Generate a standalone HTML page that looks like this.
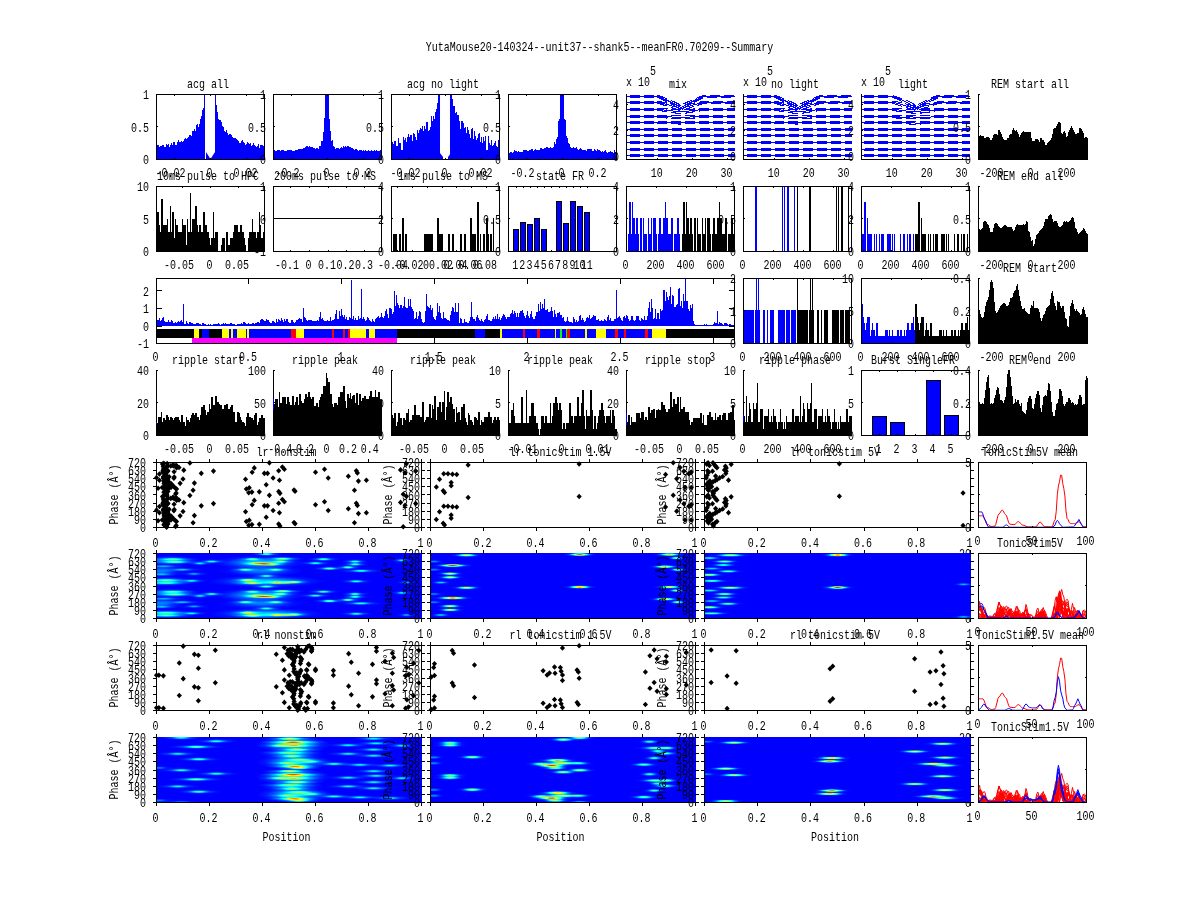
<!DOCTYPE html>
<html><head><meta charset="utf-8"><title>Summary</title>
<style>
html,body{margin:0;padding:0;background:#fff;}
body{width:1200px;height:900px;overflow:hidden;}
svg{display:block;will-change:transform;}
text{font-family:"Liberation Mono",monospace;font-size:10px;fill:#000;}
</style></head><body>
<svg width="1200" height="900" viewBox="0 0 1200 900">
<rect x="0" y="0" width="1200" height="900" fill="#fff"/>
<defs>
<radialGradient id="gb"><stop offset="0" stop-color="#fff" stop-opacity="1"/><stop offset=".25" stop-color="#fff" stop-opacity=".8"/>
<stop offset=".5" stop-color="#fff" stop-opacity=".4"/><stop offset=".75" stop-color="#fff" stop-opacity=".11"/><stop offset="1" stop-color="#fff" stop-opacity="0"/></radialGradient>
<filter id="jet" x="0" y="0" width="1" height="1" color-interpolation-filters="sRGB"><feComponentTransfer>
<feFuncR type="table" tableValues="0 0 0 .5 1 1 1 .5"/><feFuncG type="table" tableValues="0 .5 1 1 1 .5 0 0"/><feFuncB type="table" tableValues="1 1 1 .5 0 0 0 0"/>
</feComponentTransfer></filter>
</defs>
<clipPath id="c1"><rect x="156" y="553" width="266" height="66"/></clipPath>
<clipPath id="c2"><rect x="430" y="553" width="266" height="66"/></clipPath>
<clipPath id="c3"><rect x="704" y="553" width="267" height="66"/></clipPath>
<clipPath id="c4"><rect x="156" y="737" width="266" height="66"/></clipPath>
<clipPath id="c5"><rect x="430" y="737" width="266" height="66"/></clipPath>
<clipPath id="c6"><rect x="704" y="737" width="267" height="66"/></clipPath>
<clipPath id="lc5"><rect x="900" y="541" width="80" height="12"/><rect x="900" y="619" width="80" height="12"/><rect x="971" y="543" width="9" height="90"/></clipPath>
<clipPath id="lc7"><rect x="900" y="725" width="80" height="12"/><rect x="900" y="803" width="80" height="12"/><rect x="971" y="727" width="9" height="90"/></clipPath>
<text transform="translate(599.5 50.5) scale(1 1.2)" text-anchor="middle">YutaMouse20-140324--unit37--shank5--meanFR0.70209--Summary</text>
<path d="M156 159L156 147.94L157 147.94L157 145.1L158 145.1L158 145.31L159 145.31L159 147.17L160 147.17L160 146.12L161 146.12L161 146.17L162 146.17L162 145.24L163 145.24L163 144.56L164 144.56L164 147.14L165 147.14L165 147.24L166 147.24L166 143.86L167 143.86L167 145.27L168 145.27L168 143.74L169 143.74L169 146.59L170 146.59L170 144.57L171 144.57L171 143.19L172 143.19L172 144.95L173 144.95L173 141.71L174 141.71L174 141.57L175 141.57L175 144.9L176 144.9L176 144.59L177 144.59L177 142.03L178 142.03L178 139.91L179 139.91L179 141.91L180 141.91L180 142.18L181 142.18L181 140.8L182 140.8L182 142.06L183 142.06L183 140.65L184 140.65L184 139.08L185 139.08L185 138.18L186 138.18L186 138.75L187 138.75L187 138.06L188 138.06L188 137.37L189 137.37L189 135.37L190 135.37L190 135.35L191 135.35L191 135.82L192 135.82L192 130.56L193 130.56L193 130.95L194 130.95L194 129.31L195 129.31L195 130.61L196 130.61L196 124.66L197 124.66L197 123.9L198 123.9L198 126.68L199 126.68L199 123.56L200 123.56L200 118.85L201 118.85L201 116.02L202 116.02L202 110.42L203 110.42L203 108.25L204 108.25L204 94L205 94L205 159L206 159L206 159L207 159L207 159L208 159L208 159L209 159L209 159L210 159L210 159L211 159L211 159L212 159L212 159L213 159L213 159L214 159L214 159L215 159L215 94L216 94L216 105.1L217 105.1L217 112.32L218 112.32L218 118.78L219 118.78L219 119.72L220 119.72L220 120.13L221 120.13L221 122.29L222 122.29L222 125.99L223 125.99L223 126.98L224 126.98L224 131.46L225 131.46L225 131.51L226 131.51L226 129.66L227 129.66L227 132.79L228 132.79L228 135.03L229 135.03L229 134.04L230 134.04L230 134.16L231 134.16L231 135.14L232 135.14L232 137.37L233 137.37L233 137.78L234 137.78L234 138.12L235 138.12L235 137.51L236 137.51L236 139.29L237 139.29L237 140.42L238 140.42L238 140.5L239 140.5L239 143.01L240 143.01L240 143.38L241 143.38L241 140.93L242 140.93L242 140.14L243 140.14L243 142.18L244 142.18L244 143.37L245 143.37L245 144.62L246 144.62L246 143.54L247 143.54L247 141.85L248 141.85L248 142.99L249 142.99L249 144.19L250 144.19L250 143.12L251 143.12L251 145.88L252 145.88L252 144.95L253 144.95L253 143.39L254 143.39L254 145.06L255 145.06L255 145.7L256 145.7L256 146.6L257 146.6L257 145.65L258 145.65L258 144.19L259 144.19L259 148.02L260 148.02L260 145.12L261 145.12L261 145.09L262 145.09L262 144.95L263 144.95L263 145.61L264 145.61L264 159Z" fill="#0000ff" stroke="none" stroke-width="1" shape-rendering="crispEdges"/>
<path d="M206 152 L210.5 159 L206 159Z" fill="#0000ff" stroke="none" stroke-width="1"/>
<path d="M215 152 L210.5 159 L215 159Z" fill="#0000ff" stroke="none" stroke-width="1"/>
<rect x="156" y="94" width="1" height="66" fill="#000"/>
<rect x="156" y="159" width="109" height="1" fill="#000"/>
<rect x="156" y="94" width="109" height="1" fill="#000"/>
<rect x="264" y="94" width="1" height="66" fill="#000"/>
<rect x="174" y="158" width="1" height="2" fill="#000"/>
<rect x="174" y="94" width="1" height="2" fill="#000"/>
<rect x="210" y="158" width="1" height="2" fill="#000"/>
<rect x="210" y="94" width="1" height="2" fill="#000"/>
<rect x="246" y="158" width="1" height="2" fill="#000"/>
<rect x="246" y="94" width="1" height="2" fill="#000"/>
<rect x="156" y="94" width="2" height="1" fill="#000"/>
<rect x="263" y="94" width="2" height="1" fill="#000"/>
<rect x="156" y="126" width="2" height="1" fill="#000"/>
<rect x="263" y="126" width="2" height="1" fill="#000"/>
<rect x="156" y="159" width="2" height="1" fill="#000"/>
<rect x="263" y="159" width="2" height="1" fill="#000"/>
<text transform="translate(208 88) scale(1 1.2)" text-anchor="middle">acg all</text>
<text transform="translate(149 99) scale(1 1.2)" text-anchor="end">1</text>
<text transform="translate(149 131.5) scale(1 1.2)" text-anchor="end">0.5</text>
<text transform="translate(149 164) scale(1 1.2)" text-anchor="end">0</text>
<text transform="translate(170.5 177) scale(1 1.2)" text-anchor="middle">-0.02</text>
<text transform="translate(209.5 177) scale(1 1.2)" text-anchor="middle">0</text>
<text transform="translate(245.5 177) scale(1 1.2)" text-anchor="middle">0.02</text>
<path d="M273 159L273 149.96L274 149.96L274 149.96L275 149.96L275 151.34L276 151.34L276 151.28L277 151.28L277 150.1L278 150.1L278 150.24L279 150.24L279 150.33L280 150.33L280 150.88L281 150.88L281 150.4L282 150.4L282 150.39L283 150.39L283 150.41L284 150.41L284 151.05L285 151.05L285 150.61L286 150.61L286 150.65L287 150.65L287 150.11L288 150.11L288 149.66L289 149.66L289 149.71L290 149.71L290 150.31L291 150.31L291 150.43L292 150.43L292 150.66L293 150.66L293 150.96L294 150.96L294 150.89L295 150.89L295 150.09L296 150.09L296 150.17L297 150.17L297 149.86L298 149.86L298 148.8L299 148.8L299 149.05L300 149.05L300 148.62L301 148.62L301 148.7L302 148.7L302 148.59L303 148.59L303 147.7L304 147.7L304 147.61L305 147.61L305 146.74L306 146.74L306 145.79L307 145.79L307 146.24L308 146.24L308 147.08L309 147.08L309 146.16L310 146.16L310 146.57L311 146.57L311 146.99L312 146.99L312 147.04L313 147.04L313 147.57L314 147.57L314 147.8L315 147.8L315 148.68L316 148.68L316 147.85L317 147.85L317 147.96L318 147.96L318 149.23L319 149.23L319 146.25L320 146.25L320 146.31L321 146.31L321 140.86L322 140.86L322 140.75L323 140.75L323 131.72L324 131.72L324 118.04L325 118.04L325 94L326 94L326 94L327 94L327 94L328 94L328 94L329 94L329 118.7L330 118.7L330 131.18L331 131.18L331 141.03L332 141.03L332 140.2L333 140.2L333 146.03L334 146.03L334 146.71L335 146.71L335 148.6L336 148.6L336 148.02L337 148.02L337 148.25L338 148.25L338 148.47L339 148.47L339 148.68L340 148.68L340 148.26L341 148.26L341 147.37L342 147.37L342 147.87L343 147.87L343 146.4L344 146.4L344 147.13L345 147.13L345 145.95L346 145.95L346 146.81L347 146.81L347 145.86L348 145.86L348 146.43L349 146.43L349 147.04L350 147.04L350 147.4L351 147.4L351 147.61L352 147.61L352 148.15L353 148.15L353 149L354 149L354 149.55L355 149.55L355 149.4L356 149.4L356 149L357 149L357 149.69L358 149.69L358 150.7L359 150.7L359 149.65L360 149.65L360 149.89L361 149.89L361 149.66L362 149.66L362 150.83L363 150.83L363 150L364 150L364 151.1L365 151.1L365 150.2L366 150.2L366 150.81L367 150.81L367 150.91L368 150.91L368 149.91L369 149.91L369 151.13L370 151.13L370 150.5L371 150.5L371 150L372 150L372 150.97L373 150.97L373 151.03L374 151.03L374 150L375 150L375 150.73L376 150.73L376 150.29L377 150.29L377 151.37L378 151.37L378 150.86L379 150.86L379 151.17L380 151.17L380 150.4L381 150.4L381 159Z" fill="#0000ff" stroke="none" stroke-width="1" shape-rendering="crispEdges"/>
<rect x="273" y="94" width="1" height="66" fill="#000"/>
<rect x="273" y="159" width="109" height="1" fill="#000"/>
<rect x="273" y="94" width="109" height="1" fill="#000"/>
<rect x="381" y="94" width="1" height="66" fill="#000"/>
<rect x="291" y="158" width="1" height="2" fill="#000"/>
<rect x="291" y="94" width="1" height="2" fill="#000"/>
<rect x="327" y="158" width="1" height="2" fill="#000"/>
<rect x="327" y="94" width="1" height="2" fill="#000"/>
<rect x="363" y="158" width="1" height="2" fill="#000"/>
<rect x="363" y="94" width="1" height="2" fill="#000"/>
<rect x="273" y="94" width="2" height="1" fill="#000"/>
<rect x="380" y="94" width="2" height="1" fill="#000"/>
<rect x="273" y="126" width="2" height="1" fill="#000"/>
<rect x="380" y="126" width="2" height="1" fill="#000"/>
<rect x="273" y="159" width="2" height="1" fill="#000"/>
<rect x="380" y="159" width="2" height="1" fill="#000"/>
<text transform="translate(266 99) scale(1 1.2)" text-anchor="end">1</text>
<text transform="translate(266 131.5) scale(1 1.2)" text-anchor="end">0.5</text>
<text transform="translate(266 164) scale(1 1.2)" text-anchor="end">0</text>
<text transform="translate(287.5 177) scale(1 1.2)" text-anchor="middle">-0.2</text>
<text transform="translate(326.5 177) scale(1 1.2)" text-anchor="middle">0</text>
<text transform="translate(362.5 177) scale(1 1.2)" text-anchor="middle">0.2</text>
<path d="M391 159L391 145.53L392 145.53L392 142.49L393 142.49L393 143.88L394 143.88L394 141.45L395 141.45L395 140.99L396 140.99L396 146.04L397 146.04L397 146.3L398 146.3L398 138.14L399 138.14L399 143.42L400 143.42L400 143.38L401 143.38L401 149.9L402 149.9L402 149.9L403 149.9L403 136.5L404 136.5L404 139.73L405 139.73L405 137.74L406 137.74L406 142.33L407 142.33L407 137.01L408 137.01L408 134.19L409 134.19L409 137.35L410 137.35L410 134.63L411 134.63L411 134.9L412 134.9L412 140.94L413 140.94L413 133L414 133L414 134.31L415 134.31L415 136.99L416 136.99L416 139.51L417 139.51L417 129.6L418 129.6L418 133.47L419 133.47L419 130.05L420 130.05L420 127.54L421 127.54L421 128.79L422 128.79L422 125.62L423 125.62L423 131.23L424 131.23L424 125.54L425 125.54L425 129.15L426 129.15L426 122.14L427 122.14L427 121.9L428 121.9L428 131.04L429 131.04L429 129.56L430 129.56L430 127.35L431 127.35L431 115.67L432 115.67L432 121.32L433 121.32L433 116.44L434 116.44L434 118.63L435 118.63L435 111.9L436 111.9L436 109.09L437 109.09L437 103.13L438 103.13L438 94L439 94L439 94L440 94L440 159L441 159L441 159L442 159L442 159L443 159L443 159L444 159L444 159L445 159L445 159L446 159L446 159L447 159L447 159L448 159L448 159L449 159L449 159L450 159L450 94L451 94L451 94L452 94L452 98.77L453 98.77L453 105.7L454 105.7L454 105.52L455 105.52L455 112.82L456 112.82L456 112.01L457 112.01L457 115.34L458 115.34L458 115.31L459 115.31L459 121.2L460 121.2L460 129.2L461 129.2L461 121.1L462 121.1L462 120.8L463 120.8L463 122.53L464 122.53L464 127.6L465 127.6L465 126.61L466 126.61L466 133.46L467 133.46L467 126.69L468 126.69L468 130.45L469 130.45L469 134.47L470 134.47L470 137.61L471 137.61L471 129.12L472 129.12L472 128.2L473 128.2L473 138.87L474 138.87L474 131.48L475 131.48L475 136.29L476 136.29L476 139.58L477 139.58L477 138.48L478 138.48L478 133.87L479 133.87L479 133.24L480 133.24L480 142.34L481 142.34L481 136.81L482 136.81L482 143.06L483 143.06L483 136.55L484 136.55L484 140.85L485 140.85L485 135.68L486 135.68L486 149.9L487 149.9L487 149.9L488 149.9L488 135.61L489 135.61L489 142.65L490 142.65L490 145.18L491 145.18L491 140.42L492 140.42L492 146.12L493 146.12L493 144.79L494 144.79L494 143.04L495 143.04L495 141.39L496 141.39L496 145.87L497 145.87L497 147.13L498 147.13L498 139.73L499 139.73L499 159Z" fill="#0000ff" stroke="none" stroke-width="1" shape-rendering="crispEdges"/>
<path d="M440 153 L443 157 L443 159 L440 159Z" fill="#0000ff" stroke="none" stroke-width="1"/>
<path d="M451 153 L448 157 L448 159 L451 159Z" fill="#0000ff" stroke="none" stroke-width="1"/>
<rect x="391" y="94" width="1" height="66" fill="#000"/>
<rect x="391" y="159" width="109" height="1" fill="#000"/>
<rect x="391" y="94" width="109" height="1" fill="#000"/>
<rect x="499" y="94" width="1" height="66" fill="#000"/>
<rect x="409" y="158" width="1" height="2" fill="#000"/>
<rect x="409" y="94" width="1" height="2" fill="#000"/>
<rect x="445" y="158" width="1" height="2" fill="#000"/>
<rect x="445" y="94" width="1" height="2" fill="#000"/>
<rect x="481" y="158" width="1" height="2" fill="#000"/>
<rect x="481" y="94" width="1" height="2" fill="#000"/>
<rect x="391" y="94" width="2" height="1" fill="#000"/>
<rect x="498" y="94" width="2" height="1" fill="#000"/>
<rect x="391" y="126" width="2" height="1" fill="#000"/>
<rect x="498" y="126" width="2" height="1" fill="#000"/>
<rect x="391" y="159" width="2" height="1" fill="#000"/>
<rect x="498" y="159" width="2" height="1" fill="#000"/>
<text transform="translate(443 88) scale(1 1.2)" text-anchor="middle">acg no light</text>
<text transform="translate(384 99) scale(1 1.2)" text-anchor="end">1</text>
<text transform="translate(384 131.5) scale(1 1.2)" text-anchor="end">0.5</text>
<text transform="translate(384 164) scale(1 1.2)" text-anchor="end">0</text>
<text transform="translate(405.5 177) scale(1 1.2)" text-anchor="middle">-0.02</text>
<text transform="translate(444.5 177) scale(1 1.2)" text-anchor="middle">0</text>
<text transform="translate(480.5 177) scale(1 1.2)" text-anchor="middle">0.02</text>
<path d="M508 159L508 152.27L509 152.27L509 152.58L510 152.58L510 151.78L511 151.78L511 152.36L512 152.36L512 152.55L513 152.55L513 151.63L514 151.63L514 150.25L515 150.25L515 150.5L516 150.5L516 150.55L517 150.55L517 151.91L518 151.91L518 151.04L519 151.04L519 151.66L520 151.66L520 151.87L521 151.87L521 151.98L522 151.98L522 151.64L523 151.64L523 149.72L524 149.72L524 149.9L525 149.9L525 149.89L526 149.89L526 149.83L527 149.83L527 151.33L528 151.33L528 150.95L529 150.95L529 150.04L530 150.04L530 149.68L531 149.68L531 149.28L532 149.28L532 149.12L533 149.12L533 151.08L534 151.08L534 149.63L535 149.63L535 149.35L536 149.35L536 149.67L537 149.67L537 150.41L538 150.41L538 149.52L539 149.52L539 150.4L540 150.4L540 148.07L541 148.07L541 148.11L542 148.11L542 148.8L543 148.8L543 149.3L544 149.3L544 147.56L545 147.56L545 148.28L546 148.28L546 147.31L547 147.31L547 147.23L548 147.23L548 147.93L549 147.93L549 147.99L550 147.99L550 147.32L551 147.32L551 147.55L552 147.55L552 148.05L553 148.05L553 147.45L554 147.45L554 141.94L555 141.94L555 143.94L556 143.94L556 138.73L557 138.73L557 137.22L558 137.22L558 120.57L559 120.57L559 118.61L560 118.61L560 94L561 94L561 94L562 94L562 94L563 94L563 94L564 94L564 118.77L565 118.77L565 120.41L566 120.41L566 136.26L567 136.26L567 138.34L568 138.34L568 142.98L569 142.98L569 143.52L570 143.52L570 146.6L571 146.6L571 147.75L572 147.75L572 147.75L573 147.75L573 146.93L574 146.93L574 148.24L575 148.24L575 147.8L576 147.8L576 147.08L577 147.08L577 149.34L578 149.34L578 149.61L579 149.61L579 149.33L580 149.33L580 148.09L581 148.09L581 148.62L582 148.62L582 149.75L583 149.75L583 149.64L584 149.64L584 150.17L585 150.17L585 149.56L586 149.56L586 150.76L587 150.76L587 149.17L588 149.17L588 148.77L589 148.77L589 148.72L590 148.72L590 149.39L591 149.39L591 148.91L592 148.91L592 151.45L593 151.45L593 150.84L594 150.84L594 149.16L595 149.16L595 149.74L596 149.74L596 150.77L597 150.77L597 149.46L598 149.46L598 150.38L599 150.38L599 149.93L600 149.93L600 151.36L601 151.36L601 151.7L602 151.7L602 151.1L603 151.1L603 151.96L604 151.96L604 151.38L605 151.38L605 149.93L606 149.93L606 151.62L607 151.62L607 152.51L608 152.51L608 152.47L609 152.47L609 152.19L610 152.19L610 150.64L611 150.64L611 151.78L612 151.78L612 152.01L613 152.01L613 152.55L614 152.55L614 150.29L615 150.29L615 151.78L616 151.78L616 159Z" fill="#0000ff" stroke="none" stroke-width="1" shape-rendering="crispEdges"/>
<rect x="508" y="94" width="1" height="66" fill="#000"/>
<rect x="508" y="159" width="109" height="1" fill="#000"/>
<rect x="508" y="94" width="109" height="1" fill="#000"/>
<rect x="616" y="94" width="1" height="66" fill="#000"/>
<rect x="526" y="158" width="1" height="2" fill="#000"/>
<rect x="526" y="94" width="1" height="2" fill="#000"/>
<rect x="562" y="158" width="1" height="2" fill="#000"/>
<rect x="562" y="94" width="1" height="2" fill="#000"/>
<rect x="598" y="158" width="1" height="2" fill="#000"/>
<rect x="598" y="94" width="1" height="2" fill="#000"/>
<rect x="508" y="94" width="2" height="1" fill="#000"/>
<rect x="615" y="94" width="2" height="1" fill="#000"/>
<rect x="508" y="126" width="2" height="1" fill="#000"/>
<rect x="615" y="126" width="2" height="1" fill="#000"/>
<rect x="508" y="159" width="2" height="1" fill="#000"/>
<rect x="615" y="159" width="2" height="1" fill="#000"/>
<text transform="translate(501 99) scale(1 1.2)" text-anchor="end">1</text>
<text transform="translate(501 131.5) scale(1 1.2)" text-anchor="end">0.5</text>
<text transform="translate(501 164) scale(1 1.2)" text-anchor="end">0</text>
<text transform="translate(522.5 177) scale(1 1.2)" text-anchor="middle">-0.2</text>
<text transform="translate(561.5 177) scale(1 1.2)" text-anchor="middle">0</text>
<text transform="translate(597.5 177) scale(1 1.2)" text-anchor="middle">0.2</text>
<path d="M627 96.5 L629 96.5 L631 96.5 L633 96.5 L635 96.5 L637 96.5 L639 96.5 L641 96.5 L643 96.5 L645 96.5 L647 96.5 L649 96.5 L651 96.5 L653 96.5 L655 96.5 L657 96.5 L659 96.8 L661 97.56 L663 98.4 L665 99.3 L667 100.24 L669 101.21 L671 102.21 L673 103.23 L675 104.27 L677 105.33 L679 106.41 L681 107.5 L683 106.41 L685 105.33 L687 104.27 L689 103.23 L691 102.21 L693 101.21 L695 100.24 L697 99.3 L699 98.4 L701 97.56 L703 96.8 L705 96.5 L707 96.5 L709 96.5 L711 96.5 L713 96.5 L715 96.5 L717 96.5 L719 96.5 L721 96.5 L723 96.5 L725 96.5 L727 96.5 L729 96.5 L731 96.5 L733 96.5 L735 96.5" fill="none" stroke="#0000ff" stroke-width="1" shape-rendering="crispEdges"/>
<path d="M627 95.5 L629 95.5 L631 95.5 L633 95.5 L635 95.5 L637 95.5 L639 95.5 L641 95.5 L643 95.5 L645 95.5 L647 95.5 L649 95.5 L651 95.5 L653 95.5 L655 95.5 L657 95.5 L659 95.76 L661 96.42 L663 97.16 L665 97.94 L667 98.76 L669 99.61 L671 100.48 L673 101.37 L675 102.28 L677 103.21 L679 104.15 L681 105.1 L683 104.15 L685 103.21 L687 102.28 L689 101.37 L691 100.48 L693 99.61 L695 98.76 L697 97.94 L699 97.16 L701 96.42 L703 95.76 L705 95.5 L707 95.5 L709 95.5 L711 95.5 L713 95.5 L715 95.5 L717 95.5 L719 95.5 L721 95.5 L723 95.5 L725 95.5 L727 95.5 L729 95.5 L731 95.5 L733 95.5 L735 95.5" fill="none" stroke="#0000ff" stroke-width="1.15" shape-rendering="crispEdges" stroke-dasharray="10 4" stroke-dashoffset="11.5"/>
<path d="M627 97.5 L629 97.5 L631 97.5 L633 97.5 L635 97.5 L637 97.5 L639 97.5 L641 97.5 L643 97.5 L645 97.5 L647 97.5 L649 97.5 L651 97.5 L653 97.5 L655 97.5 L657 97.5 L659 97.84 L661 98.69 L663 99.64 L665 100.66 L667 101.72 L669 102.81 L671 103.93 L673 105.08 L675 106.26 L677 107.45 L679 108.67 L681 109.9 L683 108.67 L685 107.45 L687 106.26 L689 105.08 L691 103.93 L693 102.81 L695 101.72 L697 100.66 L699 99.64 L701 98.69 L703 97.84 L705 97.5 L707 97.5 L709 97.5 L711 97.5 L713 97.5 L715 97.5 L717 97.5 L719 97.5 L721 97.5 L723 97.5 L725 97.5 L727 97.5 L729 97.5 L731 97.5 L733 97.5 L735 97.5" fill="none" stroke="#0000ff" stroke-width="1.15" shape-rendering="crispEdges" stroke-dasharray="10 4" stroke-dashoffset="11.5"/>
<path d="M627 102.5 L629 102.5 L631 102.5 L633 102.5 L635 102.5 L637 102.5 L639 102.5 L641 102.5 L643 102.5 L645 102.5 L647 102.5 L649 102.5 L651 102.5 L653 102.5 L655 102.5 L657 102.5 L659 102.66 L661 103.08 L663 103.54 L665 104.03 L667 104.54 L669 105.07 L671 105.61 L673 106.17 L675 106.74 L677 107.32 L679 107.9 L681 108.5 L683 107.9 L685 107.32 L687 106.74 L689 106.17 L691 105.61 L693 105.07 L695 104.54 L697 104.03 L699 103.54 L701 103.08 L703 102.66 L705 102.5 L707 102.5 L709 102.5 L711 102.5 L713 102.5 L715 102.5 L717 102.5 L719 102.5 L721 102.5 L723 102.5 L725 102.5 L727 102.5 L729 102.5 L731 102.5 L733 102.5 L735 102.5" fill="none" stroke="#0000ff" stroke-width="1" shape-rendering="crispEdges"/>
<path d="M627 101.5 L629 101.5 L631 101.5 L633 101.5 L635 101.5 L637 101.5 L639 101.5 L641 101.5 L643 101.5 L645 101.5 L647 101.5 L649 101.5 L651 101.5 L653 101.5 L655 101.5 L657 101.5 L659 101.62 L661 101.93 L663 102.28 L665 102.65 L667 103.03 L669 103.43 L671 103.83 L673 104.25 L675 104.68 L677 105.11 L679 105.55 L681 106 L683 105.55 L685 105.11 L687 104.68 L689 104.25 L691 103.83 L693 103.43 L695 103.03 L697 102.65 L699 102.28 L701 101.93 L703 101.62 L705 101.5 L707 101.5 L709 101.5 L711 101.5 L713 101.5 L715 101.5 L717 101.5 L719 101.5 L721 101.5 L723 101.5 L725 101.5 L727 101.5 L729 101.5 L731 101.5 L733 101.5 L735 101.5" fill="none" stroke="#0000ff" stroke-width="1.15" shape-rendering="crispEdges" stroke-dasharray="10 4" stroke-dashoffset="11.5"/>
<path d="M627 103.5 L629 103.5 L631 103.5 L633 103.5 L635 103.5 L637 103.5 L639 103.5 L641 103.5 L643 103.5 L645 103.5 L647 103.5 L649 103.5 L651 103.5 L653 103.5 L655 103.5 L657 103.5 L659 103.7 L661 104.22 L663 104.8 L665 105.41 L667 106.05 L669 106.71 L671 107.39 L673 108.09 L675 108.8 L677 109.52 L679 110.26 L681 111 L683 110.26 L685 109.52 L687 108.8 L689 108.09 L691 107.39 L693 106.71 L695 106.05 L697 105.41 L699 104.8 L701 104.22 L703 103.7 L705 103.5 L707 103.5 L709 103.5 L711 103.5 L713 103.5 L715 103.5 L717 103.5 L719 103.5 L721 103.5 L723 103.5 L725 103.5 L727 103.5 L729 103.5 L731 103.5 L733 103.5 L735 103.5" fill="none" stroke="#0000ff" stroke-width="1.15" shape-rendering="crispEdges" stroke-dasharray="10 4" stroke-dashoffset="11.5"/>
<path d="M627 109.5 L629 109.5 L631 109.5 L633 109.5 L635 109.5 L637 109.5 L639 109.5 L641 109.5 L643 109.5 L645 109.5 L647 109.5 L649 109.5 L651 109.5 L653 109.5 L655 109.5 L657 109.5 L659 109.57 L661 109.73 L663 109.91 L665 110.11 L667 110.32 L669 110.53 L671 110.75 L673 110.97 L675 111.2 L677 111.43 L679 111.66 L681 111.9 L683 111.66 L685 111.43 L687 111.2 L689 110.97 L691 110.75 L693 110.53 L695 110.32 L697 110.11 L699 109.91 L701 109.73 L703 109.57 L705 109.5 L707 109.5 L709 109.5 L711 109.5 L713 109.5 L715 109.5 L717 109.5 L719 109.5 L721 109.5 L723 109.5 L725 109.5 L727 109.5 L729 109.5 L731 109.5 L733 109.5 L735 109.5" fill="none" stroke="#0000ff" stroke-width="1" shape-rendering="crispEdges"/>
<path d="M627 108.5 L629 108.5 L631 108.5 L633 108.5 L635 108.5 L637 108.5 L639 108.5 L641 108.5 L643 108.5 L645 108.5 L647 108.5 L649 108.5 L651 108.5 L653 108.5 L655 108.5 L657 108.5 L659 108.54 L661 108.63 L663 108.74 L665 108.86 L667 108.98 L669 109.1 L671 109.23 L673 109.36 L675 109.49 L677 109.62 L679 109.76 L681 109.9 L683 109.76 L685 109.62 L687 109.49 L689 109.36 L691 109.23 L693 109.1 L695 108.98 L697 108.86 L699 108.74 L701 108.63 L703 108.54 L705 108.5 L707 108.5 L709 108.5 L711 108.5 L713 108.5 L715 108.5 L717 108.5 L719 108.5 L721 108.5 L723 108.5 L725 108.5 L727 108.5 L729 108.5 L731 108.5 L733 108.5 L735 108.5" fill="none" stroke="#0000ff" stroke-width="1.15" shape-rendering="crispEdges" stroke-dasharray="10 4" stroke-dashoffset="11.5"/>
<path d="M627 110.5 L629 110.5 L631 110.5 L633 110.5 L635 110.5 L637 110.5 L639 110.5 L641 110.5 L643 110.5 L645 110.5 L647 110.5 L649 110.5 L651 110.5 L653 110.5 L655 110.5 L657 110.5 L659 110.59 L661 110.83 L663 111.09 L665 111.37 L667 111.66 L669 111.96 L671 112.26 L673 112.58 L675 112.9 L677 113.23 L679 113.56 L681 113.9 L683 113.56 L685 113.23 L687 112.9 L689 112.58 L691 112.26 L693 111.96 L695 111.66 L697 111.37 L699 111.09 L701 110.83 L703 110.59 L705 110.5 L707 110.5 L709 110.5 L711 110.5 L713 110.5 L715 110.5 L717 110.5 L719 110.5 L721 110.5 L723 110.5 L725 110.5 L727 110.5 L729 110.5 L731 110.5 L733 110.5 L735 110.5" fill="none" stroke="#0000ff" stroke-width="1.15" shape-rendering="crispEdges" stroke-dasharray="10 4" stroke-dashoffset="11.5"/>
<path d="M627 116.5 L629 116.5 L631 116.5 L633 116.5 L635 116.5 L637 116.5 L639 116.5 L641 116.5 L643 116.5 L645 116.5 L647 116.5 L649 116.5 L651 116.5 L653 116.5 L655 116.5 L657 116.5 L659 116.52 L661 116.59 L663 116.66 L665 116.73 L667 116.81 L669 116.89 L671 116.97 L673 117.05 L675 117.14 L677 117.22 L679 117.31 L681 117.4 L683 117.31 L685 117.22 L687 117.14 L689 117.05 L691 116.97 L693 116.89 L695 116.81 L697 116.73 L699 116.66 L701 116.59 L703 116.52 L705 116.5 L707 116.5 L709 116.5 L711 116.5 L713 116.5 L715 116.5 L717 116.5 L719 116.5 L721 116.5 L723 116.5 L725 116.5 L727 116.5 L729 116.5 L731 116.5 L733 116.5 L735 116.5" fill="none" stroke="#0000ff" stroke-width="1" shape-rendering="crispEdges"/>
<path d="M627 115.5 L629 115.5 L631 115.5 L633 115.5 L635 115.5 L637 115.5 L639 115.5 L641 115.5 L643 115.5 L645 115.5 L647 115.5 L649 115.5 L651 115.5 L653 115.5 L655 115.5 L657 115.5 L659 115.51 L661 115.54 L663 115.57 L665 115.6 L667 115.64 L669 115.67 L671 115.71 L673 115.74 L675 115.78 L677 115.82 L679 115.86 L681 115.9 L683 115.86 L685 115.82 L687 115.78 L689 115.74 L691 115.71 L693 115.67 L695 115.64 L697 115.6 L699 115.57 L701 115.54 L703 115.51 L705 115.5 L707 115.5 L709 115.5 L711 115.5 L713 115.5 L715 115.5 L717 115.5 L719 115.5 L721 115.5 L723 115.5 L725 115.5 L727 115.5 L729 115.5 L731 115.5 L733 115.5 L735 115.5" fill="none" stroke="#0000ff" stroke-width="1.15" shape-rendering="crispEdges" stroke-dasharray="10 4" stroke-dashoffset="11.5"/>
<path d="M627 117.5 L629 117.5 L631 117.5 L633 117.5 L635 117.5 L637 117.5 L639 117.5 L641 117.5 L643 117.5 L645 117.5 L647 117.5 L649 117.5 L651 117.5 L653 117.5 L655 117.5 L657 117.5 L659 117.54 L661 117.63 L663 117.74 L665 117.86 L667 117.98 L669 118.1 L671 118.23 L673 118.36 L675 118.49 L677 118.62 L679 118.76 L681 118.9 L683 118.76 L685 118.62 L687 118.49 L689 118.36 L691 118.23 L693 118.1 L695 117.98 L697 117.86 L699 117.74 L701 117.63 L703 117.54 L705 117.5 L707 117.5 L709 117.5 L711 117.5 L713 117.5 L715 117.5 L717 117.5 L719 117.5 L721 117.5 L723 117.5 L725 117.5 L727 117.5 L729 117.5 L731 117.5 L733 117.5 L735 117.5" fill="none" stroke="#0000ff" stroke-width="1.15" shape-rendering="crispEdges" stroke-dasharray="10 4" stroke-dashoffset="11.5"/>
<path d="M627 122.5 L629 122.5 L631 122.5 L633 122.5 L635 122.5 L637 122.5 L639 122.5 L641 122.5 L643 122.5 L645 122.5 L647 122.5 L649 122.5 L651 122.5 L653 122.5 L655 122.5 L657 122.5 L659 122.51 L661 122.53 L663 122.55 L665 122.58 L667 122.6 L669 122.63 L671 122.66 L673 122.68 L675 122.71 L677 122.74 L679 122.77 L681 122.8 L683 122.77 L685 122.74 L687 122.71 L689 122.68 L691 122.66 L693 122.63 L695 122.6 L697 122.58 L699 122.55 L701 122.53 L703 122.51 L705 122.5 L707 122.5 L709 122.5 L711 122.5 L713 122.5 L715 122.5 L717 122.5 L719 122.5 L721 122.5 L723 122.5 L725 122.5 L727 122.5 L729 122.5 L731 122.5 L733 122.5 L735 122.5" fill="none" stroke="#0000ff" stroke-width="1" shape-rendering="crispEdges"/>
<path d="M627 121.5 L629 121.5 L631 121.5 L633 121.5 L635 121.5 L637 121.5 L639 121.5 L641 121.5 L643 121.5 L645 121.5 L647 121.5 L649 121.5 L651 121.5 L653 121.5 L655 121.5 L657 121.5 L659 121.5 L661 121.51 L663 121.52 L665 121.53 L667 121.53 L669 121.54 L671 121.55 L673 121.56 L675 121.57 L677 121.58 L679 121.59 L681 121.6 L683 121.59 L685 121.58 L687 121.57 L689 121.56 L691 121.55 L693 121.54 L695 121.53 L697 121.53 L699 121.52 L701 121.51 L703 121.5 L705 121.5 L707 121.5 L709 121.5 L711 121.5 L713 121.5 L715 121.5 L717 121.5 L719 121.5 L721 121.5 L723 121.5 L725 121.5 L727 121.5 L729 121.5 L731 121.5 L733 121.5 L735 121.5" fill="none" stroke="#0000ff" stroke-width="1.15" shape-rendering="crispEdges" stroke-dasharray="10 4" stroke-dashoffset="11.5"/>
<path d="M627 123.5 L629 123.5 L631 123.5 L633 123.5 L635 123.5 L637 123.5 L639 123.5 L641 123.5 L643 123.5 L645 123.5 L647 123.5 L649 123.5 L651 123.5 L653 123.5 L655 123.5 L657 123.5 L659 123.51 L661 123.55 L663 123.59 L665 123.63 L667 123.67 L669 123.71 L671 123.76 L673 123.81 L675 123.85 L677 123.9 L679 123.95 L681 124 L683 123.95 L685 123.9 L687 123.85 L689 123.81 L691 123.76 L693 123.71 L695 123.67 L697 123.63 L699 123.59 L701 123.55 L703 123.51 L705 123.5 L707 123.5 L709 123.5 L711 123.5 L713 123.5 L715 123.5 L717 123.5 L719 123.5 L721 123.5 L723 123.5 L725 123.5 L727 123.5 L729 123.5 L731 123.5 L733 123.5 L735 123.5" fill="none" stroke="#0000ff" stroke-width="1.15" shape-rendering="crispEdges" stroke-dasharray="10 4" stroke-dashoffset="11.5"/>
<path d="M627 129.5 L629 129.5 L631 129.5 L633 129.5 L635 129.5 L637 129.5 L639 129.5 L641 129.5 L643 129.5 L645 129.5 L647 129.5 L649 129.5 L651 129.5 L653 129.5 L655 129.5 L657 129.5 L659 129.5 L661 129.5 L663 129.5 L665 129.5 L667 129.5 L669 129.5 L671 129.5 L673 129.5 L675 129.5 L677 129.5 L679 129.5 L681 129.5 L683 129.5 L685 129.5 L687 129.5 L689 129.5 L691 129.5 L693 129.5 L695 129.5 L697 129.5 L699 129.5 L701 129.5 L703 129.5 L705 129.5 L707 129.5 L709 129.5 L711 129.5 L713 129.5 L715 129.5 L717 129.5 L719 129.5 L721 129.5 L723 129.5 L725 129.5 L727 129.5 L729 129.5 L731 129.5 L733 129.5 L735 129.5" fill="none" stroke="#0000ff" stroke-width="1" shape-rendering="crispEdges"/>
<path d="M627 128.5 L629 128.5 L631 128.5 L633 128.5 L635 128.5 L637 128.5 L639 128.5 L641 128.5 L643 128.5 L645 128.5 L647 128.5 L649 128.5 L651 128.5 L653 128.5 L655 128.5 L657 128.5 L659 128.5 L661 128.5 L663 128.5 L665 128.5 L667 128.5 L669 128.5 L671 128.5 L673 128.5 L675 128.5 L677 128.5 L679 128.5 L681 128.5 L683 128.5 L685 128.5 L687 128.5 L689 128.5 L691 128.5 L693 128.5 L695 128.5 L697 128.5 L699 128.5 L701 128.5 L703 128.5 L705 128.5 L707 128.5 L709 128.5 L711 128.5 L713 128.5 L715 128.5 L717 128.5 L719 128.5 L721 128.5 L723 128.5 L725 128.5 L727 128.5 L729 128.5 L731 128.5 L733 128.5 L735 128.5" fill="none" stroke="#0000ff" stroke-width="1.15" shape-rendering="crispEdges" stroke-dasharray="10 4" stroke-dashoffset="11.5"/>
<path d="M627 130.5 L629 130.5 L631 130.5 L633 130.5 L635 130.5 L637 130.5 L639 130.5 L641 130.5 L643 130.5 L645 130.5 L647 130.5 L649 130.5 L651 130.5 L653 130.5 L655 130.5 L657 130.5 L659 130.5 L661 130.5 L663 130.5 L665 130.5 L667 130.5 L669 130.5 L671 130.5 L673 130.5 L675 130.5 L677 130.5 L679 130.5 L681 130.5 L683 130.5 L685 130.5 L687 130.5 L689 130.5 L691 130.5 L693 130.5 L695 130.5 L697 130.5 L699 130.5 L701 130.5 L703 130.5 L705 130.5 L707 130.5 L709 130.5 L711 130.5 L713 130.5 L715 130.5 L717 130.5 L719 130.5 L721 130.5 L723 130.5 L725 130.5 L727 130.5 L729 130.5 L731 130.5 L733 130.5 L735 130.5" fill="none" stroke="#0000ff" stroke-width="1.15" shape-rendering="crispEdges" stroke-dasharray="10 4" stroke-dashoffset="11.5"/>
<path d="M627 135.5 L629 135.5 L631 135.5 L633 135.5 L635 135.5 L637 135.5 L639 135.5 L641 135.5 L643 135.5 L645 135.5 L647 135.5 L649 135.5 L651 135.5 L653 135.5 L655 135.5 L657 135.5 L659 135.5 L661 135.5 L663 135.5 L665 135.5 L667 135.5 L669 135.5 L671 135.5 L673 135.5 L675 135.5 L677 135.5 L679 135.5 L681 135.5 L683 135.5 L685 135.5 L687 135.5 L689 135.5 L691 135.5 L693 135.5 L695 135.5 L697 135.5 L699 135.5 L701 135.5 L703 135.5 L705 135.5 L707 135.5 L709 135.5 L711 135.5 L713 135.5 L715 135.5 L717 135.5 L719 135.5 L721 135.5 L723 135.5 L725 135.5 L727 135.5 L729 135.5 L731 135.5 L733 135.5 L735 135.5" fill="none" stroke="#0000ff" stroke-width="1" shape-rendering="crispEdges"/>
<path d="M627 134.5 L629 134.5 L631 134.5 L633 134.5 L635 134.5 L637 134.5 L639 134.5 L641 134.5 L643 134.5 L645 134.5 L647 134.5 L649 134.5 L651 134.5 L653 134.5 L655 134.5 L657 134.5 L659 134.5 L661 134.5 L663 134.5 L665 134.5 L667 134.5 L669 134.5 L671 134.5 L673 134.5 L675 134.5 L677 134.5 L679 134.5 L681 134.5 L683 134.5 L685 134.5 L687 134.5 L689 134.5 L691 134.5 L693 134.5 L695 134.5 L697 134.5 L699 134.5 L701 134.5 L703 134.5 L705 134.5 L707 134.5 L709 134.5 L711 134.5 L713 134.5 L715 134.5 L717 134.5 L719 134.5 L721 134.5 L723 134.5 L725 134.5 L727 134.5 L729 134.5 L731 134.5 L733 134.5 L735 134.5" fill="none" stroke="#0000ff" stroke-width="1.15" shape-rendering="crispEdges" stroke-dasharray="10 4" stroke-dashoffset="11.5"/>
<path d="M627 136.5 L629 136.5 L631 136.5 L633 136.5 L635 136.5 L637 136.5 L639 136.5 L641 136.5 L643 136.5 L645 136.5 L647 136.5 L649 136.5 L651 136.5 L653 136.5 L655 136.5 L657 136.5 L659 136.5 L661 136.5 L663 136.5 L665 136.5 L667 136.5 L669 136.5 L671 136.5 L673 136.5 L675 136.5 L677 136.5 L679 136.5 L681 136.5 L683 136.5 L685 136.5 L687 136.5 L689 136.5 L691 136.5 L693 136.5 L695 136.5 L697 136.5 L699 136.5 L701 136.5 L703 136.5 L705 136.5 L707 136.5 L709 136.5 L711 136.5 L713 136.5 L715 136.5 L717 136.5 L719 136.5 L721 136.5 L723 136.5 L725 136.5 L727 136.5 L729 136.5 L731 136.5 L733 136.5 L735 136.5" fill="none" stroke="#0000ff" stroke-width="1.15" shape-rendering="crispEdges" stroke-dasharray="10 4" stroke-dashoffset="11.5"/>
<path d="M627 142.5 L629 142.5 L631 142.5 L633 142.5 L635 142.5 L637 142.5 L639 142.5 L641 142.5 L643 142.5 L645 142.5 L647 142.5 L649 142.5 L651 142.5 L653 142.5 L655 142.5 L657 142.5 L659 142.5 L661 142.5 L663 142.5 L665 142.5 L667 142.5 L669 142.5 L671 142.5 L673 142.5 L675 142.5 L677 142.5 L679 142.5 L681 142.5 L683 142.5 L685 142.5 L687 142.5 L689 142.5 L691 142.5 L693 142.5 L695 142.5 L697 142.5 L699 142.5 L701 142.5 L703 142.5 L705 142.5 L707 142.5 L709 142.5 L711 142.5 L713 142.5 L715 142.5 L717 142.5 L719 142.5 L721 142.5 L723 142.5 L725 142.5 L727 142.5 L729 142.5 L731 142.5 L733 142.5 L735 142.5" fill="none" stroke="#0000ff" stroke-width="1" shape-rendering="crispEdges"/>
<path d="M627 141.5 L629 141.5 L631 141.5 L633 141.5 L635 141.5 L637 141.5 L639 141.5 L641 141.5 L643 141.5 L645 141.5 L647 141.5 L649 141.5 L651 141.5 L653 141.5 L655 141.5 L657 141.5 L659 141.5 L661 141.5 L663 141.5 L665 141.5 L667 141.5 L669 141.5 L671 141.5 L673 141.5 L675 141.5 L677 141.5 L679 141.5 L681 141.5 L683 141.5 L685 141.5 L687 141.5 L689 141.5 L691 141.5 L693 141.5 L695 141.5 L697 141.5 L699 141.5 L701 141.5 L703 141.5 L705 141.5 L707 141.5 L709 141.5 L711 141.5 L713 141.5 L715 141.5 L717 141.5 L719 141.5 L721 141.5 L723 141.5 L725 141.5 L727 141.5 L729 141.5 L731 141.5 L733 141.5 L735 141.5" fill="none" stroke="#0000ff" stroke-width="1.15" shape-rendering="crispEdges" stroke-dasharray="10 4" stroke-dashoffset="11.5"/>
<path d="M627 143.5 L629 143.5 L631 143.5 L633 143.5 L635 143.5 L637 143.5 L639 143.5 L641 143.5 L643 143.5 L645 143.5 L647 143.5 L649 143.5 L651 143.5 L653 143.5 L655 143.5 L657 143.5 L659 143.5 L661 143.5 L663 143.5 L665 143.5 L667 143.5 L669 143.5 L671 143.5 L673 143.5 L675 143.5 L677 143.5 L679 143.5 L681 143.5 L683 143.5 L685 143.5 L687 143.5 L689 143.5 L691 143.5 L693 143.5 L695 143.5 L697 143.5 L699 143.5 L701 143.5 L703 143.5 L705 143.5 L707 143.5 L709 143.5 L711 143.5 L713 143.5 L715 143.5 L717 143.5 L719 143.5 L721 143.5 L723 143.5 L725 143.5 L727 143.5 L729 143.5 L731 143.5 L733 143.5 L735 143.5" fill="none" stroke="#0000ff" stroke-width="1.15" shape-rendering="crispEdges" stroke-dasharray="10 4" stroke-dashoffset="11.5"/>
<path d="M627 149.5 L629 149.5 L631 149.5 L633 149.5 L635 149.5 L637 149.5 L639 149.5 L641 149.5 L643 149.5 L645 149.5 L647 149.5 L649 149.5 L651 149.5 L653 149.5 L655 149.5 L657 149.5 L659 149.5 L661 149.5 L663 149.5 L665 149.5 L667 149.5 L669 149.5 L671 149.5 L673 149.5 L675 149.5 L677 149.5 L679 149.5 L681 149.5 L683 149.5 L685 149.5 L687 149.5 L689 149.5 L691 149.5 L693 149.5 L695 149.5 L697 149.5 L699 149.5 L701 149.5 L703 149.5 L705 149.5 L707 149.5 L709 149.5 L711 149.5 L713 149.5 L715 149.5 L717 149.5 L719 149.5 L721 149.5 L723 149.5 L725 149.5 L727 149.5 L729 149.5 L731 149.5 L733 149.5 L735 149.5" fill="none" stroke="#0000ff" stroke-width="1" shape-rendering="crispEdges"/>
<path d="M627 148.5 L629 148.5 L631 148.5 L633 148.5 L635 148.5 L637 148.5 L639 148.5 L641 148.5 L643 148.5 L645 148.5 L647 148.5 L649 148.5 L651 148.5 L653 148.5 L655 148.5 L657 148.5 L659 148.5 L661 148.5 L663 148.5 L665 148.5 L667 148.5 L669 148.5 L671 148.5 L673 148.5 L675 148.5 L677 148.5 L679 148.5 L681 148.5 L683 148.5 L685 148.5 L687 148.5 L689 148.5 L691 148.5 L693 148.5 L695 148.5 L697 148.5 L699 148.5 L701 148.5 L703 148.5 L705 148.5 L707 148.5 L709 148.5 L711 148.5 L713 148.5 L715 148.5 L717 148.5 L719 148.5 L721 148.5 L723 148.5 L725 148.5 L727 148.5 L729 148.5 L731 148.5 L733 148.5 L735 148.5" fill="none" stroke="#0000ff" stroke-width="1.15" shape-rendering="crispEdges" stroke-dasharray="10 4" stroke-dashoffset="11.5"/>
<path d="M627 150.5 L629 150.5 L631 150.5 L633 150.5 L635 150.5 L637 150.5 L639 150.5 L641 150.5 L643 150.5 L645 150.5 L647 150.5 L649 150.5 L651 150.5 L653 150.5 L655 150.5 L657 150.5 L659 150.5 L661 150.5 L663 150.5 L665 150.5 L667 150.5 L669 150.5 L671 150.5 L673 150.5 L675 150.5 L677 150.5 L679 150.5 L681 150.5 L683 150.5 L685 150.5 L687 150.5 L689 150.5 L691 150.5 L693 150.5 L695 150.5 L697 150.5 L699 150.5 L701 150.5 L703 150.5 L705 150.5 L707 150.5 L709 150.5 L711 150.5 L713 150.5 L715 150.5 L717 150.5 L719 150.5 L721 150.5 L723 150.5 L725 150.5 L727 150.5 L729 150.5 L731 150.5 L733 150.5 L735 150.5" fill="none" stroke="#0000ff" stroke-width="1.15" shape-rendering="crispEdges" stroke-dasharray="10 4" stroke-dashoffset="11.5"/>
<path d="M627 155.5 L629 155.5 L631 155.5 L633 155.5 L635 155.5 L637 155.5 L639 155.5 L641 155.5 L643 155.5 L645 155.5 L647 155.5 L649 155.5 L651 155.5 L653 155.5 L655 155.5 L657 155.5 L659 155.5 L661 155.5 L663 155.5 L665 155.5 L667 155.5 L669 155.5 L671 155.5 L673 155.5 L675 155.5 L677 155.5 L679 155.5 L681 155.5 L683 155.5 L685 155.5 L687 155.5 L689 155.5 L691 155.5 L693 155.5 L695 155.5 L697 155.5 L699 155.5 L701 155.5 L703 155.5 L705 155.5 L707 155.5 L709 155.5 L711 155.5 L713 155.5 L715 155.5 L717 155.5 L719 155.5 L721 155.5 L723 155.5 L725 155.5 L727 155.5 L729 155.5 L731 155.5 L733 155.5 L735 155.5" fill="none" stroke="#0000ff" stroke-width="1" shape-rendering="crispEdges"/>
<path d="M627 154.5 L629 154.5 L631 154.5 L633 154.5 L635 154.5 L637 154.5 L639 154.5 L641 154.5 L643 154.5 L645 154.5 L647 154.5 L649 154.5 L651 154.5 L653 154.5 L655 154.5 L657 154.5 L659 154.5 L661 154.5 L663 154.5 L665 154.5 L667 154.5 L669 154.5 L671 154.5 L673 154.5 L675 154.5 L677 154.5 L679 154.5 L681 154.5 L683 154.5 L685 154.5 L687 154.5 L689 154.5 L691 154.5 L693 154.5 L695 154.5 L697 154.5 L699 154.5 L701 154.5 L703 154.5 L705 154.5 L707 154.5 L709 154.5 L711 154.5 L713 154.5 L715 154.5 L717 154.5 L719 154.5 L721 154.5 L723 154.5 L725 154.5 L727 154.5 L729 154.5 L731 154.5 L733 154.5 L735 154.5" fill="none" stroke="#0000ff" stroke-width="1.15" shape-rendering="crispEdges" stroke-dasharray="10 4" stroke-dashoffset="11.5"/>
<path d="M627 156.5 L629 156.5 L631 156.5 L633 156.5 L635 156.5 L637 156.5 L639 156.5 L641 156.5 L643 156.5 L645 156.5 L647 156.5 L649 156.5 L651 156.5 L653 156.5 L655 156.5 L657 156.5 L659 156.5 L661 156.5 L663 156.5 L665 156.5 L667 156.5 L669 156.5 L671 156.5 L673 156.5 L675 156.5 L677 156.5 L679 156.5 L681 156.5 L683 156.5 L685 156.5 L687 156.5 L689 156.5 L691 156.5 L693 156.5 L695 156.5 L697 156.5 L699 156.5 L701 156.5 L703 156.5 L705 156.5 L707 156.5 L709 156.5 L711 156.5 L713 156.5 L715 156.5 L717 156.5 L719 156.5 L721 156.5 L723 156.5 L725 156.5 L727 156.5 L729 156.5 L731 156.5 L733 156.5 L735 156.5" fill="none" stroke="#0000ff" stroke-width="1.15" shape-rendering="crispEdges" stroke-dasharray="10 4" stroke-dashoffset="11.5"/>
<rect x="626" y="94" width="1" height="66" fill="#000"/>
<rect x="626" y="159" width="109" height="1" fill="#000"/>
<rect x="657" y="158" width="1" height="2" fill="#000"/>
<rect x="692" y="158" width="1" height="2" fill="#000"/>
<rect x="727" y="158" width="1" height="2" fill="#000"/>
<rect x="626" y="104" width="2" height="1" fill="#000"/>
<rect x="626" y="130" width="2" height="1" fill="#000"/>
<rect x="626" y="155" width="2" height="1" fill="#000"/>
<text transform="translate(656.85 177) scale(1 1.2)" text-anchor="middle">10</text>
<text transform="translate(691.69 177) scale(1 1.2)" text-anchor="middle">20</text>
<text transform="translate(726.53 177) scale(1 1.2)" text-anchor="middle">30</text>
<text transform="translate(619 109) scale(1 1.2)" text-anchor="end">4</text>
<text transform="translate(619 135) scale(1 1.2)" text-anchor="end">2</text>
<text transform="translate(619 160.5) scale(1 1.2)" text-anchor="end">0</text>
<text transform="translate(626 86) scale(1 1.2)" text-anchor="start">x 10</text>
<text transform="translate(653 75) scale(1 1.2)" text-anchor="middle">5</text>
<text transform="translate(678 88) scale(1 1.2)" text-anchor="middle">mix</text>
<path d="M744 96.5 L746 96.5 L748 96.5 L750 96.5 L752 96.5 L754 96.5 L756 96.5 L758 96.5 L760 96.5 L762 96.5 L764 96.5 L766 96.5 L768 96.5 L770 96.5 L772 96.5 L774 96.5 L776 96.8 L778 97.56 L780 98.4 L782 99.3 L784 100.24 L786 101.21 L788 102.21 L790 103.23 L792 104.27 L794 105.33 L796 106.41 L798 107.5 L800 106.41 L802 105.33 L804 104.27 L806 103.23 L808 102.21 L810 101.21 L812 100.24 L814 99.3 L816 98.4 L818 97.56 L820 96.8 L822 96.5 L824 96.5 L826 96.5 L828 96.5 L830 96.5 L832 96.5 L834 96.5 L836 96.5 L838 96.5 L840 96.5 L842 96.5 L844 96.5 L846 96.5 L848 96.5 L850 96.5 L852 96.5" fill="none" stroke="#0000ff" stroke-width="1" shape-rendering="crispEdges"/>
<path d="M744 95.5 L746 95.5 L748 95.5 L750 95.5 L752 95.5 L754 95.5 L756 95.5 L758 95.5 L760 95.5 L762 95.5 L764 95.5 L766 95.5 L768 95.5 L770 95.5 L772 95.5 L774 95.5 L776 95.76 L778 96.42 L780 97.16 L782 97.94 L784 98.76 L786 99.61 L788 100.48 L790 101.37 L792 102.28 L794 103.21 L796 104.15 L798 105.1 L800 104.15 L802 103.21 L804 102.28 L806 101.37 L808 100.48 L810 99.61 L812 98.76 L814 97.94 L816 97.16 L818 96.42 L820 95.76 L822 95.5 L824 95.5 L826 95.5 L828 95.5 L830 95.5 L832 95.5 L834 95.5 L836 95.5 L838 95.5 L840 95.5 L842 95.5 L844 95.5 L846 95.5 L848 95.5 L850 95.5 L852 95.5" fill="none" stroke="#0000ff" stroke-width="1.15" shape-rendering="crispEdges" stroke-dasharray="10 4" stroke-dashoffset="11.5"/>
<path d="M744 97.5 L746 97.5 L748 97.5 L750 97.5 L752 97.5 L754 97.5 L756 97.5 L758 97.5 L760 97.5 L762 97.5 L764 97.5 L766 97.5 L768 97.5 L770 97.5 L772 97.5 L774 97.5 L776 97.84 L778 98.69 L780 99.64 L782 100.66 L784 101.72 L786 102.81 L788 103.93 L790 105.08 L792 106.26 L794 107.45 L796 108.67 L798 109.9 L800 108.67 L802 107.45 L804 106.26 L806 105.08 L808 103.93 L810 102.81 L812 101.72 L814 100.66 L816 99.64 L818 98.69 L820 97.84 L822 97.5 L824 97.5 L826 97.5 L828 97.5 L830 97.5 L832 97.5 L834 97.5 L836 97.5 L838 97.5 L840 97.5 L842 97.5 L844 97.5 L846 97.5 L848 97.5 L850 97.5 L852 97.5" fill="none" stroke="#0000ff" stroke-width="1.15" shape-rendering="crispEdges" stroke-dasharray="10 4" stroke-dashoffset="11.5"/>
<path d="M744 102.5 L746 102.5 L748 102.5 L750 102.5 L752 102.5 L754 102.5 L756 102.5 L758 102.5 L760 102.5 L762 102.5 L764 102.5 L766 102.5 L768 102.5 L770 102.5 L772 102.5 L774 102.5 L776 102.66 L778 103.08 L780 103.54 L782 104.03 L784 104.54 L786 105.07 L788 105.61 L790 106.17 L792 106.74 L794 107.32 L796 107.9 L798 108.5 L800 107.9 L802 107.32 L804 106.74 L806 106.17 L808 105.61 L810 105.07 L812 104.54 L814 104.03 L816 103.54 L818 103.08 L820 102.66 L822 102.5 L824 102.5 L826 102.5 L828 102.5 L830 102.5 L832 102.5 L834 102.5 L836 102.5 L838 102.5 L840 102.5 L842 102.5 L844 102.5 L846 102.5 L848 102.5 L850 102.5 L852 102.5" fill="none" stroke="#0000ff" stroke-width="1" shape-rendering="crispEdges"/>
<path d="M744 101.5 L746 101.5 L748 101.5 L750 101.5 L752 101.5 L754 101.5 L756 101.5 L758 101.5 L760 101.5 L762 101.5 L764 101.5 L766 101.5 L768 101.5 L770 101.5 L772 101.5 L774 101.5 L776 101.62 L778 101.93 L780 102.28 L782 102.65 L784 103.03 L786 103.43 L788 103.83 L790 104.25 L792 104.68 L794 105.11 L796 105.55 L798 106 L800 105.55 L802 105.11 L804 104.68 L806 104.25 L808 103.83 L810 103.43 L812 103.03 L814 102.65 L816 102.28 L818 101.93 L820 101.62 L822 101.5 L824 101.5 L826 101.5 L828 101.5 L830 101.5 L832 101.5 L834 101.5 L836 101.5 L838 101.5 L840 101.5 L842 101.5 L844 101.5 L846 101.5 L848 101.5 L850 101.5 L852 101.5" fill="none" stroke="#0000ff" stroke-width="1.15" shape-rendering="crispEdges" stroke-dasharray="10 4" stroke-dashoffset="11.5"/>
<path d="M744 103.5 L746 103.5 L748 103.5 L750 103.5 L752 103.5 L754 103.5 L756 103.5 L758 103.5 L760 103.5 L762 103.5 L764 103.5 L766 103.5 L768 103.5 L770 103.5 L772 103.5 L774 103.5 L776 103.7 L778 104.22 L780 104.8 L782 105.41 L784 106.05 L786 106.71 L788 107.39 L790 108.09 L792 108.8 L794 109.52 L796 110.26 L798 111 L800 110.26 L802 109.52 L804 108.8 L806 108.09 L808 107.39 L810 106.71 L812 106.05 L814 105.41 L816 104.8 L818 104.22 L820 103.7 L822 103.5 L824 103.5 L826 103.5 L828 103.5 L830 103.5 L832 103.5 L834 103.5 L836 103.5 L838 103.5 L840 103.5 L842 103.5 L844 103.5 L846 103.5 L848 103.5 L850 103.5 L852 103.5" fill="none" stroke="#0000ff" stroke-width="1.15" shape-rendering="crispEdges" stroke-dasharray="10 4" stroke-dashoffset="11.5"/>
<path d="M744 109.5 L746 109.5 L748 109.5 L750 109.5 L752 109.5 L754 109.5 L756 109.5 L758 109.5 L760 109.5 L762 109.5 L764 109.5 L766 109.5 L768 109.5 L770 109.5 L772 109.5 L774 109.5 L776 109.57 L778 109.73 L780 109.91 L782 110.11 L784 110.32 L786 110.53 L788 110.75 L790 110.97 L792 111.2 L794 111.43 L796 111.66 L798 111.9 L800 111.66 L802 111.43 L804 111.2 L806 110.97 L808 110.75 L810 110.53 L812 110.32 L814 110.11 L816 109.91 L818 109.73 L820 109.57 L822 109.5 L824 109.5 L826 109.5 L828 109.5 L830 109.5 L832 109.5 L834 109.5 L836 109.5 L838 109.5 L840 109.5 L842 109.5 L844 109.5 L846 109.5 L848 109.5 L850 109.5 L852 109.5" fill="none" stroke="#0000ff" stroke-width="1" shape-rendering="crispEdges"/>
<path d="M744 108.5 L746 108.5 L748 108.5 L750 108.5 L752 108.5 L754 108.5 L756 108.5 L758 108.5 L760 108.5 L762 108.5 L764 108.5 L766 108.5 L768 108.5 L770 108.5 L772 108.5 L774 108.5 L776 108.54 L778 108.63 L780 108.74 L782 108.86 L784 108.98 L786 109.1 L788 109.23 L790 109.36 L792 109.49 L794 109.62 L796 109.76 L798 109.9 L800 109.76 L802 109.62 L804 109.49 L806 109.36 L808 109.23 L810 109.1 L812 108.98 L814 108.86 L816 108.74 L818 108.63 L820 108.54 L822 108.5 L824 108.5 L826 108.5 L828 108.5 L830 108.5 L832 108.5 L834 108.5 L836 108.5 L838 108.5 L840 108.5 L842 108.5 L844 108.5 L846 108.5 L848 108.5 L850 108.5 L852 108.5" fill="none" stroke="#0000ff" stroke-width="1.15" shape-rendering="crispEdges" stroke-dasharray="10 4" stroke-dashoffset="11.5"/>
<path d="M744 110.5 L746 110.5 L748 110.5 L750 110.5 L752 110.5 L754 110.5 L756 110.5 L758 110.5 L760 110.5 L762 110.5 L764 110.5 L766 110.5 L768 110.5 L770 110.5 L772 110.5 L774 110.5 L776 110.59 L778 110.83 L780 111.09 L782 111.37 L784 111.66 L786 111.96 L788 112.26 L790 112.58 L792 112.9 L794 113.23 L796 113.56 L798 113.9 L800 113.56 L802 113.23 L804 112.9 L806 112.58 L808 112.26 L810 111.96 L812 111.66 L814 111.37 L816 111.09 L818 110.83 L820 110.59 L822 110.5 L824 110.5 L826 110.5 L828 110.5 L830 110.5 L832 110.5 L834 110.5 L836 110.5 L838 110.5 L840 110.5 L842 110.5 L844 110.5 L846 110.5 L848 110.5 L850 110.5 L852 110.5" fill="none" stroke="#0000ff" stroke-width="1.15" shape-rendering="crispEdges" stroke-dasharray="10 4" stroke-dashoffset="11.5"/>
<path d="M744 116.5 L746 116.5 L748 116.5 L750 116.5 L752 116.5 L754 116.5 L756 116.5 L758 116.5 L760 116.5 L762 116.5 L764 116.5 L766 116.5 L768 116.5 L770 116.5 L772 116.5 L774 116.5 L776 116.52 L778 116.59 L780 116.66 L782 116.73 L784 116.81 L786 116.89 L788 116.97 L790 117.05 L792 117.14 L794 117.22 L796 117.31 L798 117.4 L800 117.31 L802 117.22 L804 117.14 L806 117.05 L808 116.97 L810 116.89 L812 116.81 L814 116.73 L816 116.66 L818 116.59 L820 116.52 L822 116.5 L824 116.5 L826 116.5 L828 116.5 L830 116.5 L832 116.5 L834 116.5 L836 116.5 L838 116.5 L840 116.5 L842 116.5 L844 116.5 L846 116.5 L848 116.5 L850 116.5 L852 116.5" fill="none" stroke="#0000ff" stroke-width="1" shape-rendering="crispEdges"/>
<path d="M744 115.5 L746 115.5 L748 115.5 L750 115.5 L752 115.5 L754 115.5 L756 115.5 L758 115.5 L760 115.5 L762 115.5 L764 115.5 L766 115.5 L768 115.5 L770 115.5 L772 115.5 L774 115.5 L776 115.51 L778 115.54 L780 115.57 L782 115.6 L784 115.64 L786 115.67 L788 115.71 L790 115.74 L792 115.78 L794 115.82 L796 115.86 L798 115.9 L800 115.86 L802 115.82 L804 115.78 L806 115.74 L808 115.71 L810 115.67 L812 115.64 L814 115.6 L816 115.57 L818 115.54 L820 115.51 L822 115.5 L824 115.5 L826 115.5 L828 115.5 L830 115.5 L832 115.5 L834 115.5 L836 115.5 L838 115.5 L840 115.5 L842 115.5 L844 115.5 L846 115.5 L848 115.5 L850 115.5 L852 115.5" fill="none" stroke="#0000ff" stroke-width="1.15" shape-rendering="crispEdges" stroke-dasharray="10 4" stroke-dashoffset="11.5"/>
<path d="M744 117.5 L746 117.5 L748 117.5 L750 117.5 L752 117.5 L754 117.5 L756 117.5 L758 117.5 L760 117.5 L762 117.5 L764 117.5 L766 117.5 L768 117.5 L770 117.5 L772 117.5 L774 117.5 L776 117.54 L778 117.63 L780 117.74 L782 117.86 L784 117.98 L786 118.1 L788 118.23 L790 118.36 L792 118.49 L794 118.62 L796 118.76 L798 118.9 L800 118.76 L802 118.62 L804 118.49 L806 118.36 L808 118.23 L810 118.1 L812 117.98 L814 117.86 L816 117.74 L818 117.63 L820 117.54 L822 117.5 L824 117.5 L826 117.5 L828 117.5 L830 117.5 L832 117.5 L834 117.5 L836 117.5 L838 117.5 L840 117.5 L842 117.5 L844 117.5 L846 117.5 L848 117.5 L850 117.5 L852 117.5" fill="none" stroke="#0000ff" stroke-width="1.15" shape-rendering="crispEdges" stroke-dasharray="10 4" stroke-dashoffset="11.5"/>
<path d="M744 122.5 L746 122.5 L748 122.5 L750 122.5 L752 122.5 L754 122.5 L756 122.5 L758 122.5 L760 122.5 L762 122.5 L764 122.5 L766 122.5 L768 122.5 L770 122.5 L772 122.5 L774 122.5 L776 122.51 L778 122.53 L780 122.55 L782 122.58 L784 122.6 L786 122.63 L788 122.66 L790 122.68 L792 122.71 L794 122.74 L796 122.77 L798 122.8 L800 122.77 L802 122.74 L804 122.71 L806 122.68 L808 122.66 L810 122.63 L812 122.6 L814 122.58 L816 122.55 L818 122.53 L820 122.51 L822 122.5 L824 122.5 L826 122.5 L828 122.5 L830 122.5 L832 122.5 L834 122.5 L836 122.5 L838 122.5 L840 122.5 L842 122.5 L844 122.5 L846 122.5 L848 122.5 L850 122.5 L852 122.5" fill="none" stroke="#0000ff" stroke-width="1" shape-rendering="crispEdges"/>
<path d="M744 121.5 L746 121.5 L748 121.5 L750 121.5 L752 121.5 L754 121.5 L756 121.5 L758 121.5 L760 121.5 L762 121.5 L764 121.5 L766 121.5 L768 121.5 L770 121.5 L772 121.5 L774 121.5 L776 121.5 L778 121.51 L780 121.52 L782 121.53 L784 121.53 L786 121.54 L788 121.55 L790 121.56 L792 121.57 L794 121.58 L796 121.59 L798 121.6 L800 121.59 L802 121.58 L804 121.57 L806 121.56 L808 121.55 L810 121.54 L812 121.53 L814 121.53 L816 121.52 L818 121.51 L820 121.5 L822 121.5 L824 121.5 L826 121.5 L828 121.5 L830 121.5 L832 121.5 L834 121.5 L836 121.5 L838 121.5 L840 121.5 L842 121.5 L844 121.5 L846 121.5 L848 121.5 L850 121.5 L852 121.5" fill="none" stroke="#0000ff" stroke-width="1.15" shape-rendering="crispEdges" stroke-dasharray="10 4" stroke-dashoffset="11.5"/>
<path d="M744 123.5 L746 123.5 L748 123.5 L750 123.5 L752 123.5 L754 123.5 L756 123.5 L758 123.5 L760 123.5 L762 123.5 L764 123.5 L766 123.5 L768 123.5 L770 123.5 L772 123.5 L774 123.5 L776 123.51 L778 123.55 L780 123.59 L782 123.63 L784 123.67 L786 123.71 L788 123.76 L790 123.81 L792 123.85 L794 123.9 L796 123.95 L798 124 L800 123.95 L802 123.9 L804 123.85 L806 123.81 L808 123.76 L810 123.71 L812 123.67 L814 123.63 L816 123.59 L818 123.55 L820 123.51 L822 123.5 L824 123.5 L826 123.5 L828 123.5 L830 123.5 L832 123.5 L834 123.5 L836 123.5 L838 123.5 L840 123.5 L842 123.5 L844 123.5 L846 123.5 L848 123.5 L850 123.5 L852 123.5" fill="none" stroke="#0000ff" stroke-width="1.15" shape-rendering="crispEdges" stroke-dasharray="10 4" stroke-dashoffset="11.5"/>
<path d="M744 129.5 L746 129.5 L748 129.5 L750 129.5 L752 129.5 L754 129.5 L756 129.5 L758 129.5 L760 129.5 L762 129.5 L764 129.5 L766 129.5 L768 129.5 L770 129.5 L772 129.5 L774 129.5 L776 129.5 L778 129.5 L780 129.5 L782 129.5 L784 129.5 L786 129.5 L788 129.5 L790 129.5 L792 129.5 L794 129.5 L796 129.5 L798 129.5 L800 129.5 L802 129.5 L804 129.5 L806 129.5 L808 129.5 L810 129.5 L812 129.5 L814 129.5 L816 129.5 L818 129.5 L820 129.5 L822 129.5 L824 129.5 L826 129.5 L828 129.5 L830 129.5 L832 129.5 L834 129.5 L836 129.5 L838 129.5 L840 129.5 L842 129.5 L844 129.5 L846 129.5 L848 129.5 L850 129.5 L852 129.5" fill="none" stroke="#0000ff" stroke-width="1" shape-rendering="crispEdges"/>
<path d="M744 128.5 L746 128.5 L748 128.5 L750 128.5 L752 128.5 L754 128.5 L756 128.5 L758 128.5 L760 128.5 L762 128.5 L764 128.5 L766 128.5 L768 128.5 L770 128.5 L772 128.5 L774 128.5 L776 128.5 L778 128.5 L780 128.5 L782 128.5 L784 128.5 L786 128.5 L788 128.5 L790 128.5 L792 128.5 L794 128.5 L796 128.5 L798 128.5 L800 128.5 L802 128.5 L804 128.5 L806 128.5 L808 128.5 L810 128.5 L812 128.5 L814 128.5 L816 128.5 L818 128.5 L820 128.5 L822 128.5 L824 128.5 L826 128.5 L828 128.5 L830 128.5 L832 128.5 L834 128.5 L836 128.5 L838 128.5 L840 128.5 L842 128.5 L844 128.5 L846 128.5 L848 128.5 L850 128.5 L852 128.5" fill="none" stroke="#0000ff" stroke-width="1.15" shape-rendering="crispEdges" stroke-dasharray="10 4" stroke-dashoffset="11.5"/>
<path d="M744 130.5 L746 130.5 L748 130.5 L750 130.5 L752 130.5 L754 130.5 L756 130.5 L758 130.5 L760 130.5 L762 130.5 L764 130.5 L766 130.5 L768 130.5 L770 130.5 L772 130.5 L774 130.5 L776 130.5 L778 130.5 L780 130.5 L782 130.5 L784 130.5 L786 130.5 L788 130.5 L790 130.5 L792 130.5 L794 130.5 L796 130.5 L798 130.5 L800 130.5 L802 130.5 L804 130.5 L806 130.5 L808 130.5 L810 130.5 L812 130.5 L814 130.5 L816 130.5 L818 130.5 L820 130.5 L822 130.5 L824 130.5 L826 130.5 L828 130.5 L830 130.5 L832 130.5 L834 130.5 L836 130.5 L838 130.5 L840 130.5 L842 130.5 L844 130.5 L846 130.5 L848 130.5 L850 130.5 L852 130.5" fill="none" stroke="#0000ff" stroke-width="1.15" shape-rendering="crispEdges" stroke-dasharray="10 4" stroke-dashoffset="11.5"/>
<path d="M744 135.5 L746 135.5 L748 135.5 L750 135.5 L752 135.5 L754 135.5 L756 135.5 L758 135.5 L760 135.5 L762 135.5 L764 135.5 L766 135.5 L768 135.5 L770 135.5 L772 135.5 L774 135.5 L776 135.5 L778 135.5 L780 135.5 L782 135.5 L784 135.5 L786 135.5 L788 135.5 L790 135.5 L792 135.5 L794 135.5 L796 135.5 L798 135.5 L800 135.5 L802 135.5 L804 135.5 L806 135.5 L808 135.5 L810 135.5 L812 135.5 L814 135.5 L816 135.5 L818 135.5 L820 135.5 L822 135.5 L824 135.5 L826 135.5 L828 135.5 L830 135.5 L832 135.5 L834 135.5 L836 135.5 L838 135.5 L840 135.5 L842 135.5 L844 135.5 L846 135.5 L848 135.5 L850 135.5 L852 135.5" fill="none" stroke="#0000ff" stroke-width="1" shape-rendering="crispEdges"/>
<path d="M744 134.5 L746 134.5 L748 134.5 L750 134.5 L752 134.5 L754 134.5 L756 134.5 L758 134.5 L760 134.5 L762 134.5 L764 134.5 L766 134.5 L768 134.5 L770 134.5 L772 134.5 L774 134.5 L776 134.5 L778 134.5 L780 134.5 L782 134.5 L784 134.5 L786 134.5 L788 134.5 L790 134.5 L792 134.5 L794 134.5 L796 134.5 L798 134.5 L800 134.5 L802 134.5 L804 134.5 L806 134.5 L808 134.5 L810 134.5 L812 134.5 L814 134.5 L816 134.5 L818 134.5 L820 134.5 L822 134.5 L824 134.5 L826 134.5 L828 134.5 L830 134.5 L832 134.5 L834 134.5 L836 134.5 L838 134.5 L840 134.5 L842 134.5 L844 134.5 L846 134.5 L848 134.5 L850 134.5 L852 134.5" fill="none" stroke="#0000ff" stroke-width="1.15" shape-rendering="crispEdges" stroke-dasharray="10 4" stroke-dashoffset="11.5"/>
<path d="M744 136.5 L746 136.5 L748 136.5 L750 136.5 L752 136.5 L754 136.5 L756 136.5 L758 136.5 L760 136.5 L762 136.5 L764 136.5 L766 136.5 L768 136.5 L770 136.5 L772 136.5 L774 136.5 L776 136.5 L778 136.5 L780 136.5 L782 136.5 L784 136.5 L786 136.5 L788 136.5 L790 136.5 L792 136.5 L794 136.5 L796 136.5 L798 136.5 L800 136.5 L802 136.5 L804 136.5 L806 136.5 L808 136.5 L810 136.5 L812 136.5 L814 136.5 L816 136.5 L818 136.5 L820 136.5 L822 136.5 L824 136.5 L826 136.5 L828 136.5 L830 136.5 L832 136.5 L834 136.5 L836 136.5 L838 136.5 L840 136.5 L842 136.5 L844 136.5 L846 136.5 L848 136.5 L850 136.5 L852 136.5" fill="none" stroke="#0000ff" stroke-width="1.15" shape-rendering="crispEdges" stroke-dasharray="10 4" stroke-dashoffset="11.5"/>
<path d="M744 142.5 L746 142.5 L748 142.5 L750 142.5 L752 142.5 L754 142.5 L756 142.5 L758 142.5 L760 142.5 L762 142.5 L764 142.5 L766 142.5 L768 142.5 L770 142.5 L772 142.5 L774 142.5 L776 142.5 L778 142.5 L780 142.5 L782 142.5 L784 142.5 L786 142.5 L788 142.5 L790 142.5 L792 142.5 L794 142.5 L796 142.5 L798 142.5 L800 142.5 L802 142.5 L804 142.5 L806 142.5 L808 142.5 L810 142.5 L812 142.5 L814 142.5 L816 142.5 L818 142.5 L820 142.5 L822 142.5 L824 142.5 L826 142.5 L828 142.5 L830 142.5 L832 142.5 L834 142.5 L836 142.5 L838 142.5 L840 142.5 L842 142.5 L844 142.5 L846 142.5 L848 142.5 L850 142.5 L852 142.5" fill="none" stroke="#0000ff" stroke-width="1" shape-rendering="crispEdges"/>
<path d="M744 141.5 L746 141.5 L748 141.5 L750 141.5 L752 141.5 L754 141.5 L756 141.5 L758 141.5 L760 141.5 L762 141.5 L764 141.5 L766 141.5 L768 141.5 L770 141.5 L772 141.5 L774 141.5 L776 141.5 L778 141.5 L780 141.5 L782 141.5 L784 141.5 L786 141.5 L788 141.5 L790 141.5 L792 141.5 L794 141.5 L796 141.5 L798 141.5 L800 141.5 L802 141.5 L804 141.5 L806 141.5 L808 141.5 L810 141.5 L812 141.5 L814 141.5 L816 141.5 L818 141.5 L820 141.5 L822 141.5 L824 141.5 L826 141.5 L828 141.5 L830 141.5 L832 141.5 L834 141.5 L836 141.5 L838 141.5 L840 141.5 L842 141.5 L844 141.5 L846 141.5 L848 141.5 L850 141.5 L852 141.5" fill="none" stroke="#0000ff" stroke-width="1.15" shape-rendering="crispEdges" stroke-dasharray="10 4" stroke-dashoffset="11.5"/>
<path d="M744 143.5 L746 143.5 L748 143.5 L750 143.5 L752 143.5 L754 143.5 L756 143.5 L758 143.5 L760 143.5 L762 143.5 L764 143.5 L766 143.5 L768 143.5 L770 143.5 L772 143.5 L774 143.5 L776 143.5 L778 143.5 L780 143.5 L782 143.5 L784 143.5 L786 143.5 L788 143.5 L790 143.5 L792 143.5 L794 143.5 L796 143.5 L798 143.5 L800 143.5 L802 143.5 L804 143.5 L806 143.5 L808 143.5 L810 143.5 L812 143.5 L814 143.5 L816 143.5 L818 143.5 L820 143.5 L822 143.5 L824 143.5 L826 143.5 L828 143.5 L830 143.5 L832 143.5 L834 143.5 L836 143.5 L838 143.5 L840 143.5 L842 143.5 L844 143.5 L846 143.5 L848 143.5 L850 143.5 L852 143.5" fill="none" stroke="#0000ff" stroke-width="1.15" shape-rendering="crispEdges" stroke-dasharray="10 4" stroke-dashoffset="11.5"/>
<path d="M744 149.5 L746 149.5 L748 149.5 L750 149.5 L752 149.5 L754 149.5 L756 149.5 L758 149.5 L760 149.5 L762 149.5 L764 149.5 L766 149.5 L768 149.5 L770 149.5 L772 149.5 L774 149.5 L776 149.5 L778 149.5 L780 149.5 L782 149.5 L784 149.5 L786 149.5 L788 149.5 L790 149.5 L792 149.5 L794 149.5 L796 149.5 L798 149.5 L800 149.5 L802 149.5 L804 149.5 L806 149.5 L808 149.5 L810 149.5 L812 149.5 L814 149.5 L816 149.5 L818 149.5 L820 149.5 L822 149.5 L824 149.5 L826 149.5 L828 149.5 L830 149.5 L832 149.5 L834 149.5 L836 149.5 L838 149.5 L840 149.5 L842 149.5 L844 149.5 L846 149.5 L848 149.5 L850 149.5 L852 149.5" fill="none" stroke="#0000ff" stroke-width="1" shape-rendering="crispEdges"/>
<path d="M744 148.5 L746 148.5 L748 148.5 L750 148.5 L752 148.5 L754 148.5 L756 148.5 L758 148.5 L760 148.5 L762 148.5 L764 148.5 L766 148.5 L768 148.5 L770 148.5 L772 148.5 L774 148.5 L776 148.5 L778 148.5 L780 148.5 L782 148.5 L784 148.5 L786 148.5 L788 148.5 L790 148.5 L792 148.5 L794 148.5 L796 148.5 L798 148.5 L800 148.5 L802 148.5 L804 148.5 L806 148.5 L808 148.5 L810 148.5 L812 148.5 L814 148.5 L816 148.5 L818 148.5 L820 148.5 L822 148.5 L824 148.5 L826 148.5 L828 148.5 L830 148.5 L832 148.5 L834 148.5 L836 148.5 L838 148.5 L840 148.5 L842 148.5 L844 148.5 L846 148.5 L848 148.5 L850 148.5 L852 148.5" fill="none" stroke="#0000ff" stroke-width="1.15" shape-rendering="crispEdges" stroke-dasharray="10 4" stroke-dashoffset="11.5"/>
<path d="M744 150.5 L746 150.5 L748 150.5 L750 150.5 L752 150.5 L754 150.5 L756 150.5 L758 150.5 L760 150.5 L762 150.5 L764 150.5 L766 150.5 L768 150.5 L770 150.5 L772 150.5 L774 150.5 L776 150.5 L778 150.5 L780 150.5 L782 150.5 L784 150.5 L786 150.5 L788 150.5 L790 150.5 L792 150.5 L794 150.5 L796 150.5 L798 150.5 L800 150.5 L802 150.5 L804 150.5 L806 150.5 L808 150.5 L810 150.5 L812 150.5 L814 150.5 L816 150.5 L818 150.5 L820 150.5 L822 150.5 L824 150.5 L826 150.5 L828 150.5 L830 150.5 L832 150.5 L834 150.5 L836 150.5 L838 150.5 L840 150.5 L842 150.5 L844 150.5 L846 150.5 L848 150.5 L850 150.5 L852 150.5" fill="none" stroke="#0000ff" stroke-width="1.15" shape-rendering="crispEdges" stroke-dasharray="10 4" stroke-dashoffset="11.5"/>
<path d="M744 155.5 L746 155.5 L748 155.5 L750 155.5 L752 155.5 L754 155.5 L756 155.5 L758 155.5 L760 155.5 L762 155.5 L764 155.5 L766 155.5 L768 155.5 L770 155.5 L772 155.5 L774 155.5 L776 155.5 L778 155.5 L780 155.5 L782 155.5 L784 155.5 L786 155.5 L788 155.5 L790 155.5 L792 155.5 L794 155.5 L796 155.5 L798 155.5 L800 155.5 L802 155.5 L804 155.5 L806 155.5 L808 155.5 L810 155.5 L812 155.5 L814 155.5 L816 155.5 L818 155.5 L820 155.5 L822 155.5 L824 155.5 L826 155.5 L828 155.5 L830 155.5 L832 155.5 L834 155.5 L836 155.5 L838 155.5 L840 155.5 L842 155.5 L844 155.5 L846 155.5 L848 155.5 L850 155.5 L852 155.5" fill="none" stroke="#0000ff" stroke-width="1" shape-rendering="crispEdges"/>
<path d="M744 154.5 L746 154.5 L748 154.5 L750 154.5 L752 154.5 L754 154.5 L756 154.5 L758 154.5 L760 154.5 L762 154.5 L764 154.5 L766 154.5 L768 154.5 L770 154.5 L772 154.5 L774 154.5 L776 154.5 L778 154.5 L780 154.5 L782 154.5 L784 154.5 L786 154.5 L788 154.5 L790 154.5 L792 154.5 L794 154.5 L796 154.5 L798 154.5 L800 154.5 L802 154.5 L804 154.5 L806 154.5 L808 154.5 L810 154.5 L812 154.5 L814 154.5 L816 154.5 L818 154.5 L820 154.5 L822 154.5 L824 154.5 L826 154.5 L828 154.5 L830 154.5 L832 154.5 L834 154.5 L836 154.5 L838 154.5 L840 154.5 L842 154.5 L844 154.5 L846 154.5 L848 154.5 L850 154.5 L852 154.5" fill="none" stroke="#0000ff" stroke-width="1.15" shape-rendering="crispEdges" stroke-dasharray="10 4" stroke-dashoffset="11.5"/>
<path d="M744 156.5 L746 156.5 L748 156.5 L750 156.5 L752 156.5 L754 156.5 L756 156.5 L758 156.5 L760 156.5 L762 156.5 L764 156.5 L766 156.5 L768 156.5 L770 156.5 L772 156.5 L774 156.5 L776 156.5 L778 156.5 L780 156.5 L782 156.5 L784 156.5 L786 156.5 L788 156.5 L790 156.5 L792 156.5 L794 156.5 L796 156.5 L798 156.5 L800 156.5 L802 156.5 L804 156.5 L806 156.5 L808 156.5 L810 156.5 L812 156.5 L814 156.5 L816 156.5 L818 156.5 L820 156.5 L822 156.5 L824 156.5 L826 156.5 L828 156.5 L830 156.5 L832 156.5 L834 156.5 L836 156.5 L838 156.5 L840 156.5 L842 156.5 L844 156.5 L846 156.5 L848 156.5 L850 156.5 L852 156.5" fill="none" stroke="#0000ff" stroke-width="1.15" shape-rendering="crispEdges" stroke-dasharray="10 4" stroke-dashoffset="11.5"/>
<rect x="743" y="94" width="1" height="66" fill="#000"/>
<rect x="743" y="159" width="109" height="1" fill="#000"/>
<rect x="774" y="158" width="1" height="2" fill="#000"/>
<rect x="809" y="158" width="1" height="2" fill="#000"/>
<rect x="844" y="158" width="1" height="2" fill="#000"/>
<rect x="743" y="104" width="2" height="1" fill="#000"/>
<rect x="743" y="130" width="2" height="1" fill="#000"/>
<rect x="743" y="155" width="2" height="1" fill="#000"/>
<text transform="translate(773.85 177) scale(1 1.2)" text-anchor="middle">10</text>
<text transform="translate(808.69 177) scale(1 1.2)" text-anchor="middle">20</text>
<text transform="translate(843.53 177) scale(1 1.2)" text-anchor="middle">30</text>
<text transform="translate(736 109) scale(1 1.2)" text-anchor="end">4</text>
<text transform="translate(736 135) scale(1 1.2)" text-anchor="end">2</text>
<text transform="translate(736 160.5) scale(1 1.2)" text-anchor="end">0</text>
<text transform="translate(743 86) scale(1 1.2)" text-anchor="start">x 10</text>
<text transform="translate(770 75) scale(1 1.2)" text-anchor="middle">5</text>
<text transform="translate(795 88) scale(1 1.2)" text-anchor="middle">no light</text>
<path d="M862 96.8 L864 96.77 L866 96.69 L868 96.56 L870 96.43 L872 96.3 L874 96.22 L876 96.2 L878 96.24 L880 96.33 L882 96.46 L884 96.6 L886 96.71 L888 96.78 L890 96.8 L892 96.75 L894 96.95 L896 97.57 L898 98.28 L900 99.07 L902 99.95 L904 100.92 L906 101.97 L908 103.1 L910 104.28 L912 105.47 L914 106.65 L916 107.8 L918 106.69 L920 105.55 L922 104.37 L924 103.2 L926 102.05 L928 100.95 L930 99.94 L932 99.02 L934 98.2 L936 97.48 L938 96.85 L940 96.68 L942 96.77 L944 96.8 L946 96.77 L948 96.68 L950 96.56 L952 96.42 L954 96.3 L956 96.22 L958 96.2 L960 96.24 L962 96.34 L964 96.46 L966 96.6 L968 96.72 L970 96.79" fill="none" stroke="#0000ff" stroke-width="1" shape-rendering="crispEdges"/>
<path d="M862 95.68 L864 95.77 L866 95.8 L868 95.77 L870 95.68 L872 95.56 L874 95.42 L876 95.3 L878 95.22 L880 95.2 L882 95.24 L884 95.34 L886 95.47 L888 95.6 L890 95.72 L892 95.79 L894 96.06 L896 96.67 L898 97.3 L900 97.95 L902 98.64 L904 99.38 L906 100.19 L908 101.08 L910 102.05 L912 103.09 L914 104.16 L916 105.25 L918 104.39 L920 103.5 L922 102.57 L924 101.59 L926 100.58 L928 99.57 L930 98.6 L932 97.68 L934 96.86 L936 96.15 L938 95.56 L940 95.42 L942 95.56 L944 95.68 L946 95.77 L948 95.8 L950 95.77 L952 95.68 L954 95.55 L956 95.42 L958 95.3 L960 95.22 L962 95.2 L964 95.24 L966 95.34 L968 95.47 L970 95.61" fill="none" stroke="#0000ff" stroke-width="1.15" shape-rendering="crispEdges" stroke-dasharray="10 4" stroke-dashoffset="11.5"/>
<path d="M862 97.69 L864 97.57 L866 97.43 L868 97.31 L870 97.23 L872 97.2 L874 97.24 L876 97.33 L878 97.46 L880 97.59 L882 97.71 L884 97.78 L886 97.8 L888 97.75 L890 97.65 L892 97.52 L894 97.72 L896 98.47 L898 99.35 L900 100.36 L902 101.48 L904 102.68 L906 103.94 L908 105.22 L910 106.5 L912 107.75 L914 108.96 L916 110.12 L918 108.78 L920 107.43 L922 106.1 L924 104.83 L926 103.64 L928 102.53 L930 101.51 L932 100.57 L934 99.69 L936 98.87 L938 98.1 L940 97.8 L942 97.77 L944 97.69 L946 97.56 L948 97.43 L950 97.31 L952 97.22 L954 97.2 L956 97.24 L958 97.33 L960 97.46 L962 97.59 L964 97.71 L966 97.78 L968 97.8 L970 97.75" fill="none" stroke="#0000ff" stroke-width="1.15" shape-rendering="crispEdges" stroke-dasharray="10 4" stroke-dashoffset="11.5"/>
<path d="M862 102.25 L864 102.2 L866 102.22 L868 102.29 L870 102.4 L872 102.54 L874 102.67 L876 102.76 L878 102.8 L880 102.78 L882 102.7 L884 102.58 L886 102.44 L888 102.31 L890 102.23 L892 102.2 L894 102.4 L896 102.9 L898 103.49 L900 104.11 L902 104.74 L904 105.35 L906 105.91 L908 106.43 L910 106.9 L912 107.35 L914 107.8 L916 108.28 L918 107.62 L920 107.02 L922 106.5 L924 106.03 L926 105.61 L928 105.2 L930 104.77 L932 104.32 L934 103.83 L936 103.3 L938 102.78 L940 102.48 L942 102.35 L944 102.25 L946 102.2 L948 102.22 L950 102.29 L952 102.41 L954 102.54 L956 102.67 L958 102.76 L960 102.8 L962 102.78 L964 102.69 L966 102.57 L968 102.44 L970 102.31" fill="none" stroke="#0000ff" stroke-width="1" shape-rendering="crispEdges"/>
<path d="M862 101.48 L864 101.35 L866 101.25 L868 101.2 L870 101.22 L872 101.29 L874 101.41 L876 101.54 L878 101.67 L880 101.76 L882 101.8 L884 101.77 L886 101.69 L888 101.57 L890 101.43 L892 101.31 L894 101.35 L896 101.63 L898 102.01 L900 102.47 L902 102.98 L904 103.52 L906 104.04 L908 104.53 L910 104.98 L912 105.36 L914 105.71 L916 106.02 L918 105.44 L920 104.89 L922 104.39 L924 103.96 L926 103.6 L928 103.29 L930 103.03 L932 102.78 L934 102.52 L936 102.23 L938 101.91 L940 101.72 L942 101.61 L944 101.48 L946 101.35 L948 101.25 L950 101.2 L952 101.22 L954 101.29 L956 101.41 L958 101.55 L960 101.67 L962 101.76 L964 101.8 L966 101.77 L968 101.69 L970 101.57" fill="none" stroke="#0000ff" stroke-width="1.15" shape-rendering="crispEdges" stroke-dasharray="10 4" stroke-dashoffset="11.5"/>
<path d="M862 103.21 L864 103.28 L866 103.4 L868 103.53 L870 103.66 L872 103.76 L874 103.8 L876 103.78 L878 103.7 L880 103.58 L882 103.44 L884 103.32 L886 103.23 L888 103.2 L890 103.23 L892 103.32 L894 103.65 L896 104.3 L898 105 L900 105.69 L902 106.35 L904 106.97 L906 107.55 L908 108.12 L910 108.7 L912 109.3 L914 109.97 L916 110.7 L918 110.01 L920 109.38 L922 108.79 L924 108.21 L926 107.62 L928 107 L930 106.34 L932 105.64 L934 104.92 L936 104.21 L938 103.56 L940 103.25 L942 103.2 L944 103.21 L946 103.28 L948 103.4 L950 103.54 L952 103.66 L954 103.76 L956 103.8 L958 103.78 L960 103.7 L962 103.58 L964 103.44 L966 103.32 L968 103.23 L970 103.2" fill="none" stroke="#0000ff" stroke-width="1.15" shape-rendering="crispEdges" stroke-dasharray="10 4" stroke-dashoffset="11.5"/>
<path d="M862 109.25 L864 109.2 L866 109.21 L868 109.29 L870 109.4 L872 109.54 L874 109.66 L876 109.76 L878 109.8 L880 109.78 L882 109.7 L884 109.58 L886 109.44 L888 109.32 L890 109.23 L892 109.2 L894 109.3 L896 109.55 L898 109.86 L900 110.19 L902 110.52 L904 110.81 L906 111.04 L908 111.22 L910 111.36 L912 111.46 L914 111.56 L916 111.68 L918 111.37 L920 111.13 L922 110.95 L924 110.83 L926 110.74 L928 110.65 L930 110.55 L932 110.4 L934 110.21 L936 109.96 L938 109.68 L940 109.48 L942 109.35 L944 109.25 L946 109.2 L948 109.22 L950 109.29 L952 109.4 L954 109.54 L956 109.67 L958 109.76 L960 109.8 L962 109.78 L964 109.7 L966 109.57 L968 109.44 L970 109.31" fill="none" stroke="#0000ff" stroke-width="1" shape-rendering="crispEdges"/>
<path d="M862 108.48 L864 108.35 L866 108.25 L868 108.2 L870 108.22 L872 108.29 L874 108.41 L876 108.54 L878 108.67 L880 108.76 L882 108.8 L884 108.78 L886 108.69 L888 108.57 L890 108.43 L892 108.31 L894 108.27 L896 108.33 L898 108.48 L900 108.68 L902 108.93 L904 109.19 L906 109.43 L908 109.64 L910 109.79 L912 109.88 L914 109.92 L916 109.93 L918 109.65 L920 109.4 L922 109.2 L924 109.06 L926 108.99 L928 108.96 L930 108.97 L932 108.99 L934 108.98 L936 108.93 L938 108.83 L940 108.72 L942 108.61 L944 108.48 L946 108.35 L948 108.25 L950 108.2 L952 108.22 L954 108.29 L956 108.41 L958 108.55 L960 108.67 L962 108.76 L964 108.8 L966 108.77 L968 108.69 L970 108.57" fill="none" stroke="#0000ff" stroke-width="1.15" shape-rendering="crispEdges" stroke-dasharray="10 4" stroke-dashoffset="11.5"/>
<path d="M862 110.21 L864 110.28 L866 110.39 L868 110.53 L870 110.66 L872 110.76 L874 110.8 L876 110.78 L878 110.7 L880 110.58 L882 110.45 L884 110.32 L886 110.23 L888 110.2 L890 110.23 L892 110.32 L894 110.53 L896 110.9 L898 111.29 L900 111.64 L902 111.96 L904 112.22 L906 112.43 L908 112.62 L910 112.8 L912 113.01 L914 113.28 L916 113.6 L918 113.32 L920 113.08 L922 112.89 L924 112.7 L926 112.49 L928 112.25 L930 111.95 L932 111.6 L934 111.21 L936 110.82 L938 110.45 L940 110.26 L942 110.2 L944 110.21 L946 110.28 L948 110.4 L950 110.53 L952 110.66 L954 110.76 L956 110.8 L958 110.78 L960 110.7 L962 110.58 L964 110.44 L966 110.32 L968 110.23 L970 110.2" fill="none" stroke="#0000ff" stroke-width="1.15" shape-rendering="crispEdges" stroke-dasharray="10 4" stroke-dashoffset="11.5"/>
<path d="M862 116.22 L864 116.3 L866 116.42 L868 116.56 L870 116.68 L872 116.77 L874 116.8 L876 116.77 L878 116.68 L880 116.56 L882 116.42 L884 116.3 L886 116.22 L888 116.2 L890 116.24 L892 116.34 L894 116.49 L896 116.69 L898 116.87 L900 117.02 L902 117.1 L904 117.13 L906 117.11 L908 117.06 L910 117.01 L912 116.99 L914 117.02 L916 117.11 L918 117.08 L920 117.1 L922 117.15 L924 117.2 L926 117.21 L928 117.18 L930 117.09 L932 116.94 L934 116.75 L936 116.55 L938 116.36 L940 116.24 L942 116.2 L944 116.22 L946 116.3 L948 116.42 L950 116.56 L952 116.68 L954 116.77 L956 116.8 L958 116.77 L960 116.68 L962 116.55 L964 116.42 L966 116.3 L968 116.22 L970 116.2" fill="none" stroke="#0000ff" stroke-width="1" shape-rendering="crispEdges"/>
<path d="M862 115.24 L864 115.2 L866 115.22 L868 115.31 L870 115.43 L872 115.56 L874 115.69 L876 115.77 L878 115.8 L880 115.77 L882 115.68 L884 115.55 L886 115.41 L888 115.3 L890 115.22 L892 115.2 L894 115.26 L896 115.38 L898 115.54 L900 115.71 L902 115.86 L904 115.96 L906 116 L908 115.99 L910 115.92 L912 115.82 L914 115.73 L916 115.66 L918 115.57 L920 115.53 L922 115.56 L924 115.63 L926 115.73 L928 115.82 L930 115.89 L932 115.9 L934 115.85 L936 115.75 L938 115.6 L940 115.46 L942 115.33 L944 115.24 L946 115.2 L948 115.23 L950 115.31 L952 115.43 L954 115.57 L956 115.69 L958 115.77 L960 115.8 L962 115.76 L964 115.67 L966 115.55 L968 115.41 L970 115.29" fill="none" stroke="#0000ff" stroke-width="1.15" shape-rendering="crispEdges" stroke-dasharray="10 4" stroke-dashoffset="11.5"/>
<path d="M862 117.42 L864 117.55 L866 117.68 L868 117.77 L870 117.8 L872 117.77 L874 117.69 L876 117.56 L878 117.43 L880 117.3 L882 117.22 L884 117.2 L886 117.24 L888 117.33 L890 117.46 L892 117.6 L894 117.75 L896 117.92 L898 118.04 L900 118.1 L902 118.12 L904 118.12 L906 118.11 L908 118.13 L910 118.2 L912 118.33 L914 118.53 L916 118.77 L918 118.77 L920 118.76 L922 118.73 L924 118.65 L926 118.51 L928 118.32 L930 118.08 L932 117.83 L934 117.58 L936 117.38 L938 117.24 L940 117.22 L942 117.3 L944 117.42 L946 117.55 L948 117.68 L950 117.77 L952 117.8 L954 117.77 L956 117.68 L958 117.56 L960 117.42 L962 117.3 L964 117.22 L966 117.2 L968 117.24 L970 117.34" fill="none" stroke="#0000ff" stroke-width="1.15" shape-rendering="crispEdges" stroke-dasharray="10 4" stroke-dashoffset="11.5"/>
<path d="M862 122.77 L864 122.8 L866 122.77 L868 122.68 L870 122.56 L872 122.42 L874 122.3 L876 122.22 L878 122.2 L880 122.24 L882 122.34 L884 122.47 L886 122.6 L888 122.72 L890 122.79 L892 122.8 L894 122.75 L896 122.67 L898 122.56 L900 122.45 L902 122.37 L904 122.34 L906 122.36 L908 122.45 L910 122.59 L912 122.76 L914 122.92 L916 123.05 L918 123.07 L920 123.03 L922 122.93 L924 122.78 L926 122.62 L928 122.46 L930 122.34 L932 122.28 L934 122.28 L936 122.33 L938 122.43 L940 122.56 L942 122.69 L944 122.77 L946 122.8 L948 122.77 L950 122.68 L952 122.55 L954 122.42 L956 122.3 L958 122.22 L960 122.2 L962 122.24 L964 122.34 L966 122.47 L968 122.61 L970 122.72" fill="none" stroke="#0000ff" stroke-width="1" shape-rendering="crispEdges"/>
<path d="M862 121.56 L864 121.69 L866 121.77 L868 121.8 L870 121.77 L872 121.68 L874 121.55 L876 121.41 L878 121.29 L880 121.22 L882 121.2 L884 121.25 L886 121.34 L888 121.47 L890 121.61 L892 121.72 L894 121.79 L896 121.8 L898 121.76 L900 121.66 L902 121.54 L904 121.41 L906 121.32 L908 121.27 L910 121.28 L912 121.35 L914 121.48 L916 121.62 L918 121.74 L920 121.83 L922 121.87 L924 121.84 L926 121.76 L928 121.64 L930 121.49 L932 121.35 L934 121.25 L936 121.21 L938 121.23 L940 121.31 L942 121.43 L944 121.57 L946 121.69 L948 121.77 L950 121.8 L952 121.76 L954 121.67 L956 121.55 L958 121.41 L960 121.29 L962 121.22 L964 121.2 L966 121.25 L968 121.35 L970 121.48" fill="none" stroke="#0000ff" stroke-width="1.15" shape-rendering="crispEdges" stroke-dasharray="10 4" stroke-dashoffset="11.5"/>
<path d="M862 123.77 L864 123.69 L866 123.56 L868 123.42 L870 123.3 L872 123.22 L874 123.2 L876 123.24 L878 123.33 L880 123.46 L882 123.6 L884 123.71 L886 123.78 L888 123.8 L890 123.75 L892 123.65 L894 123.53 L896 123.43 L898 123.36 L900 123.34 L902 123.38 L904 123.48 L906 123.63 L908 123.81 L910 123.99 L912 124.15 L914 124.25 L916 124.29 L918 124.17 L920 124.01 L922 123.82 L924 123.64 L926 123.5 L928 123.42 L930 123.39 L932 123.43 L934 123.5 L936 123.6 L938 123.69 L940 123.77 L942 123.8 L944 123.77 L946 123.68 L948 123.56 L950 123.42 L952 123.3 L954 123.22 L956 123.2 L958 123.24 L960 123.34 L962 123.46 L964 123.6 L966 123.72 L968 123.79 L970 123.8" fill="none" stroke="#0000ff" stroke-width="1.15" shape-rendering="crispEdges" stroke-dasharray="10 4" stroke-dashoffset="11.5"/>
<path d="M862 129.79 L864 129.79 L866 129.72 L868 129.61 L870 129.48 L872 129.35 L874 129.25 L876 129.2 L878 129.22 L880 129.29 L882 129.41 L884 129.55 L886 129.67 L888 129.76 L890 129.8 L892 129.77 L894 129.69 L896 129.57 L898 129.43 L900 129.31 L902 129.23 L904 129.2 L906 129.24 L908 129.33 L910 129.46 L912 129.59 L914 129.71 L916 129.78 L918 129.8 L920 129.75 L922 129.65 L924 129.52 L926 129.38 L928 129.27 L930 129.21 L932 129.21 L934 129.26 L936 129.37 L938 129.5 L940 129.64 L942 129.74 L944 129.8 L946 129.79 L948 129.72 L950 129.61 L952 129.47 L954 129.34 L956 129.25 L958 129.2 L960 129.22 L962 129.3 L964 129.41 L966 129.55 L968 129.68 L970 129.77" fill="none" stroke="#0000ff" stroke-width="1" shape-rendering="crispEdges"/>
<path d="M862 128.64 L864 128.74 L866 128.8 L868 128.79 L870 128.72 L872 128.61 L874 128.47 L876 128.34 L878 128.24 L880 128.2 L882 128.22 L884 128.3 L886 128.42 L888 128.55 L890 128.68 L892 128.77 L894 128.8 L896 128.77 L898 128.68 L900 128.56 L902 128.42 L904 128.3 L906 128.22 L908 128.2 L910 128.24 L912 128.33 L914 128.46 L916 128.6 L918 128.71 L920 128.79 L922 128.8 L924 128.75 L926 128.65 L928 128.51 L930 128.38 L932 128.27 L934 128.21 L936 128.21 L938 128.27 L940 128.38 L942 128.51 L944 128.64 L946 128.74 L948 128.8 L950 128.79 L952 128.72 L954 128.6 L956 128.47 L958 128.34 L960 128.24 L962 128.2 L964 128.22 L966 128.3 L968 128.42 L970 128.56" fill="none" stroke="#0000ff" stroke-width="1.15" shape-rendering="crispEdges" stroke-dasharray="10 4" stroke-dashoffset="11.5"/>
<path d="M862 130.73 L864 130.62 L866 130.48 L868 130.35 L870 130.25 L872 130.2 L874 130.22 L876 130.29 L878 130.41 L880 130.54 L882 130.67 L884 130.76 L886 130.8 L888 130.78 L890 130.69 L892 130.57 L894 130.43 L896 130.31 L898 130.23 L900 130.2 L902 130.23 L904 130.32 L906 130.45 L908 130.59 L910 130.71 L912 130.78 L914 130.8 L916 130.75 L918 130.66 L920 130.53 L922 130.39 L924 130.28 L926 130.21 L928 130.21 L930 130.26 L932 130.37 L934 130.5 L936 130.63 L938 130.74 L940 130.79 L942 130.79 L944 130.72 L946 130.61 L948 130.48 L950 130.35 L952 130.25 L954 130.2 L956 130.22 L958 130.29 L960 130.41 L962 130.55 L964 130.67 L966 130.76 L968 130.8 L970 130.77" fill="none" stroke="#0000ff" stroke-width="1.15" shape-rendering="crispEdges" stroke-dasharray="10 4" stroke-dashoffset="11.5"/>
<path d="M862 135.73 L864 135.79 L866 135.79 L868 135.73 L870 135.62 L872 135.49 L874 135.36 L876 135.25 L878 135.2 L880 135.21 L882 135.28 L884 135.4 L886 135.54 L888 135.66 L890 135.76 L892 135.8 L894 135.78 L896 135.7 L898 135.58 L900 135.44 L902 135.32 L904 135.23 L906 135.2 L908 135.23 L910 135.32 L912 135.45 L914 135.58 L916 135.7 L918 135.78 L920 135.8 L922 135.76 L924 135.66 L926 135.53 L928 135.4 L930 135.28 L932 135.21 L934 135.2 L936 135.26 L938 135.36 L940 135.49 L942 135.63 L944 135.73 L946 135.79 L948 135.79 L950 135.73 L952 135.62 L954 135.48 L956 135.35 L958 135.25 L960 135.2 L962 135.22 L964 135.29 L966 135.4 L968 135.54 L970 135.67" fill="none" stroke="#0000ff" stroke-width="1" shape-rendering="crispEdges"/>
<path d="M862 134.49 L864 134.63 L866 134.74 L868 134.79 L870 134.79 L872 134.73 L874 134.62 L876 134.48 L878 134.35 L880 134.25 L882 134.2 L884 134.22 L886 134.29 L888 134.41 L890 134.54 L892 134.67 L894 134.76 L896 134.8 L898 134.78 L900 134.69 L902 134.57 L904 134.44 L906 134.31 L908 134.23 L910 134.2 L912 134.23 L914 134.32 L916 134.45 L918 134.59 L920 134.71 L922 134.78 L924 134.8 L926 134.75 L928 134.66 L930 134.53 L932 134.39 L934 134.28 L936 134.21 L938 134.21 L940 134.26 L942 134.37 L944 134.5 L946 134.63 L948 134.74 L950 134.79 L952 134.79 L954 134.73 L956 134.61 L958 134.48 L960 134.35 L962 134.25 L964 134.2 L966 134.22 L968 134.29 L970 134.41" fill="none" stroke="#0000ff" stroke-width="1.15" shape-rendering="crispEdges" stroke-dasharray="10 4" stroke-dashoffset="11.5"/>
<path d="M862 136.79 L864 136.73 L866 136.63 L868 136.49 L870 136.36 L872 136.26 L874 136.2 L876 136.21 L878 136.28 L880 136.39 L882 136.53 L884 136.66 L886 136.76 L888 136.8 L890 136.78 L892 136.7 L894 136.58 L896 136.45 L898 136.32 L900 136.23 L902 136.2 L904 136.23 L906 136.32 L908 136.44 L910 136.58 L912 136.7 L914 136.78 L916 136.8 L918 136.76 L920 136.67 L922 136.54 L924 136.4 L926 136.29 L928 136.21 L930 136.2 L932 136.25 L934 136.35 L936 136.49 L938 136.62 L940 136.73 L942 136.79 L944 136.79 L946 136.73 L948 136.62 L950 136.49 L952 136.36 L954 136.26 L956 136.2 L958 136.21 L960 136.28 L962 136.4 L964 136.53 L966 136.66 L968 136.76 L970 136.8" fill="none" stroke="#0000ff" stroke-width="1.15" shape-rendering="crispEdges" stroke-dasharray="10 4" stroke-dashoffset="11.5"/>
<path d="M862 142.79 L864 142.79 L866 142.73 L868 142.62 L870 142.49 L872 142.35 L874 142.25 L876 142.2 L878 142.22 L880 142.29 L882 142.4 L884 142.54 L886 142.67 L888 142.76 L890 142.8 L892 142.78 L894 142.7 L896 142.58 L898 142.44 L900 142.31 L902 142.23 L904 142.2 L906 142.23 L908 142.32 L910 142.45 L912 142.58 L914 142.7 L916 142.78 L918 142.8 L920 142.76 L922 142.66 L924 142.53 L926 142.39 L928 142.28 L930 142.21 L932 142.2 L934 142.26 L936 142.36 L938 142.49 L940 142.63 L942 142.74 L944 142.79 L946 142.79 L948 142.73 L950 142.62 L952 142.48 L954 142.35 L956 142.25 L958 142.2 L960 142.22 L962 142.29 L964 142.41 L966 142.54 L968 142.67 L970 142.76" fill="none" stroke="#0000ff" stroke-width="1" shape-rendering="crispEdges"/>
<path d="M862 141.63 L864 141.74 L866 141.79 L868 141.79 L870 141.73 L872 141.61 L874 141.48 L876 141.35 L878 141.25 L880 141.2 L882 141.22 L884 141.29 L886 141.41 L888 141.54 L890 141.67 L892 141.76 L894 141.8 L896 141.77 L898 141.69 L900 141.57 L902 141.43 L904 141.31 L906 141.23 L908 141.2 L910 141.24 L912 141.33 L914 141.45 L916 141.59 L918 141.71 L920 141.78 L922 141.8 L924 141.75 L926 141.65 L928 141.52 L930 141.39 L932 141.28 L934 141.21 L936 141.21 L938 141.26 L940 141.37 L942 141.5 L944 141.63 L946 141.74 L948 141.79 L950 141.79 L952 141.72 L954 141.61 L956 141.48 L958 141.35 L960 141.25 L962 141.2 L964 141.22 L966 141.29 L968 141.41 L970 141.55" fill="none" stroke="#0000ff" stroke-width="1.15" shape-rendering="crispEdges" stroke-dasharray="10 4" stroke-dashoffset="11.5"/>
<path d="M862 143.73 L864 143.63 L866 143.49 L868 143.36 L870 143.26 L872 143.2 L874 143.21 L876 143.28 L878 143.4 L880 143.53 L882 143.66 L884 143.76 L886 143.8 L888 143.78 L890 143.7 L892 143.58 L894 143.44 L896 143.32 L898 143.23 L900 143.2 L902 143.23 L904 143.32 L906 143.44 L908 143.58 L910 143.7 L912 143.78 L914 143.8 L916 143.76 L918 143.66 L920 143.54 L922 143.4 L924 143.28 L926 143.21 L928 143.2 L930 143.25 L932 143.36 L934 143.49 L936 143.62 L938 143.73 L940 143.79 L942 143.79 L944 143.73 L946 143.62 L948 143.49 L950 143.36 L952 143.25 L954 143.2 L956 143.21 L958 143.28 L960 143.4 L962 143.54 L964 143.66 L966 143.76 L968 143.8 L970 143.78" fill="none" stroke="#0000ff" stroke-width="1.15" shape-rendering="crispEdges" stroke-dasharray="10 4" stroke-dashoffset="11.5"/>
<path d="M862 149.21 L864 149.2 L866 149.25 L868 149.36 L870 149.49 L872 149.62 L874 149.73 L876 149.79 L878 149.79 L880 149.73 L882 149.62 L884 149.49 L886 149.36 L888 149.25 L890 149.2 L892 149.21 L894 149.28 L896 149.4 L898 149.54 L900 149.66 L902 149.76 L904 149.8 L906 149.78 L908 149.7 L910 149.58 L912 149.44 L914 149.32 L916 149.23 L918 149.2 L920 149.23 L922 149.32 L924 149.44 L926 149.58 L928 149.7 L930 149.78 L932 149.8 L934 149.76 L936 149.66 L938 149.53 L940 149.4 L942 149.28 L944 149.21 L946 149.2 L948 149.26 L950 149.36 L952 149.49 L954 149.63 L956 149.73 L958 149.79 L960 149.79 L962 149.73 L964 149.62 L966 149.49 L968 149.35 L970 149.25" fill="none" stroke="#0000ff" stroke-width="1" shape-rendering="crispEdges"/>
<path d="M862 148.39 L864 148.28 L866 148.21 L868 148.2 L870 148.26 L872 148.36 L874 148.49 L876 148.63 L878 148.74 L880 148.79 L882 148.79 L884 148.73 L886 148.62 L888 148.48 L890 148.35 L892 148.25 L894 148.2 L896 148.22 L898 148.29 L900 148.4 L902 148.54 L904 148.67 L906 148.76 L908 148.8 L910 148.78 L912 148.69 L914 148.57 L916 148.44 L918 148.31 L920 148.23 L922 148.2 L924 148.23 L926 148.32 L928 148.45 L930 148.59 L932 148.71 L934 148.78 L936 148.8 L938 148.75 L940 148.66 L942 148.53 L944 148.39 L946 148.28 L948 148.21 L950 148.2 L952 148.26 L954 148.36 L956 148.5 L958 148.63 L960 148.74 L962 148.79 L964 148.79 L966 148.73 L968 148.61 L970 148.48" fill="none" stroke="#0000ff" stroke-width="1.15" shape-rendering="crispEdges" stroke-dasharray="10 4" stroke-dashoffset="11.5"/>
<path d="M862 150.25 L864 150.35 L866 150.48 L868 150.62 L870 150.73 L872 150.79 L874 150.79 L876 150.74 L878 150.63 L880 150.49 L882 150.36 L884 150.26 L886 150.2 L888 150.21 L890 150.28 L892 150.39 L894 150.53 L896 150.66 L898 150.76 L900 150.8 L902 150.78 L904 150.7 L906 150.58 L908 150.45 L910 150.32 L912 150.23 L914 150.2 L916 150.23 L918 150.31 L920 150.44 L922 150.58 L924 150.7 L926 150.78 L928 150.8 L930 150.76 L932 150.67 L934 150.54 L936 150.4 L938 150.29 L940 150.22 L942 150.2 L944 150.25 L946 150.35 L948 150.49 L950 150.62 L952 150.73 L954 150.79 L956 150.79 L958 150.73 L960 150.63 L962 150.49 L964 150.36 L966 150.26 L968 150.2 L970 150.21" fill="none" stroke="#0000ff" stroke-width="1.15" shape-rendering="crispEdges" stroke-dasharray="10 4" stroke-dashoffset="11.5"/>
<path d="M862 155.71 L864 155.78 L866 155.8 L868 155.75 L870 155.65 L872 155.52 L874 155.38 L876 155.27 L878 155.21 L880 155.21 L882 155.26 L884 155.37 L886 155.51 L888 155.64 L890 155.74 L892 155.8 L894 155.79 L896 155.72 L898 155.61 L900 155.47 L902 155.34 L904 155.24 L906 155.2 L908 155.22 L910 155.3 L912 155.42 L914 155.55 L916 155.68 L918 155.77 L920 155.8 L922 155.77 L924 155.69 L926 155.56 L928 155.42 L930 155.3 L932 155.22 L934 155.2 L936 155.24 L938 155.33 L940 155.46 L942 155.6 L944 155.71 L946 155.78 L948 155.8 L950 155.75 L952 155.65 L954 155.51 L956 155.38 L958 155.27 L960 155.21 L962 155.21 L964 155.27 L966 155.37 L968 155.51 L970 155.64" fill="none" stroke="#0000ff" stroke-width="1" shape-rendering="crispEdges"/>
<path d="M862 154.46 L864 154.6 L866 154.72 L868 154.79 L870 154.8 L872 154.75 L874 154.64 L876 154.51 L878 154.38 L880 154.27 L882 154.21 L884 154.21 L886 154.27 L888 154.38 L890 154.51 L892 154.64 L894 154.75 L896 154.8 L898 154.79 L900 154.72 L902 154.6 L904 154.47 L906 154.34 L908 154.24 L910 154.2 L912 154.22 L914 154.3 L916 154.42 L918 154.56 L920 154.68 L922 154.77 L924 154.8 L926 154.77 L928 154.68 L930 154.56 L932 154.42 L934 154.3 L936 154.22 L938 154.2 L940 154.24 L942 154.34 L944 154.47 L946 154.6 L948 154.72 L950 154.79 L952 154.8 L954 154.74 L956 154.64 L958 154.51 L960 154.37 L962 154.27 L964 154.21 L966 154.21 L968 154.27 L970 154.38" fill="none" stroke="#0000ff" stroke-width="1.15" shape-rendering="crispEdges" stroke-dasharray="10 4" stroke-dashoffset="11.5"/>
<path d="M862 156.8 L864 156.75 L866 156.65 L868 156.52 L870 156.39 L872 156.28 L874 156.21 L876 156.21 L878 156.26 L880 156.37 L882 156.5 L884 156.63 L886 156.74 L888 156.79 L890 156.79 L892 156.72 L894 156.61 L896 156.48 L898 156.35 L900 156.25 L902 156.2 L904 156.22 L906 156.29 L908 156.41 L910 156.55 L912 156.67 L914 156.76 L916 156.8 L918 156.77 L920 156.69 L922 156.57 L924 156.43 L926 156.31 L928 156.23 L930 156.2 L932 156.24 L934 156.33 L936 156.46 L938 156.59 L940 156.71 L942 156.78 L944 156.8 L946 156.75 L948 156.65 L950 156.52 L952 156.39 L954 156.27 L956 156.21 L958 156.21 L960 156.26 L962 156.37 L964 156.5 L966 156.64 L968 156.74 L970 156.8" fill="none" stroke="#0000ff" stroke-width="1.15" shape-rendering="crispEdges" stroke-dasharray="10 4" stroke-dashoffset="11.5"/>
<rect x="861" y="94" width="1" height="66" fill="#000"/>
<rect x="861" y="159" width="109" height="1" fill="#000"/>
<rect x="892" y="158" width="1" height="2" fill="#000"/>
<rect x="927" y="158" width="1" height="2" fill="#000"/>
<rect x="962" y="158" width="1" height="2" fill="#000"/>
<rect x="861" y="104" width="2" height="1" fill="#000"/>
<rect x="861" y="130" width="2" height="1" fill="#000"/>
<rect x="861" y="155" width="2" height="1" fill="#000"/>
<text transform="translate(891.85 177) scale(1 1.2)" text-anchor="middle">10</text>
<text transform="translate(926.69 177) scale(1 1.2)" text-anchor="middle">20</text>
<text transform="translate(961.53 177) scale(1 1.2)" text-anchor="middle">30</text>
<text transform="translate(854 109) scale(1 1.2)" text-anchor="end">4</text>
<text transform="translate(854 135) scale(1 1.2)" text-anchor="end">2</text>
<text transform="translate(854 160.5) scale(1 1.2)" text-anchor="end">0</text>
<text transform="translate(861 86) scale(1 1.2)" text-anchor="start">x 10</text>
<text transform="translate(888 75) scale(1 1.2)" text-anchor="middle">5</text>
<text transform="translate(913 88) scale(1 1.2)" text-anchor="middle">light</text>
<path d="M978.5 160L978.5 136 L979.5 136L979.5 135 L980.5 135L980.5 136 L981.5 136L981.5 136 L982.5 136L982.5 136 L983.5 136L983.5 138 L984.5 138L984.5 138 L985.5 138L985.5 137 L986.5 137L986.5 137 L987.5 137L987.5 137 L988.5 137L988.5 138 L989.5 138L989.5 140 L990.5 140L990.5 140 L991.5 140L991.5 138 L992.5 138L992.5 135 L993.5 135L993.5 134 L994.5 134L994.5 134 L995.5 134L995.5 134 L996.5 134L996.5 135 L997.5 135L997.5 130 L998.5 130L998.5 130 L999.5 130L999.5 132 L1000.5 132L1000.5 134 L1001.5 134L1001.5 137 L1002.5 137L1002.5 139 L1003.5 139L1003.5 140 L1004.5 140L1004.5 140 L1005.5 140L1005.5 140 L1006.5 140L1006.5 138 L1007.5 138L1007.5 138 L1008.5 138L1008.5 135 L1009.5 135L1009.5 134 L1010.5 134L1010.5 134 L1011.5 134L1011.5 130 L1012.5 130L1012.5 128 L1013.5 128L1013.5 130 L1014.5 130L1014.5 131 L1015.5 131L1015.5 130 L1016.5 130L1016.5 132 L1017.5 132L1017.5 134 L1018.5 134L1018.5 137 L1019.5 137L1019.5 135 L1020.5 135L1020.5 133 L1021.5 133L1021.5 132 L1022.5 132L1022.5 131 L1023.5 131L1023.5 132 L1024.5 132L1024.5 132 L1025.5 132L1025.5 132 L1026.5 132L1026.5 132 L1027.5 132L1027.5 132 L1028.5 132L1028.5 132 L1029.5 132L1029.5 132 L1030.5 132L1030.5 138 L1031.5 138L1031.5 141 L1032.5 141L1032.5 141 L1033.5 141L1033.5 141 L1034.5 141L1034.5 139 L1035.5 139L1035.5 139 L1036.5 139L1036.5 139 L1037.5 139L1037.5 140 L1038.5 140L1038.5 142 L1039.5 142L1039.5 138 L1040.5 138L1040.5 138 L1041.5 138L1041.5 140 L1042.5 140L1042.5 140 L1043.5 140L1043.5 142 L1044.5 142L1044.5 145 L1045.5 145L1045.5 145 L1046.5 145L1046.5 143 L1047.5 143L1047.5 142 L1048.5 142L1048.5 141 L1049.5 141L1049.5 140 L1050.5 140L1050.5 138 L1051.5 138L1051.5 134 L1052.5 134L1052.5 129 L1053.5 129L1053.5 128 L1054.5 128L1054.5 128 L1055.5 128L1055.5 126 L1056.5 126L1056.5 124 L1057.5 124L1057.5 122 L1058.5 122L1058.5 122 L1059.5 122L1059.5 123 L1060.5 123L1060.5 133 L1061.5 133L1061.5 134 L1062.5 134L1062.5 132 L1063.5 132L1063.5 131 L1064.5 131L1064.5 133 L1065.5 133L1065.5 137 L1066.5 137L1066.5 136 L1067.5 136L1067.5 132 L1068.5 132L1068.5 130 L1069.5 130L1069.5 128 L1070.5 128L1070.5 126 L1071.5 126L1071.5 128 L1072.5 128L1072.5 130 L1073.5 130L1073.5 132 L1074.5 132L1074.5 134 L1075.5 134L1075.5 134 L1076.5 134L1076.5 133 L1077.5 133L1077.5 133 L1078.5 133L1078.5 128 L1079.5 128L1079.5 128 L1080.5 128L1080.5 129 L1081.5 129L1081.5 131 L1082.5 131L1082.5 133 L1083.5 133L1083.5 138 L1084.5 138L1084.5 137 L1085.5 137L1085.5 137 L1086.5 137L1086.5 138 L1087.5 138L1087.5 160Z" fill="#000" stroke="none" stroke-width="1" shape-rendering="crispEdges"/>
<rect x="978" y="94" width="1" height="66" fill="#000"/>
<rect x="978" y="159" width="109" height="1" fill="#000"/>
<rect x="978" y="94" width="2" height="1" fill="#000"/>
<rect x="978" y="126" width="2" height="1" fill="#000"/>
<text transform="translate(1030 88) scale(1 1.2)" text-anchor="middle">REM start all</text>
<text transform="translate(971 99) scale(1 1.2)" text-anchor="end">1</text>
<text transform="translate(971 131.5) scale(1 1.2)" text-anchor="end">0.5</text>
<text transform="translate(971 164) scale(1 1.2)" text-anchor="end">0</text>
<text transform="translate(991.5 177) scale(1 1.2)" text-anchor="middle">-200</text>
<text transform="translate(1030.5 177) scale(1 1.2)" text-anchor="middle">0</text>
<text transform="translate(1066.5 177) scale(1 1.2)" text-anchor="middle">200</text>
<path d="M156 251L156 212L157.35 212L157.35 212L158.7 212L158.7 225L160.05 225L160.05 231.5L161.4 231.5L161.4 199L162.75 199L162.75 225L164.1 225L164.1 225L165.45 225L165.45 225L166.8 225L166.8 218.5L168.15 218.5L168.15 231.5L169.5 231.5L169.5 205.5L170.85 205.5L170.85 231.5L172.2 231.5L172.2 212L173.55 212L173.55 238L174.9 238L174.9 218.5L176.25 218.5L176.25 225L177.6 225L177.6 231.5L178.95 231.5L178.95 231.5L180.3 231.5L180.3 231.5L181.65 231.5L181.65 218.5L183 218.5L183 225L184.35 225L184.35 225L185.7 225L185.7 244.5L187.05 244.5L187.05 218.5L188.4 218.5L188.4 231.5L189.75 231.5L189.75 192.5L191.1 192.5L191.1 231.5L192.45 231.5L192.45 218.5L193.8 218.5L193.8 218.5L195.15 218.5L195.15 205.5L196.5 205.5L196.5 225L197.85 225L197.85 231.5L199.2 231.5L199.2 225L200.55 225L200.55 231.5L201.9 231.5L201.9 231.5L203.25 231.5L203.25 212L204.6 212L204.6 225L205.95 225L205.95 225L207.3 225L207.3 231.5L208.65 231.5L208.65 238L210 238L210 244.5L211.35 244.5L211.35 238L212.7 238L212.7 212L214.05 212L214.05 238L215.4 238L215.4 231.5L216.75 231.5L216.75 231.5L218.1 231.5L218.1 251L219.45 251L219.45 251L220.8 251L220.8 244.5L222.15 244.5L222.15 238L223.5 238L223.5 238L224.85 238L224.85 251L226.2 251L226.2 231.5L227.55 231.5L227.55 244.5L228.9 244.5L228.9 244.5L230.25 244.5L230.25 238L231.6 238L231.6 238L232.95 238L232.95 231.5L234.3 231.5L234.3 225L235.65 225L235.65 225L237 225L237 225L238.35 225L238.35 231.5L239.7 231.5L239.7 225L241.05 225L241.05 225L242.4 225L242.4 231.5L243.75 231.5L243.75 238L245.1 238L245.1 244.5L246.45 244.5L246.45 251L247.8 251L247.8 238L249.15 238L249.15 231.5L250.5 231.5L250.5 231.5L251.85 231.5L251.85 218.5L253.2 218.5L253.2 231.5L254.55 231.5L254.55 231.5L255.9 231.5L255.9 238L257.25 238L257.25 231.5L258.6 231.5L258.6 212L259.95 212L259.95 225L261.3 225L261.3 238L262.65 238L262.65 231.5L264 231.5L264 251Z" fill="#000" stroke="none" stroke-width="1" shape-rendering="crispEdges"/>
<rect x="156" y="186" width="1" height="66" fill="#000"/>
<rect x="156" y="251" width="109" height="1" fill="#000"/>
<rect x="156" y="186" width="109" height="1" fill="#000"/>
<rect x="264" y="186" width="1" height="66" fill="#000"/>
<rect x="182" y="250" width="1" height="2" fill="#000"/>
<rect x="182" y="186" width="1" height="2" fill="#000"/>
<rect x="210" y="250" width="1" height="2" fill="#000"/>
<rect x="210" y="186" width="1" height="2" fill="#000"/>
<rect x="238" y="250" width="1" height="2" fill="#000"/>
<rect x="238" y="186" width="1" height="2" fill="#000"/>
<rect x="156" y="186" width="2" height="1" fill="#000"/>
<rect x="263" y="186" width="2" height="1" fill="#000"/>
<rect x="156" y="218" width="2" height="1" fill="#000"/>
<rect x="263" y="218" width="2" height="1" fill="#000"/>
<rect x="156" y="251" width="2" height="1" fill="#000"/>
<rect x="263" y="251" width="2" height="1" fill="#000"/>
<text transform="translate(208 180) scale(1 1.2)" text-anchor="middle">10ms pulse to HPC</text>
<text transform="translate(149 191) scale(1 1.2)" text-anchor="end">10</text>
<text transform="translate(149 223.5) scale(1 1.2)" text-anchor="end">5</text>
<text transform="translate(149 256) scale(1 1.2)" text-anchor="end">0</text>
<text transform="translate(179 269) scale(1 1.2)" text-anchor="middle">-0.05</text>
<text transform="translate(209.5 269) scale(1 1.2)" text-anchor="middle">0</text>
<text transform="translate(237 269) scale(1 1.2)" text-anchor="middle">0.05</text>
<rect x="273" y="218" width="109" height="1" fill="#000"/>
<rect x="273" y="186" width="1" height="66" fill="#000"/>
<rect x="273" y="251" width="109" height="1" fill="#000"/>
<rect x="273" y="186" width="109" height="1" fill="#000"/>
<rect x="381" y="186" width="1" height="66" fill="#000"/>
<rect x="290" y="250" width="1" height="2" fill="#000"/>
<rect x="290" y="186" width="1" height="2" fill="#000"/>
<rect x="309" y="250" width="1" height="2" fill="#000"/>
<rect x="309" y="186" width="1" height="2" fill="#000"/>
<rect x="328" y="250" width="1" height="2" fill="#000"/>
<rect x="328" y="186" width="1" height="2" fill="#000"/>
<rect x="346" y="250" width="1" height="2" fill="#000"/>
<rect x="346" y="186" width="1" height="2" fill="#000"/>
<rect x="364" y="250" width="1" height="2" fill="#000"/>
<rect x="364" y="186" width="1" height="2" fill="#000"/>
<rect x="273" y="186" width="2" height="1" fill="#000"/>
<rect x="380" y="186" width="2" height="1" fill="#000"/>
<rect x="273" y="218" width="2" height="1" fill="#000"/>
<rect x="380" y="218" width="2" height="1" fill="#000"/>
<rect x="273" y="251" width="2" height="1" fill="#000"/>
<rect x="380" y="251" width="2" height="1" fill="#000"/>
<text transform="translate(325 180) scale(1 1.2)" text-anchor="middle">200ms pulse to MS</text>
<text transform="translate(266 191) scale(1 1.2)" text-anchor="end">1</text>
<text transform="translate(266 223.5) scale(1 1.2)" text-anchor="end">0</text>
<text transform="translate(266 256) scale(1 1.2)" text-anchor="end">-1</text>
<text transform="translate(286.9 269) scale(1 1.2)" text-anchor="middle">-0.1</text>
<text transform="translate(308.5 269) scale(1 1.2)" text-anchor="middle">0</text>
<text transform="translate(327.1 269) scale(1 1.2)" text-anchor="middle">0.1</text>
<text transform="translate(345.5 269) scale(1 1.2)" text-anchor="middle">0.2</text>
<text transform="translate(363.9 269) scale(1 1.2)" text-anchor="middle">0.3</text>
<rect x="393" y="234" width="4" height="17" fill="#000"/>
<rect x="399" y="234" width="2" height="17" fill="#000"/>
<rect x="402" y="218" width="2" height="33" fill="#000"/>
<rect x="405" y="234" width="2" height="17" fill="#000"/>
<rect x="424" y="234" width="9" height="17" fill="#000"/>
<rect x="437" y="218" width="2" height="33" fill="#000"/>
<rect x="439" y="234" width="4" height="17" fill="#000"/>
<rect x="448" y="234" width="2" height="17" fill="#000"/>
<rect x="452" y="234" width="2" height="17" fill="#000"/>
<rect x="460" y="234" width="2" height="17" fill="#000"/>
<rect x="464" y="234" width="2" height="17" fill="#000"/>
<rect x="470" y="218" width="2" height="33" fill="#000"/>
<rect x="472" y="234" width="4" height="17" fill="#000"/>
<rect x="477" y="202" width="2" height="49" fill="#000"/>
<rect x="480" y="234" width="1" height="17" fill="#000"/>
<rect x="483" y="234" width="2" height="17" fill="#000"/>
<rect x="486" y="218" width="2" height="33" fill="#000"/>
<rect x="488" y="234" width="1" height="17" fill="#000"/>
<rect x="490" y="234" width="2" height="17" fill="#000"/>
<rect x="493" y="218" width="1" height="33" fill="#000"/>
<rect x="391" y="186" width="1" height="66" fill="#000"/>
<rect x="391" y="251" width="109" height="1" fill="#000"/>
<rect x="391" y="186" width="109" height="1" fill="#000"/>
<rect x="499" y="186" width="1" height="66" fill="#000"/>
<rect x="397" y="250" width="1" height="2" fill="#000"/>
<rect x="397" y="186" width="1" height="2" fill="#000"/>
<rect x="412" y="250" width="1" height="2" fill="#000"/>
<rect x="412" y="186" width="1" height="2" fill="#000"/>
<rect x="427" y="250" width="1" height="2" fill="#000"/>
<rect x="427" y="186" width="1" height="2" fill="#000"/>
<rect x="442" y="250" width="1" height="2" fill="#000"/>
<rect x="442" y="186" width="1" height="2" fill="#000"/>
<rect x="456" y="250" width="1" height="2" fill="#000"/>
<rect x="456" y="186" width="1" height="2" fill="#000"/>
<rect x="471" y="250" width="1" height="2" fill="#000"/>
<rect x="471" y="186" width="1" height="2" fill="#000"/>
<rect x="486" y="250" width="1" height="2" fill="#000"/>
<rect x="486" y="186" width="1" height="2" fill="#000"/>
<rect x="391" y="186" width="2" height="1" fill="#000"/>
<rect x="498" y="186" width="2" height="1" fill="#000"/>
<rect x="391" y="218" width="2" height="1" fill="#000"/>
<rect x="498" y="218" width="2" height="1" fill="#000"/>
<rect x="391" y="251" width="2" height="1" fill="#000"/>
<rect x="498" y="251" width="2" height="1" fill="#000"/>
<text transform="translate(443 180) scale(1 1.2)" text-anchor="middle">1ms pulse to MS</text>
<text transform="translate(384 191) scale(1 1.2)" text-anchor="end">4</text>
<text transform="translate(384 223.5) scale(1 1.2)" text-anchor="end">2</text>
<text transform="translate(384 256) scale(1 1.2)" text-anchor="end">0</text>
<text transform="translate(393.1 269) scale(1 1.2)" text-anchor="middle">-0.04</text>
<text transform="translate(408.5 269) scale(1 1.2)" text-anchor="middle">-0.02</text>
<text transform="translate(426.1 269) scale(1 1.2)" text-anchor="middle">0</text>
<text transform="translate(441.1 269) scale(1 1.2)" text-anchor="middle">0.02</text>
<text transform="translate(455.5 269) scale(1 1.2)" text-anchor="middle">0.04</text>
<text transform="translate(470.5 269) scale(1 1.2)" text-anchor="middle">0.06</text>
<text transform="translate(485.1 269) scale(1 1.2)" text-anchor="middle">0.08</text>
<rect x="513" y="229" width="6" height="22" fill="#000"/>
<rect x="514" y="230" width="4" height="21" fill="#0000ff"/>
<rect x="520" y="222" width="6" height="29" fill="#000"/>
<rect x="521" y="223" width="4" height="28" fill="#0000ff"/>
<rect x="527" y="224" width="6" height="27" fill="#000"/>
<rect x="528" y="225" width="4" height="26" fill="#0000ff"/>
<rect x="534" y="218" width="6" height="33" fill="#000"/>
<rect x="535" y="219" width="4" height="32" fill="#0000ff"/>
<rect x="541" y="229" width="6" height="22" fill="#000"/>
<rect x="542" y="230" width="4" height="21" fill="#0000ff"/>
<rect x="556" y="201" width="6" height="50" fill="#000"/>
<rect x="557" y="202" width="4" height="49" fill="#0000ff"/>
<rect x="563" y="223" width="6" height="28" fill="#000"/>
<rect x="564" y="224" width="4" height="27" fill="#0000ff"/>
<rect x="570" y="201" width="6" height="50" fill="#000"/>
<rect x="571" y="202" width="4" height="49" fill="#0000ff"/>
<rect x="577" y="206" width="6" height="45" fill="#000"/>
<rect x="578" y="207" width="4" height="44" fill="#0000ff"/>
<rect x="584" y="212" width="6" height="39" fill="#000"/>
<rect x="585" y="213" width="4" height="38" fill="#0000ff"/>
<rect x="508" y="186" width="1" height="66" fill="#000"/>
<rect x="508" y="251" width="109" height="1" fill="#000"/>
<rect x="508" y="186" width="109" height="1" fill="#000"/>
<rect x="616" y="186" width="1" height="66" fill="#000"/>
<rect x="516" y="250" width="1" height="2" fill="#000"/>
<rect x="516" y="186" width="1" height="2" fill="#000"/>
<rect x="523" y="250" width="1" height="2" fill="#000"/>
<rect x="523" y="186" width="1" height="2" fill="#000"/>
<rect x="530" y="250" width="1" height="2" fill="#000"/>
<rect x="530" y="186" width="1" height="2" fill="#000"/>
<rect x="537" y="250" width="1" height="2" fill="#000"/>
<rect x="537" y="186" width="1" height="2" fill="#000"/>
<rect x="544" y="250" width="1" height="2" fill="#000"/>
<rect x="544" y="186" width="1" height="2" fill="#000"/>
<rect x="551" y="250" width="1" height="2" fill="#000"/>
<rect x="551" y="186" width="1" height="2" fill="#000"/>
<rect x="559" y="250" width="1" height="2" fill="#000"/>
<rect x="559" y="186" width="1" height="2" fill="#000"/>
<rect x="566" y="250" width="1" height="2" fill="#000"/>
<rect x="566" y="186" width="1" height="2" fill="#000"/>
<rect x="573" y="250" width="1" height="2" fill="#000"/>
<rect x="573" y="186" width="1" height="2" fill="#000"/>
<rect x="580" y="250" width="1" height="2" fill="#000"/>
<rect x="580" y="186" width="1" height="2" fill="#000"/>
<rect x="587" y="250" width="1" height="2" fill="#000"/>
<rect x="587" y="186" width="1" height="2" fill="#000"/>
<rect x="508" y="186" width="2" height="1" fill="#000"/>
<rect x="615" y="186" width="2" height="1" fill="#000"/>
<rect x="508" y="218" width="2" height="1" fill="#000"/>
<rect x="615" y="218" width="2" height="1" fill="#000"/>
<rect x="508" y="251" width="2" height="1" fill="#000"/>
<rect x="615" y="251" width="2" height="1" fill="#000"/>
<text transform="translate(560 180) scale(1 1.2)" text-anchor="middle">state FR</text>
<text transform="translate(501 191) scale(1 1.2)" text-anchor="end">1</text>
<text transform="translate(501 223.5) scale(1 1.2)" text-anchor="end">0.5</text>
<text transform="translate(501 256) scale(1 1.2)" text-anchor="end">0</text>
<text transform="translate(515.16 269) scale(1 1.2)" text-anchor="middle">1</text>
<text transform="translate(522.32 269) scale(1 1.2)" text-anchor="middle">2</text>
<text transform="translate(529.48 269) scale(1 1.2)" text-anchor="middle">3</text>
<text transform="translate(536.64 269) scale(1 1.2)" text-anchor="middle">4</text>
<text transform="translate(543.8 269) scale(1 1.2)" text-anchor="middle">5</text>
<text transform="translate(550.96 269) scale(1 1.2)" text-anchor="middle">6</text>
<text transform="translate(558.12 269) scale(1 1.2)" text-anchor="middle">7</text>
<text transform="translate(565.28 269) scale(1 1.2)" text-anchor="middle">8</text>
<text transform="translate(572.44 269) scale(1 1.2)" text-anchor="middle">9</text>
<text transform="translate(579.6 269) scale(1 1.2)" text-anchor="middle">10</text>
<text transform="translate(586.76 269) scale(1 1.2)" text-anchor="middle">11</text>
<rect x="628" y="234" width="1" height="17" fill="#0000ff"/>
<rect x="682" y="234" width="1" height="17" fill="#000"/>
<rect x="629" y="202" width="2" height="49" fill="#0000ff"/>
<rect x="683" y="202" width="2" height="49" fill="#000"/>
<rect x="631" y="234" width="1" height="17" fill="#0000ff"/>
<rect x="685" y="234" width="1" height="17" fill="#000"/>
<rect x="632" y="202" width="1" height="49" fill="#0000ff"/>
<rect x="686" y="202" width="1" height="49" fill="#000"/>
<rect x="633" y="218" width="2" height="33" fill="#0000ff"/>
<rect x="687" y="218" width="2" height="33" fill="#000"/>
<rect x="635" y="234" width="1" height="17" fill="#0000ff"/>
<rect x="689" y="234" width="1" height="17" fill="#000"/>
<rect x="636" y="218" width="2" height="33" fill="#0000ff"/>
<rect x="690" y="218" width="2" height="33" fill="#000"/>
<rect x="638" y="234" width="1" height="17" fill="#0000ff"/>
<rect x="692" y="234" width="1" height="17" fill="#000"/>
<rect x="640" y="218" width="2" height="33" fill="#0000ff"/>
<rect x="694" y="218" width="2" height="33" fill="#000"/>
<rect x="643" y="218" width="1" height="33" fill="#0000ff"/>
<rect x="697" y="218" width="1" height="33" fill="#000"/>
<rect x="644" y="234" width="3" height="17" fill="#0000ff"/>
<rect x="698" y="234" width="3" height="17" fill="#000"/>
<rect x="648" y="218" width="1" height="33" fill="#0000ff"/>
<rect x="702" y="218" width="1" height="33" fill="#000"/>
<rect x="649" y="234" width="2" height="17" fill="#0000ff"/>
<rect x="703" y="234" width="2" height="17" fill="#000"/>
<rect x="651" y="218" width="1" height="33" fill="#0000ff"/>
<rect x="705" y="218" width="1" height="33" fill="#000"/>
<rect x="653" y="218" width="3" height="33" fill="#0000ff"/>
<rect x="707" y="218" width="3" height="33" fill="#000"/>
<rect x="656" y="234" width="1" height="17" fill="#0000ff"/>
<rect x="710" y="234" width="1" height="17" fill="#000"/>
<rect x="658" y="234" width="1" height="17" fill="#0000ff"/>
<rect x="712" y="234" width="1" height="17" fill="#000"/>
<rect x="659" y="218" width="2" height="33" fill="#0000ff"/>
<rect x="713" y="218" width="2" height="33" fill="#000"/>
<rect x="661" y="234" width="2" height="17" fill="#0000ff"/>
<rect x="715" y="234" width="2" height="17" fill="#000"/>
<rect x="663" y="218" width="2" height="33" fill="#0000ff"/>
<rect x="717" y="218" width="2" height="33" fill="#000"/>
<rect x="665" y="202" width="1" height="49" fill="#0000ff"/>
<rect x="719" y="202" width="1" height="49" fill="#000"/>
<rect x="666" y="218" width="2" height="33" fill="#0000ff"/>
<rect x="720" y="218" width="2" height="33" fill="#000"/>
<rect x="668" y="234" width="3" height="17" fill="#0000ff"/>
<rect x="722" y="234" width="3" height="17" fill="#000"/>
<rect x="671" y="218" width="2" height="33" fill="#0000ff"/>
<rect x="725" y="218" width="2" height="33" fill="#000"/>
<rect x="674" y="234" width="3" height="17" fill="#0000ff"/>
<rect x="728" y="234" width="3" height="17" fill="#000"/>
<rect x="677" y="218" width="2" height="33" fill="#0000ff"/>
<rect x="731" y="218" width="2" height="33" fill="#000"/>
<rect x="679" y="234" width="1" height="17" fill="#0000ff"/>
<rect x="733" y="234" width="1" height="17" fill="#000"/>
<rect x="626" y="186" width="1" height="66" fill="#000"/>
<rect x="626" y="251" width="109" height="1" fill="#000"/>
<rect x="626" y="186" width="109" height="1" fill="#000"/>
<rect x="734" y="186" width="1" height="66" fill="#000"/>
<rect x="626" y="250" width="1" height="2" fill="#000"/>
<rect x="626" y="186" width="1" height="2" fill="#000"/>
<rect x="656" y="250" width="1" height="2" fill="#000"/>
<rect x="656" y="186" width="1" height="2" fill="#000"/>
<rect x="686" y="250" width="1" height="2" fill="#000"/>
<rect x="686" y="186" width="1" height="2" fill="#000"/>
<rect x="716" y="250" width="1" height="2" fill="#000"/>
<rect x="716" y="186" width="1" height="2" fill="#000"/>
<rect x="626" y="186" width="2" height="1" fill="#000"/>
<rect x="733" y="186" width="2" height="1" fill="#000"/>
<rect x="626" y="218" width="2" height="1" fill="#000"/>
<rect x="733" y="218" width="2" height="1" fill="#000"/>
<rect x="626" y="251" width="2" height="1" fill="#000"/>
<rect x="733" y="251" width="2" height="1" fill="#000"/>
<text transform="translate(619 191) scale(1 1.2)" text-anchor="end">4</text>
<text transform="translate(619 223.5) scale(1 1.2)" text-anchor="end">2</text>
<text transform="translate(619 256) scale(1 1.2)" text-anchor="end">0</text>
<text transform="translate(625.5 269) scale(1 1.2)" text-anchor="middle">0</text>
<text transform="translate(655.5 269) scale(1 1.2)" text-anchor="middle">200</text>
<text transform="translate(685.5 269) scale(1 1.2)" text-anchor="middle">400</text>
<text transform="translate(715.5 269) scale(1 1.2)" text-anchor="middle">600</text>
<rect x="755" y="186" width="2" height="65" fill="#0000ff"/>
<rect x="809" y="186" width="2" height="65" fill="#000"/>
<rect x="782" y="186" width="1" height="65" fill="#0000ff"/>
<rect x="836" y="186" width="1" height="65" fill="#000"/>
<rect x="784" y="186" width="1" height="65" fill="#0000ff"/>
<rect x="838" y="186" width="1" height="65" fill="#000"/>
<rect x="787" y="186" width="2" height="65" fill="#0000ff"/>
<rect x="841" y="186" width="2" height="65" fill="#000"/>
<rect x="794" y="186" width="1" height="65" fill="#0000ff"/>
<rect x="848" y="186" width="1" height="65" fill="#000"/>
<rect x="797" y="186" width="1" height="65" fill="#000"/>
<rect x="743" y="186" width="1" height="66" fill="#000"/>
<rect x="743" y="251" width="109" height="1" fill="#000"/>
<rect x="743" y="186" width="109" height="1" fill="#000"/>
<rect x="851" y="186" width="1" height="66" fill="#000"/>
<rect x="743" y="250" width="1" height="2" fill="#000"/>
<rect x="743" y="186" width="1" height="2" fill="#000"/>
<rect x="773" y="250" width="1" height="2" fill="#000"/>
<rect x="773" y="186" width="1" height="2" fill="#000"/>
<rect x="803" y="250" width="1" height="2" fill="#000"/>
<rect x="803" y="186" width="1" height="2" fill="#000"/>
<rect x="833" y="250" width="1" height="2" fill="#000"/>
<rect x="833" y="186" width="1" height="2" fill="#000"/>
<rect x="743" y="186" width="2" height="1" fill="#000"/>
<rect x="850" y="186" width="2" height="1" fill="#000"/>
<rect x="743" y="218" width="2" height="1" fill="#000"/>
<rect x="850" y="218" width="2" height="1" fill="#000"/>
<rect x="743" y="251" width="2" height="1" fill="#000"/>
<rect x="850" y="251" width="2" height="1" fill="#000"/>
<text transform="translate(736 191) scale(1 1.2)" text-anchor="end">1</text>
<text transform="translate(736 223.5) scale(1 1.2)" text-anchor="end">0.5</text>
<text transform="translate(736 256) scale(1 1.2)" text-anchor="end">0</text>
<text transform="translate(742.5 269) scale(1 1.2)" text-anchor="middle">0</text>
<text transform="translate(772.5 269) scale(1 1.2)" text-anchor="middle">200</text>
<text transform="translate(802.5 269) scale(1 1.2)" text-anchor="middle">400</text>
<text transform="translate(832.5 269) scale(1 1.2)" text-anchor="middle">600</text>
<rect x="861" y="234" width="3" height="17" fill="#0000ff"/>
<rect x="915" y="234" width="3" height="17" fill="#000"/>
<rect x="864" y="202" width="2" height="49" fill="#0000ff"/>
<rect x="918" y="202" width="2" height="49" fill="#000"/>
<rect x="867" y="218" width="1" height="33" fill="#0000ff"/>
<rect x="921" y="218" width="1" height="33" fill="#000"/>
<rect x="868" y="234" width="4" height="17" fill="#0000ff"/>
<rect x="922" y="234" width="4" height="17" fill="#000"/>
<rect x="874" y="234" width="1" height="17" fill="#0000ff"/>
<rect x="928" y="234" width="1" height="17" fill="#000"/>
<rect x="876" y="234" width="1" height="17" fill="#0000ff"/>
<rect x="930" y="234" width="1" height="17" fill="#000"/>
<rect x="879" y="234" width="1" height="17" fill="#0000ff"/>
<rect x="933" y="234" width="1" height="17" fill="#000"/>
<rect x="881" y="234" width="3" height="17" fill="#0000ff"/>
<rect x="935" y="234" width="3" height="17" fill="#000"/>
<rect x="887" y="234" width="4" height="17" fill="#0000ff"/>
<rect x="941" y="234" width="4" height="17" fill="#000"/>
<rect x="892" y="234" width="1" height="17" fill="#0000ff"/>
<rect x="946" y="234" width="1" height="17" fill="#000"/>
<rect x="894" y="234" width="1" height="17" fill="#0000ff"/>
<rect x="948" y="234" width="1" height="17" fill="#000"/>
<rect x="900" y="234" width="1" height="17" fill="#0000ff"/>
<rect x="954" y="234" width="1" height="17" fill="#000"/>
<rect x="903" y="234" width="2" height="17" fill="#0000ff"/>
<rect x="957" y="234" width="2" height="17" fill="#000"/>
<rect x="907" y="234" width="1" height="17" fill="#0000ff"/>
<rect x="961" y="234" width="1" height="17" fill="#000"/>
<rect x="909" y="234" width="2" height="17" fill="#0000ff"/>
<rect x="963" y="234" width="2" height="17" fill="#000"/>
<rect x="913" y="234" width="1" height="17" fill="#0000ff"/>
<rect x="967" y="234" width="1" height="17" fill="#000"/>
<rect x="861" y="186" width="1" height="66" fill="#000"/>
<rect x="861" y="251" width="109" height="1" fill="#000"/>
<rect x="861" y="186" width="109" height="1" fill="#000"/>
<rect x="969" y="186" width="1" height="66" fill="#000"/>
<rect x="861" y="250" width="1" height="2" fill="#000"/>
<rect x="861" y="186" width="1" height="2" fill="#000"/>
<rect x="891" y="250" width="1" height="2" fill="#000"/>
<rect x="891" y="186" width="1" height="2" fill="#000"/>
<rect x="921" y="250" width="1" height="2" fill="#000"/>
<rect x="921" y="186" width="1" height="2" fill="#000"/>
<rect x="951" y="250" width="1" height="2" fill="#000"/>
<rect x="951" y="186" width="1" height="2" fill="#000"/>
<rect x="861" y="186" width="2" height="1" fill="#000"/>
<rect x="968" y="186" width="2" height="1" fill="#000"/>
<rect x="861" y="218" width="2" height="1" fill="#000"/>
<rect x="968" y="218" width="2" height="1" fill="#000"/>
<rect x="861" y="251" width="2" height="1" fill="#000"/>
<rect x="968" y="251" width="2" height="1" fill="#000"/>
<text transform="translate(854 191) scale(1 1.2)" text-anchor="end">4</text>
<text transform="translate(854 223.5) scale(1 1.2)" text-anchor="end">2</text>
<text transform="translate(854 256) scale(1 1.2)" text-anchor="end">0</text>
<text transform="translate(860.5 269) scale(1 1.2)" text-anchor="middle">0</text>
<text transform="translate(890.5 269) scale(1 1.2)" text-anchor="middle">200</text>
<text transform="translate(920.5 269) scale(1 1.2)" text-anchor="middle">400</text>
<text transform="translate(950.5 269) scale(1 1.2)" text-anchor="middle">600</text>
<path d="M978.5 252L978.5 229 L979.5 229L979.5 230 L980.5 230L980.5 229 L981.5 229L981.5 228 L982.5 228L982.5 222 L983.5 222L983.5 221 L984.5 221L984.5 221 L985.5 221L985.5 222 L986.5 222L986.5 224 L987.5 224L987.5 225 L988.5 225L988.5 228 L989.5 228L989.5 232 L990.5 232L990.5 232 L991.5 232L991.5 232 L992.5 232L992.5 228 L993.5 228L993.5 224 L994.5 224L994.5 223 L995.5 223L995.5 223 L996.5 223L996.5 224 L997.5 224L997.5 226 L998.5 226L998.5 227 L999.5 227L999.5 228 L1000.5 228L1000.5 228 L1001.5 228L1001.5 227 L1002.5 227L1002.5 226 L1003.5 226L1003.5 225 L1004.5 225L1004.5 225 L1005.5 225L1005.5 226 L1006.5 226L1006.5 227 L1007.5 227L1007.5 227 L1008.5 227L1008.5 227 L1009.5 227L1009.5 227 L1010.5 227L1010.5 227 L1011.5 227L1011.5 229 L1012.5 229L1012.5 231 L1013.5 231L1013.5 230 L1014.5 230L1014.5 227 L1015.5 227L1015.5 225 L1016.5 225L1016.5 224 L1017.5 224L1017.5 225 L1018.5 225L1018.5 225 L1019.5 225L1019.5 225 L1020.5 225L1020.5 225 L1021.5 225L1021.5 225 L1022.5 225L1022.5 224 L1023.5 224L1023.5 225 L1024.5 225L1024.5 224 L1025.5 224L1025.5 221 L1026.5 221L1026.5 222 L1027.5 222L1027.5 231 L1028.5 231L1028.5 232 L1029.5 232L1029.5 237 L1030.5 237L1030.5 241 L1031.5 241L1031.5 240 L1032.5 240L1032.5 246 L1033.5 246L1033.5 244 L1034.5 244L1034.5 239 L1035.5 239L1035.5 235 L1036.5 235L1036.5 234 L1037.5 234L1037.5 233 L1038.5 233L1038.5 231 L1039.5 231L1039.5 230 L1040.5 230L1040.5 229 L1041.5 229L1041.5 228 L1042.5 228L1042.5 226 L1043.5 226L1043.5 222 L1044.5 222L1044.5 219 L1045.5 219L1045.5 219 L1046.5 219L1046.5 219 L1047.5 219L1047.5 216 L1048.5 216L1048.5 215 L1049.5 215L1049.5 214 L1050.5 214L1050.5 215 L1051.5 215L1051.5 219 L1052.5 219L1052.5 222 L1053.5 222L1053.5 221 L1054.5 221L1054.5 221 L1055.5 221L1055.5 221 L1056.5 221L1056.5 223 L1057.5 223L1057.5 226 L1058.5 226L1058.5 227 L1059.5 227L1059.5 227 L1060.5 227L1060.5 226 L1061.5 226L1061.5 225 L1062.5 225L1062.5 222 L1063.5 222L1063.5 221 L1064.5 221L1064.5 222 L1065.5 222L1065.5 221 L1066.5 221L1066.5 222 L1067.5 222L1067.5 222 L1068.5 222L1068.5 221 L1069.5 221L1069.5 220 L1070.5 220L1070.5 218 L1071.5 218L1071.5 217 L1072.5 217L1072.5 218 L1073.5 218L1073.5 222 L1074.5 222L1074.5 228 L1075.5 228L1075.5 229 L1076.5 229L1076.5 232 L1077.5 232L1077.5 234 L1078.5 234L1078.5 233 L1079.5 233L1079.5 232 L1080.5 232L1080.5 231 L1081.5 231L1081.5 230 L1082.5 230L1082.5 228 L1083.5 228L1083.5 229 L1084.5 229L1084.5 231 L1085.5 231L1085.5 233 L1086.5 233L1086.5 234 L1087.5 234L1087.5 252Z" fill="#000" stroke="none" stroke-width="1" shape-rendering="crispEdges"/>
<rect x="978" y="186" width="1" height="66" fill="#000"/>
<rect x="978" y="251" width="109" height="1" fill="#000"/>
<rect x="978" y="186" width="2" height="1" fill="#000"/>
<rect x="978" y="218" width="2" height="1" fill="#000"/>
<text transform="translate(1030 180) scale(1 1.2)" text-anchor="middle">REM end all</text>
<text transform="translate(971 191) scale(1 1.2)" text-anchor="end">1</text>
<text transform="translate(971 223.5) scale(1 1.2)" text-anchor="end">0.5</text>
<text transform="translate(971 256) scale(1 1.2)" text-anchor="end">0</text>
<text transform="translate(991.5 269) scale(1 1.2)" text-anchor="middle">-200</text>
<text transform="translate(1030.5 269) scale(1 1.2)" text-anchor="middle">0</text>
<text transform="translate(1066.5 269) scale(1 1.2)" text-anchor="middle">200</text>
<path d="M157 325.5L157 319.97 L158 319.97L158 319.57 L159 319.57L159 318.2 L160 318.2L160 320.87 L161 320.87L161 319.6 L162 319.6L162 317.61 L163 317.61L163 317.1 L164 317.1L164 320.9 L165 320.9L165 321.5 L166 321.5L166 321.75 L167 321.75L167 322.21 L168 322.21L168 320.13 L169 320.13L169 321.83 L170 321.83L170 322.41 L171 322.41L171 320.3 L172 320.3L172 321.46 L173 321.46L173 322.71 L174 322.71L174 322.92 L175 322.92L175 322.44 L176 322.44L176 323.21 L177 323.21L177 322.09 L178 322.09L178 321.34 L179 321.34L179 322.37 L180 322.37L180 320.83 L181 320.83L181 320.1 L182 320.1L182 322.32 L183 322.32L183 303.5 L184 303.5L184 323.5 L185 323.5L185 323.74 L186 323.74L186 321.38 L187 321.38L187 323.14 L188 323.14L188 323.56 L189 323.56L189 321.72 L190 321.72L190 321.98 L191 321.98L191 323.43 L192 323.43L192 323.45 L193 323.45L193 323.58 L194 323.58L194 323.56 L195 323.56L195 323.76 L196 323.76L196 323.06 L197 323.06L197 323.41 L198 323.41L198 323.31 L199 323.31L199 323.62 L200 323.62L200 324.44 L201 324.44L201 324.61 L202 324.61L202 323.26 L203 323.26L203 323.37 L204 323.37L204 323.83 L205 323.83L205 324.47 L206 324.47L206 324.57 L207 324.57L207 324.61 L208 324.61L208 324.44 L209 324.44L209 324.61 L210 324.61L210 324.49 L211 324.49L211 324.54 L212 324.54L212 324.56 L213 324.56L213 323.83 L214 323.83L214 324.1 L215 324.1L215 324.12 L216 324.12L216 324.3 L217 324.3L217 324.04 L218 324.04L218 323.41 L219 323.41L219 324.24 L220 324.24L220 324.57 L221 324.57L221 324.19 L222 324.19L222 324.29 L223 324.29L223 323.46 L224 323.46L224 324.41 L225 324.41L225 323.22 L226 323.22L226 324.4 L227 324.4L227 324.05 L228 324.05L228 324.16 L229 324.16L229 324.37 L230 324.37L230 323.16 L231 323.16L231 323.47 L232 323.47L232 324.38 L233 324.38L233 324.13 L234 324.13L234 323.85 L235 323.85L235 324.51 L236 324.51L236 324.61 L237 324.61L237 323.96 L238 323.96L238 323.54 L239 323.54L239 324.04 L240 324.04L240 323.64 L241 323.64L241 323.39 L242 323.39L242 323.79 L243 323.79L243 322.27 L244 322.27L244 321.65 L245 321.65L245 323.08 L246 323.08L246 323.91 L247 323.91L247 323.67 L248 323.67L248 322.52 L249 322.52L249 323.54 L250 323.54L250 323.96 L251 323.96L251 323.98 L252 323.98L252 322.88 L253 322.88L253 322.95 L254 322.95L254 323.68 L255 323.68L255 323.09 L256 323.09L256 322.56 L257 322.56L257 321.69 L258 321.69L258 322.06 L259 322.06L259 323.26 L260 323.26L260 320.03 L261 320.03L261 318.58 L262 318.58L262 318.75 L263 318.75L263 319.62 L264 319.62L264 320.74 L265 320.74L265 321.32 L266 321.32L266 319.39 L267 319.39L267 320.49 L268 320.49L268 320.12 L269 320.12L269 322.18 L270 322.18L270 322.78 L271 322.78L271 322.56 L272 322.56L272 321.29 L273 321.29L273 321.11 L274 321.11L274 322.42 L275 322.42L275 322.68 L276 322.68L276 318.86 L277 318.86L277 322.2 L278 322.2L278 318.96 L279 318.96L279 319.51 L280 319.51L280 320.79 L281 320.79L281 318.14 L282 318.14L282 319.95 L283 319.95L283 322.42 L284 322.42L284 318.9 L285 318.9L285 321.4 L286 321.4L286 318.9 L287 318.9L287 319.21 L288 319.21L288 322.19 L289 322.19L289 322.82 L290 322.82L290 322.94 L291 322.94L291 320.17 L292 320.17L292 319.6 L293 319.6L293 322.09 L294 322.09L294 322.74 L295 322.74L295 322.26 L296 322.26L296 319.92 L297 319.92L297 319.89 L298 319.89L298 319 L299 319L299 318.05 L300 318.05L300 319.46 L301 319.46L301 319.16 L302 319.16L302 322.28 L303 322.28L303 307.9 L304 307.9L304 316.86 L305 316.86L305 318.12 L306 318.12L306 320 L307 320L307 320.93 L308 320.93L308 320.49 L309 320.49L309 320.38 L310 320.38L310 319.56 L311 319.56L311 319.68 L312 319.68L312 320.71 L313 320.71L313 321.12 L314 321.12L314 320.96 L315 320.96L315 321.1 L316 321.1L316 321.17 L317 321.17L317 320.15 L318 320.15L318 320.95 L319 320.95L319 317.36 L320 317.36L320 312.3 L321 312.3L321 319.47 L322 319.47L322 318.43 L323 318.43L323 320.39 L324 320.39L324 321.11 L325 321.11L325 321.2 L326 321.2L326 320.52 L327 320.52L327 320.29 L328 320.29L328 320.67 L329 320.67L329 320.54 L330 320.54L330 316.98 L331 316.98L331 320.5 L332 320.5L332 319.85 L333 319.85L333 320.07 L334 320.07L334 318.53 L335 318.53L335 314.26 L336 314.26L336 309.66 L337 309.66L337 318.89 L338 318.89L338 318.84 L339 318.84L339 310.63 L340 310.63L340 316.45 L341 316.45L341 309.31 L342 309.31L342 315.18 L343 315.18L343 317.29 L344 317.29L344 315.1 L345 315.1L345 318.94 L346 318.94L346 316.72 L347 316.72L347 319.87 L348 319.87L348 320.1 L349 320.1L349 317.06 L350 317.06L350 318.43 L351 318.43L351 279.74 L352 279.74L352 319.02 L353 319.02L353 316.16 L354 316.16L354 319.74 L355 319.74L355 318.26 L356 318.26L356 319.93 L357 319.93L357 320.21 L358 320.21L358 316.31 L359 316.31L359 318.74 L360 318.74L360 318.09 L361 318.09L361 288.54 L362 288.54L362 319.07 L363 319.07L363 317.38 L364 317.38L364 319.13 L365 319.13L365 321.16 L366 321.16L366 319.55 L367 319.55L367 317.08 L368 317.08L368 317.88 L369 317.88L369 320.19 L370 320.19L370 320.8 L371 320.8L371 321.71 L372 321.71L372 318.96 L373 318.96L373 321.29 L374 321.29L374 321.58 L375 321.58L375 319.01 L376 319.01L376 318.27 L377 318.27L377 316.96 L378 316.96L378 315.98 L379 315.98L379 317.68 L380 317.68L380 316.55 L381 316.55L381 312.78 L382 312.78L382 317.33 L383 317.33L383 318.05 L384 318.05L384 315.76 L385 315.76L385 310.52 L386 310.52L386 309.36 L387 309.36L387 313.73 L388 313.73L388 317.51 L389 317.51L389 307.9 L390 307.9L390 308.26 L391 308.26L391 309.24 L392 309.24L392 314.09 L393 314.09L393 312.43 L394 312.43L394 291.18 L395 291.18L395 306.4 L396 306.4L396 294.94 L397 294.94L397 303.49 L398 303.49L398 304.83 L399 304.83L399 307.5 L400 307.5L400 305.04 L401 305.04L401 304.54 L402 304.54L402 307.7 L403 307.7L403 306.29 L404 306.29L404 297.02 L405 297.02L405 306.74 L406 306.74L406 308.34 L407 308.34L407 308.19 L408 308.19L408 298.78 L409 298.78L409 306.48 L410 306.48L410 299.22 L411 299.22L411 306.77 L412 306.77L412 309.24 L413 309.24L413 311.09 L414 311.09L414 318.9 L415 318.9L415 318.19 L416 318.19L416 312.34 L417 312.34L417 318.83 L418 318.83L418 316.22 L419 316.22L419 311.04 L420 311.04L420 311.67 L421 311.67L421 319.31 L422 319.31L422 321.9 L423 321.9L423 322.53 L424 322.53L424 321.51 L425 321.51L425 311.25 L426 311.25L426 293.82 L427 293.82L427 305.79 L428 305.79L428 307.21 L429 307.21L429 307.82 L430 307.82L430 305.05 L431 305.05L431 310.24 L432 310.24L432 308.01 L433 308.01L433 316.87 L434 316.87L434 318.73 L435 318.73L435 319.56 L436 319.56L436 315.81 L437 315.81L437 302.93 L438 302.93L438 312.18 L439 312.18L439 306.36 L440 306.36L440 312.75 L441 312.75L441 317.73 L442 317.73L442 319.45 L443 319.45L443 312.25 L444 312.25L444 317.5 L445 317.5L445 317.65 L446 317.65L446 319.14 L447 319.14L447 320.11 L448 320.11L448 320.35 L449 320.35L449 321.05 L450 321.05L450 315.46 L451 315.46L451 310.91 L452 310.91L452 307.44 L453 307.44L453 307.85 L454 307.85L454 312.24 L455 312.24L455 303.09 L456 303.09L456 312.14 L457 312.14L457 311.62 L458 311.62L458 302.62 L459 302.62L459 322.64 L460 322.64L460 317.63 L461 317.63L461 319.15 L462 319.15L462 322.5 L463 322.5L463 323 L464 323L464 319.26 L465 319.26L465 321.72 L466 321.72L466 322.47 L467 322.47L467 322.62 L468 322.62L468 322.53 L469 322.53L469 321.02 L470 321.02L470 317.25 L471 317.25L471 301.74 L472 301.74L472 317.33 L473 317.33L473 319.17 L474 319.17L474 319.15 L475 319.15L475 320.73 L476 320.73L476 316.82 L477 316.82L477 315.44 L478 315.44L478 317.89 L479 317.89L479 320.05 L480 320.05L480 321.42 L481 321.42L481 319.23 L482 319.23L482 320.87 L483 320.87L483 321.57 L484 321.57L484 319.95 L485 319.95L485 319.44 L486 319.44L486 315.77 L487 315.77L487 313.55 L488 313.55L488 320.46 L489 320.46L489 319.65 L490 319.65L490 321.35 L491 321.35L491 321.25 L492 321.25L492 319.2 L493 319.2L493 316.89 L494 316.89L494 319.15 L495 319.15L495 316.29 L496 316.29L496 318.88 L497 318.88L497 314.15 L498 314.15L498 319.17 L499 319.17L499 317.16 L500 317.16L500 319.9 L501 319.9L501 318.17 L502 318.17L502 316.23 L503 316.23L503 314.01 L504 314.01L504 315.26 L505 315.26L505 317.41 L506 317.41L506 318.8 L507 318.8L507 317.4 L508 317.4L508 316.98 L509 316.98L509 317.23 L510 317.23L510 314.16 L511 314.16L511 313.21 L512 313.21L512 310.29 L513 310.29L513 314 L514 314L514 311.36 L515 311.36L515 312.77 L516 312.77L516 316.61 L517 316.61L517 312.89 L518 312.89L518 316.73 L519 316.73L519 312.55 L520 312.55L520 311.06 L521 311.06L521 310.52 L522 310.52L522 310.22 L523 310.22L523 313.16 L524 313.16L524 315.73 L525 315.73L525 317.71 L526 317.71L526 315.13 L527 315.13L527 311.32 L528 311.32L528 316.49 L529 316.49L529 318.23 L530 318.23L530 313.79 L531 313.79L531 310.82 L532 310.82L532 317.22 L533 317.22L533 318.61 L534 318.61L534 318.93 L535 318.93L535 316.27 L536 316.27L536 312.41 L537 312.41L537 311.84 L538 311.84L538 304.33 L539 304.33L539 311.26 L540 311.26L540 301.74 L541 301.74L541 308.53 L542 308.53L542 304.38 L543 304.38L543 307.91 L544 307.91L544 299.1 L545 299.1L545 309.66 L546 309.66L546 310.22 L547 310.22L547 308.6 L548 308.6L548 312.07 L549 312.07L549 312.08 L550 312.08L550 310.92 L551 310.92L551 306.65 L552 306.65L552 311.12 L553 311.12L553 317.11 L554 317.11L554 310.12 L555 310.12L555 313.63 L556 313.63L556 316.54 L557 316.54L557 313.14 L558 313.14L558 313.41 L559 313.41L559 312.11 L560 312.11L560 314.97 L561 314.97L561 314.91 L562 314.91L562 318.29 L563 318.29L563 317.24 L564 317.24L564 320.51 L565 320.51L565 321.76 L566 321.76L566 321.48 L567 321.48L567 316.87 L568 316.87L568 321.23 L569 321.23L569 322.31 L570 322.31L570 321.74 L571 321.74L571 322.27 L572 322.27L572 322.6 L573 322.6L573 316.75 L574 316.75L574 319.37 L575 319.37L575 322.08 L576 322.08L576 320.46 L577 320.46L577 322.03 L578 322.03L578 320.8 L579 320.8L579 316.02 L580 316.02L580 314.73 L581 314.73L581 320.03 L582 320.03L582 317.79 L583 317.79L583 319.97 L584 319.97L584 322.14 L585 322.14L585 321.35 L586 321.35L586 317.72 L587 317.72L587 317.42 L588 317.42L588 317.93 L589 317.93L589 314.95 L590 314.95L590 319.2 L591 319.2L591 317.89 L592 317.89L592 316.64 L593 316.64L593 315.37 L594 315.37L594 315.69 L595 315.69L595 315.72 L596 315.72L596 319.52 L597 319.52L597 320.03 L598 320.03L598 318.69 L599 318.69L599 320.71 L600 320.71L600 320.54 L601 320.54L601 320.25 L602 320.25L602 320.8 L603 320.8L603 320.95 L604 320.95L604 318.6 L605 318.6L605 320.16 L606 320.16L606 321.05 L607 321.05L607 317.4 L608 317.4L608 315.28 L609 315.28L609 319.85 L610 319.85L610 318.15 L611 318.15L611 320.66 L612 320.66L612 320.83 L613 320.83L613 321.01 L614 321.01L614 318.69 L615 318.69L615 318.86 L616 318.86L616 290.3 L617 290.3L617 317.8 L618 317.8L618 317.19 L619 317.19L619 315.98 L620 315.98L620 318.21 L621 318.21L621 320.38 L622 320.38L622 320.93 L623 320.93L623 316.83 L624 316.83L624 316.43 L625 316.43L625 317.84 L626 317.84L626 315.3 L627 315.3L627 316.26 L628 316.26L628 319.33 L629 319.33L629 320.68 L630 320.68L630 320 L631 320L631 316.05 L632 316.05L632 315.63 L633 315.63L633 320.26 L634 320.26L634 321.09 L635 321.09L635 319.97 L636 319.97L636 316.12 L637 316.12L637 315.74 L638 315.74L638 316.09 L639 316.09L639 320.31 L640 320.31L640 320.81 L641 320.81L641 317.57 L642 317.57L642 319.37 L643 319.37L643 320.26 L644 320.26L644 315.64 L645 315.64L645 320.26 L646 320.26L646 319.6 L647 319.6L647 316.33 L648 316.33L648 307.98 L649 307.98L649 302.05 L650 302.05L650 311.91 L651 311.91L651 299.1 L652 299.1L652 307.58 L653 307.58L653 318.55 L654 318.55L654 318.35 L655 318.35L655 308.82 L656 308.82L656 318.66 L657 318.66L657 313.36 L658 313.36L658 312.85 L659 312.85L659 318.84 L660 318.84L660 308.95 L661 308.95L661 311.48 L662 311.48L662 309.83 L663 309.83L663 289.56 L664 289.56L664 289.91 L665 289.91L665 301.25 L666 301.25L666 292.06 L667 292.06L667 296.61 L668 296.61L668 300.09 L669 300.09L669 296.35 L670 296.35L670 286.78 L671 286.78L671 304.39 L672 304.39L672 295.12 L673 295.12L673 295.93 L674 295.93L674 306.73 L675 306.73L675 306.9 L676 306.9L676 304.8 L677 304.8L677 304.33 L678 304.33L678 288.59 L679 288.59L679 287.9 L680 287.9L680 306.03 L681 306.03L681 300.95 L682 300.95L682 307.9 L683 307.9L683 293.85 L684 293.85L684 300.92 L685 300.92L685 278.86 L686 278.86L686 301 L687 301L687 300.51 L688 300.51L688 309.11 L689 309.11L689 310.95 L690 310.95L690 305.03 L691 305.03L691 307.87 L692 307.87L692 304.41 L693 304.41L693 321.2 L694 321.2L694 324.24 L695 324.24L695 324.51 L696 324.51L696 324.86 L697 324.86L697 324.84 L698 324.84L698 324.91 L699 324.91L699 324.69 L700 324.69L700 325 L701 325L701 324.89 L702 324.89L702 324.78 L703 324.78L703 324.66 L704 324.66L704 324.39 L705 324.39L705 324.84 L706 324.84L706 324.34 L707 324.34L707 324.56 L708 324.56L708 324.86 L709 324.86L709 324.79 L710 324.79L710 324.92 L711 324.92L711 324.72 L712 324.72L712 325.01 L713 325.01L713 324.46 L714 324.46L714 322.33 L715 322.33L715 322.62 L716 322.62L716 322.63 L717 322.63L717 310.54 L718 310.54L718 323.68 L719 323.68L719 321.5 L720 321.5L720 323.08 L721 323.08L721 323.13 L722 323.13L722 324.35 L723 324.35L723 324.5 L724 324.5L724 323.28 L725 323.28L725 323.32 L726 323.32L726 323.11 L727 323.11L727 324.47 L728 324.47L728 324.73 L729 324.73L729 323.98 L730 323.98L730 324.45 L731 324.45L731 324.71 L732 324.71L732 324.76 L733 324.76L733 324.6 L734 324.6L734 325.5Z" fill="#0000ff" stroke="none" stroke-width="1" shape-rendering="crispEdges"/>
<rect x="156" y="325" width="579" height="1" fill="#0000ff"/>
<rect x="248" y="338" width="1" height="6" fill="#000"/>
<rect x="341" y="338" width="1" height="6" fill="#000"/>
<rect x="434" y="338" width="1" height="6" fill="#000"/>
<rect x="527" y="338" width="1" height="6" fill="#000"/>
<rect x="620" y="338" width="1" height="6" fill="#000"/>
<rect x="713" y="338" width="1" height="6" fill="#000"/>
<rect x="156" y="329" width="578" height="9" fill="#000"/>
<rect x="194" y="329" width="5" height="9" fill="#ffff00"/>
<rect x="202" y="329" width="7" height="9" fill="#0000ff"/>
<rect x="222" y="329" width="7" height="9" fill="#ffff00"/>
<rect x="229" y="329" width="2" height="9" fill="#0000ff"/>
<rect x="231" y="329" width="2" height="9" fill="#ffff00"/>
<rect x="233" y="329" width="4" height="9" fill="#0000ff"/>
<rect x="237" y="329" width="9" height="9" fill="#ffff00"/>
<rect x="246" y="329" width="1" height="9" fill="#0000ff"/>
<rect x="247" y="329" width="2" height="9" fill="#ffff00"/>
<rect x="249" y="329" width="42" height="9" fill="#0000ff"/>
<rect x="291" y="329" width="5" height="9" fill="#ff0000"/>
<rect x="296" y="329" width="8" height="9" fill="#ffff00"/>
<rect x="304" y="329" width="28" height="9" fill="#0000ff"/>
<rect x="332" y="329" width="2" height="9" fill="#ff0000"/>
<rect x="334" y="329" width="9" height="9" fill="#0000ff"/>
<rect x="343" y="329" width="2" height="9" fill="#ff0000"/>
<rect x="345" y="329" width="3" height="9" fill="#0000ff"/>
<rect x="348" y="329" width="2" height="9" fill="#ff0000"/>
<rect x="350" y="329" width="16" height="9" fill="#ffff00"/>
<rect x="366" y="329" width="3" height="9" fill="#0000ff"/>
<rect x="369" y="329" width="6" height="9" fill="#ffff00"/>
<rect x="375" y="329" width="22" height="9" fill="#0000ff"/>
<rect x="475" y="329" width="10" height="9" fill="#0000ff"/>
<rect x="500" y="329" width="2" height="9" fill="#ffff00"/>
<rect x="502" y="329" width="21" height="9" fill="#0000ff"/>
<rect x="523" y="329" width="2" height="9" fill="#ff0000"/>
<rect x="525" y="329" width="12" height="9" fill="#0000ff"/>
<rect x="537" y="329" width="3" height="9" fill="#ff0000"/>
<rect x="540" y="329" width="15" height="9" fill="#0000ff"/>
<rect x="555" y="329" width="1" height="9" fill="#ffff00"/>
<rect x="556" y="329" width="4" height="9" fill="#0000ff"/>
<rect x="560" y="329" width="2" height="9" fill="#00ff00"/>
<rect x="562" y="329" width="4" height="9" fill="#0000ff"/>
<rect x="566" y="329" width="1" height="9" fill="#00ff00"/>
<rect x="567" y="329" width="3" height="9" fill="#ff0000"/>
<rect x="570" y="329" width="15" height="9" fill="#0000ff"/>
<rect x="585" y="329" width="2" height="9" fill="#ffff00"/>
<rect x="587" y="329" width="9" height="9" fill="#0000ff"/>
<rect x="596" y="329" width="10" height="9" fill="#ffff00"/>
<rect x="606" y="329" width="9" height="9" fill="#0000ff"/>
<rect x="615" y="329" width="3" height="9" fill="#ff0000"/>
<rect x="618" y="329" width="6" height="9" fill="#0000ff"/>
<rect x="624" y="329" width="2" height="9" fill="#ff0000"/>
<rect x="626" y="329" width="19" height="9" fill="#0000ff"/>
<rect x="645" y="329" width="3" height="9" fill="#ff0000"/>
<rect x="648" y="329" width="4" height="9" fill="#0000ff"/>
<rect x="652" y="329" width="14" height="9" fill="#ffff00"/>
<rect x="192" y="338" width="205" height="6" fill="#ff00ff"/>
<rect x="156" y="278" width="1" height="66" fill="#000"/>
<rect x="156" y="343" width="579" height="1" fill="#000"/>
<rect x="156" y="278" width="579" height="1" fill="#000"/>
<rect x="734" y="278" width="1" height="66" fill="#000"/>
<rect x="248" y="278" width="1" height="6" fill="#000"/>
<rect x="341" y="278" width="1" height="6" fill="#000"/>
<rect x="434" y="278" width="1" height="6" fill="#000"/>
<rect x="527" y="278" width="1" height="6" fill="#000"/>
<rect x="620" y="278" width="1" height="6" fill="#000"/>
<rect x="713" y="278" width="1" height="6" fill="#000"/>
<rect x="156" y="290" width="6" height="1" fill="#000"/>
<rect x="729" y="290" width="6" height="1" fill="#000"/>
<rect x="156" y="308" width="6" height="1" fill="#000"/>
<rect x="729" y="308" width="6" height="1" fill="#000"/>
<rect x="156" y="326" width="6" height="1" fill="#000"/>
<rect x="729" y="326" width="6" height="1" fill="#000"/>
<text transform="translate(149 295.5) scale(1 1.2)" text-anchor="end">2</text>
<text transform="translate(149 313) scale(1 1.2)" text-anchor="end">1</text>
<text transform="translate(149 330.5) scale(1 1.2)" text-anchor="end">0</text>
<text transform="translate(149 348) scale(1 1.2)" text-anchor="end">-1</text>
<text transform="translate(155.5 361) scale(1 1.2)" text-anchor="middle">0</text>
<text transform="translate(247.97 361) scale(1 1.2)" text-anchor="middle">0.5</text>
<text transform="translate(340.85 361) scale(1 1.2)" text-anchor="middle">1</text>
<text transform="translate(433.73 361) scale(1 1.2)" text-anchor="middle">1.5</text>
<text transform="translate(526.6 361) scale(1 1.2)" text-anchor="middle">2</text>
<text transform="translate(619.48 361) scale(1 1.2)" text-anchor="middle">2.5</text>
<text transform="translate(712.35 361) scale(1 1.2)" text-anchor="middle">3</text>
<rect x="743" y="278" width="1" height="65" fill="#0000ff"/>
<rect x="797" y="278" width="1" height="65" fill="#000"/>
<rect x="744" y="310" width="10" height="33" fill="#0000ff"/>
<rect x="798" y="310" width="10" height="33" fill="#000"/>
<rect x="755" y="310" width="1" height="33" fill="#0000ff"/>
<rect x="809" y="310" width="1" height="33" fill="#000"/>
<rect x="756" y="278" width="1" height="65" fill="#0000ff"/>
<rect x="810" y="278" width="1" height="65" fill="#000"/>
<rect x="757" y="310" width="1" height="33" fill="#0000ff"/>
<rect x="811" y="310" width="1" height="33" fill="#000"/>
<rect x="758" y="278" width="1" height="65" fill="#0000ff"/>
<rect x="812" y="278" width="1" height="65" fill="#000"/>
<rect x="759" y="310" width="1" height="33" fill="#0000ff"/>
<rect x="813" y="310" width="1" height="33" fill="#000"/>
<rect x="763" y="310" width="2" height="33" fill="#0000ff"/>
<rect x="817" y="310" width="2" height="33" fill="#000"/>
<rect x="767" y="310" width="1" height="33" fill="#0000ff"/>
<rect x="821" y="310" width="1" height="33" fill="#000"/>
<rect x="770" y="310" width="4" height="33" fill="#0000ff"/>
<rect x="824" y="310" width="4" height="33" fill="#000"/>
<rect x="778" y="310" width="7" height="33" fill="#0000ff"/>
<rect x="832" y="310" width="7" height="33" fill="#000"/>
<rect x="786" y="310" width="4" height="33" fill="#0000ff"/>
<rect x="840" y="310" width="4" height="33" fill="#000"/>
<rect x="791" y="310" width="5" height="33" fill="#0000ff"/>
<rect x="845" y="310" width="5" height="33" fill="#000"/>
<rect x="743" y="278" width="1" height="66" fill="#000"/>
<rect x="743" y="343" width="109" height="1" fill="#000"/>
<rect x="743" y="278" width="109" height="1" fill="#000"/>
<rect x="851" y="278" width="1" height="66" fill="#000"/>
<rect x="743" y="342" width="1" height="2" fill="#000"/>
<rect x="743" y="278" width="1" height="2" fill="#000"/>
<rect x="773" y="342" width="1" height="2" fill="#000"/>
<rect x="773" y="278" width="1" height="2" fill="#000"/>
<rect x="803" y="342" width="1" height="2" fill="#000"/>
<rect x="803" y="278" width="1" height="2" fill="#000"/>
<rect x="833" y="342" width="1" height="2" fill="#000"/>
<rect x="833" y="278" width="1" height="2" fill="#000"/>
<rect x="743" y="278" width="2" height="1" fill="#000"/>
<rect x="850" y="278" width="2" height="1" fill="#000"/>
<rect x="743" y="310" width="2" height="1" fill="#000"/>
<rect x="850" y="310" width="2" height="1" fill="#000"/>
<rect x="743" y="343" width="2" height="1" fill="#000"/>
<rect x="850" y="343" width="2" height="1" fill="#000"/>
<text transform="translate(736 283) scale(1 1.2)" text-anchor="end">2</text>
<text transform="translate(736 315.5) scale(1 1.2)" text-anchor="end">1</text>
<text transform="translate(736 348) scale(1 1.2)" text-anchor="end">0</text>
<text transform="translate(742.5 361) scale(1 1.2)" text-anchor="middle">0</text>
<text transform="translate(772.5 361) scale(1 1.2)" text-anchor="middle">200</text>
<text transform="translate(802.5 361) scale(1 1.2)" text-anchor="middle">400</text>
<text transform="translate(832.5 361) scale(1 1.2)" text-anchor="middle">600</text>
<rect x="861" y="304" width="2" height="39" fill="#0000ff"/>
<rect x="915" y="304" width="2" height="39" fill="#000"/>
<rect x="863" y="317" width="1" height="26" fill="#0000ff"/>
<rect x="917" y="317" width="1" height="26" fill="#000"/>
<rect x="864" y="323" width="1" height="20" fill="#0000ff"/>
<rect x="918" y="323" width="1" height="20" fill="#000"/>
<rect x="865" y="330" width="1" height="13" fill="#0000ff"/>
<rect x="919" y="330" width="1" height="13" fill="#000"/>
<rect x="866" y="323" width="1" height="20" fill="#0000ff"/>
<rect x="920" y="323" width="1" height="20" fill="#000"/>
<rect x="867" y="317" width="3" height="26" fill="#0000ff"/>
<rect x="921" y="317" width="3" height="26" fill="#000"/>
<rect x="870" y="336" width="1" height="7" fill="#0000ff"/>
<rect x="924" y="336" width="1" height="7" fill="#000"/>
<rect x="871" y="330" width="1" height="13" fill="#0000ff"/>
<rect x="925" y="330" width="1" height="13" fill="#000"/>
<rect x="872" y="323" width="1" height="20" fill="#0000ff"/>
<rect x="926" y="323" width="1" height="20" fill="#000"/>
<rect x="873" y="330" width="2" height="13" fill="#0000ff"/>
<rect x="927" y="330" width="2" height="13" fill="#000"/>
<rect x="875" y="336" width="1" height="7" fill="#0000ff"/>
<rect x="929" y="336" width="1" height="7" fill="#000"/>
<rect x="876" y="323" width="2" height="20" fill="#0000ff"/>
<rect x="930" y="323" width="2" height="20" fill="#000"/>
<rect x="878" y="336" width="7" height="7" fill="#0000ff"/>
<rect x="932" y="336" width="7" height="7" fill="#000"/>
<rect x="885" y="330" width="3" height="13" fill="#0000ff"/>
<rect x="939" y="330" width="3" height="13" fill="#000"/>
<rect x="888" y="336" width="1" height="7" fill="#0000ff"/>
<rect x="942" y="336" width="1" height="7" fill="#000"/>
<rect x="889" y="330" width="1" height="13" fill="#0000ff"/>
<rect x="943" y="330" width="1" height="13" fill="#000"/>
<rect x="890" y="336" width="2" height="7" fill="#0000ff"/>
<rect x="944" y="336" width="2" height="7" fill="#000"/>
<rect x="892" y="330" width="1" height="13" fill="#0000ff"/>
<rect x="946" y="330" width="1" height="13" fill="#000"/>
<rect x="893" y="336" width="4" height="7" fill="#0000ff"/>
<rect x="947" y="336" width="4" height="7" fill="#000"/>
<rect x="897" y="330" width="2" height="13" fill="#0000ff"/>
<rect x="951" y="330" width="2" height="13" fill="#000"/>
<rect x="899" y="336" width="1" height="7" fill="#0000ff"/>
<rect x="953" y="336" width="1" height="7" fill="#000"/>
<rect x="900" y="330" width="2" height="13" fill="#0000ff"/>
<rect x="954" y="330" width="2" height="13" fill="#000"/>
<rect x="902" y="336" width="2" height="7" fill="#0000ff"/>
<rect x="956" y="336" width="2" height="7" fill="#000"/>
<rect x="904" y="330" width="1" height="13" fill="#0000ff"/>
<rect x="958" y="330" width="1" height="13" fill="#000"/>
<rect x="905" y="336" width="1" height="7" fill="#0000ff"/>
<rect x="959" y="336" width="1" height="7" fill="#000"/>
<rect x="906" y="330" width="1" height="13" fill="#0000ff"/>
<rect x="960" y="330" width="1" height="13" fill="#000"/>
<rect x="907" y="323" width="2" height="20" fill="#0000ff"/>
<rect x="961" y="323" width="2" height="20" fill="#000"/>
<rect x="909" y="330" width="2" height="13" fill="#0000ff"/>
<rect x="963" y="330" width="2" height="13" fill="#000"/>
<rect x="911" y="323" width="2" height="20" fill="#0000ff"/>
<rect x="965" y="323" width="2" height="20" fill="#000"/>
<rect x="913" y="317" width="1" height="26" fill="#0000ff"/>
<rect x="967" y="317" width="1" height="26" fill="#000"/>
<rect x="914" y="330" width="1" height="13" fill="#0000ff"/>
<rect x="968" y="330" width="1" height="13" fill="#000"/>
<rect x="861" y="278" width="1" height="66" fill="#000"/>
<rect x="861" y="343" width="109" height="1" fill="#000"/>
<rect x="861" y="278" width="109" height="1" fill="#000"/>
<rect x="969" y="278" width="1" height="66" fill="#000"/>
<rect x="861" y="342" width="1" height="2" fill="#000"/>
<rect x="861" y="278" width="1" height="2" fill="#000"/>
<rect x="891" y="342" width="1" height="2" fill="#000"/>
<rect x="891" y="278" width="1" height="2" fill="#000"/>
<rect x="921" y="342" width="1" height="2" fill="#000"/>
<rect x="921" y="278" width="1" height="2" fill="#000"/>
<rect x="951" y="342" width="1" height="2" fill="#000"/>
<rect x="951" y="278" width="1" height="2" fill="#000"/>
<rect x="861" y="278" width="2" height="1" fill="#000"/>
<rect x="968" y="278" width="2" height="1" fill="#000"/>
<rect x="861" y="310" width="2" height="1" fill="#000"/>
<rect x="968" y="310" width="2" height="1" fill="#000"/>
<rect x="861" y="343" width="2" height="1" fill="#000"/>
<rect x="968" y="343" width="2" height="1" fill="#000"/>
<text transform="translate(854 283) scale(1 1.2)" text-anchor="end">10</text>
<text transform="translate(854 315.5) scale(1 1.2)" text-anchor="end">5</text>
<text transform="translate(854 348) scale(1 1.2)" text-anchor="end">0</text>
<text transform="translate(860.5 361) scale(1 1.2)" text-anchor="middle">0</text>
<text transform="translate(890.5 361) scale(1 1.2)" text-anchor="middle">200</text>
<text transform="translate(920.5 361) scale(1 1.2)" text-anchor="middle">400</text>
<text transform="translate(950.5 361) scale(1 1.2)" text-anchor="middle">600</text>
<path d="M978.5 344L978.5 311 L979.5 311L979.5 314 L980.5 314L980.5 317 L981.5 317L981.5 318 L982.5 318L982.5 317 L983.5 317L983.5 312 L984.5 312L984.5 306 L985.5 306L985.5 302 L986.5 302L986.5 300 L987.5 300L987.5 297 L988.5 297L988.5 290 L989.5 290L989.5 282 L990.5 282L990.5 280 L991.5 280L991.5 282 L992.5 282L992.5 288 L993.5 288L993.5 302 L994.5 302L994.5 311 L995.5 311L995.5 313 L996.5 313L996.5 312 L997.5 312L997.5 310 L998.5 310L998.5 308 L999.5 308L999.5 306 L1000.5 306L1000.5 305 L1001.5 305L1001.5 304 L1002.5 304L1002.5 303 L1003.5 303L1003.5 303 L1004.5 303L1004.5 304 L1005.5 304L1005.5 306 L1006.5 306L1006.5 306 L1007.5 306L1007.5 305 L1008.5 305L1008.5 302 L1009.5 302L1009.5 298 L1010.5 298L1010.5 298 L1011.5 298L1011.5 297 L1012.5 297L1012.5 293 L1013.5 293L1013.5 291 L1014.5 291L1014.5 290 L1015.5 290L1015.5 286 L1016.5 286L1016.5 284 L1017.5 284L1017.5 290 L1018.5 290L1018.5 296 L1019.5 296L1019.5 301 L1020.5 301L1020.5 306 L1021.5 306L1021.5 309 L1022.5 309L1022.5 309 L1023.5 309L1023.5 308 L1024.5 308L1024.5 311 L1025.5 311L1025.5 312 L1026.5 312L1026.5 313 L1027.5 313L1027.5 314 L1028.5 314L1028.5 314 L1029.5 314L1029.5 308 L1030.5 308L1030.5 305 L1031.5 305L1031.5 306 L1032.5 306L1032.5 301 L1033.5 301L1033.5 308 L1034.5 308L1034.5 308 L1035.5 308L1035.5 308 L1036.5 308L1036.5 308 L1037.5 308L1037.5 309 L1038.5 309L1038.5 312 L1039.5 312L1039.5 318 L1040.5 318L1040.5 321 L1041.5 321L1041.5 318 L1042.5 318L1042.5 315 L1043.5 315L1043.5 314 L1044.5 314L1044.5 311 L1045.5 311L1045.5 308 L1046.5 308L1046.5 307 L1047.5 307L1047.5 306 L1048.5 306L1048.5 305 L1049.5 305L1049.5 299 L1050.5 299L1050.5 293 L1051.5 293L1051.5 291 L1052.5 291L1052.5 296 L1053.5 296L1053.5 303 L1054.5 303L1054.5 306 L1055.5 306L1055.5 310 L1056.5 310L1056.5 301 L1057.5 301L1057.5 302 L1058.5 302L1058.5 302 L1059.5 302L1059.5 306 L1060.5 306L1060.5 308 L1061.5 308L1061.5 306 L1062.5 306L1062.5 306 L1063.5 306L1063.5 312 L1064.5 312L1064.5 318 L1065.5 318L1065.5 319 L1066.5 319L1066.5 326 L1067.5 326L1067.5 327 L1068.5 327L1068.5 316 L1069.5 316L1069.5 306 L1070.5 306L1070.5 303 L1071.5 303L1071.5 300 L1072.5 300L1072.5 304 L1073.5 304L1073.5 309 L1074.5 309L1074.5 311 L1075.5 311L1075.5 309 L1076.5 309L1076.5 311 L1077.5 311L1077.5 312 L1078.5 312L1078.5 313 L1079.5 313L1079.5 315 L1080.5 315L1080.5 314 L1081.5 314L1081.5 309 L1082.5 309L1082.5 307 L1083.5 307L1083.5 310 L1084.5 310L1084.5 314 L1085.5 314L1085.5 317 L1086.5 317L1086.5 317 L1087.5 317L1087.5 344Z" fill="#000" stroke="none" stroke-width="1" shape-rendering="crispEdges"/>
<rect x="978" y="278" width="1" height="66" fill="#000"/>
<rect x="978" y="343" width="109" height="1" fill="#000"/>
<rect x="978" y="278" width="2" height="1" fill="#000"/>
<rect x="978" y="310" width="2" height="1" fill="#000"/>
<text transform="translate(1030 272) scale(1 1.2)" text-anchor="middle">REM start</text>
<text transform="translate(971 283) scale(1 1.2)" text-anchor="end">0.4</text>
<text transform="translate(971 315.5) scale(1 1.2)" text-anchor="end">0.2</text>
<text transform="translate(971 348) scale(1 1.2)" text-anchor="end">0</text>
<text transform="translate(991.5 361) scale(1 1.2)" text-anchor="middle">-200</text>
<text transform="translate(1030.5 361) scale(1 1.2)" text-anchor="middle">0</text>
<text transform="translate(1066.5 361) scale(1 1.2)" text-anchor="middle">200</text>
<path d="M156.5 436L156.5 423 L158 423L158 417 L161 417L161 412 L162 412L162 422 L163 422L163 418 L165 418L165 420 L166 420L166 415 L168 415L168 417 L169 417L169 420 L170 420L170 417 L172 417L172 418 L173 418L173 420 L174 420L174 418 L175 418L175 417 L179 417L179 420 L180 420L180 422 L181 422L181 415 L183 415L183 422 L185 422L185 426 L186 426L186 417 L187 417L187 420 L189 420L189 422 L190 422L190 418 L191 418L191 415 L192 415L192 413 L194 413L194 415 L195 415L195 413 L197 413L197 417 L199 417L199 420 L200 420L200 415 L201 415L201 407 L203 407L203 405 L205 405L205 410 L206 410L206 415 L207 415L207 412 L209 412L209 404 L210 404L210 409 L211 409L211 397 L213 397L213 405 L215 405L215 396 L217 396L217 402 L219 402L219 404 L220 404L220 405 L222 405L222 409 L224 409L224 405 L226 405L226 404 L228 404L228 409 L230 409L230 407 L231 407L231 405 L233 405L233 412 L235 412L235 422 L237 422L237 412 L239 412L239 413 L240 413L240 417 L241 417L241 420 L242 420L242 422 L244 422L244 423 L245 423L245 426 L246 426L246 417 L247 417L247 413 L249 413L249 417 L251 417L251 418 L253 418L253 420 L254 420L254 415 L255 415L255 413 L257 413L257 425 L258 425L258 422 L259 422L259 418 L261 418L261 415 L263 415L263 418 L265 418L265 436Z" fill="#000" stroke="none" stroke-width="1" shape-rendering="crispEdges"/>
<rect x="156" y="370" width="1" height="66" fill="#000"/>
<rect x="156" y="435" width="109" height="1" fill="#000"/>
<rect x="182" y="434" width="1" height="2" fill="#000"/>
<rect x="210" y="434" width="1" height="2" fill="#000"/>
<rect x="238" y="434" width="1" height="2" fill="#000"/>
<rect x="156" y="370" width="2" height="1" fill="#000"/>
<rect x="156" y="402" width="2" height="1" fill="#000"/>
<text transform="translate(208 364) scale(1 1.2)" text-anchor="middle">ripple start</text>
<text transform="translate(149 375) scale(1 1.2)" text-anchor="end">40</text>
<text transform="translate(149 407.5) scale(1 1.2)" text-anchor="end">20</text>
<text transform="translate(149 440) scale(1 1.2)" text-anchor="end">0</text>
<text transform="translate(179 453) scale(1 1.2)" text-anchor="middle">-0.05</text>
<text transform="translate(209.5 453) scale(1 1.2)" text-anchor="middle">0</text>
<text transform="translate(237 453) scale(1 1.2)" text-anchor="middle">0.05</text>
<rect x="156" y="422" width="1" height="2" fill="#0000ff"/>
<path d="M273.5 436L273.5 404 L275 404L275 399 L278 399L278 407 L279 407L279 392 L280 392L280 403 L282 403L282 397 L286 397L286 404 L287 404L287 397 L289 397L289 402 L290 402L290 405 L292 405L292 396 L294 396L294 405 L295 405L295 402 L296 402L296 397 L298 397L298 405 L299 405L299 394 L301 394L301 401 L302 401L302 403 L304 403L304 399 L305 399L305 394 L307 394L307 397 L308 397L308 392 L310 392L310 397 L311 397L311 399 L312 399L312 397 L314 397L314 406 L316 406L316 403 L318 403L318 407 L319 407L319 400 L320 400L320 397 L321 397L321 394 L323 394L323 386 L326 386L326 373 L327 373L327 378 L328 378L328 382 L330 382L330 394 L332 394L332 404 L333 404L333 407 L334 407L334 403 L337 403L337 405 L338 405L338 397 L340 397L340 392 L343 392L343 386 L345 386L345 401 L346 401L346 408 L347 408L347 394 L349 394L349 398 L350 398L350 393 L351 393L351 399 L352 399L352 396 L353 396L353 395 L355 395L355 403 L356 403L356 393 L358 393L358 405 L359 405L359 394 L361 394L361 401 L362 401L362 398 L364 398L364 396 L366 396L366 399 L369 399L369 396 L370 396L370 391 L372 391L372 397 L375 397L375 390 L376 390L376 397 L378 397L378 392 L380 392L380 400 L382 400L382 436Z" fill="#000" stroke="none" stroke-width="1" shape-rendering="crispEdges"/>
<rect x="273" y="370" width="1" height="66" fill="#000"/>
<rect x="273" y="435" width="109" height="1" fill="#000"/>
<rect x="284" y="434" width="1" height="2" fill="#000"/>
<rect x="305" y="434" width="1" height="2" fill="#000"/>
<rect x="327" y="434" width="1" height="2" fill="#000"/>
<rect x="349" y="434" width="1" height="2" fill="#000"/>
<rect x="370" y="434" width="1" height="2" fill="#000"/>
<rect x="273" y="370" width="2" height="1" fill="#000"/>
<rect x="273" y="402" width="2" height="1" fill="#000"/>
<text transform="translate(325 364) scale(1 1.2)" text-anchor="middle">ripple peak</text>
<text transform="translate(266 375) scale(1 1.2)" text-anchor="end">100</text>
<text transform="translate(266 407.5) scale(1 1.2)" text-anchor="end">50</text>
<text transform="translate(266 440) scale(1 1.2)" text-anchor="end">0</text>
<text transform="translate(280.3 453) scale(1 1.2)" text-anchor="middle">-0.4</text>
<text transform="translate(301.9 453) scale(1 1.2)" text-anchor="middle">-0.2</text>
<text transform="translate(326.5 453) scale(1 1.2)" text-anchor="middle">0</text>
<text transform="translate(348.1 453) scale(1 1.2)" text-anchor="middle">0.2</text>
<text transform="translate(369.7 453) scale(1 1.2)" text-anchor="middle">0.4</text>
<rect x="273" y="399" width="1" height="11" fill="#0000ff"/>
<path d="M391.5 436L391.5 415 L393 415L393 418 L394 418L394 413 L395.5 413L395.5 426 L396.5 426L396.5 422 L398 422L398 413 L400 413L400 418 L402 418L402 425 L403 425L403 418 L404.5 418L404.5 420 L406 420L406 413 L408 413L408 409 L409 409L409 422 L410 422L410 420 L412 420L412 415 L414 415L414 405 L416 405L416 415 L420 415L420 417 L422 417L422 402 L424 402L424 422 L425 422L425 420 L426 420L426 417 L429 417L429 404 L431 404L431 418 L432 418L432 405 L433 405L433 409 L434 409L434 396 L436 396L436 420 L437 420L437 407 L439 407L439 402 L441 402L441 412 L442 412L442 402 L444 402L444 391 L445 391L445 420 L446 420L446 407 L447 407L447 392 L449 392L449 402 L450 402L450 397 L452 397L452 404 L453 404L453 409 L455 409L455 422 L456 422L456 407 L457 407L457 413 L458 413L458 412 L460 412L460 420 L461 420L461 407 L463 407L463 404 L465 404L465 418 L466 418L466 422 L467 422L467 425 L468 425L468 413 L469 413L469 415 L470 415L470 420 L472 420L472 422 L473 422L473 425 L474 425L474 417 L476 417L476 418 L477 418L477 420 L478 420L478 412 L480 412L480 425 L481 425L481 420 L482 420L482 422 L484 422L484 417 L488 417L488 412 L490 412L490 417 L492 417L492 423 L493 423L493 420 L494 420L494 417 L496 417L496 420 L497 420L497 417 L499 417L499 420 L500 420L500 436Z" fill="#000" stroke="none" stroke-width="1" shape-rendering="crispEdges"/>
<rect x="391" y="370" width="1" height="66" fill="#000"/>
<rect x="391" y="435" width="109" height="1" fill="#000"/>
<rect x="418" y="434" width="1" height="2" fill="#000"/>
<rect x="445" y="434" width="1" height="2" fill="#000"/>
<rect x="472" y="434" width="1" height="2" fill="#000"/>
<rect x="391" y="370" width="2" height="1" fill="#000"/>
<rect x="391" y="402" width="2" height="1" fill="#000"/>
<text transform="translate(443 364) scale(1 1.2)" text-anchor="middle">ripple peak</text>
<text transform="translate(384 375) scale(1 1.2)" text-anchor="end">40</text>
<text transform="translate(384 407.5) scale(1 1.2)" text-anchor="end">20</text>
<text transform="translate(384 440) scale(1 1.2)" text-anchor="end">0</text>
<text transform="translate(414 453) scale(1 1.2)" text-anchor="middle">-0.05</text>
<text transform="translate(444.5 453) scale(1 1.2)" text-anchor="middle">0</text>
<text transform="translate(472 453) scale(1 1.2)" text-anchor="middle">0.05</text>
<path d="M508.5 436L508.5 422.5 L511 422.5L511 409.5 L513 409.5L513 403 L514 403L514 416 L515 416L515 422.5 L521 422.5L521 396.5 L523 396.5L523 422.5 L526 422.5L526 390 L527 390L527 422.5 L529 422.5L529 416 L531 416L531 403 L534 403L534 416 L536 416L536 422.5 L538 422.5L538 429 L539 429L539 435.5 L540 435.5L540 429 L541 429L541 416 L544 416L544 422.5 L545 422.5L545 416 L547 416L547 422.5 L550 422.5L550 403 L551 403L551 422.5 L552 422.5L552 416 L553 416L553 403 L555 403L555 396.5 L557 396.5L557 403 L558 403L558 409.5 L559 409.5L559 403 L561 403L561 409.5 L562 409.5L562 429 L563 429L563 422.5 L565 422.5L565 429 L566 429L566 422.5 L569 422.5L569 403 L571 403L571 416 L573 416L573 422.5 L574 422.5L574 416 L577 416L577 396.5 L579 396.5L579 416 L581 416L581 403 L582 403L582 390 L584 390L584 416 L585 416L585 429 L586 429L586 409.5 L587 409.5L587 416 L590 416L590 390 L592 390L592 409.5 L593 409.5L593 429 L594 429L594 416 L596 416L596 429 L597 429L597 422.5 L598 422.5L598 416 L599 416L599 409.5 L601 409.5L601 403 L603 403L603 409.5 L604 409.5L604 416 L605 416L605 422.5 L606 422.5L606 416 L610 416L610 409.5 L611 409.5L611 422.5 L612 422.5L612 409.5 L614 409.5L614 416 L615 416L615 429 L617 429L617 436Z" fill="#000" stroke="none" stroke-width="1" shape-rendering="crispEdges"/>
<rect x="508" y="370" width="1" height="66" fill="#000"/>
<rect x="508" y="435" width="109" height="1" fill="#000"/>
<rect x="526" y="434" width="1" height="2" fill="#000"/>
<rect x="562" y="434" width="1" height="2" fill="#000"/>
<rect x="598" y="434" width="1" height="2" fill="#000"/>
<rect x="508" y="370" width="2" height="1" fill="#000"/>
<rect x="508" y="402" width="2" height="1" fill="#000"/>
<text transform="translate(560 364) scale(1 1.2)" text-anchor="middle">ripple peak</text>
<text transform="translate(501 375) scale(1 1.2)" text-anchor="end">10</text>
<text transform="translate(501 407.5) scale(1 1.2)" text-anchor="end">5</text>
<text transform="translate(501 440) scale(1 1.2)" text-anchor="end">0</text>
<text transform="translate(522.5 453) scale(1 1.2)" text-anchor="middle">-0.01</text>
<text transform="translate(561.5 453) scale(1 1.2)" text-anchor="middle">0</text>
<text transform="translate(597.5 453) scale(1 1.2)" text-anchor="middle">0.01</text>
<path d="M626.5 436L626.5 422 L628 422L628 415 L630 415L630 425 L631 425L631 417 L632 417L632 422 L636 422L636 413 L640 413L640 418 L641 418L641 412 L644 412L644 420 L645 420L645 417 L647 417L647 420 L648 420L648 407 L650 407L650 413 L651 413L651 410 L653 410L653 409 L655 409L655 418 L656 418L656 410 L658 410L658 409 L659 409L659 410 L661 410L661 402 L663 402L663 405 L665 405L665 409 L666 409L666 412 L668 412L668 409 L670 409L670 392 L672 392L672 407 L673 407L673 399 L675 399L675 404 L677 404L677 397 L679 397L679 412 L680 412L680 397 L681 397L681 409 L683 409L683 407 L685 407L685 412 L689 412L689 420 L690 420L690 425 L691 425L691 422 L693 422L693 418 L700 418L700 413 L702 413L702 423 L703 423L703 415 L704 415L704 425 L707 425L707 415 L709 415L709 412 L711 412L711 417 L713 417L713 420 L715 420L715 413 L716 413L716 420 L717 420L717 417 L719 417L719 415 L721 415L721 420 L722 420L722 415 L723 415L723 413 L726 413L726 420 L728 420L728 413 L730 413L730 412 L732 412L732 405 L734 405L734 420 L735 420L735 436Z" fill="#000" stroke="none" stroke-width="1" shape-rendering="crispEdges"/>
<rect x="626" y="370" width="1" height="66" fill="#000"/>
<rect x="626" y="435" width="109" height="1" fill="#000"/>
<rect x="652" y="434" width="1" height="2" fill="#000"/>
<rect x="680" y="434" width="1" height="2" fill="#000"/>
<rect x="708" y="434" width="1" height="2" fill="#000"/>
<rect x="626" y="370" width="2" height="1" fill="#000"/>
<rect x="626" y="402" width="2" height="1" fill="#000"/>
<text transform="translate(678 364) scale(1 1.2)" text-anchor="middle">ripple stop</text>
<text transform="translate(619 375) scale(1 1.2)" text-anchor="end">40</text>
<text transform="translate(619 407.5) scale(1 1.2)" text-anchor="end">20</text>
<text transform="translate(619 440) scale(1 1.2)" text-anchor="end">0</text>
<text transform="translate(649 453) scale(1 1.2)" text-anchor="middle">-0.05</text>
<text transform="translate(679.5 453) scale(1 1.2)" text-anchor="middle">0</text>
<text transform="translate(707 453) scale(1 1.2)" text-anchor="middle">0.05</text>
<rect x="626" y="413" width="1" height="12" fill="#0000ff"/>
<path d="M743.5 435L743.5 415.5L744.5 415.5L744.5 422L745.5 422L745.5 396L746.5 396L746.5 422L747.5 422L747.5 415.5L748.5 415.5L748.5 402.5L749.5 402.5L749.5 409L750.5 409L750.5 422L751.5 422L751.5 422L752.5 422L752.5 402.5L753.5 402.5L753.5 409L754.5 409L754.5 409L755.5 409L755.5 402.5L756.5 402.5L756.5 383L757.5 383L757.5 422L758.5 422L758.5 422L759.5 422L759.5 409L760.5 409L760.5 409L761.5 409L761.5 409L762.5 409L762.5 428.5L763.5 428.5L763.5 415.5L764.5 415.5L764.5 415.5L765.5 415.5L765.5 415.5L766.5 415.5L766.5 415.5L767.5 415.5L767.5 409L768.5 409L768.5 422L769.5 422L769.5 422L770.5 422L770.5 415.5L771.5 415.5L771.5 422L772.5 422L772.5 409L773.5 409L773.5 415.5L774.5 415.5L774.5 415.5L775.5 415.5L775.5 422L776.5 422L776.5 428.5L777.5 428.5L777.5 422L778.5 422L778.5 422L779.5 422L779.5 409L780.5 409L780.5 422L781.5 422L781.5 422L782.5 422L782.5 428.5L783.5 428.5L783.5 422L784.5 422L784.5 428.5L785.5 428.5L785.5 415.5L786.5 415.5L786.5 422L787.5 422L787.5 422L788.5 422L788.5 422L789.5 422L789.5 422L790.5 422L790.5 422L791.5 422L791.5 409L792.5 409L792.5 409L793.5 409L793.5 422L794.5 422L794.5 415.5L795.5 415.5L795.5 415.5L796.5 415.5L796.5 415.5L797.5 415.5L797.5 415.5L798.5 415.5L798.5 422L799.5 422L799.5 396L800.5 396L800.5 422L801.5 422L801.5 415.5L802.5 415.5L802.5 402.5L803.5 402.5L803.5 409L804.5 409L804.5 422L805.5 422L805.5 422L806.5 422L806.5 402.5L807.5 402.5L807.5 409L808.5 409L808.5 409L809.5 409L809.5 402.5L810.5 402.5L810.5 383L811.5 383L811.5 422L812.5 422L812.5 422L813.5 422L813.5 409L814.5 409L814.5 409L815.5 409L815.5 409L816.5 409L816.5 428.5L817.5 428.5L817.5 415.5L818.5 415.5L818.5 415.5L819.5 415.5L819.5 415.5L820.5 415.5L820.5 415.5L821.5 415.5L821.5 409L822.5 409L822.5 422L823.5 422L823.5 422L824.5 422L824.5 415.5L825.5 415.5L825.5 422L826.5 422L826.5 409L827.5 409L827.5 415.5L828.5 415.5L828.5 415.5L829.5 415.5L829.5 422L830.5 422L830.5 428.5L831.5 428.5L831.5 422L832.5 422L832.5 422L833.5 422L833.5 409L834.5 409L834.5 422L835.5 422L835.5 422L836.5 422L836.5 428.5L837.5 428.5L837.5 422L838.5 422L838.5 428.5L839.5 428.5L839.5 415.5L840.5 415.5L840.5 422L841.5 422L841.5 422L842.5 422L842.5 422L843.5 422L843.5 422L844.5 422L844.5 422L845.5 422L845.5 409L846.5 409L846.5 409L847.5 409L847.5 422L848.5 422L848.5 415.5L849.5 415.5L849.5 415.5L850.5 415.5L850.5 415.5L851.5 415.5L851.5 435Z" fill="#000" stroke="none" stroke-width="1" shape-rendering="crispEdges"/>
<rect x="743" y="370" width="1" height="66" fill="#000"/>
<rect x="743" y="435" width="109" height="1" fill="#000"/>
<rect x="743" y="434" width="1" height="2" fill="#000"/>
<rect x="773" y="434" width="1" height="2" fill="#000"/>
<rect x="803" y="434" width="1" height="2" fill="#000"/>
<rect x="833" y="434" width="1" height="2" fill="#000"/>
<rect x="743" y="370" width="2" height="1" fill="#000"/>
<rect x="743" y="402" width="2" height="1" fill="#000"/>
<text transform="translate(795 364) scale(1 1.2)" text-anchor="middle">ripple phase</text>
<text transform="translate(736 375) scale(1 1.2)" text-anchor="end">10</text>
<text transform="translate(736 407.5) scale(1 1.2)" text-anchor="end">5</text>
<text transform="translate(736 440) scale(1 1.2)" text-anchor="end">0</text>
<text transform="translate(742.5 453) scale(1 1.2)" text-anchor="middle">0</text>
<text transform="translate(772.5 453) scale(1 1.2)" text-anchor="middle">200</text>
<text transform="translate(802.5 453) scale(1 1.2)" text-anchor="middle">400</text>
<text transform="translate(832.5 453) scale(1 1.2)" text-anchor="middle">600</text>
<rect x="743" y="415" width="1" height="7" fill="#0000ff"/>
<rect x="872" y="416" width="15" height="19" fill="#000"/>
<rect x="873" y="417" width="13" height="18" fill="#0000ff"/>
<rect x="890" y="422" width="15" height="13" fill="#000"/>
<rect x="891" y="423" width="13" height="12" fill="#0000ff"/>
<rect x="926" y="380" width="15" height="55" fill="#000"/>
<rect x="927" y="381" width="13" height="54" fill="#0000ff"/>
<rect x="944" y="415" width="15" height="20" fill="#000"/>
<rect x="945" y="416" width="13" height="19" fill="#0000ff"/>
<rect x="861" y="370" width="1" height="66" fill="#000"/>
<rect x="861" y="435" width="109" height="1" fill="#000"/>
<rect x="861" y="370" width="109" height="1" fill="#000"/>
<rect x="969" y="370" width="1" height="66" fill="#000"/>
<rect x="879" y="434" width="1" height="2" fill="#000"/>
<rect x="879" y="370" width="1" height="2" fill="#000"/>
<rect x="897" y="434" width="1" height="2" fill="#000"/>
<rect x="897" y="370" width="1" height="2" fill="#000"/>
<rect x="915" y="434" width="1" height="2" fill="#000"/>
<rect x="915" y="370" width="1" height="2" fill="#000"/>
<rect x="933" y="434" width="1" height="2" fill="#000"/>
<rect x="933" y="370" width="1" height="2" fill="#000"/>
<rect x="951" y="434" width="1" height="2" fill="#000"/>
<rect x="951" y="370" width="1" height="2" fill="#000"/>
<rect x="861" y="370" width="2" height="1" fill="#000"/>
<rect x="968" y="370" width="2" height="1" fill="#000"/>
<rect x="861" y="402" width="2" height="1" fill="#000"/>
<rect x="968" y="402" width="2" height="1" fill="#000"/>
<rect x="861" y="435" width="2" height="1" fill="#000"/>
<rect x="968" y="435" width="2" height="1" fill="#000"/>
<text transform="translate(913 364) scale(1 1.2)" text-anchor="middle">Burst SingleFR</text>
<text transform="translate(854 375) scale(1 1.2)" text-anchor="end">1</text>
<text transform="translate(854 407.5) scale(1 1.2)" text-anchor="end">5</text>
<text transform="translate(854 440) scale(1 1.2)" text-anchor="end">0</text>
<text transform="translate(878.5 453) scale(1 1.2)" text-anchor="middle">1</text>
<text transform="translate(896.5 453) scale(1 1.2)" text-anchor="middle">2</text>
<text transform="translate(914.5 453) scale(1 1.2)" text-anchor="middle">3</text>
<text transform="translate(932.5 453) scale(1 1.2)" text-anchor="middle">4</text>
<text transform="translate(950.5 453) scale(1 1.2)" text-anchor="middle">5</text>
<path d="M978.5 436L978.5 403 L979.5 403L979.5 404 L980.5 404L980.5 404 L981.5 404L981.5 403 L982.5 403L982.5 404 L983.5 404L983.5 398 L984.5 398L984.5 390 L985.5 390L985.5 382 L986.5 382L986.5 377 L987.5 377L987.5 375 L988.5 375L988.5 388 L989.5 388L989.5 404 L990.5 404L990.5 403 L991.5 403L991.5 404 L992.5 404L992.5 403 L993.5 403L993.5 398 L994.5 398L994.5 395 L995.5 395L995.5 390 L996.5 390L996.5 387 L997.5 387L997.5 388 L998.5 388L998.5 394 L999.5 394L999.5 400 L1000.5 400L1000.5 400 L1001.5 400L1001.5 401 L1002.5 401L1002.5 403 L1003.5 403L1003.5 400 L1004.5 400L1004.5 397 L1005.5 397L1005.5 387 L1006.5 387L1006.5 374 L1007.5 374L1007.5 370 L1008.5 370L1008.5 370 L1009.5 370L1009.5 377 L1010.5 377L1010.5 386 L1011.5 386L1011.5 396 L1012.5 396L1012.5 404 L1013.5 404L1013.5 403 L1014.5 403L1014.5 399 L1015.5 399L1015.5 402 L1016.5 402L1016.5 400 L1017.5 400L1017.5 400 L1018.5 400L1018.5 404 L1019.5 404L1019.5 406 L1020.5 406L1020.5 403 L1021.5 403L1021.5 411 L1022.5 411L1022.5 412 L1023.5 412L1023.5 413 L1024.5 413L1024.5 414 L1025.5 414L1025.5 410 L1026.5 410L1026.5 402 L1027.5 402L1027.5 398 L1028.5 398L1028.5 396 L1029.5 396L1029.5 396 L1030.5 396L1030.5 399 L1031.5 399L1031.5 408 L1032.5 408L1032.5 409 L1033.5 409L1033.5 404 L1034.5 404L1034.5 398 L1035.5 398L1035.5 394 L1036.5 394L1036.5 391 L1037.5 391L1037.5 391 L1038.5 391L1038.5 395 L1039.5 395L1039.5 408 L1040.5 408L1040.5 412 L1041.5 412L1041.5 405 L1042.5 405L1042.5 397 L1043.5 397L1043.5 396 L1044.5 396L1044.5 395 L1045.5 395L1045.5 396 L1046.5 396L1046.5 390 L1047.5 390L1047.5 383 L1048.5 383L1048.5 384 L1049.5 384L1049.5 391 L1050.5 391L1050.5 402 L1051.5 402L1051.5 412 L1052.5 412L1052.5 416 L1053.5 416L1053.5 416 L1054.5 416L1054.5 410 L1055.5 410L1055.5 404 L1056.5 404L1056.5 403 L1057.5 403L1057.5 399 L1058.5 399L1058.5 389 L1059.5 389L1059.5 389 L1060.5 389L1060.5 391 L1061.5 391L1061.5 396 L1062.5 396L1062.5 404 L1063.5 404L1063.5 406 L1064.5 406L1064.5 404 L1065.5 404L1065.5 402 L1066.5 402L1066.5 402 L1067.5 402L1067.5 398 L1068.5 398L1068.5 398 L1069.5 398L1069.5 400 L1070.5 400L1070.5 403 L1071.5 403L1071.5 402 L1072.5 402L1072.5 403 L1073.5 403L1073.5 405 L1074.5 405L1074.5 404 L1075.5 404L1075.5 405 L1076.5 405L1076.5 404 L1077.5 404L1077.5 399 L1078.5 399L1078.5 395 L1079.5 395L1079.5 395 L1080.5 395L1080.5 397 L1081.5 397L1081.5 405 L1082.5 405L1082.5 404 L1083.5 404L1083.5 404 L1084.5 404L1084.5 380 L1085.5 380L1085.5 376 L1086.5 376L1086.5 378 L1087.5 378L1087.5 436Z" fill="#000" stroke="none" stroke-width="1" shape-rendering="crispEdges"/>
<rect x="978" y="370" width="1" height="66" fill="#000"/>
<rect x="978" y="435" width="109" height="1" fill="#000"/>
<rect x="978" y="370" width="2" height="1" fill="#000"/>
<rect x="978" y="402" width="2" height="1" fill="#000"/>
<text transform="translate(1030 364) scale(1 1.2)" text-anchor="middle">REM end</text>
<text transform="translate(971 375) scale(1 1.2)" text-anchor="end">0.4</text>
<text transform="translate(971 407.5) scale(1 1.2)" text-anchor="end">0.2</text>
<text transform="translate(971 440) scale(1 1.2)" text-anchor="end">0</text>
<text transform="translate(991.5 453) scale(1 1.2)" text-anchor="middle">-200</text>
<text transform="translate(1030.5 453) scale(1 1.2)" text-anchor="middle">0</text>
<text transform="translate(1066.5 453) scale(1 1.2)" text-anchor="middle">200</text>
<g fill="#000"><path d="M159.41 503.67l2.6 2.8l-2.6 2.8l-2.6-2.8z"/><path d="M159.41 471.17l2.6 2.8l-2.6 2.8l-2.6-2.8z"/><path d="M156.5 507.37l2.6 2.8l-2.6 2.8l-2.6-2.8z"/><path d="M156.5 474.87l2.6 2.8l-2.6 2.8l-2.6-2.8z"/><path d="M159.41 509.89l2.6 2.8l-2.6 2.8l-2.6-2.8z"/><path d="M159.41 477.39l2.6 2.8l-2.6 2.8l-2.6-2.8z"/><path d="M158.09 518.02l2.6 2.8l-2.6 2.8l-2.6-2.8z"/><path d="M158.09 485.52l2.6 2.8l-2.6 2.8l-2.6-2.8z"/><path d="M183.79 499.87l2.6 2.8l-2.6 2.8l-2.6-2.8z"/><path d="M183.79 467.37l2.6 2.8l-2.6 2.8l-2.6-2.8z"/><path d="M183 508.63l2.6 2.8l-2.6 2.8l-2.6-2.8z"/><path d="M183 476.13l2.6 2.8l-2.6 2.8l-2.6-2.8z"/><path d="M180.09 513.05l2.6 2.8l-2.6 2.8l-2.6-2.8z"/><path d="M180.09 480.55l2.6 2.8l-2.6 2.8l-2.6-2.8z"/><path d="M174.25 506.73l2.6 2.8l-2.6 2.8l-2.6-2.8z"/><path d="M174.25 474.23l2.6 2.8l-2.6 2.8l-2.6-2.8z"/><path d="M173.72 516.12l2.6 2.8l-2.6 2.8l-2.6-2.8z"/><path d="M173.72 483.62l2.6 2.8l-2.6 2.8l-2.6-2.8z"/><path d="M175.58 523.71l2.6 2.8l-2.6 2.8l-2.6-2.8z"/><path d="M175.58 491.21l2.6 2.8l-2.6 2.8l-2.6-2.8z"/><path d="M194.39 512.78l2.6 2.8l-2.6 2.8l-2.6-2.8z"/><path d="M194.39 480.28l2.6 2.8l-2.6 2.8l-2.6-2.8z"/><path d="M193.07 519.92l2.6 2.8l-2.6 2.8l-2.6-2.8z"/><path d="M193.07 487.42l2.6 2.8l-2.6 2.8l-2.6-2.8z"/><path d="M189.89 492.74l2.6 2.8l-2.6 2.8l-2.6-2.8z"/><path d="M189.89 460.24l2.6 2.8l-2.6 2.8l-2.6-2.8z"/><path d="M201.28 503.03l2.6 2.8l-2.6 2.8l-2.6-2.8z"/><path d="M201.28 470.53l2.6 2.8l-2.6 2.8l-2.6-2.8z"/><path d="M213.47 500.78l2.6 2.8l-2.6 2.8l-2.6-2.8z"/><path d="M213.47 468.28l2.6 2.8l-2.6 2.8l-2.6-2.8z"/><path d="M245.54 508.9l2.6 2.8l-2.6 2.8l-2.6-2.8z"/><path d="M245.54 476.4l2.6 2.8l-2.6 2.8l-2.6-2.8z"/><path d="M246.34 518.65l2.6 2.8l-2.6 2.8l-2.6-2.8z"/><path d="M246.34 486.15l2.6 2.8l-2.6 2.8l-2.6-2.8z"/><path d="M249.25 517.39l2.6 2.8l-2.6 2.8l-2.6-2.8z"/><path d="M249.25 484.89l2.6 2.8l-2.6 2.8l-2.6-2.8z"/><path d="M248.72 522.44l2.6 2.8l-2.6 2.8l-2.6-2.8z"/><path d="M248.72 489.94l2.6 2.8l-2.6 2.8l-2.6-2.8z"/><path d="M251.9 521.81l2.6 2.8l-2.6 2.8l-2.6-2.8z"/><path d="M251.9 489.31l2.6 2.8l-2.6 2.8l-2.6-2.8z"/><path d="M259.32 521.54l2.6 2.8l-2.6 2.8l-2.6-2.8z"/><path d="M259.32 489.04l2.6 2.8l-2.6 2.8l-2.6-2.8z"/><path d="M254.28 497.62l2.6 2.8l-2.6 2.8l-2.6-2.8z"/><path d="M254.28 465.12l2.6 2.8l-2.6 2.8l-2.6-2.8z"/><path d="M252.16 501.95l2.6 2.8l-2.6 2.8l-2.6-2.8z"/><path d="M252.16 469.45l2.6 2.8l-2.6 2.8l-2.6-2.8z"/><path d="M264.36 503.03l2.6 2.8l-2.6 2.8l-2.6-2.8z"/><path d="M264.36 470.53l2.6 2.8l-2.6 2.8l-2.6-2.8z"/><path d="M267.53 503.03l2.6 2.8l-2.6 2.8l-2.6-2.8z"/><path d="M267.53 470.53l2.6 2.8l-2.6 2.8l-2.6-2.8z"/><path d="M266.21 514.5l2.6 2.8l-2.6 2.8l-2.6-2.8z"/><path d="M266.21 482l2.6 2.8l-2.6 2.8l-2.6-2.8z"/><path d="M269.39 492.56l2.6 2.8l-2.6 2.8l-2.6-2.8z"/><path d="M269.39 460.06l2.6 2.8l-2.6 2.8l-2.6-2.8z"/><path d="M273.1 507.73l2.6 2.8l-2.6 2.8l-2.6-2.8z"/><path d="M273.1 475.23l2.6 2.8l-2.6 2.8l-2.6-2.8z"/><path d="M279.46 509.89l2.6 2.8l-2.6 2.8l-2.6-2.8z"/><path d="M279.46 477.39l2.6 2.8l-2.6 2.8l-2.6-2.8z"/><path d="M278.67 500.51l2.6 2.8l-2.6 2.8l-2.6-2.8z"/><path d="M278.67 468.01l2.6 2.8l-2.6 2.8l-2.6-2.8z"/><path d="M282.38 496.71l2.6 2.8l-2.6 2.8l-2.6-2.8z"/><path d="M282.38 464.21l2.6 2.8l-2.6 2.8l-2.6-2.8z"/><path d="M284.36 498.88l2.6 2.8l-2.6 2.8l-2.6-2.8z"/><path d="M284.36 466.38l2.6 2.8l-2.6 2.8l-2.6-2.8z"/><path d="M278.67 521.18l2.6 2.8l-2.6 2.8l-2.6-2.8z"/><path d="M278.67 488.68l2.6 2.8l-2.6 2.8l-2.6-2.8z"/><path d="M279.99 523.08l2.6 2.8l-2.6 2.8l-2.6-2.8z"/><path d="M279.99 490.57l2.6 2.8l-2.6 2.8l-2.6-2.8z"/><path d="M295.1 520.91l2.6 2.8l-2.6 2.8l-2.6-2.8z"/><path d="M295.1 488.41l2.6 2.8l-2.6 2.8l-2.6-2.8z"/><path d="M294.03 519.73l2.6 2.8l-2.6 2.8l-2.6-2.8z"/><path d="M294.03 487.23l2.6 2.8l-2.6 2.8l-2.6-2.8z"/><path d="M315.5 501.95l2.6 2.8l-2.6 2.8l-2.6-2.8z"/><path d="M315.5 469.45l2.6 2.8l-2.6 2.8l-2.6-2.8z"/><path d="M324.51 498.88l2.6 2.8l-2.6 2.8l-2.6-2.8z"/><path d="M324.51 466.38l2.6 2.8l-2.6 2.8l-2.6-2.8z"/><path d="M328.22 507.64l2.6 2.8l-2.6 2.8l-2.6-2.8z"/><path d="M328.22 475.14l2.6 2.8l-2.6 2.8l-2.6-2.8z"/><path d="M348.36 505.92l2.6 2.8l-2.6 2.8l-2.6-2.8z"/><path d="M348.36 473.42l2.6 2.8l-2.6 2.8l-2.6-2.8z"/><path d="M356.31 500.51l2.6 2.8l-2.6 2.8l-2.6-2.8z"/><path d="M356.31 468.01l2.6 2.8l-2.6 2.8l-2.6-2.8z"/><path d="M357.37 502.58l2.6 2.8l-2.6 2.8l-2.6-2.8z"/><path d="M357.37 470.08l2.6 2.8l-2.6 2.8l-2.6-2.8z"/><path d="M358.43 510.8l2.6 2.8l-2.6 2.8l-2.6-2.8z"/><path d="M358.43 478.3l2.6 2.8l-2.6 2.8l-2.6-2.8z"/><path d="M366.38 509.89l2.6 2.8l-2.6 2.8l-2.6-2.8z"/><path d="M366.38 477.39l2.6 2.8l-2.6 2.8l-2.6-2.8z"/><path d="M354.46 519.92l2.6 2.8l-2.6 2.8l-2.6-2.8z"/><path d="M354.46 487.42l2.6 2.8l-2.6 2.8l-2.6-2.8z"/><path d="M400.56 499.6l2.6 2.8l-2.6 2.8l-2.6-2.8z"/><path d="M400.56 467.1l2.6 2.8l-2.6 2.8l-2.6-2.8z"/><path d="M405.07 502.4l2.6 2.8l-2.6 2.8l-2.6-2.8z"/><path d="M405.07 469.9l2.6 2.8l-2.6 2.8l-2.6-2.8z"/><path d="M415.67 500.78l2.6 2.8l-2.6 2.8l-2.6-2.8z"/><path d="M415.67 468.28l2.6 2.8l-2.6 2.8l-2.6-2.8z"/><path d="M403.22 523.98l2.6 2.8l-2.6 2.8l-2.6-2.8z"/><path d="M403.22 491.48l2.6 2.8l-2.6 2.8l-2.6-2.8z"/><path d="M406.39 493.55l2.6 2.8l-2.6 2.8l-2.6-2.8z"/><path d="M406.39 461.05l2.6 2.8l-2.6 2.8l-2.6-2.8z"/><path d="M162.47 493.8l2.6 2.8l-2.6 2.8l-2.6-2.8z"/><path d="M162.47 461.3l2.6 2.8l-2.6 2.8l-2.6-2.8z"/><path d="M162.91 500.67l2.6 2.8l-2.6 2.8l-2.6-2.8z"/><path d="M162.91 468.17l2.6 2.8l-2.6 2.8l-2.6-2.8z"/><path d="M168.04 500.42l2.6 2.8l-2.6 2.8l-2.6-2.8z"/><path d="M168.04 467.92l2.6 2.8l-2.6 2.8l-2.6-2.8z"/><path d="M164.04 513.27l2.6 2.8l-2.6 2.8l-2.6-2.8z"/><path d="M164.04 480.77l2.6 2.8l-2.6 2.8l-2.6-2.8z"/><path d="M167.16 493.32l2.6 2.8l-2.6 2.8l-2.6-2.8z"/><path d="M167.16 460.82l2.6 2.8l-2.6 2.8l-2.6-2.8z"/><path d="M166.72 507.13l2.6 2.8l-2.6 2.8l-2.6-2.8z"/><path d="M166.72 474.63l2.6 2.8l-2.6 2.8l-2.6-2.8z"/><path d="M164.68 511.51l2.6 2.8l-2.6 2.8l-2.6-2.8z"/><path d="M164.68 479.01l2.6 2.8l-2.6 2.8l-2.6-2.8z"/><path d="M167.14 510.76l2.6 2.8l-2.6 2.8l-2.6-2.8z"/><path d="M167.14 478.26l2.6 2.8l-2.6 2.8l-2.6-2.8z"/><path d="M165.76 504.19l2.6 2.8l-2.6 2.8l-2.6-2.8z"/><path d="M165.76 471.69l2.6 2.8l-2.6 2.8l-2.6-2.8z"/><path d="M166.49 523.37l2.6 2.8l-2.6 2.8l-2.6-2.8z"/><path d="M166.49 490.87l2.6 2.8l-2.6 2.8l-2.6-2.8z"/><path d="M163.51 501.76l2.6 2.8l-2.6 2.8l-2.6-2.8z"/><path d="M163.51 469.26l2.6 2.8l-2.6 2.8l-2.6-2.8z"/><path d="M166.03 497.47l2.6 2.8l-2.6 2.8l-2.6-2.8z"/><path d="M166.03 464.97l2.6 2.8l-2.6 2.8l-2.6-2.8z"/><path d="M162.19 517.17l2.6 2.8l-2.6 2.8l-2.6-2.8z"/><path d="M162.19 484.67l2.6 2.8l-2.6 2.8l-2.6-2.8z"/><path d="M165.52 500.42l2.6 2.8l-2.6 2.8l-2.6-2.8z"/><path d="M165.52 467.92l2.6 2.8l-2.6 2.8l-2.6-2.8z"/><path d="M163.25 499.85l2.6 2.8l-2.6 2.8l-2.6-2.8z"/><path d="M163.25 467.35l2.6 2.8l-2.6 2.8l-2.6-2.8z"/><path d="M164.85 514.77l2.6 2.8l-2.6 2.8l-2.6-2.8z"/><path d="M164.85 482.27l2.6 2.8l-2.6 2.8l-2.6-2.8z"/><path d="M167.95 521.22l2.6 2.8l-2.6 2.8l-2.6-2.8z"/><path d="M167.95 488.72l2.6 2.8l-2.6 2.8l-2.6-2.8z"/><path d="M168.73 514.61l2.6 2.8l-2.6 2.8l-2.6-2.8z"/><path d="M168.73 482.11l2.6 2.8l-2.6 2.8l-2.6-2.8z"/><path d="M164.49 518.1l2.6 2.8l-2.6 2.8l-2.6-2.8z"/><path d="M164.49 485.6l2.6 2.8l-2.6 2.8l-2.6-2.8z"/><path d="M165.27 497.33l2.6 2.8l-2.6 2.8l-2.6-2.8z"/><path d="M165.27 464.83l2.6 2.8l-2.6 2.8l-2.6-2.8z"/><path d="M163.44 506.69l2.6 2.8l-2.6 2.8l-2.6-2.8z"/><path d="M163.44 474.19l2.6 2.8l-2.6 2.8l-2.6-2.8z"/><path d="M165.07 514.89l2.6 2.8l-2.6 2.8l-2.6-2.8z"/><path d="M165.07 482.39l2.6 2.8l-2.6 2.8l-2.6-2.8z"/><path d="M162.77 502.02l2.6 2.8l-2.6 2.8l-2.6-2.8z"/><path d="M162.77 469.52l2.6 2.8l-2.6 2.8l-2.6-2.8z"/><path d="M164.88 509.44l2.6 2.8l-2.6 2.8l-2.6-2.8z"/><path d="M164.88 476.94l2.6 2.8l-2.6 2.8l-2.6-2.8z"/><path d="M166.27 521.22l2.6 2.8l-2.6 2.8l-2.6-2.8z"/><path d="M166.27 488.72l2.6 2.8l-2.6 2.8l-2.6-2.8z"/><path d="M167.87 495.75l2.6 2.8l-2.6 2.8l-2.6-2.8z"/><path d="M167.87 463.25l2.6 2.8l-2.6 2.8l-2.6-2.8z"/><path d="M163.69 498.18l2.6 2.8l-2.6 2.8l-2.6-2.8z"/><path d="M163.69 465.68l2.6 2.8l-2.6 2.8l-2.6-2.8z"/><path d="M166.99 515.01l2.6 2.8l-2.6 2.8l-2.6-2.8z"/><path d="M166.99 482.51l2.6 2.8l-2.6 2.8l-2.6-2.8z"/><path d="M163.8 521.97l2.6 2.8l-2.6 2.8l-2.6-2.8z"/><path d="M163.8 489.47l2.6 2.8l-2.6 2.8l-2.6-2.8z"/><path d="M164.87 510.04l2.6 2.8l-2.6 2.8l-2.6-2.8z"/><path d="M164.87 477.54l2.6 2.8l-2.6 2.8l-2.6-2.8z"/><path d="M165.41 509.05l2.6 2.8l-2.6 2.8l-2.6-2.8z"/><path d="M165.41 476.55l2.6 2.8l-2.6 2.8l-2.6-2.8z"/><path d="M165.87 520.64l2.6 2.8l-2.6 2.8l-2.6-2.8z"/><path d="M165.87 488.14l2.6 2.8l-2.6 2.8l-2.6-2.8z"/><path d="M163.47 506.53l2.6 2.8l-2.6 2.8l-2.6-2.8z"/><path d="M163.47 474.03l2.6 2.8l-2.6 2.8l-2.6-2.8z"/><path d="M165.31 519.03l2.6 2.8l-2.6 2.8l-2.6-2.8z"/><path d="M165.31 486.53l2.6 2.8l-2.6 2.8l-2.6-2.8z"/><path d="M163.85 492.88l2.6 2.8l-2.6 2.8l-2.6-2.8z"/><path d="M163.85 460.38l2.6 2.8l-2.6 2.8l-2.6-2.8z"/><path d="M167.73 501.07l2.6 2.8l-2.6 2.8l-2.6-2.8z"/><path d="M167.73 468.57l2.6 2.8l-2.6 2.8l-2.6-2.8z"/><path d="M164.44 511.1l2.6 2.8l-2.6 2.8l-2.6-2.8z"/><path d="M164.44 478.6l2.6 2.8l-2.6 2.8l-2.6-2.8z"/><path d="M167.03 506.44l2.6 2.8l-2.6 2.8l-2.6-2.8z"/><path d="M167.03 473.94l2.6 2.8l-2.6 2.8l-2.6-2.8z"/><path d="M166.55 523.54l2.6 2.8l-2.6 2.8l-2.6-2.8z"/><path d="M166.55 491.04l2.6 2.8l-2.6 2.8l-2.6-2.8z"/><path d="M167.09 518.2l2.6 2.8l-2.6 2.8l-2.6-2.8z"/><path d="M167.09 485.7l2.6 2.8l-2.6 2.8l-2.6-2.8z"/><path d="M164.23 507.45l2.6 2.8l-2.6 2.8l-2.6-2.8z"/><path d="M164.23 474.95l2.6 2.8l-2.6 2.8l-2.6-2.8z"/><path d="M168.84 511.52l2.6 2.8l-2.6 2.8l-2.6-2.8z"/><path d="M168.84 479.02l2.6 2.8l-2.6 2.8l-2.6-2.8z"/><path d="M166.59 517.92l2.6 2.8l-2.6 2.8l-2.6-2.8z"/><path d="M166.59 485.42l2.6 2.8l-2.6 2.8l-2.6-2.8z"/><path d="M168.77 516.65l2.6 2.8l-2.6 2.8l-2.6-2.8z"/><path d="M168.77 484.15l2.6 2.8l-2.6 2.8l-2.6-2.8z"/><path d="M165.81 502.58l2.6 2.8l-2.6 2.8l-2.6-2.8z"/><path d="M165.81 470.08l2.6 2.8l-2.6 2.8l-2.6-2.8z"/><path d="M166.99 510.22l2.6 2.8l-2.6 2.8l-2.6-2.8z"/><path d="M166.99 477.72l2.6 2.8l-2.6 2.8l-2.6-2.8z"/><path d="M166.6 524.37l2.6 2.8l-2.6 2.8l-2.6-2.8z"/><path d="M166.6 491.87l2.6 2.8l-2.6 2.8l-2.6-2.8z"/><path d="M169.11 506.55l2.6 2.8l-2.6 2.8l-2.6-2.8z"/><path d="M169.11 474.05l2.6 2.8l-2.6 2.8l-2.6-2.8z"/><path d="M166.22 516.43l2.6 2.8l-2.6 2.8l-2.6-2.8z"/><path d="M166.22 483.93l2.6 2.8l-2.6 2.8l-2.6-2.8z"/><path d="M165.36 503.82l2.6 2.8l-2.6 2.8l-2.6-2.8z"/><path d="M165.36 471.32l2.6 2.8l-2.6 2.8l-2.6-2.8z"/><path d="M164.86 520.75l2.6 2.8l-2.6 2.8l-2.6-2.8z"/><path d="M164.86 488.25l2.6 2.8l-2.6 2.8l-2.6-2.8z"/><path d="M163.26 496.3l2.6 2.8l-2.6 2.8l-2.6-2.8z"/><path d="M163.26 463.8l2.6 2.8l-2.6 2.8l-2.6-2.8z"/><path d="M163.33 507.99l2.6 2.8l-2.6 2.8l-2.6-2.8z"/><path d="M163.33 475.49l2.6 2.8l-2.6 2.8l-2.6-2.8z"/><path d="M167.08 517.51l2.6 2.8l-2.6 2.8l-2.6-2.8z"/><path d="M167.08 485.01l2.6 2.8l-2.6 2.8l-2.6-2.8z"/><path d="M167.79 509.23l2.6 2.8l-2.6 2.8l-2.6-2.8z"/><path d="M167.79 476.73l2.6 2.8l-2.6 2.8l-2.6-2.8z"/><path d="M168.83 518.04l2.6 2.8l-2.6 2.8l-2.6-2.8z"/><path d="M168.83 485.54l2.6 2.8l-2.6 2.8l-2.6-2.8z"/><path d="M164.96 512.92l2.6 2.8l-2.6 2.8l-2.6-2.8z"/><path d="M164.96 480.42l2.6 2.8l-2.6 2.8l-2.6-2.8z"/><path d="M163.83 510.85l2.6 2.8l-2.6 2.8l-2.6-2.8z"/><path d="M163.83 478.35l2.6 2.8l-2.6 2.8l-2.6-2.8z"/><path d="M164.97 511.88l2.6 2.8l-2.6 2.8l-2.6-2.8z"/><path d="M164.97 479.38l2.6 2.8l-2.6 2.8l-2.6-2.8z"/><path d="M168.24 514.12l2.6 2.8l-2.6 2.8l-2.6-2.8z"/><path d="M168.24 481.62l2.6 2.8l-2.6 2.8l-2.6-2.8z"/><path d="M170.77 495.58l2.6 2.8l-2.6 2.8l-2.6-2.8z"/><path d="M170.77 463.08l2.6 2.8l-2.6 2.8l-2.6-2.8z"/><path d="M174.08 501.48l2.6 2.8l-2.6 2.8l-2.6-2.8z"/><path d="M174.08 468.98l2.6 2.8l-2.6 2.8l-2.6-2.8z"/><path d="M176.88 495.78l2.6 2.8l-2.6 2.8l-2.6-2.8z"/><path d="M176.88 463.28l2.6 2.8l-2.6 2.8l-2.6-2.8z"/><path d="M176.01 495.02l2.6 2.8l-2.6 2.8l-2.6-2.8z"/><path d="M176.01 462.52l2.6 2.8l-2.6 2.8l-2.6-2.8z"/><path d="M172.64 494.85l2.6 2.8l-2.6 2.8l-2.6-2.8z"/><path d="M172.64 462.35l2.6 2.8l-2.6 2.8l-2.6-2.8z"/><path d="M173.46 494.7l2.6 2.8l-2.6 2.8l-2.6-2.8z"/><path d="M173.46 462.2l2.6 2.8l-2.6 2.8l-2.6-2.8z"/><path d="M179.01 497.18l2.6 2.8l-2.6 2.8l-2.6-2.8z"/><path d="M179.01 464.68l2.6 2.8l-2.6 2.8l-2.6-2.8z"/><path d="M173.97 495.71l2.6 2.8l-2.6 2.8l-2.6-2.8z"/><path d="M173.97 463.21l2.6 2.8l-2.6 2.8l-2.6-2.8z"/><path d="M176.57 497.57l2.6 2.8l-2.6 2.8l-2.6-2.8z"/><path d="M176.57 465.07l2.6 2.8l-2.6 2.8l-2.6-2.8z"/><path d="M170.99 517.11l2.6 2.8l-2.6 2.8l-2.6-2.8z"/><path d="M170.99 484.61l2.6 2.8l-2.6 2.8l-2.6-2.8z"/><path d="M176.23 522.67l2.6 2.8l-2.6 2.8l-2.6-2.8z"/><path d="M176.23 490.17l2.6 2.8l-2.6 2.8l-2.6-2.8z"/><path d="M173.86 508l2.6 2.8l-2.6 2.8l-2.6-2.8z"/><path d="M173.86 475.5l2.6 2.8l-2.6 2.8l-2.6-2.8z"/><path d="M176.53 518.66l2.6 2.8l-2.6 2.8l-2.6-2.8z"/><path d="M176.53 486.16l2.6 2.8l-2.6 2.8l-2.6-2.8z"/><path d="M171.47 513.61l2.6 2.8l-2.6 2.8l-2.6-2.8z"/><path d="M171.47 481.11l2.6 2.8l-2.6 2.8l-2.6-2.8z"/><path d="M175.66 518.24l2.6 2.8l-2.6 2.8l-2.6-2.8z"/><path d="M175.66 485.74l2.6 2.8l-2.6 2.8l-2.6-2.8z"/></g>
<rect x="156" y="462" width="1" height="66" fill="#000"/>
<rect x="156" y="527" width="266" height="1" fill="#000"/>
<rect x="156" y="462" width="266" height="1" fill="#000"/>
<rect x="421" y="462" width="1" height="66" fill="#000"/>
<rect x="156" y="527" width="1" height="4" fill="#000"/>
<rect x="156" y="459" width="1" height="4" fill="#000"/>
<rect x="209" y="527" width="1" height="4" fill="#000"/>
<rect x="209" y="459" width="1" height="4" fill="#000"/>
<rect x="262" y="527" width="1" height="4" fill="#000"/>
<rect x="262" y="459" width="1" height="4" fill="#000"/>
<rect x="315" y="527" width="1" height="4" fill="#000"/>
<rect x="315" y="459" width="1" height="4" fill="#000"/>
<rect x="368" y="527" width="1" height="4" fill="#000"/>
<rect x="368" y="459" width="1" height="4" fill="#000"/>
<rect x="421" y="527" width="1" height="4" fill="#000"/>
<rect x="421" y="459" width="1" height="4" fill="#000"/>
<rect x="153" y="527" width="4" height="1" fill="#000"/>
<rect x="421" y="527" width="4" height="1" fill="#000"/>
<rect x="153" y="519" width="4" height="1" fill="#000"/>
<rect x="421" y="519" width="4" height="1" fill="#000"/>
<rect x="153" y="511" width="4" height="1" fill="#000"/>
<rect x="421" y="511" width="4" height="1" fill="#000"/>
<rect x="153" y="503" width="4" height="1" fill="#000"/>
<rect x="421" y="503" width="4" height="1" fill="#000"/>
<rect x="153" y="494" width="4" height="1" fill="#000"/>
<rect x="421" y="494" width="4" height="1" fill="#000"/>
<rect x="153" y="486" width="4" height="1" fill="#000"/>
<rect x="421" y="486" width="4" height="1" fill="#000"/>
<rect x="153" y="478" width="4" height="1" fill="#000"/>
<rect x="421" y="478" width="4" height="1" fill="#000"/>
<rect x="153" y="470" width="4" height="1" fill="#000"/>
<rect x="421" y="470" width="4" height="1" fill="#000"/>
<rect x="153" y="462" width="4" height="1" fill="#000"/>
<rect x="421" y="462" width="4" height="1" fill="#000"/>
<text transform="translate(146 532) scale(1 1.2)" text-anchor="end">0</text>
<text transform="translate(146 523.88) scale(1 1.2)" text-anchor="end">90</text>
<text transform="translate(146 515.75) scale(1 1.2)" text-anchor="end">180</text>
<text transform="translate(146 507.62) scale(1 1.2)" text-anchor="end">270</text>
<text transform="translate(146 499.5) scale(1 1.2)" text-anchor="end">360</text>
<text transform="translate(146 491.38) scale(1 1.2)" text-anchor="end">450</text>
<text transform="translate(146 483.25) scale(1 1.2)" text-anchor="end">540</text>
<text transform="translate(146 475.12) scale(1 1.2)" text-anchor="end">630</text>
<text transform="translate(146 467) scale(1 1.2)" text-anchor="end">720</text>
<text transform="translate(155.5 546.5) scale(1 1.2)" text-anchor="middle">0</text>
<text transform="translate(208.5 546.5) scale(1 1.2)" text-anchor="middle">0.2</text>
<text transform="translate(261.5 546.5) scale(1 1.2)" text-anchor="middle">0.4</text>
<text transform="translate(314.5 546.5) scale(1 1.2)" text-anchor="middle">0.6</text>
<text transform="translate(367.5 546.5) scale(1 1.2)" text-anchor="middle">0.8</text>
<text transform="translate(420.5 546.5) scale(1 1.2)" text-anchor="middle">1</text>
<text transform="translate(117.5 494.5) rotate(-90) scale(1 1.2)" text-anchor="middle">Phase (Â°)</text>
<text transform="translate(286.5 455.5) scale(1 1.2)" text-anchor="middle">lr nonstim</text>
<g fill="#000"><path d="M436.33 516.67l2.6 2.8l-2.6 2.8l-2.6-2.8z"/><path d="M436.33 484.17l2.6 2.8l-2.6 2.8l-2.6-2.8z"/><path d="M439.51 508.99l2.6 2.8l-2.6 2.8l-2.6-2.8z"/><path d="M439.51 476.49l2.6 2.8l-2.6 2.8l-2.6-2.8z"/><path d="M443.75 503.48l2.6 2.8l-2.6 2.8l-2.6-2.8z"/><path d="M443.75 470.98l2.6 2.8l-2.6 2.8l-2.6-2.8z"/><path d="M447.99 503.48l2.6 2.8l-2.6 2.8l-2.6-2.8z"/><path d="M447.99 470.98l2.6 2.8l-2.6 2.8l-2.6-2.8z"/><path d="M452.5 503.94l2.6 2.8l-2.6 2.8l-2.6-2.8z"/><path d="M452.5 471.44l2.6 2.8l-2.6 2.8l-2.6-2.8z"/><path d="M456.74 504.21l2.6 2.8l-2.6 2.8l-2.6-2.8z"/><path d="M456.74 471.71l2.6 2.8l-2.6 2.8l-2.6-2.8z"/><path d="M451.17 512.24l2.6 2.8l-2.6 2.8l-2.6-2.8z"/><path d="M451.17 479.74l2.6 2.8l-2.6 2.8l-2.6-2.8z"/><path d="M451.17 515.49l2.6 2.8l-2.6 2.8l-2.6-2.8z"/><path d="M451.17 482.99l2.6 2.8l-2.6 2.8l-2.6-2.8z"/><path d="M443.22 520.46l2.6 2.8l-2.6 2.8l-2.6-2.8z"/><path d="M443.22 487.96l2.6 2.8l-2.6 2.8l-2.6-2.8z"/><path d="M444.55 522.17l2.6 2.8l-2.6 2.8l-2.6-2.8z"/><path d="M444.55 489.67l2.6 2.8l-2.6 2.8l-2.6-2.8z"/><path d="M468.13 494.73l2.6 2.8l-2.6 2.8l-2.6-2.8z"/><path d="M468.13 462.23l2.6 2.8l-2.6 2.8l-2.6-2.8z"/><path d="M579.16 493.73l2.6 2.8l-2.6 2.8l-2.6-2.8z"/><path d="M579.16 461.23l2.6 2.8l-2.6 2.8l-2.6-2.8z"/><path d="M665.56 504.21l2.6 2.8l-2.6 2.8l-2.6-2.8z"/><path d="M665.56 471.71l2.6 2.8l-2.6 2.8l-2.6-2.8z"/><path d="M673.24 492.38l2.6 2.8l-2.6 2.8l-2.6-2.8z"/><path d="M673.24 459.88l2.6 2.8l-2.6 2.8l-2.6-2.8z"/><path d="M676.68 508.45l2.6 2.8l-2.6 2.8l-2.6-2.8z"/><path d="M676.68 475.95l2.6 2.8l-2.6 2.8l-2.6-2.8z"/><path d="M680 497.17l2.6 2.8l-2.6 2.8l-2.6-2.8z"/><path d="M680 464.67l2.6 2.8l-2.6 2.8l-2.6-2.8z"/><path d="M683.84 500.96l2.6 2.8l-2.6 2.8l-2.6-2.8z"/><path d="M683.84 468.46l2.6 2.8l-2.6 2.8l-2.6-2.8z"/><path d="M688.74 503.48l2.6 2.8l-2.6 2.8l-2.6-2.8z"/><path d="M688.74 470.98l2.6 2.8l-2.6 2.8l-2.6-2.8z"/><path d="M691.26 501.68l2.6 2.8l-2.6 2.8l-2.6-2.8z"/><path d="M691.26 469.18l2.6 2.8l-2.6 2.8l-2.6-2.8z"/><path d="M684.9 517.21l2.6 2.8l-2.6 2.8l-2.6-2.8z"/><path d="M684.9 484.71l2.6 2.8l-2.6 2.8l-2.6-2.8z"/><path d="M691.26 517.21l2.6 2.8l-2.6 2.8l-2.6-2.8z"/><path d="M691.26 484.71l2.6 2.8l-2.6 2.8l-2.6-2.8z"/></g>
<rect x="430" y="462" width="1" height="66" fill="#000"/>
<rect x="430" y="527" width="266" height="1" fill="#000"/>
<rect x="430" y="462" width="266" height="1" fill="#000"/>
<rect x="695" y="462" width="1" height="66" fill="#000"/>
<rect x="430" y="527" width="1" height="4" fill="#000"/>
<rect x="430" y="459" width="1" height="4" fill="#000"/>
<rect x="483" y="527" width="1" height="4" fill="#000"/>
<rect x="483" y="459" width="1" height="4" fill="#000"/>
<rect x="536" y="527" width="1" height="4" fill="#000"/>
<rect x="536" y="459" width="1" height="4" fill="#000"/>
<rect x="589" y="527" width="1" height="4" fill="#000"/>
<rect x="589" y="459" width="1" height="4" fill="#000"/>
<rect x="642" y="527" width="1" height="4" fill="#000"/>
<rect x="642" y="459" width="1" height="4" fill="#000"/>
<rect x="695" y="527" width="1" height="4" fill="#000"/>
<rect x="695" y="459" width="1" height="4" fill="#000"/>
<rect x="427" y="527" width="4" height="1" fill="#000"/>
<rect x="695" y="527" width="4" height="1" fill="#000"/>
<rect x="427" y="519" width="4" height="1" fill="#000"/>
<rect x="695" y="519" width="4" height="1" fill="#000"/>
<rect x="427" y="511" width="4" height="1" fill="#000"/>
<rect x="695" y="511" width="4" height="1" fill="#000"/>
<rect x="427" y="503" width="4" height="1" fill="#000"/>
<rect x="695" y="503" width="4" height="1" fill="#000"/>
<rect x="427" y="494" width="4" height="1" fill="#000"/>
<rect x="695" y="494" width="4" height="1" fill="#000"/>
<rect x="427" y="486" width="4" height="1" fill="#000"/>
<rect x="695" y="486" width="4" height="1" fill="#000"/>
<rect x="427" y="478" width="4" height="1" fill="#000"/>
<rect x="695" y="478" width="4" height="1" fill="#000"/>
<rect x="427" y="470" width="4" height="1" fill="#000"/>
<rect x="695" y="470" width="4" height="1" fill="#000"/>
<rect x="427" y="462" width="4" height="1" fill="#000"/>
<rect x="695" y="462" width="4" height="1" fill="#000"/>
<text transform="translate(420 532) scale(1 1.2)" text-anchor="end">0</text>
<text transform="translate(420 523.88) scale(1 1.2)" text-anchor="end">90</text>
<text transform="translate(420 515.75) scale(1 1.2)" text-anchor="end">180</text>
<text transform="translate(420 507.62) scale(1 1.2)" text-anchor="end">270</text>
<text transform="translate(420 499.5) scale(1 1.2)" text-anchor="end">360</text>
<text transform="translate(420 491.38) scale(1 1.2)" text-anchor="end">450</text>
<text transform="translate(420 483.25) scale(1 1.2)" text-anchor="end">540</text>
<text transform="translate(420 475.12) scale(1 1.2)" text-anchor="end">630</text>
<text transform="translate(420 467) scale(1 1.2)" text-anchor="end">720</text>
<text transform="translate(429.5 546.5) scale(1 1.2)" text-anchor="middle">0</text>
<text transform="translate(482.5 546.5) scale(1 1.2)" text-anchor="middle">0.2</text>
<text transform="translate(535.5 546.5) scale(1 1.2)" text-anchor="middle">0.4</text>
<text transform="translate(588.5 546.5) scale(1 1.2)" text-anchor="middle">0.6</text>
<text transform="translate(641.5 546.5) scale(1 1.2)" text-anchor="middle">0.8</text>
<text transform="translate(694.5 546.5) scale(1 1.2)" text-anchor="middle">1</text>
<text transform="translate(391.5 494.5) rotate(-90) scale(1 1.2)" text-anchor="middle">Phase (Â°)</text>
<text transform="translate(560.5 455.5) scale(1 1.2)" text-anchor="middle">lr tonicstim 1.5V</text>
<g fill="#000"><path d="M839.36 493.46l2.6 2.8l-2.6 2.8l-2.6-2.8z"/><path d="M839.36 460.96l2.6 2.8l-2.6 2.8l-2.6-2.8z"/><path d="M963.05 522.71l2.6 2.8l-2.6 2.8l-2.6-2.8z"/><path d="M963.05 490.21l2.6 2.8l-2.6 2.8l-2.6-2.8z"/><path d="M706.72 493.8l2.6 2.8l-2.6 2.8l-2.6-2.8z"/><path d="M706.72 461.3l2.6 2.8l-2.6 2.8l-2.6-2.8z"/><path d="M708.06 492.47l2.6 2.8l-2.6 2.8l-2.6-2.8z"/><path d="M708.06 459.97l2.6 2.8l-2.6 2.8l-2.6-2.8z"/><path d="M709.39 495.14l2.6 2.8l-2.6 2.8l-2.6-2.8z"/><path d="M709.39 462.64l2.6 2.8l-2.6 2.8l-2.6-2.8z"/><path d="M712.95 492.47l2.6 2.8l-2.6 2.8l-2.6-2.8z"/><path d="M712.95 459.97l2.6 2.8l-2.6 2.8l-2.6-2.8z"/><path d="M714.28 494.25l2.6 2.8l-2.6 2.8l-2.6-2.8z"/><path d="M714.28 461.75l2.6 2.8l-2.6 2.8l-2.6-2.8z"/><path d="M715.61 496.03l2.6 2.8l-2.6 2.8l-2.6-2.8z"/><path d="M715.61 463.53l2.6 2.8l-2.6 2.8l-2.6-2.8z"/><path d="M716.95 497.36l2.6 2.8l-2.6 2.8l-2.6-2.8z"/><path d="M716.95 464.86l2.6 2.8l-2.6 2.8l-2.6-2.8z"/><path d="M731.17 494.07l2.6 2.8l-2.6 2.8l-2.6-2.8z"/><path d="M731.17 461.57l2.6 2.8l-2.6 2.8l-2.6-2.8z"/><path d="M725.39 496.03l2.6 2.8l-2.6 2.8l-2.6-2.8z"/><path d="M725.39 463.53l2.6 2.8l-2.6 2.8l-2.6-2.8z"/><path d="M726.28 497.81l2.6 2.8l-2.6 2.8l-2.6-2.8z"/><path d="M726.28 465.31l2.6 2.8l-2.6 2.8l-2.6-2.8z"/><path d="M724.5 499.59l2.6 2.8l-2.6 2.8l-2.6-2.8z"/><path d="M724.5 467.09l2.6 2.8l-2.6 2.8l-2.6-2.8z"/><path d="M726.28 500.93l2.6 2.8l-2.6 2.8l-2.6-2.8z"/><path d="M726.28 468.43l2.6 2.8l-2.6 2.8l-2.6-2.8z"/><path d="M725.84 503.15l2.6 2.8l-2.6 2.8l-2.6-2.8z"/><path d="M725.84 470.65l2.6 2.8l-2.6 2.8l-2.6-2.8z"/><path d="M707.61 500.48l2.6 2.8l-2.6 2.8l-2.6-2.8z"/><path d="M707.61 467.98l2.6 2.8l-2.6 2.8l-2.6-2.8z"/><path d="M708.5 502.26l2.6 2.8l-2.6 2.8l-2.6-2.8z"/><path d="M708.5 469.76l2.6 2.8l-2.6 2.8l-2.6-2.8z"/><path d="M707.17 504.93l2.6 2.8l-2.6 2.8l-2.6-2.8z"/><path d="M707.17 472.43l2.6 2.8l-2.6 2.8l-2.6-2.8z"/><path d="M712.5 500.93l2.6 2.8l-2.6 2.8l-2.6-2.8z"/><path d="M712.5 468.43l2.6 2.8l-2.6 2.8l-2.6-2.8z"/><path d="M715.61 505.82l2.6 2.8l-2.6 2.8l-2.6-2.8z"/><path d="M715.61 473.32l2.6 2.8l-2.6 2.8l-2.6-2.8z"/><path d="M719.61 507.6l2.6 2.8l-2.6 2.8l-2.6-2.8z"/><path d="M719.61 475.1l2.6 2.8l-2.6 2.8l-2.6-2.8z"/><path d="M722.73 506.27l2.6 2.8l-2.6 2.8l-2.6-2.8z"/><path d="M722.73 473.77l2.6 2.8l-2.6 2.8l-2.6-2.8z"/><path d="M728.5 509.83l2.6 2.8l-2.6 2.8l-2.6-2.8z"/><path d="M728.5 477.33l2.6 2.8l-2.6 2.8l-2.6-2.8z"/><path d="M708.5 512.06l2.6 2.8l-2.6 2.8l-2.6-2.8z"/><path d="M708.5 479.56l2.6 2.8l-2.6 2.8l-2.6-2.8z"/><path d="M710.28 513.84l2.6 2.8l-2.6 2.8l-2.6-2.8z"/><path d="M710.28 481.34l2.6 2.8l-2.6 2.8l-2.6-2.8z"/><path d="M712.95 511.61l2.6 2.8l-2.6 2.8l-2.6-2.8z"/><path d="M712.95 479.11l2.6 2.8l-2.6 2.8l-2.6-2.8z"/><path d="M715.17 510.28l2.6 2.8l-2.6 2.8l-2.6-2.8z"/><path d="M715.17 477.78l2.6 2.8l-2.6 2.8l-2.6-2.8z"/><path d="M716.95 509.38l2.6 2.8l-2.6 2.8l-2.6-2.8z"/><path d="M716.95 476.88l2.6 2.8l-2.6 2.8l-2.6-2.8z"/><path d="M707.61 515.62l2.6 2.8l-2.6 2.8l-2.6-2.8z"/><path d="M707.61 483.12l2.6 2.8l-2.6 2.8l-2.6-2.8z"/><path d="M709.39 517.84l2.6 2.8l-2.6 2.8l-2.6-2.8z"/><path d="M709.39 485.34l2.6 2.8l-2.6 2.8l-2.6-2.8z"/><path d="M711.61 516.51l2.6 2.8l-2.6 2.8l-2.6-2.8z"/><path d="M711.61 484.01l2.6 2.8l-2.6 2.8l-2.6-2.8z"/><path d="M716.95 518.73l2.6 2.8l-2.6 2.8l-2.6-2.8z"/><path d="M716.95 486.23l2.6 2.8l-2.6 2.8l-2.6-2.8z"/><path d="M715.17 520.07l2.6 2.8l-2.6 2.8l-2.6-2.8z"/><path d="M715.17 487.57l2.6 2.8l-2.6 2.8l-2.6-2.8z"/><path d="M708.5 520.07l2.6 2.8l-2.6 2.8l-2.6-2.8z"/><path d="M708.5 487.57l2.6 2.8l-2.6 2.8l-2.6-2.8z"/><path d="M713.39 523.19l2.6 2.8l-2.6 2.8l-2.6-2.8z"/><path d="M713.39 490.69l2.6 2.8l-2.6 2.8l-2.6-2.8z"/><path d="M712.5 521.41l2.6 2.8l-2.6 2.8l-2.6-2.8z"/><path d="M712.5 488.91l2.6 2.8l-2.6 2.8l-2.6-2.8z"/><path d="M706.28 507.6l2.6 2.8l-2.6 2.8l-2.6-2.8z"/><path d="M706.28 475.1l2.6 2.8l-2.6 2.8l-2.6-2.8z"/><path d="M706.72 513.84l2.6 2.8l-2.6 2.8l-2.6-2.8z"/><path d="M706.72 481.34l2.6 2.8l-2.6 2.8l-2.6-2.8z"/><path d="M709.83 510.72l2.6 2.8l-2.6 2.8l-2.6-2.8z"/><path d="M709.83 478.22l2.6 2.8l-2.6 2.8l-2.6-2.8z"/><path d="M710.72 515.17l2.6 2.8l-2.6 2.8l-2.6-2.8z"/><path d="M710.72 482.67l2.6 2.8l-2.6 2.8l-2.6-2.8z"/><path d="M707.17 518.29l2.6 2.8l-2.6 2.8l-2.6-2.8z"/><path d="M707.17 485.79l2.6 2.8l-2.6 2.8l-2.6-2.8z"/></g>
<rect x="704" y="462" width="1" height="66" fill="#000"/>
<rect x="704" y="527" width="267" height="1" fill="#000"/>
<rect x="704" y="462" width="267" height="1" fill="#000"/>
<rect x="970" y="462" width="1" height="66" fill="#000"/>
<rect x="704" y="527" width="1" height="4" fill="#000"/>
<rect x="704" y="459" width="1" height="4" fill="#000"/>
<rect x="757" y="527" width="1" height="4" fill="#000"/>
<rect x="757" y="459" width="1" height="4" fill="#000"/>
<rect x="810" y="527" width="1" height="4" fill="#000"/>
<rect x="810" y="459" width="1" height="4" fill="#000"/>
<rect x="864" y="527" width="1" height="4" fill="#000"/>
<rect x="864" y="459" width="1" height="4" fill="#000"/>
<rect x="917" y="527" width="1" height="4" fill="#000"/>
<rect x="917" y="459" width="1" height="4" fill="#000"/>
<rect x="970" y="527" width="1" height="4" fill="#000"/>
<rect x="970" y="459" width="1" height="4" fill="#000"/>
<rect x="701" y="527" width="4" height="1" fill="#000"/>
<rect x="970" y="527" width="4" height="1" fill="#000"/>
<rect x="701" y="519" width="4" height="1" fill="#000"/>
<rect x="970" y="519" width="4" height="1" fill="#000"/>
<rect x="701" y="511" width="4" height="1" fill="#000"/>
<rect x="970" y="511" width="4" height="1" fill="#000"/>
<rect x="701" y="503" width="4" height="1" fill="#000"/>
<rect x="970" y="503" width="4" height="1" fill="#000"/>
<rect x="701" y="494" width="4" height="1" fill="#000"/>
<rect x="970" y="494" width="4" height="1" fill="#000"/>
<rect x="701" y="486" width="4" height="1" fill="#000"/>
<rect x="970" y="486" width="4" height="1" fill="#000"/>
<rect x="701" y="478" width="4" height="1" fill="#000"/>
<rect x="970" y="478" width="4" height="1" fill="#000"/>
<rect x="701" y="470" width="4" height="1" fill="#000"/>
<rect x="970" y="470" width="4" height="1" fill="#000"/>
<rect x="701" y="462" width="4" height="1" fill="#000"/>
<rect x="970" y="462" width="4" height="1" fill="#000"/>
<text transform="translate(694 532) scale(1 1.2)" text-anchor="end">0</text>
<text transform="translate(694 523.88) scale(1 1.2)" text-anchor="end">90</text>
<text transform="translate(694 515.75) scale(1 1.2)" text-anchor="end">180</text>
<text transform="translate(694 507.62) scale(1 1.2)" text-anchor="end">270</text>
<text transform="translate(694 499.5) scale(1 1.2)" text-anchor="end">360</text>
<text transform="translate(694 491.38) scale(1 1.2)" text-anchor="end">450</text>
<text transform="translate(694 483.25) scale(1 1.2)" text-anchor="end">540</text>
<text transform="translate(694 475.12) scale(1 1.2)" text-anchor="end">630</text>
<text transform="translate(694 467) scale(1 1.2)" text-anchor="end">720</text>
<text transform="translate(703.5 546.5) scale(1 1.2)" text-anchor="middle">0</text>
<text transform="translate(756.7 546.5) scale(1 1.2)" text-anchor="middle">0.2</text>
<text transform="translate(809.9 546.5) scale(1 1.2)" text-anchor="middle">0.4</text>
<text transform="translate(863.1 546.5) scale(1 1.2)" text-anchor="middle">0.6</text>
<text transform="translate(916.3 546.5) scale(1 1.2)" text-anchor="middle">0.8</text>
<text transform="translate(969.5 546.5) scale(1 1.2)" text-anchor="middle">1</text>
<text transform="translate(665.5 494.5) rotate(-90) scale(1 1.2)" text-anchor="middle">Phase (Â°)</text>
<text transform="translate(835 455.5) scale(1 1.2)" text-anchor="middle">lr tonicstim 5V</text>
<g clip-path="url(#c1)"><g filter="url(#jet)"><rect x="136" y="543" width="305" height="85" fill="#000"/><ellipse cx="259.36" cy="595.2" rx="46.66" ry="7" fill="url(#gb)" opacity="0.25"/><ellipse cx="259.36" cy="562.7" rx="46.66" ry="7" fill="url(#gb)" opacity="0.25"/><ellipse cx="266.36" cy="613.84" rx="58.33" ry="6" fill="url(#gb)" opacity="0.25"/><ellipse cx="266.36" cy="581.34" rx="58.33" ry="6" fill="url(#gb)" opacity="0.25"/><ellipse cx="261.69" cy="603.36" rx="43.75" ry="6" fill="url(#gb)" opacity="0.15"/><ellipse cx="261.69" cy="570.86" rx="43.75" ry="6" fill="url(#gb)" opacity="0.15"/><ellipse cx="166.03" cy="614.07" rx="29.16" ry="5" fill="url(#gb)" opacity="0.2"/><ellipse cx="166.03" cy="581.57" rx="29.16" ry="5" fill="url(#gb)" opacity="0.2"/><ellipse cx="170.7" cy="593.11" rx="29.16" ry="5" fill="url(#gb)" opacity="0.2"/><ellipse cx="170.7" cy="560.61" rx="29.16" ry="5" fill="url(#gb)" opacity="0.2"/><ellipse cx="161.37" cy="603.36" rx="23.33" ry="6" fill="url(#gb)" opacity="0.15"/><ellipse cx="161.37" cy="570.86" rx="23.33" ry="6" fill="url(#gb)" opacity="0.15"/><ellipse cx="166.03" cy="612.68" rx="35" ry="2.25" fill="url(#gb)" opacity="0.13"/><ellipse cx="166.03" cy="612.68" rx="17.5" ry="1.8" fill="url(#gb)" opacity="0.2"/><ellipse cx="166.03" cy="580.18" rx="35" ry="2.25" fill="url(#gb)" opacity="0.13"/><ellipse cx="166.03" cy="580.18" rx="17.5" ry="1.8" fill="url(#gb)" opacity="0.2"/><ellipse cx="166.03" cy="615.47" rx="35" ry="2.25" fill="url(#gb)" opacity="0.12"/><ellipse cx="166.03" cy="615.47" rx="17.5" ry="1.8" fill="url(#gb)" opacity="0.19"/><ellipse cx="166.03" cy="582.97" rx="35" ry="2.25" fill="url(#gb)" opacity="0.12"/><ellipse cx="166.03" cy="582.97" rx="17.5" ry="1.8" fill="url(#gb)" opacity="0.19"/><ellipse cx="173.03" cy="591.71" rx="29.16" ry="2.25" fill="url(#gb)" opacity="0.13"/><ellipse cx="173.03" cy="591.71" rx="14.58" ry="1.8" fill="url(#gb)" opacity="0.2"/><ellipse cx="173.03" cy="559.21" rx="29.16" ry="2.25" fill="url(#gb)" opacity="0.13"/><ellipse cx="173.03" cy="559.21" rx="14.58" ry="1.8" fill="url(#gb)" opacity="0.2"/><ellipse cx="175.37" cy="594.5" rx="29.16" ry="2.25" fill="url(#gb)" opacity="0.15"/><ellipse cx="175.37" cy="594.5" rx="14.58" ry="1.8" fill="url(#gb)" opacity="0.24"/><ellipse cx="175.37" cy="562" rx="29.16" ry="2.25" fill="url(#gb)" opacity="0.15"/><ellipse cx="175.37" cy="562" rx="14.58" ry="1.8" fill="url(#gb)" opacity="0.24"/><ellipse cx="191.7" cy="613.37" rx="17.5" ry="2.25" fill="url(#gb)" opacity="0.13"/><ellipse cx="191.7" cy="613.37" rx="8.75" ry="1.8" fill="url(#gb)" opacity="0.2"/><ellipse cx="191.7" cy="580.87" rx="17.5" ry="2.25" fill="url(#gb)" opacity="0.13"/><ellipse cx="191.7" cy="580.87" rx="8.75" ry="1.8" fill="url(#gb)" opacity="0.2"/><ellipse cx="199.86" cy="595.9" rx="14.58" ry="2.25" fill="url(#gb)" opacity="0.13"/><ellipse cx="199.86" cy="595.9" rx="7.29" ry="1.8" fill="url(#gb)" opacity="0.2"/><ellipse cx="199.86" cy="563.4" rx="14.58" ry="2.25" fill="url(#gb)" opacity="0.13"/><ellipse cx="199.86" cy="563.4" rx="7.29" ry="1.8" fill="url(#gb)" opacity="0.2"/><ellipse cx="211.53" cy="594.04" rx="17.5" ry="2.25" fill="url(#gb)" opacity="0.15"/><ellipse cx="211.53" cy="594.04" rx="8.75" ry="1.8" fill="url(#gb)" opacity="0.24"/><ellipse cx="211.53" cy="561.54" rx="17.5" ry="2.25" fill="url(#gb)" opacity="0.15"/><ellipse cx="211.53" cy="561.54" rx="8.75" ry="1.8" fill="url(#gb)" opacity="0.24"/><ellipse cx="182.36" cy="602.19" rx="23.33" ry="2.25" fill="url(#gb)" opacity="0.1"/><ellipse cx="182.36" cy="602.19" rx="11.67" ry="1.8" fill="url(#gb)" opacity="0.17"/><ellipse cx="182.36" cy="569.69" rx="23.33" ry="2.25" fill="url(#gb)" opacity="0.1"/><ellipse cx="182.36" cy="569.69" rx="11.67" ry="1.8" fill="url(#gb)" opacity="0.17"/><ellipse cx="194.03" cy="606.39" rx="17.5" ry="2.25" fill="url(#gb)" opacity="0.08"/><ellipse cx="194.03" cy="606.39" rx="8.75" ry="1.8" fill="url(#gb)" opacity="0.14"/><ellipse cx="194.03" cy="573.89" rx="17.5" ry="2.25" fill="url(#gb)" opacity="0.08"/><ellipse cx="194.03" cy="573.89" rx="8.75" ry="1.8" fill="url(#gb)" opacity="0.14"/><ellipse cx="163.7" cy="598.7" rx="29.16" ry="2.25" fill="url(#gb)" opacity="0.08"/><ellipse cx="163.7" cy="598.7" rx="14.58" ry="1.8" fill="url(#gb)" opacity="0.14"/><ellipse cx="163.7" cy="566.2" rx="29.16" ry="2.25" fill="url(#gb)" opacity="0.08"/><ellipse cx="163.7" cy="566.2" rx="14.58" ry="1.8" fill="url(#gb)" opacity="0.14"/><ellipse cx="161.37" cy="606.85" rx="23.33" ry="2.25" fill="url(#gb)" opacity="0.08"/><ellipse cx="161.37" cy="606.85" rx="11.67" ry="1.8" fill="url(#gb)" opacity="0.14"/><ellipse cx="161.37" cy="574.35" rx="23.33" ry="2.25" fill="url(#gb)" opacity="0.08"/><ellipse cx="161.37" cy="574.35" rx="11.67" ry="1.8" fill="url(#gb)" opacity="0.14"/><ellipse cx="245.36" cy="602.19" rx="17.5" ry="2.25" fill="url(#gb)" opacity="0.17"/><ellipse cx="245.36" cy="602.19" rx="8.75" ry="1.8" fill="url(#gb)" opacity="0.27"/><ellipse cx="245.36" cy="569.69" rx="17.5" ry="2.25" fill="url(#gb)" opacity="0.17"/><ellipse cx="245.36" cy="569.69" rx="8.75" ry="1.8" fill="url(#gb)" opacity="0.27"/><ellipse cx="247.69" cy="612.68" rx="17.5" ry="2.25" fill="url(#gb)" opacity="0.26"/><ellipse cx="247.69" cy="612.68" rx="8.75" ry="1.8" fill="url(#gb)" opacity="0.42"/><ellipse cx="247.69" cy="580.18" rx="17.5" ry="2.25" fill="url(#gb)" opacity="0.26"/><ellipse cx="247.69" cy="580.18" rx="8.75" ry="1.8" fill="url(#gb)" opacity="0.42"/><ellipse cx="252.36" cy="615.47" rx="23.33" ry="2.25" fill="url(#gb)" opacity="0.23"/><ellipse cx="252.36" cy="615.47" rx="11.67" ry="1.8" fill="url(#gb)" opacity="0.37"/><ellipse cx="252.36" cy="582.97" rx="23.33" ry="2.25" fill="url(#gb)" opacity="0.23"/><ellipse cx="252.36" cy="582.97" rx="11.67" ry="1.8" fill="url(#gb)" opacity="0.37"/><ellipse cx="252.36" cy="591.71" rx="17.5" ry="2.25" fill="url(#gb)" opacity="0.17"/><ellipse cx="252.36" cy="591.71" rx="8.75" ry="1.8" fill="url(#gb)" opacity="0.27"/><ellipse cx="252.36" cy="559.21" rx="17.5" ry="2.25" fill="url(#gb)" opacity="0.17"/><ellipse cx="252.36" cy="559.21" rx="8.75" ry="1.8" fill="url(#gb)" opacity="0.27"/><ellipse cx="264.03" cy="596.37" rx="23.33" ry="2.25" fill="url(#gb)" opacity="0.38"/><ellipse cx="264.03" cy="596.37" rx="11.67" ry="1.8" fill="url(#gb)" opacity="0.61"/><ellipse cx="264.03" cy="563.87" rx="23.33" ry="2.25" fill="url(#gb)" opacity="0.38"/><ellipse cx="264.03" cy="563.87" rx="11.67" ry="1.8" fill="url(#gb)" opacity="0.61"/><ellipse cx="255.86" cy="595.9" rx="17.5" ry="2.25" fill="url(#gb)" opacity="0.18"/><ellipse cx="255.86" cy="595.9" rx="8.75" ry="1.8" fill="url(#gb)" opacity="0.29"/><ellipse cx="255.86" cy="563.4" rx="17.5" ry="2.25" fill="url(#gb)" opacity="0.18"/><ellipse cx="255.86" cy="563.4" rx="8.75" ry="1.8" fill="url(#gb)" opacity="0.29"/><ellipse cx="272.19" cy="596.83" rx="14.58" ry="2.25" fill="url(#gb)" opacity="0.18"/><ellipse cx="272.19" cy="596.83" rx="7.29" ry="1.8" fill="url(#gb)" opacity="0.29"/><ellipse cx="272.19" cy="564.33" rx="14.58" ry="2.25" fill="url(#gb)" opacity="0.18"/><ellipse cx="272.19" cy="564.33" rx="7.29" ry="1.8" fill="url(#gb)" opacity="0.29"/><ellipse cx="266.36" cy="608.48" rx="17.5" ry="2.25" fill="url(#gb)" opacity="0.15"/><ellipse cx="266.36" cy="608.48" rx="8.75" ry="1.8" fill="url(#gb)" opacity="0.24"/><ellipse cx="266.36" cy="575.98" rx="17.5" ry="2.25" fill="url(#gb)" opacity="0.15"/><ellipse cx="266.36" cy="575.98" rx="8.75" ry="1.8" fill="url(#gb)" opacity="0.24"/><ellipse cx="276.86" cy="615.01" rx="17.5" ry="2.25" fill="url(#gb)" opacity="0.24"/><ellipse cx="276.86" cy="615.01" rx="8.75" ry="1.8" fill="url(#gb)" opacity="0.39"/><ellipse cx="276.86" cy="582.51" rx="17.5" ry="2.25" fill="url(#gb)" opacity="0.24"/><ellipse cx="276.86" cy="582.51" rx="8.75" ry="1.8" fill="url(#gb)" opacity="0.39"/><ellipse cx="294.36" cy="614.54" rx="17.5" ry="2.25" fill="url(#gb)" opacity="0.2"/><ellipse cx="294.36" cy="614.54" rx="8.75" ry="1.8" fill="url(#gb)" opacity="0.33"/><ellipse cx="294.36" cy="582.04" rx="17.5" ry="2.25" fill="url(#gb)" opacity="0.2"/><ellipse cx="294.36" cy="582.04" rx="8.75" ry="1.8" fill="url(#gb)" opacity="0.33"/><ellipse cx="286.19" cy="615.01" rx="17.5" ry="2.25" fill="url(#gb)" opacity="0.13"/><ellipse cx="286.19" cy="615.01" rx="8.75" ry="1.8" fill="url(#gb)" opacity="0.2"/><ellipse cx="286.19" cy="582.51" rx="17.5" ry="2.25" fill="url(#gb)" opacity="0.13"/><ellipse cx="286.19" cy="582.51" rx="8.75" ry="1.8" fill="url(#gb)" opacity="0.2"/><ellipse cx="275.69" cy="602.19" rx="17.5" ry="2.25" fill="url(#gb)" opacity="0.17"/><ellipse cx="275.69" cy="602.19" rx="8.75" ry="1.8" fill="url(#gb)" opacity="0.27"/><ellipse cx="275.69" cy="569.69" rx="17.5" ry="2.25" fill="url(#gb)" opacity="0.17"/><ellipse cx="275.69" cy="569.69" rx="8.75" ry="1.8" fill="url(#gb)" opacity="0.27"/><ellipse cx="282.69" cy="591.24" rx="23.33" ry="2.25" fill="url(#gb)" opacity="0.21"/><ellipse cx="282.69" cy="591.24" rx="11.67" ry="1.8" fill="url(#gb)" opacity="0.34"/><ellipse cx="282.69" cy="558.74" rx="23.33" ry="2.25" fill="url(#gb)" opacity="0.21"/><ellipse cx="282.69" cy="558.74" rx="11.67" ry="1.8" fill="url(#gb)" opacity="0.34"/><ellipse cx="280.36" cy="594.04" rx="17.5" ry="2.25" fill="url(#gb)" opacity="0.19"/><ellipse cx="280.36" cy="594.04" rx="8.75" ry="1.8" fill="url(#gb)" opacity="0.31"/><ellipse cx="280.36" cy="561.54" rx="17.5" ry="2.25" fill="url(#gb)" opacity="0.19"/><ellipse cx="280.36" cy="561.54" rx="8.75" ry="1.8" fill="url(#gb)" opacity="0.31"/><ellipse cx="266.36" cy="619.08" rx="17.5" ry="2.25" fill="url(#gb)" opacity="0.17"/><ellipse cx="266.36" cy="619.08" rx="8.75" ry="1.8" fill="url(#gb)" opacity="0.27"/><ellipse cx="266.36" cy="586.58" rx="17.5" ry="2.25" fill="url(#gb)" opacity="0.17"/><ellipse cx="266.36" cy="586.58" rx="8.75" ry="1.8" fill="url(#gb)" opacity="0.27"/><ellipse cx="266.36" cy="554.08" rx="17.5" ry="2.25" fill="url(#gb)" opacity="0.17"/><ellipse cx="266.36" cy="554.08" rx="8.75" ry="1.8" fill="url(#gb)" opacity="0.27"/><ellipse cx="315.36" cy="595.67" rx="17.5" ry="2.25" fill="url(#gb)" opacity="0.15"/><ellipse cx="315.36" cy="595.67" rx="8.75" ry="1.8" fill="url(#gb)" opacity="0.24"/><ellipse cx="315.36" cy="563.17" rx="17.5" ry="2.25" fill="url(#gb)" opacity="0.15"/><ellipse cx="315.36" cy="563.17" rx="8.75" ry="1.8" fill="url(#gb)" opacity="0.24"/><ellipse cx="323.52" cy="591.71" rx="17.5" ry="2.25" fill="url(#gb)" opacity="0.17"/><ellipse cx="323.52" cy="591.71" rx="8.75" ry="1.8" fill="url(#gb)" opacity="0.27"/><ellipse cx="323.52" cy="559.21" rx="17.5" ry="2.25" fill="url(#gb)" opacity="0.17"/><ellipse cx="323.52" cy="559.21" rx="8.75" ry="1.8" fill="url(#gb)" opacity="0.27"/><ellipse cx="329.36" cy="601.03" rx="17.5" ry="2.25" fill="url(#gb)" opacity="0.19"/><ellipse cx="329.36" cy="601.03" rx="8.75" ry="1.8" fill="url(#gb)" opacity="0.31"/><ellipse cx="329.36" cy="568.53" rx="17.5" ry="2.25" fill="url(#gb)" opacity="0.19"/><ellipse cx="329.36" cy="568.53" rx="8.75" ry="1.8" fill="url(#gb)" opacity="0.31"/><ellipse cx="348.02" cy="599.86" rx="14.58" ry="2.25" fill="url(#gb)" opacity="0.19"/><ellipse cx="348.02" cy="599.86" rx="7.29" ry="1.8" fill="url(#gb)" opacity="0.31"/><ellipse cx="348.02" cy="567.36" rx="14.58" ry="2.25" fill="url(#gb)" opacity="0.19"/><ellipse cx="348.02" cy="567.36" rx="7.29" ry="1.8" fill="url(#gb)" opacity="0.31"/><ellipse cx="355.02" cy="594.04" rx="14.58" ry="2.25" fill="url(#gb)" opacity="0.17"/><ellipse cx="355.02" cy="594.04" rx="7.29" ry="1.8" fill="url(#gb)" opacity="0.27"/><ellipse cx="355.02" cy="561.54" rx="14.58" ry="2.25" fill="url(#gb)" opacity="0.17"/><ellipse cx="355.02" cy="561.54" rx="7.29" ry="1.8" fill="url(#gb)" opacity="0.27"/><ellipse cx="355.02" cy="596.83" rx="14.58" ry="2.25" fill="url(#gb)" opacity="0.17"/><ellipse cx="355.02" cy="596.83" rx="7.29" ry="1.8" fill="url(#gb)" opacity="0.27"/><ellipse cx="355.02" cy="564.33" rx="14.58" ry="2.25" fill="url(#gb)" opacity="0.17"/><ellipse cx="355.02" cy="564.33" rx="7.29" ry="1.8" fill="url(#gb)" opacity="0.27"/><ellipse cx="360.85" cy="603.36" rx="23.33" ry="2.25" fill="url(#gb)" opacity="0.15"/><ellipse cx="360.85" cy="603.36" rx="11.67" ry="1.8" fill="url(#gb)" opacity="0.24"/><ellipse cx="360.85" cy="570.86" rx="23.33" ry="2.25" fill="url(#gb)" opacity="0.15"/><ellipse cx="360.85" cy="570.86" rx="11.67" ry="1.8" fill="url(#gb)" opacity="0.24"/><ellipse cx="356.19" cy="613.84" rx="17.5" ry="2.25" fill="url(#gb)" opacity="0.15"/><ellipse cx="356.19" cy="613.84" rx="8.75" ry="1.8" fill="url(#gb)" opacity="0.24"/><ellipse cx="356.19" cy="581.34" rx="17.5" ry="2.25" fill="url(#gb)" opacity="0.15"/><ellipse cx="356.19" cy="581.34" rx="8.75" ry="1.8" fill="url(#gb)" opacity="0.24"/><ellipse cx="401.68" cy="592.87" rx="11.67" ry="2.25" fill="url(#gb)" opacity="0.13"/><ellipse cx="401.68" cy="592.87" rx="5.83" ry="1.8" fill="url(#gb)" opacity="0.2"/><ellipse cx="401.68" cy="560.37" rx="11.67" ry="2.25" fill="url(#gb)" opacity="0.13"/><ellipse cx="401.68" cy="560.37" rx="5.83" ry="1.8" fill="url(#gb)" opacity="0.2"/><ellipse cx="406.35" cy="615.01" rx="11.67" ry="2.25" fill="url(#gb)" opacity="0.08"/><ellipse cx="406.35" cy="615.01" rx="5.83" ry="1.8" fill="url(#gb)" opacity="0.14"/><ellipse cx="406.35" cy="582.51" rx="11.67" ry="2.25" fill="url(#gb)" opacity="0.08"/><ellipse cx="406.35" cy="582.51" rx="5.83" ry="1.8" fill="url(#gb)" opacity="0.14"/></g></g>
<rect x="156" y="553" width="1" height="66" fill="#000"/>
<rect x="156" y="618" width="266" height="1" fill="#000"/>
<rect x="156" y="618" width="1" height="4" fill="#000"/>
<rect x="156" y="550" width="1" height="4" fill="#000"/>
<rect x="209" y="618" width="1" height="4" fill="#000"/>
<rect x="209" y="550" width="1" height="4" fill="#000"/>
<rect x="262" y="618" width="1" height="4" fill="#000"/>
<rect x="262" y="550" width="1" height="4" fill="#000"/>
<rect x="315" y="618" width="1" height="4" fill="#000"/>
<rect x="315" y="550" width="1" height="4" fill="#000"/>
<rect x="368" y="618" width="1" height="4" fill="#000"/>
<rect x="368" y="550" width="1" height="4" fill="#000"/>
<rect x="421" y="618" width="1" height="4" fill="#000"/>
<rect x="421" y="550" width="1" height="4" fill="#000"/>
<rect x="153" y="618" width="4" height="1" fill="#000"/>
<rect x="421" y="618" width="4" height="1" fill="#000"/>
<rect x="153" y="610" width="4" height="1" fill="#000"/>
<rect x="421" y="610" width="4" height="1" fill="#000"/>
<rect x="153" y="602" width="4" height="1" fill="#000"/>
<rect x="421" y="602" width="4" height="1" fill="#000"/>
<rect x="153" y="594" width="4" height="1" fill="#000"/>
<rect x="421" y="594" width="4" height="1" fill="#000"/>
<rect x="153" y="586" width="4" height="1" fill="#000"/>
<rect x="421" y="586" width="4" height="1" fill="#000"/>
<rect x="153" y="577" width="4" height="1" fill="#000"/>
<rect x="421" y="577" width="4" height="1" fill="#000"/>
<rect x="153" y="569" width="4" height="1" fill="#000"/>
<rect x="421" y="569" width="4" height="1" fill="#000"/>
<rect x="153" y="561" width="4" height="1" fill="#000"/>
<rect x="421" y="561" width="4" height="1" fill="#000"/>
<rect x="153" y="553" width="4" height="1" fill="#000"/>
<rect x="421" y="553" width="4" height="1" fill="#000"/>
<text transform="translate(146 623) scale(1 1.2)" text-anchor="end">0</text>
<text transform="translate(146 614.88) scale(1 1.2)" text-anchor="end">90</text>
<text transform="translate(146 606.75) scale(1 1.2)" text-anchor="end">180</text>
<text transform="translate(146 598.62) scale(1 1.2)" text-anchor="end">270</text>
<text transform="translate(146 590.5) scale(1 1.2)" text-anchor="end">360</text>
<text transform="translate(146 582.38) scale(1 1.2)" text-anchor="end">450</text>
<text transform="translate(146 574.25) scale(1 1.2)" text-anchor="end">540</text>
<text transform="translate(146 566.12) scale(1 1.2)" text-anchor="end">630</text>
<text transform="translate(146 558) scale(1 1.2)" text-anchor="end">720</text>
<text transform="translate(155.5 637.5) scale(1 1.2)" text-anchor="middle">0</text>
<text transform="translate(208.5 637.5) scale(1 1.2)" text-anchor="middle">0.2</text>
<text transform="translate(261.5 637.5) scale(1 1.2)" text-anchor="middle">0.4</text>
<text transform="translate(314.5 637.5) scale(1 1.2)" text-anchor="middle">0.6</text>
<text transform="translate(367.5 637.5) scale(1 1.2)" text-anchor="middle">0.8</text>
<text transform="translate(420.5 637.5) scale(1 1.2)" text-anchor="middle">1</text>
<text transform="translate(117.5 585.5) rotate(-90) scale(1 1.2)" text-anchor="middle">Phase (Â°)</text>
<g clip-path="url(#c2)"><g filter="url(#jet)"><rect x="410" y="543" width="305" height="85" fill="#000"/><ellipse cx="452.49" cy="598" rx="21.87" ry="2.12" fill="url(#gb)" opacity="0.27"/><ellipse cx="452.49" cy="598" rx="14.58" ry="1.7" fill="url(#gb)" opacity="0.77"/><ellipse cx="452.49" cy="565.5" rx="21.87" ry="2.12" fill="url(#gb)" opacity="0.27"/><ellipse cx="452.49" cy="565.5" rx="14.58" ry="1.7" fill="url(#gb)" opacity="0.77"/><ellipse cx="450.16" cy="606.15" rx="15.31" ry="2.12" fill="url(#gb)" opacity="0.18"/><ellipse cx="450.16" cy="606.15" rx="10.21" ry="1.7" fill="url(#gb)" opacity="0.51"/><ellipse cx="450.16" cy="573.65" rx="15.31" ry="2.12" fill="url(#gb)" opacity="0.18"/><ellipse cx="450.16" cy="573.65" rx="10.21" ry="1.7" fill="url(#gb)" opacity="0.51"/><ellipse cx="450.16" cy="609.88" rx="15.31" ry="2.12" fill="url(#gb)" opacity="0.18"/><ellipse cx="450.16" cy="609.88" rx="10.21" ry="1.7" fill="url(#gb)" opacity="0.51"/><ellipse cx="450.16" cy="577.38" rx="15.31" ry="2.12" fill="url(#gb)" opacity="0.18"/><ellipse cx="450.16" cy="577.38" rx="10.21" ry="1.7" fill="url(#gb)" opacity="0.51"/><ellipse cx="440.83" cy="615.01" rx="13.12" ry="2.12" fill="url(#gb)" opacity="0.07"/><ellipse cx="440.83" cy="615.01" rx="8.75" ry="1.7" fill="url(#gb)" opacity="0.21"/><ellipse cx="440.83" cy="582.51" rx="13.12" ry="2.12" fill="url(#gb)" opacity="0.07"/><ellipse cx="440.83" cy="582.51" rx="8.75" ry="1.7" fill="url(#gb)" opacity="0.21"/><ellipse cx="466.49" cy="620.25" rx="17.5" ry="2.12" fill="url(#gb)" opacity="0.18"/><ellipse cx="466.49" cy="620.25" rx="11.67" ry="1.7" fill="url(#gb)" opacity="0.51"/><ellipse cx="466.49" cy="587.75" rx="17.5" ry="2.12" fill="url(#gb)" opacity="0.18"/><ellipse cx="466.49" cy="587.75" rx="11.67" ry="1.7" fill="url(#gb)" opacity="0.51"/><ellipse cx="466.49" cy="555.25" rx="17.5" ry="2.12" fill="url(#gb)" opacity="0.18"/><ellipse cx="466.49" cy="555.25" rx="11.67" ry="1.7" fill="url(#gb)" opacity="0.51"/><ellipse cx="579.65" cy="619.55" rx="17.5" ry="2.12" fill="url(#gb)" opacity="0.26"/><ellipse cx="579.65" cy="619.55" rx="11.67" ry="1.7" fill="url(#gb)" opacity="0.72"/><ellipse cx="579.65" cy="587.05" rx="17.5" ry="2.12" fill="url(#gb)" opacity="0.26"/><ellipse cx="579.65" cy="587.05" rx="11.67" ry="1.7" fill="url(#gb)" opacity="0.72"/><ellipse cx="579.65" cy="554.55" rx="17.5" ry="2.12" fill="url(#gb)" opacity="0.26"/><ellipse cx="579.65" cy="554.55" rx="11.67" ry="1.7" fill="url(#gb)" opacity="0.72"/><ellipse cx="669.48" cy="619.55" rx="17.5" ry="2.12" fill="url(#gb)" opacity="0.2"/><ellipse cx="669.48" cy="619.55" rx="11.67" ry="1.7" fill="url(#gb)" opacity="0.55"/><ellipse cx="669.48" cy="587.05" rx="17.5" ry="2.12" fill="url(#gb)" opacity="0.2"/><ellipse cx="669.48" cy="587.05" rx="11.67" ry="1.7" fill="url(#gb)" opacity="0.55"/><ellipse cx="669.48" cy="554.55" rx="17.5" ry="2.12" fill="url(#gb)" opacity="0.2"/><ellipse cx="669.48" cy="554.55" rx="11.67" ry="1.7" fill="url(#gb)" opacity="0.55"/><ellipse cx="676.48" cy="590.54" rx="10.94" ry="2.12" fill="url(#gb)" opacity="0.15"/><ellipse cx="676.48" cy="590.54" rx="7.29" ry="1.7" fill="url(#gb)" opacity="0.42"/><ellipse cx="676.48" cy="558.04" rx="10.94" ry="2.12" fill="url(#gb)" opacity="0.15"/><ellipse cx="676.48" cy="558.04" rx="7.29" ry="1.7" fill="url(#gb)" opacity="0.42"/><ellipse cx="664.81" cy="599.16" rx="17.5" ry="2.12" fill="url(#gb)" opacity="0.21"/><ellipse cx="664.81" cy="599.16" rx="11.67" ry="1.7" fill="url(#gb)" opacity="0.59"/><ellipse cx="664.81" cy="566.66" rx="17.5" ry="2.12" fill="url(#gb)" opacity="0.21"/><ellipse cx="664.81" cy="566.66" rx="11.67" ry="1.7" fill="url(#gb)" opacity="0.59"/><ellipse cx="677.64" cy="602.19" rx="10.94" ry="2.12" fill="url(#gb)" opacity="0.15"/><ellipse cx="677.64" cy="602.19" rx="7.29" ry="1.7" fill="url(#gb)" opacity="0.42"/><ellipse cx="677.64" cy="569.69" rx="10.94" ry="2.12" fill="url(#gb)" opacity="0.15"/><ellipse cx="677.64" cy="569.69" rx="7.29" ry="1.7" fill="url(#gb)" opacity="0.42"/><ellipse cx="433.83" cy="602.19" rx="13.12" ry="2.12" fill="url(#gb)" opacity="0.04"/><ellipse cx="433.83" cy="602.19" rx="8.75" ry="1.7" fill="url(#gb)" opacity="0.13"/><ellipse cx="433.83" cy="569.69" rx="13.12" ry="2.12" fill="url(#gb)" opacity="0.04"/><ellipse cx="433.83" cy="569.69" rx="8.75" ry="1.7" fill="url(#gb)" opacity="0.13"/><ellipse cx="433.83" cy="594.04" rx="13.12" ry="2.12" fill="url(#gb)" opacity="0.04"/><ellipse cx="433.83" cy="594.04" rx="8.75" ry="1.7" fill="url(#gb)" opacity="0.13"/><ellipse cx="433.83" cy="561.54" rx="13.12" ry="2.12" fill="url(#gb)" opacity="0.04"/><ellipse cx="433.83" cy="561.54" rx="8.75" ry="1.7" fill="url(#gb)" opacity="0.13"/></g></g>
<rect x="430" y="553" width="1" height="66" fill="#000"/>
<rect x="430" y="618" width="266" height="1" fill="#000"/>
<rect x="430" y="618" width="1" height="4" fill="#000"/>
<rect x="430" y="550" width="1" height="4" fill="#000"/>
<rect x="483" y="618" width="1" height="4" fill="#000"/>
<rect x="483" y="550" width="1" height="4" fill="#000"/>
<rect x="536" y="618" width="1" height="4" fill="#000"/>
<rect x="536" y="550" width="1" height="4" fill="#000"/>
<rect x="589" y="618" width="1" height="4" fill="#000"/>
<rect x="589" y="550" width="1" height="4" fill="#000"/>
<rect x="642" y="618" width="1" height="4" fill="#000"/>
<rect x="642" y="550" width="1" height="4" fill="#000"/>
<rect x="695" y="618" width="1" height="4" fill="#000"/>
<rect x="695" y="550" width="1" height="4" fill="#000"/>
<rect x="427" y="618" width="4" height="1" fill="#000"/>
<rect x="695" y="618" width="4" height="1" fill="#000"/>
<rect x="427" y="610" width="4" height="1" fill="#000"/>
<rect x="695" y="610" width="4" height="1" fill="#000"/>
<rect x="427" y="602" width="4" height="1" fill="#000"/>
<rect x="695" y="602" width="4" height="1" fill="#000"/>
<rect x="427" y="594" width="4" height="1" fill="#000"/>
<rect x="695" y="594" width="4" height="1" fill="#000"/>
<rect x="427" y="586" width="4" height="1" fill="#000"/>
<rect x="695" y="586" width="4" height="1" fill="#000"/>
<rect x="427" y="577" width="4" height="1" fill="#000"/>
<rect x="695" y="577" width="4" height="1" fill="#000"/>
<rect x="427" y="569" width="4" height="1" fill="#000"/>
<rect x="695" y="569" width="4" height="1" fill="#000"/>
<rect x="427" y="561" width="4" height="1" fill="#000"/>
<rect x="695" y="561" width="4" height="1" fill="#000"/>
<rect x="427" y="553" width="4" height="1" fill="#000"/>
<rect x="695" y="553" width="4" height="1" fill="#000"/>
<text transform="translate(420 623) scale(1 1.2)" text-anchor="end">0</text>
<text transform="translate(420 614.88) scale(1 1.2)" text-anchor="end">90</text>
<text transform="translate(420 606.75) scale(1 1.2)" text-anchor="end">180</text>
<text transform="translate(420 598.62) scale(1 1.2)" text-anchor="end">270</text>
<text transform="translate(420 590.5) scale(1 1.2)" text-anchor="end">360</text>
<text transform="translate(420 582.38) scale(1 1.2)" text-anchor="end">450</text>
<text transform="translate(420 574.25) scale(1 1.2)" text-anchor="end">540</text>
<text transform="translate(420 566.12) scale(1 1.2)" text-anchor="end">630</text>
<text transform="translate(420 558) scale(1 1.2)" text-anchor="end">720</text>
<text transform="translate(429.5 637.5) scale(1 1.2)" text-anchor="middle">0</text>
<text transform="translate(482.5 637.5) scale(1 1.2)" text-anchor="middle">0.2</text>
<text transform="translate(535.5 637.5) scale(1 1.2)" text-anchor="middle">0.4</text>
<text transform="translate(588.5 637.5) scale(1 1.2)" text-anchor="middle">0.6</text>
<text transform="translate(641.5 637.5) scale(1 1.2)" text-anchor="middle">0.8</text>
<text transform="translate(694.5 637.5) scale(1 1.2)" text-anchor="middle">1</text>
<text transform="translate(391.5 585.5) rotate(-90) scale(1 1.2)" text-anchor="middle">Phase (Â°)</text>
<g clip-path="url(#c3)"><g filter="url(#jet)"><rect x="684" y="543" width="306" height="85" fill="#000"/><ellipse cx="730.36" cy="620.25" rx="21.87" ry="2.12" fill="url(#gb)" opacity="0.17"/><ellipse cx="730.36" cy="620.25" rx="14.58" ry="1.7" fill="url(#gb)" opacity="0.47"/><ellipse cx="730.36" cy="587.75" rx="21.87" ry="2.12" fill="url(#gb)" opacity="0.17"/><ellipse cx="730.36" cy="587.75" rx="14.58" ry="1.7" fill="url(#gb)" opacity="0.47"/><ellipse cx="730.36" cy="555.25" rx="21.87" ry="2.12" fill="url(#gb)" opacity="0.17"/><ellipse cx="730.36" cy="555.25" rx="14.58" ry="1.7" fill="url(#gb)" opacity="0.47"/><ellipse cx="724.53" cy="594.04" rx="17.5" ry="2.12" fill="url(#gb)" opacity="0.14"/><ellipse cx="724.53" cy="594.04" rx="11.67" ry="1.7" fill="url(#gb)" opacity="0.38"/><ellipse cx="724.53" cy="561.54" rx="17.5" ry="2.12" fill="url(#gb)" opacity="0.14"/><ellipse cx="724.53" cy="561.54" rx="11.67" ry="1.7" fill="url(#gb)" opacity="0.38"/><ellipse cx="723.37" cy="597.53" rx="17.5" ry="2.12" fill="url(#gb)" opacity="0.1"/><ellipse cx="723.37" cy="597.53" rx="11.67" ry="1.7" fill="url(#gb)" opacity="0.3"/><ellipse cx="723.37" cy="565.03" rx="17.5" ry="2.12" fill="url(#gb)" opacity="0.1"/><ellipse cx="723.37" cy="565.03" rx="11.67" ry="1.7" fill="url(#gb)" opacity="0.3"/><ellipse cx="728.03" cy="603.82" rx="17.5" ry="2.12" fill="url(#gb)" opacity="0.12"/><ellipse cx="728.03" cy="603.82" rx="11.67" ry="1.7" fill="url(#gb)" opacity="0.34"/><ellipse cx="728.03" cy="571.32" rx="17.5" ry="2.12" fill="url(#gb)" opacity="0.12"/><ellipse cx="728.03" cy="571.32" rx="11.67" ry="1.7" fill="url(#gb)" opacity="0.34"/><ellipse cx="709.37" cy="607.32" rx="17.5" ry="2.12" fill="url(#gb)" opacity="0.17"/><ellipse cx="709.37" cy="607.32" rx="11.67" ry="1.7" fill="url(#gb)" opacity="0.47"/><ellipse cx="709.37" cy="574.82" rx="17.5" ry="2.12" fill="url(#gb)" opacity="0.17"/><ellipse cx="709.37" cy="574.82" rx="11.67" ry="1.7" fill="url(#gb)" opacity="0.47"/><ellipse cx="711.7" cy="613.37" rx="21.87" ry="2.12" fill="url(#gb)" opacity="0.12"/><ellipse cx="711.7" cy="613.37" rx="14.58" ry="1.7" fill="url(#gb)" opacity="0.34"/><ellipse cx="711.7" cy="580.87" rx="21.87" ry="2.12" fill="url(#gb)" opacity="0.12"/><ellipse cx="711.7" cy="580.87" rx="14.58" ry="1.7" fill="url(#gb)" opacity="0.34"/><ellipse cx="709.37" cy="590.54" rx="17.5" ry="2.12" fill="url(#gb)" opacity="0.09"/><ellipse cx="709.37" cy="590.54" rx="11.67" ry="1.7" fill="url(#gb)" opacity="0.26"/><ellipse cx="709.37" cy="558.04" rx="17.5" ry="2.12" fill="url(#gb)" opacity="0.09"/><ellipse cx="709.37" cy="558.04" rx="11.67" ry="1.7" fill="url(#gb)" opacity="0.26"/><ellipse cx="711.7" cy="601.03" rx="17.5" ry="2.12" fill="url(#gb)" opacity="0.07"/><ellipse cx="711.7" cy="601.03" rx="11.67" ry="1.7" fill="url(#gb)" opacity="0.21"/><ellipse cx="711.7" cy="568.53" rx="17.5" ry="2.12" fill="url(#gb)" opacity="0.07"/><ellipse cx="711.7" cy="568.53" rx="11.67" ry="1.7" fill="url(#gb)" opacity="0.21"/><ellipse cx="837.69" cy="620.01" rx="17.5" ry="2.12" fill="url(#gb)" opacity="0.27"/><ellipse cx="837.69" cy="620.01" rx="11.67" ry="1.7" fill="url(#gb)" opacity="0.77"/><ellipse cx="837.69" cy="587.51" rx="17.5" ry="2.12" fill="url(#gb)" opacity="0.27"/><ellipse cx="837.69" cy="587.51" rx="11.67" ry="1.7" fill="url(#gb)" opacity="0.77"/><ellipse cx="837.69" cy="555.01" rx="17.5" ry="2.12" fill="url(#gb)" opacity="0.27"/><ellipse cx="837.69" cy="555.01" rx="11.67" ry="1.7" fill="url(#gb)" opacity="0.77"/><ellipse cx="963.68" cy="616.87" rx="13.12" ry="2.12" fill="url(#gb)" opacity="0.06"/><ellipse cx="963.68" cy="616.87" rx="8.75" ry="1.7" fill="url(#gb)" opacity="0.17"/><ellipse cx="963.68" cy="584.37" rx="13.12" ry="2.12" fill="url(#gb)" opacity="0.06"/><ellipse cx="963.68" cy="584.37" rx="8.75" ry="1.7" fill="url(#gb)" opacity="0.17"/></g></g>
<rect x="704" y="553" width="1" height="66" fill="#000"/>
<rect x="704" y="618" width="267" height="1" fill="#000"/>
<rect x="704" y="618" width="1" height="4" fill="#000"/>
<rect x="704" y="550" width="1" height="4" fill="#000"/>
<rect x="757" y="618" width="1" height="4" fill="#000"/>
<rect x="757" y="550" width="1" height="4" fill="#000"/>
<rect x="810" y="618" width="1" height="4" fill="#000"/>
<rect x="810" y="550" width="1" height="4" fill="#000"/>
<rect x="864" y="618" width="1" height="4" fill="#000"/>
<rect x="864" y="550" width="1" height="4" fill="#000"/>
<rect x="917" y="618" width="1" height="4" fill="#000"/>
<rect x="917" y="550" width="1" height="4" fill="#000"/>
<rect x="970" y="618" width="1" height="4" fill="#000"/>
<rect x="970" y="550" width="1" height="4" fill="#000"/>
<rect x="701" y="618" width="4" height="1" fill="#000"/>
<rect x="970" y="618" width="4" height="1" fill="#000"/>
<rect x="701" y="610" width="4" height="1" fill="#000"/>
<rect x="970" y="610" width="4" height="1" fill="#000"/>
<rect x="701" y="602" width="4" height="1" fill="#000"/>
<rect x="970" y="602" width="4" height="1" fill="#000"/>
<rect x="701" y="594" width="4" height="1" fill="#000"/>
<rect x="970" y="594" width="4" height="1" fill="#000"/>
<rect x="701" y="586" width="4" height="1" fill="#000"/>
<rect x="970" y="586" width="4" height="1" fill="#000"/>
<rect x="701" y="577" width="4" height="1" fill="#000"/>
<rect x="970" y="577" width="4" height="1" fill="#000"/>
<rect x="701" y="569" width="4" height="1" fill="#000"/>
<rect x="970" y="569" width="4" height="1" fill="#000"/>
<rect x="701" y="561" width="4" height="1" fill="#000"/>
<rect x="970" y="561" width="4" height="1" fill="#000"/>
<rect x="701" y="553" width="4" height="1" fill="#000"/>
<rect x="970" y="553" width="4" height="1" fill="#000"/>
<text transform="translate(694 623) scale(1 1.2)" text-anchor="end">0</text>
<text transform="translate(694 614.88) scale(1 1.2)" text-anchor="end">90</text>
<text transform="translate(694 606.75) scale(1 1.2)" text-anchor="end">180</text>
<text transform="translate(694 598.62) scale(1 1.2)" text-anchor="end">270</text>
<text transform="translate(694 590.5) scale(1 1.2)" text-anchor="end">360</text>
<text transform="translate(694 582.38) scale(1 1.2)" text-anchor="end">450</text>
<text transform="translate(694 574.25) scale(1 1.2)" text-anchor="end">540</text>
<text transform="translate(694 566.12) scale(1 1.2)" text-anchor="end">630</text>
<text transform="translate(694 558) scale(1 1.2)" text-anchor="end">720</text>
<text transform="translate(703.5 637.5) scale(1 1.2)" text-anchor="middle">0</text>
<text transform="translate(756.7 637.5) scale(1 1.2)" text-anchor="middle">0.2</text>
<text transform="translate(809.9 637.5) scale(1 1.2)" text-anchor="middle">0.4</text>
<text transform="translate(863.1 637.5) scale(1 1.2)" text-anchor="middle">0.6</text>
<text transform="translate(916.3 637.5) scale(1 1.2)" text-anchor="middle">0.8</text>
<text transform="translate(969.5 637.5) scale(1 1.2)" text-anchor="middle">1</text>
<text transform="translate(665.5 585.5) rotate(-90) scale(1 1.2)" text-anchor="middle">Phase (Â°)</text>
<g fill="#000"><path d="M156.5 704.99l2.6 2.8l-2.6 2.8l-2.6-2.8z"/><path d="M156.5 672.49l2.6 2.8l-2.6 2.8l-2.6-2.8z"/><path d="M158.88 704.99l2.6 2.8l-2.6 2.8l-2.6-2.8z"/><path d="M158.88 672.49l2.6 2.8l-2.6 2.8l-2.6-2.8z"/><path d="M163.39 705.53l2.6 2.8l-2.6 2.8l-2.6-2.8z"/><path d="M163.39 673.03l2.6 2.8l-2.6 2.8l-2.6-2.8z"/><path d="M179.29 692.71l2.6 2.8l-2.6 2.8l-2.6-2.8z"/><path d="M179.29 660.21l2.6 2.8l-2.6 2.8l-2.6-2.8z"/><path d="M183.26 675.83l2.6 2.8l-2.6 2.8l-2.6-2.8z"/><path d="M183.26 643.33l2.6 2.8l-2.6 2.8l-2.6-2.8z"/><path d="M194.39 684.05l2.6 2.8l-2.6 2.8l-2.6-2.8z"/><path d="M194.39 651.55l2.6 2.8l-2.6 2.8l-2.6-2.8z"/><path d="M198.37 684.95l2.6 2.8l-2.6 2.8l-2.6-2.8z"/><path d="M198.37 652.45l2.6 2.8l-2.6 2.8l-2.6-2.8z"/><path d="M198.37 697.95l2.6 2.8l-2.6 2.8l-2.6-2.8z"/><path d="M198.37 665.45l2.6 2.8l-2.6 2.8l-2.6-2.8z"/><path d="M215.33 679.98l2.6 2.8l-2.6 2.8l-2.6-2.8z"/><path d="M215.33 647.48l2.6 2.8l-2.6 2.8l-2.6-2.8z"/><path d="M276.28 683.96l2.6 2.8l-2.6 2.8l-2.6-2.8z"/><path d="M276.28 651.46l2.6 2.8l-2.6 2.8l-2.6-2.8z"/><path d="M282.38 689.92l2.6 2.8l-2.6 2.8l-2.6-2.8z"/><path d="M282.38 657.42l2.6 2.8l-2.6 2.8l-2.6-2.8z"/><path d="M284.36 699.58l2.6 2.8l-2.6 2.8l-2.6-2.8z"/><path d="M284.36 667.08l2.6 2.8l-2.6 2.8l-2.6-2.8z"/><path d="M284.36 677.19l2.6 2.8l-2.6 2.8l-2.6-2.8z"/><path d="M284.36 644.69l2.6 2.8l-2.6 2.8l-2.6-2.8z"/><path d="M289.26 704.99l2.6 2.8l-2.6 2.8l-2.6-2.8z"/><path d="M289.26 672.49l2.6 2.8l-2.6 2.8l-2.6-2.8z"/><path d="M308.88 694.34l2.6 2.8l-2.6 2.8l-2.6-2.8z"/><path d="M308.88 661.84l2.6 2.8l-2.6 2.8l-2.6-2.8z"/><path d="M306.89 700.03l2.6 2.8l-2.6 2.8l-2.6-2.8z"/><path d="M306.89 667.53l2.6 2.8l-2.6 2.8l-2.6-2.8z"/><path d="M315.5 698.85l2.6 2.8l-2.6 2.8l-2.6-2.8z"/><path d="M315.5 666.35l2.6 2.8l-2.6 2.8l-2.6-2.8z"/><path d="M315.5 700.12l2.6 2.8l-2.6 2.8l-2.6-2.8z"/><path d="M315.5 667.62l2.6 2.8l-2.6 2.8l-2.6-2.8z"/><path d="M311.52 677.55l2.6 2.8l-2.6 2.8l-2.6-2.8z"/><path d="M311.52 645.05l2.6 2.8l-2.6 2.8l-2.6-2.8z"/><path d="M311.52 680.89l2.6 2.8l-2.6 2.8l-2.6-2.8z"/><path d="M311.52 648.39l2.6 2.8l-2.6 2.8l-2.6-2.8z"/><path d="M333.39 700.3l2.6 2.8l-2.6 2.8l-2.6-2.8z"/><path d="M333.39 667.8l2.6 2.8l-2.6 2.8l-2.6-2.8z"/><path d="M333.39 704.99l2.6 2.8l-2.6 2.8l-2.6-2.8z"/><path d="M333.39 672.49l2.6 2.8l-2.6 2.8l-2.6-2.8z"/><path d="M348.62 683.33l2.6 2.8l-2.6 2.8l-2.6-2.8z"/><path d="M348.62 650.83l2.6 2.8l-2.6 2.8l-2.6-2.8z"/><path d="M351.27 691.99l2.6 2.8l-2.6 2.8l-2.6-2.8z"/><path d="M351.27 659.49l2.6 2.8l-2.6 2.8l-2.6-2.8z"/><path d="M358.56 703.01l2.6 2.8l-2.6 2.8l-2.6-2.8z"/><path d="M358.56 670.51l2.6 2.8l-2.6 2.8l-2.6-2.8z"/><path d="M372.48 694.07l2.6 2.8l-2.6 2.8l-2.6-2.8z"/><path d="M372.48 661.57l2.6 2.8l-2.6 2.8l-2.6-2.8z"/><path d="M376.45 677.19l2.6 2.8l-2.6 2.8l-2.6-2.8z"/><path d="M376.45 644.69l2.6 2.8l-2.6 2.8l-2.6-2.8z"/><path d="M376.45 680.89l2.6 2.8l-2.6 2.8l-2.6-2.8z"/><path d="M376.45 648.39l2.6 2.8l-2.6 2.8l-2.6-2.8z"/><path d="M393.68 687.21l2.6 2.8l-2.6 2.8l-2.6-2.8z"/><path d="M393.68 654.71l2.6 2.8l-2.6 2.8l-2.6-2.8z"/><path d="M392.35 703.01l2.6 2.8l-2.6 2.8l-2.6-2.8z"/><path d="M392.35 670.51l2.6 2.8l-2.6 2.8l-2.6-2.8z"/><path d="M385.06 691l2.6 2.8l-2.6 2.8l-2.6-2.8z"/><path d="M385.06 658.5l2.6 2.8l-2.6 2.8l-2.6-2.8z"/><path d="M392.35 682.87l2.6 2.8l-2.6 2.8l-2.6-2.8z"/><path d="M392.35 650.37l2.6 2.8l-2.6 2.8l-2.6-2.8z"/><path d="M406.92 696.96l2.6 2.8l-2.6 2.8l-2.6-2.8z"/><path d="M406.92 664.46l2.6 2.8l-2.6 2.8l-2.6-2.8z"/><path d="M405.6 705.44l2.6 2.8l-2.6 2.8l-2.6-2.8z"/><path d="M405.6 672.94l2.6 2.8l-2.6 2.8l-2.6-2.8z"/><path d="M408.25 704.36l2.6 2.8l-2.6 2.8l-2.6-2.8z"/><path d="M408.25 671.86l2.6 2.8l-2.6 2.8l-2.6-2.8z"/><path d="M413.55 692.98l2.6 2.8l-2.6 2.8l-2.6-2.8z"/><path d="M413.55 660.48l2.6 2.8l-2.6 2.8l-2.6-2.8z"/><path d="M418.85 680.26l2.6 2.8l-2.6 2.8l-2.6-2.8z"/><path d="M418.85 647.76l2.6 2.8l-2.6 2.8l-2.6-2.8z"/><path d="M287.94 679.92l2.6 2.8l-2.6 2.8l-2.6-2.8z"/><path d="M287.94 647.42l2.6 2.8l-2.6 2.8l-2.6-2.8z"/><path d="M289.28 681.7l2.6 2.8l-2.6 2.8l-2.6-2.8z"/><path d="M289.28 649.2l2.6 2.8l-2.6 2.8l-2.6-2.8z"/><path d="M287.05 683.48l2.6 2.8l-2.6 2.8l-2.6-2.8z"/><path d="M287.05 650.98l2.6 2.8l-2.6 2.8l-2.6-2.8z"/><path d="M288.83 685.71l2.6 2.8l-2.6 2.8l-2.6-2.8z"/><path d="M288.83 653.21l2.6 2.8l-2.6 2.8l-2.6-2.8z"/><path d="M291.05 687.04l2.6 2.8l-2.6 2.8l-2.6-2.8z"/><path d="M291.05 654.54l2.6 2.8l-2.6 2.8l-2.6-2.8z"/><path d="M292.83 688.82l2.6 2.8l-2.6 2.8l-2.6-2.8z"/><path d="M292.83 656.32l2.6 2.8l-2.6 2.8l-2.6-2.8z"/><path d="M294.16 690.6l2.6 2.8l-2.6 2.8l-2.6-2.8z"/><path d="M294.16 658.1l2.6 2.8l-2.6 2.8l-2.6-2.8z"/><path d="M292.39 679.03l2.6 2.8l-2.6 2.8l-2.6-2.8z"/><path d="M292.39 646.53l2.6 2.8l-2.6 2.8l-2.6-2.8z"/><path d="M295.05 680.81l2.6 2.8l-2.6 2.8l-2.6-2.8z"/><path d="M295.05 648.31l2.6 2.8l-2.6 2.8l-2.6-2.8z"/><path d="M296.83 679.92l2.6 2.8l-2.6 2.8l-2.6-2.8z"/><path d="M296.83 647.42l2.6 2.8l-2.6 2.8l-2.6-2.8z"/><path d="M298.61 679.03l2.6 2.8l-2.6 2.8l-2.6-2.8z"/><path d="M298.61 646.53l2.6 2.8l-2.6 2.8l-2.6-2.8z"/><path d="M296.83 682.59l2.6 2.8l-2.6 2.8l-2.6-2.8z"/><path d="M296.83 650.09l2.6 2.8l-2.6 2.8l-2.6-2.8z"/><path d="M295.05 684.37l2.6 2.8l-2.6 2.8l-2.6-2.8z"/><path d="M295.05 651.87l2.6 2.8l-2.6 2.8l-2.6-2.8z"/><path d="M295.94 686.15l2.6 2.8l-2.6 2.8l-2.6-2.8z"/><path d="M295.94 653.65l2.6 2.8l-2.6 2.8l-2.6-2.8z"/><path d="M300.39 687.04l2.6 2.8l-2.6 2.8l-2.6-2.8z"/><path d="M300.39 654.54l2.6 2.8l-2.6 2.8l-2.6-2.8z"/><path d="M301.72 688.82l2.6 2.8l-2.6 2.8l-2.6-2.8z"/><path d="M301.72 656.32l2.6 2.8l-2.6 2.8l-2.6-2.8z"/><path d="M300.83 690.6l2.6 2.8l-2.6 2.8l-2.6-2.8z"/><path d="M300.83 658.1l2.6 2.8l-2.6 2.8l-2.6-2.8z"/><path d="M300.39 693.28l2.6 2.8l-2.6 2.8l-2.6-2.8z"/><path d="M300.39 660.78l2.6 2.8l-2.6 2.8l-2.6-2.8z"/><path d="M303.94 681.7l2.6 2.8l-2.6 2.8l-2.6-2.8z"/><path d="M303.94 649.2l2.6 2.8l-2.6 2.8l-2.6-2.8z"/><path d="M305.72 679.03l2.6 2.8l-2.6 2.8l-2.6-2.8z"/><path d="M305.72 646.53l2.6 2.8l-2.6 2.8l-2.6-2.8z"/><path d="M307.5 676.36l2.6 2.8l-2.6 2.8l-2.6-2.8z"/><path d="M307.5 643.86l2.6 2.8l-2.6 2.8l-2.6-2.8z"/><path d="M309.28 675.47l2.6 2.8l-2.6 2.8l-2.6-2.8z"/><path d="M309.28 642.97l2.6 2.8l-2.6 2.8l-2.6-2.8z"/><path d="M311.5 677.25l2.6 2.8l-2.6 2.8l-2.6-2.8z"/><path d="M311.5 644.75l2.6 2.8l-2.6 2.8l-2.6-2.8z"/><path d="M311.94 679.03l2.6 2.8l-2.6 2.8l-2.6-2.8z"/><path d="M311.94 646.53l2.6 2.8l-2.6 2.8l-2.6-2.8z"/><path d="M311.5 680.81l2.6 2.8l-2.6 2.8l-2.6-2.8z"/><path d="M311.5 648.31l2.6 2.8l-2.6 2.8l-2.6-2.8z"/><path d="M304.83 673.69l2.6 2.8l-2.6 2.8l-2.6-2.8z"/><path d="M306.61 672.8l2.6 2.8l-2.6 2.8l-2.6-2.8z"/><path d="M292.39 694.17l2.6 2.8l-2.6 2.8l-2.6-2.8z"/><path d="M292.39 661.67l2.6 2.8l-2.6 2.8l-2.6-2.8z"/><path d="M293.72 695.95l2.6 2.8l-2.6 2.8l-2.6-2.8z"/><path d="M293.72 663.45l2.6 2.8l-2.6 2.8l-2.6-2.8z"/><path d="M294.16 698.62l2.6 2.8l-2.6 2.8l-2.6-2.8z"/><path d="M294.16 666.12l2.6 2.8l-2.6 2.8l-2.6-2.8z"/><path d="M293.72 701.29l2.6 2.8l-2.6 2.8l-2.6-2.8z"/><path d="M293.72 668.79l2.6 2.8l-2.6 2.8l-2.6-2.8z"/><path d="M295.05 703.07l2.6 2.8l-2.6 2.8l-2.6-2.8z"/><path d="M295.05 670.57l2.6 2.8l-2.6 2.8l-2.6-2.8z"/><path d="M296.83 704.85l2.6 2.8l-2.6 2.8l-2.6-2.8z"/><path d="M296.83 672.35l2.6 2.8l-2.6 2.8l-2.6-2.8z"/><path d="M298.61 706.19l2.6 2.8l-2.6 2.8l-2.6-2.8z"/><path d="M298.61 673.69l2.6 2.8l-2.6 2.8l-2.6-2.8z"/><path d="M300.39 701.29l2.6 2.8l-2.6 2.8l-2.6-2.8z"/><path d="M300.39 668.79l2.6 2.8l-2.6 2.8l-2.6-2.8z"/><path d="M299.5 703.52l2.6 2.8l-2.6 2.8l-2.6-2.8z"/><path d="M299.5 671.02l2.6 2.8l-2.6 2.8l-2.6-2.8z"/><path d="M306.61 699.51l2.6 2.8l-2.6 2.8l-2.6-2.8z"/><path d="M306.61 667.01l2.6 2.8l-2.6 2.8l-2.6-2.8z"/><path d="M308.39 693.72l2.6 2.8l-2.6 2.8l-2.6-2.8z"/><path d="M308.39 661.22l2.6 2.8l-2.6 2.8l-2.6-2.8z"/><path d="M304.39 705.74l2.6 2.8l-2.6 2.8l-2.6-2.8z"/><path d="M304.39 673.24l2.6 2.8l-2.6 2.8l-2.6-2.8z"/><path d="M307.5 705.74l2.6 2.8l-2.6 2.8l-2.6-2.8z"/><path d="M307.5 673.24l2.6 2.8l-2.6 2.8l-2.6-2.8z"/><path d="M297.72 707.52l2.6 2.8l-2.6 2.8l-2.6-2.8z"/><path d="M297.72 675.02l2.6 2.8l-2.6 2.8l-2.6-2.8z"/><path d="M305.72 707.52l2.6 2.8l-2.6 2.8l-2.6-2.8z"/><path d="M305.72 675.02l2.6 2.8l-2.6 2.8l-2.6-2.8z"/><path d="M290.16 679.03l2.6 2.8l-2.6 2.8l-2.6-2.8z"/><path d="M290.16 646.53l2.6 2.8l-2.6 2.8l-2.6-2.8z"/><path d="M291.5 683.48l2.6 2.8l-2.6 2.8l-2.6-2.8z"/><path d="M291.5 650.98l2.6 2.8l-2.6 2.8l-2.6-2.8z"/><path d="M293.28 685.71l2.6 2.8l-2.6 2.8l-2.6-2.8z"/><path d="M293.28 653.21l2.6 2.8l-2.6 2.8l-2.6-2.8z"/><path d="M294.61 687.93l2.6 2.8l-2.6 2.8l-2.6-2.8z"/><path d="M294.61 655.43l2.6 2.8l-2.6 2.8l-2.6-2.8z"/><path d="M293.72 692.38l2.6 2.8l-2.6 2.8l-2.6-2.8z"/><path d="M293.72 659.88l2.6 2.8l-2.6 2.8l-2.6-2.8z"/><path d="M300.83 699.95l2.6 2.8l-2.6 2.8l-2.6-2.8z"/><path d="M300.83 667.45l2.6 2.8l-2.6 2.8l-2.6-2.8z"/><path d="M296.83 702.62l2.6 2.8l-2.6 2.8l-2.6-2.8z"/><path d="M296.83 670.12l2.6 2.8l-2.6 2.8l-2.6-2.8z"/><path d="M301.28 679.92l2.6 2.8l-2.6 2.8l-2.6-2.8z"/><path d="M301.28 647.42l2.6 2.8l-2.6 2.8l-2.6-2.8z"/><path d="M299.5 681.7l2.6 2.8l-2.6 2.8l-2.6-2.8z"/><path d="M299.5 649.2l2.6 2.8l-2.6 2.8l-2.6-2.8z"/><path d="M297.72 676.36l2.6 2.8l-2.6 2.8l-2.6-2.8z"/><path d="M297.72 643.86l2.6 2.8l-2.6 2.8l-2.6-2.8z"/></g>
<rect x="156" y="645" width="1" height="66" fill="#000"/>
<rect x="156" y="710" width="266" height="1" fill="#000"/>
<rect x="156" y="645" width="266" height="1" fill="#000"/>
<rect x="421" y="645" width="1" height="66" fill="#000"/>
<rect x="156" y="710" width="1" height="4" fill="#000"/>
<rect x="156" y="642" width="1" height="4" fill="#000"/>
<rect x="209" y="710" width="1" height="4" fill="#000"/>
<rect x="209" y="642" width="1" height="4" fill="#000"/>
<rect x="262" y="710" width="1" height="4" fill="#000"/>
<rect x="262" y="642" width="1" height="4" fill="#000"/>
<rect x="315" y="710" width="1" height="4" fill="#000"/>
<rect x="315" y="642" width="1" height="4" fill="#000"/>
<rect x="368" y="710" width="1" height="4" fill="#000"/>
<rect x="368" y="642" width="1" height="4" fill="#000"/>
<rect x="421" y="710" width="1" height="4" fill="#000"/>
<rect x="421" y="642" width="1" height="4" fill="#000"/>
<rect x="153" y="710" width="4" height="1" fill="#000"/>
<rect x="421" y="710" width="4" height="1" fill="#000"/>
<rect x="153" y="702" width="4" height="1" fill="#000"/>
<rect x="421" y="702" width="4" height="1" fill="#000"/>
<rect x="153" y="694" width="4" height="1" fill="#000"/>
<rect x="421" y="694" width="4" height="1" fill="#000"/>
<rect x="153" y="686" width="4" height="1" fill="#000"/>
<rect x="421" y="686" width="4" height="1" fill="#000"/>
<rect x="153" y="678" width="4" height="1" fill="#000"/>
<rect x="421" y="678" width="4" height="1" fill="#000"/>
<rect x="153" y="669" width="4" height="1" fill="#000"/>
<rect x="421" y="669" width="4" height="1" fill="#000"/>
<rect x="153" y="661" width="4" height="1" fill="#000"/>
<rect x="421" y="661" width="4" height="1" fill="#000"/>
<rect x="153" y="653" width="4" height="1" fill="#000"/>
<rect x="421" y="653" width="4" height="1" fill="#000"/>
<rect x="153" y="645" width="4" height="1" fill="#000"/>
<rect x="421" y="645" width="4" height="1" fill="#000"/>
<text transform="translate(146 715) scale(1 1.2)" text-anchor="end">0</text>
<text transform="translate(146 706.88) scale(1 1.2)" text-anchor="end">90</text>
<text transform="translate(146 698.75) scale(1 1.2)" text-anchor="end">180</text>
<text transform="translate(146 690.62) scale(1 1.2)" text-anchor="end">270</text>
<text transform="translate(146 682.5) scale(1 1.2)" text-anchor="end">360</text>
<text transform="translate(146 674.38) scale(1 1.2)" text-anchor="end">450</text>
<text transform="translate(146 666.25) scale(1 1.2)" text-anchor="end">540</text>
<text transform="translate(146 658.12) scale(1 1.2)" text-anchor="end">630</text>
<text transform="translate(146 650) scale(1 1.2)" text-anchor="end">720</text>
<text transform="translate(155.5 729.5) scale(1 1.2)" text-anchor="middle">0</text>
<text transform="translate(208.5 729.5) scale(1 1.2)" text-anchor="middle">0.2</text>
<text transform="translate(261.5 729.5) scale(1 1.2)" text-anchor="middle">0.4</text>
<text transform="translate(314.5 729.5) scale(1 1.2)" text-anchor="middle">0.6</text>
<text transform="translate(367.5 729.5) scale(1 1.2)" text-anchor="middle">0.8</text>
<text transform="translate(420.5 729.5) scale(1 1.2)" text-anchor="middle">1</text>
<text transform="translate(117.5 677.5) rotate(-90) scale(1 1.2)" text-anchor="middle">Phase (Â°)</text>
<text transform="translate(286.5 638.5) scale(1 1.2)" text-anchor="middle">rl nonstim</text>
<g fill="#000"><path d="M431.3 706.71l2.6 2.8l-2.6 2.8l-2.6-2.8z"/><path d="M431.3 674.21l2.6 2.8l-2.6 2.8l-2.6-2.8z"/><path d="M434.48 705.17l2.6 2.8l-2.6 2.8l-2.6-2.8z"/><path d="M434.48 672.67l2.6 2.8l-2.6 2.8l-2.6-2.8z"/><path d="M433.68 697.23l2.6 2.8l-2.6 2.8l-2.6-2.8z"/><path d="M433.68 664.73l2.6 2.8l-2.6 2.8l-2.6-2.8z"/><path d="M434.48 693.44l2.6 2.8l-2.6 2.8l-2.6-2.8z"/><path d="M434.48 660.94l2.6 2.8l-2.6 2.8l-2.6-2.8z"/><path d="M452.23 680.17l2.6 2.8l-2.6 2.8l-2.6-2.8z"/><path d="M452.23 647.67l2.6 2.8l-2.6 2.8l-2.6-2.8z"/><path d="M453.56 682.96l2.6 2.8l-2.6 2.8l-2.6-2.8z"/><path d="M453.56 650.46l2.6 2.8l-2.6 2.8l-2.6-2.8z"/><path d="M474.49 694.7l2.6 2.8l-2.6 2.8l-2.6-2.8z"/><path d="M474.49 662.2l2.6 2.8l-2.6 2.8l-2.6-2.8z"/><path d="M543.12 700.48l2.6 2.8l-2.6 2.8l-2.6-2.8z"/><path d="M543.12 667.98l2.6 2.8l-2.6 2.8l-2.6-2.8z"/><path d="M547.1 704.72l2.6 2.8l-2.6 2.8l-2.6-2.8z"/><path d="M547.1 672.22l2.6 2.8l-2.6 2.8l-2.6-2.8z"/><path d="M549.49 702.73l2.6 2.8l-2.6 2.8l-2.6-2.8z"/><path d="M549.49 670.23l2.6 2.8l-2.6 2.8l-2.6-2.8z"/><path d="M554.52 696.69l2.6 2.8l-2.6 2.8l-2.6-2.8z"/><path d="M554.52 664.19l2.6 2.8l-2.6 2.8l-2.6-2.8z"/><path d="M555.05 703.01l2.6 2.8l-2.6 2.8l-2.6-2.8z"/><path d="M555.05 670.51l2.6 2.8l-2.6 2.8l-2.6-2.8z"/><path d="M560.35 697.23l2.6 2.8l-2.6 2.8l-2.6-2.8z"/><path d="M560.35 664.73l2.6 2.8l-2.6 2.8l-2.6-2.8z"/><path d="M561.14 700.93l2.6 2.8l-2.6 2.8l-2.6-2.8z"/><path d="M561.14 668.43l2.6 2.8l-2.6 2.8l-2.6-2.8z"/><path d="M562.47 704.72l2.6 2.8l-2.6 2.8l-2.6-2.8z"/><path d="M562.47 672.22l2.6 2.8l-2.6 2.8l-2.6-2.8z"/><path d="M562.47 677.73l2.6 2.8l-2.6 2.8l-2.6-2.8z"/><path d="M562.47 645.23l2.6 2.8l-2.6 2.8l-2.6-2.8z"/><path d="M577.05 699.76l2.6 2.8l-2.6 2.8l-2.6-2.8z"/><path d="M577.05 667.26l2.6 2.8l-2.6 2.8l-2.6-2.8z"/><path d="M578.37 701.74l2.6 2.8l-2.6 2.8l-2.6-2.8z"/><path d="M578.37 669.24l2.6 2.8l-2.6 2.8l-2.6-2.8z"/><path d="M579.16 675.47l2.6 2.8l-2.6 2.8l-2.6-2.8z"/><path d="M579.16 642.97l2.6 2.8l-2.6 2.8l-2.6-2.8z"/><path d="M645.41 701.74l2.6 2.8l-2.6 2.8l-2.6-2.8z"/><path d="M645.41 669.24l2.6 2.8l-2.6 2.8l-2.6-2.8z"/><path d="M649.92 685.49l2.6 2.8l-2.6 2.8l-2.6-2.8z"/><path d="M649.92 652.99l2.6 2.8l-2.6 2.8l-2.6-2.8z"/><path d="M654.16 679.71l2.6 2.8l-2.6 2.8l-2.6-2.8z"/><path d="M654.16 647.21l2.6 2.8l-2.6 2.8l-2.6-2.8z"/><path d="M657.08 688.47l2.6 2.8l-2.6 2.8l-2.6-2.8z"/><path d="M657.08 655.97l2.6 2.8l-2.6 2.8l-2.6-2.8z"/><path d="M666.35 685.94l2.6 2.8l-2.6 2.8l-2.6-2.8z"/><path d="M666.35 653.44l2.6 2.8l-2.6 2.8l-2.6-2.8z"/><path d="M666.35 691.72l2.6 2.8l-2.6 2.8l-2.6-2.8z"/><path d="M666.35 659.22l2.6 2.8l-2.6 2.8l-2.6-2.8z"/><path d="M686.23 682.24l2.6 2.8l-2.6 2.8l-2.6-2.8z"/><path d="M686.23 649.74l2.6 2.8l-2.6 2.8l-2.6-2.8z"/></g>
<rect x="430" y="645" width="1" height="66" fill="#000"/>
<rect x="430" y="710" width="266" height="1" fill="#000"/>
<rect x="430" y="645" width="266" height="1" fill="#000"/>
<rect x="695" y="645" width="1" height="66" fill="#000"/>
<rect x="430" y="710" width="1" height="4" fill="#000"/>
<rect x="430" y="642" width="1" height="4" fill="#000"/>
<rect x="483" y="710" width="1" height="4" fill="#000"/>
<rect x="483" y="642" width="1" height="4" fill="#000"/>
<rect x="536" y="710" width="1" height="4" fill="#000"/>
<rect x="536" y="642" width="1" height="4" fill="#000"/>
<rect x="589" y="710" width="1" height="4" fill="#000"/>
<rect x="589" y="642" width="1" height="4" fill="#000"/>
<rect x="642" y="710" width="1" height="4" fill="#000"/>
<rect x="642" y="642" width="1" height="4" fill="#000"/>
<rect x="695" y="710" width="1" height="4" fill="#000"/>
<rect x="695" y="642" width="1" height="4" fill="#000"/>
<rect x="427" y="710" width="4" height="1" fill="#000"/>
<rect x="695" y="710" width="4" height="1" fill="#000"/>
<rect x="427" y="702" width="4" height="1" fill="#000"/>
<rect x="695" y="702" width="4" height="1" fill="#000"/>
<rect x="427" y="694" width="4" height="1" fill="#000"/>
<rect x="695" y="694" width="4" height="1" fill="#000"/>
<rect x="427" y="686" width="4" height="1" fill="#000"/>
<rect x="695" y="686" width="4" height="1" fill="#000"/>
<rect x="427" y="678" width="4" height="1" fill="#000"/>
<rect x="695" y="678" width="4" height="1" fill="#000"/>
<rect x="427" y="669" width="4" height="1" fill="#000"/>
<rect x="695" y="669" width="4" height="1" fill="#000"/>
<rect x="427" y="661" width="4" height="1" fill="#000"/>
<rect x="695" y="661" width="4" height="1" fill="#000"/>
<rect x="427" y="653" width="4" height="1" fill="#000"/>
<rect x="695" y="653" width="4" height="1" fill="#000"/>
<rect x="427" y="645" width="4" height="1" fill="#000"/>
<rect x="695" y="645" width="4" height="1" fill="#000"/>
<text transform="translate(420 715) scale(1 1.2)" text-anchor="end">0</text>
<text transform="translate(420 706.88) scale(1 1.2)" text-anchor="end">90</text>
<text transform="translate(420 698.75) scale(1 1.2)" text-anchor="end">180</text>
<text transform="translate(420 690.62) scale(1 1.2)" text-anchor="end">270</text>
<text transform="translate(420 682.5) scale(1 1.2)" text-anchor="end">360</text>
<text transform="translate(420 674.38) scale(1 1.2)" text-anchor="end">450</text>
<text transform="translate(420 666.25) scale(1 1.2)" text-anchor="end">540</text>
<text transform="translate(420 658.12) scale(1 1.2)" text-anchor="end">630</text>
<text transform="translate(420 650) scale(1 1.2)" text-anchor="end">720</text>
<text transform="translate(429.5 729.5) scale(1 1.2)" text-anchor="middle">0</text>
<text transform="translate(482.5 729.5) scale(1 1.2)" text-anchor="middle">0.2</text>
<text transform="translate(535.5 729.5) scale(1 1.2)" text-anchor="middle">0.4</text>
<text transform="translate(588.5 729.5) scale(1 1.2)" text-anchor="middle">0.6</text>
<text transform="translate(641.5 729.5) scale(1 1.2)" text-anchor="middle">0.8</text>
<text transform="translate(694.5 729.5) scale(1 1.2)" text-anchor="middle">1</text>
<text transform="translate(391.5 677.5) rotate(-90) scale(1 1.2)" text-anchor="middle">Phase (Â°)</text>
<text transform="translate(560.5 638.5) scale(1 1.2)" text-anchor="middle">rl tonicstim 1.5V</text>
<g fill="#000"><path d="M711.15 679.71l2.6 2.8l-2.6 2.8l-2.6-2.8z"/><path d="M711.15 647.21l2.6 2.8l-2.6 2.8l-2.6-2.8z"/><path d="M727.11 705.71l2.6 2.8l-2.6 2.8l-2.6-2.8z"/><path d="M727.11 673.21l2.6 2.8l-2.6 2.8l-2.6-2.8z"/><path d="M736.15 680.44l2.6 2.8l-2.6 2.8l-2.6-2.8z"/><path d="M736.15 647.94l2.6 2.8l-2.6 2.8l-2.6-2.8z"/><path d="M830.05 698.49l2.6 2.8l-2.6 2.8l-2.6-2.8z"/><path d="M830.05 665.99l2.6 2.8l-2.6 2.8l-2.6-2.8z"/><path d="M832.71 695.96l2.6 2.8l-2.6 2.8l-2.6-2.8z"/><path d="M832.71 663.46l2.6 2.8l-2.6 2.8l-2.6-2.8z"/><path d="M914.64 688.47l2.6 2.8l-2.6 2.8l-2.6-2.8z"/><path d="M914.64 655.97l2.6 2.8l-2.6 2.8l-2.6-2.8z"/><path d="M930.07 701.74l2.6 2.8l-2.6 2.8l-2.6-2.8z"/><path d="M930.07 669.24l2.6 2.8l-2.6 2.8l-2.6-2.8z"/><path d="M935.92 700.48l2.6 2.8l-2.6 2.8l-2.6-2.8z"/><path d="M935.92 667.98l2.6 2.8l-2.6 2.8l-2.6-2.8z"/><path d="M943.9 703.46l2.6 2.8l-2.6 2.8l-2.6-2.8z"/><path d="M943.9 670.96l2.6 2.8l-2.6 2.8l-2.6-2.8z"/><path d="M943.1 695.42l2.6 2.8l-2.6 2.8l-2.6-2.8z"/><path d="M943.1 662.92l2.6 2.8l-2.6 2.8l-2.6-2.8z"/><path d="M940.97 681.7l2.6 2.8l-2.6 2.8l-2.6-2.8z"/><path d="M940.97 649.2l2.6 2.8l-2.6 2.8l-2.6-2.8z"/></g>
<rect x="704" y="645" width="1" height="66" fill="#000"/>
<rect x="704" y="710" width="267" height="1" fill="#000"/>
<rect x="704" y="645" width="267" height="1" fill="#000"/>
<rect x="970" y="645" width="1" height="66" fill="#000"/>
<rect x="704" y="710" width="1" height="4" fill="#000"/>
<rect x="704" y="642" width="1" height="4" fill="#000"/>
<rect x="757" y="710" width="1" height="4" fill="#000"/>
<rect x="757" y="642" width="1" height="4" fill="#000"/>
<rect x="810" y="710" width="1" height="4" fill="#000"/>
<rect x="810" y="642" width="1" height="4" fill="#000"/>
<rect x="864" y="710" width="1" height="4" fill="#000"/>
<rect x="864" y="642" width="1" height="4" fill="#000"/>
<rect x="917" y="710" width="1" height="4" fill="#000"/>
<rect x="917" y="642" width="1" height="4" fill="#000"/>
<rect x="970" y="710" width="1" height="4" fill="#000"/>
<rect x="970" y="642" width="1" height="4" fill="#000"/>
<rect x="701" y="710" width="4" height="1" fill="#000"/>
<rect x="970" y="710" width="4" height="1" fill="#000"/>
<rect x="701" y="702" width="4" height="1" fill="#000"/>
<rect x="970" y="702" width="4" height="1" fill="#000"/>
<rect x="701" y="694" width="4" height="1" fill="#000"/>
<rect x="970" y="694" width="4" height="1" fill="#000"/>
<rect x="701" y="686" width="4" height="1" fill="#000"/>
<rect x="970" y="686" width="4" height="1" fill="#000"/>
<rect x="701" y="678" width="4" height="1" fill="#000"/>
<rect x="970" y="678" width="4" height="1" fill="#000"/>
<rect x="701" y="669" width="4" height="1" fill="#000"/>
<rect x="970" y="669" width="4" height="1" fill="#000"/>
<rect x="701" y="661" width="4" height="1" fill="#000"/>
<rect x="970" y="661" width="4" height="1" fill="#000"/>
<rect x="701" y="653" width="4" height="1" fill="#000"/>
<rect x="970" y="653" width="4" height="1" fill="#000"/>
<rect x="701" y="645" width="4" height="1" fill="#000"/>
<rect x="970" y="645" width="4" height="1" fill="#000"/>
<text transform="translate(694 715) scale(1 1.2)" text-anchor="end">0</text>
<text transform="translate(694 706.88) scale(1 1.2)" text-anchor="end">90</text>
<text transform="translate(694 698.75) scale(1 1.2)" text-anchor="end">180</text>
<text transform="translate(694 690.62) scale(1 1.2)" text-anchor="end">270</text>
<text transform="translate(694 682.5) scale(1 1.2)" text-anchor="end">360</text>
<text transform="translate(694 674.38) scale(1 1.2)" text-anchor="end">450</text>
<text transform="translate(694 666.25) scale(1 1.2)" text-anchor="end">540</text>
<text transform="translate(694 658.12) scale(1 1.2)" text-anchor="end">630</text>
<text transform="translate(694 650) scale(1 1.2)" text-anchor="end">720</text>
<text transform="translate(703.5 729.5) scale(1 1.2)" text-anchor="middle">0</text>
<text transform="translate(756.7 729.5) scale(1 1.2)" text-anchor="middle">0.2</text>
<text transform="translate(809.9 729.5) scale(1 1.2)" text-anchor="middle">0.4</text>
<text transform="translate(863.1 729.5) scale(1 1.2)" text-anchor="middle">0.6</text>
<text transform="translate(916.3 729.5) scale(1 1.2)" text-anchor="middle">0.8</text>
<text transform="translate(969.5 729.5) scale(1 1.2)" text-anchor="middle">1</text>
<text transform="translate(665.5 677.5) rotate(-90) scale(1 1.2)" text-anchor="middle">Phase (Â°)</text>
<text transform="translate(835 638.5) scale(1 1.2)" text-anchor="middle">rl tonicstim 5V</text>
<g clip-path="url(#c4)"><g filter="url(#jet)"><rect x="136" y="727" width="305" height="85" fill="#000"/><ellipse cx="293.19" cy="777.01" rx="37.91" ry="8" fill="url(#gb)" opacity="0.3"/><ellipse cx="293.19" cy="744.51" rx="37.91" ry="8" fill="url(#gb)" opacity="0.3"/><ellipse cx="294.36" cy="794.55" rx="37.91" ry="8" fill="url(#gb)" opacity="0.26"/><ellipse cx="294.36" cy="762.05" rx="37.91" ry="8" fill="url(#gb)" opacity="0.26"/><ellipse cx="292.02" cy="786.37" rx="32.08" ry="6" fill="url(#gb)" opacity="0.2"/><ellipse cx="292.02" cy="753.87" rx="32.08" ry="6" fill="url(#gb)" opacity="0.2"/><ellipse cx="181.2" cy="802.73" rx="23.33" ry="2.38" fill="url(#gb)" opacity="0.15"/><ellipse cx="181.2" cy="802.73" rx="11.67" ry="1.9" fill="url(#gb)" opacity="0.23"/><ellipse cx="181.2" cy="770.23" rx="23.33" ry="2.38" fill="url(#gb)" opacity="0.15"/><ellipse cx="181.2" cy="770.23" rx="11.67" ry="1.9" fill="url(#gb)" opacity="0.23"/><ellipse cx="181.2" cy="737.73" rx="23.33" ry="2.38" fill="url(#gb)" opacity="0.15"/><ellipse cx="181.2" cy="737.73" rx="11.67" ry="1.9" fill="url(#gb)" opacity="0.23"/><ellipse cx="196.36" cy="779.35" rx="29.16" ry="2.38" fill="url(#gb)" opacity="0.19"/><ellipse cx="196.36" cy="779.35" rx="14.58" ry="1.9" fill="url(#gb)" opacity="0.3"/><ellipse cx="196.36" cy="746.85" rx="29.16" ry="2.38" fill="url(#gb)" opacity="0.19"/><ellipse cx="196.36" cy="746.85" rx="14.58" ry="1.9" fill="url(#gb)" opacity="0.3"/><ellipse cx="216.2" cy="773.74" rx="23.33" ry="2.38" fill="url(#gb)" opacity="0.15"/><ellipse cx="216.2" cy="773.74" rx="11.67" ry="1.9" fill="url(#gb)" opacity="0.23"/><ellipse cx="216.2" cy="741.24" rx="23.33" ry="2.38" fill="url(#gb)" opacity="0.15"/><ellipse cx="216.2" cy="741.24" rx="11.67" ry="1.9" fill="url(#gb)" opacity="0.23"/><ellipse cx="177.7" cy="786.37" rx="23.33" ry="2.38" fill="url(#gb)" opacity="0.13"/><ellipse cx="177.7" cy="786.37" rx="11.67" ry="1.9" fill="url(#gb)" opacity="0.2"/><ellipse cx="177.7" cy="753.87" rx="23.33" ry="2.38" fill="url(#gb)" opacity="0.13"/><ellipse cx="177.7" cy="753.87" rx="11.67" ry="1.9" fill="url(#gb)" opacity="0.2"/><ellipse cx="198.7" cy="791.74" rx="23.33" ry="2.38" fill="url(#gb)" opacity="0.17"/><ellipse cx="198.7" cy="791.74" rx="11.67" ry="1.9" fill="url(#gb)" opacity="0.26"/><ellipse cx="198.7" cy="759.24" rx="23.33" ry="2.38" fill="url(#gb)" opacity="0.17"/><ellipse cx="198.7" cy="759.24" rx="11.67" ry="1.9" fill="url(#gb)" opacity="0.26"/><ellipse cx="159.03" cy="800.4" rx="17.5" ry="2.38" fill="url(#gb)" opacity="0.06"/><ellipse cx="159.03" cy="800.4" rx="8.75" ry="1.9" fill="url(#gb)" opacity="0.1"/><ellipse cx="159.03" cy="767.9" rx="17.5" ry="2.38" fill="url(#gb)" opacity="0.06"/><ellipse cx="159.03" cy="767.9" rx="8.75" ry="1.9" fill="url(#gb)" opacity="0.1"/><ellipse cx="293.19" cy="774.68" rx="35" ry="2.38" fill="url(#gb)" opacity="0.39"/><ellipse cx="293.19" cy="774.68" rx="17.5" ry="1.9" fill="url(#gb)" opacity="0.61"/><ellipse cx="293.19" cy="742.18" rx="35" ry="2.38" fill="url(#gb)" opacity="0.39"/><ellipse cx="293.19" cy="742.18" rx="17.5" ry="1.9" fill="url(#gb)" opacity="0.61"/><ellipse cx="289.69" cy="803.67" rx="29.16" ry="2.38" fill="url(#gb)" opacity="0.25"/><ellipse cx="289.69" cy="803.67" rx="14.58" ry="1.9" fill="url(#gb)" opacity="0.4"/><ellipse cx="289.69" cy="771.17" rx="29.16" ry="2.38" fill="url(#gb)" opacity="0.25"/><ellipse cx="289.69" cy="771.17" rx="14.58" ry="1.9" fill="url(#gb)" opacity="0.4"/><ellipse cx="289.69" cy="738.67" rx="29.16" ry="2.38" fill="url(#gb)" opacity="0.25"/><ellipse cx="289.69" cy="738.67" rx="14.58" ry="1.9" fill="url(#gb)" opacity="0.4"/><ellipse cx="294.36" cy="778.18" rx="29.16" ry="2.38" fill="url(#gb)" opacity="0.25"/><ellipse cx="294.36" cy="778.18" rx="14.58" ry="1.9" fill="url(#gb)" opacity="0.4"/><ellipse cx="294.36" cy="745.68" rx="29.16" ry="2.38" fill="url(#gb)" opacity="0.25"/><ellipse cx="294.36" cy="745.68" rx="14.58" ry="1.9" fill="url(#gb)" opacity="0.4"/><ellipse cx="296.69" cy="782.16" rx="29.16" ry="2.38" fill="url(#gb)" opacity="0.23"/><ellipse cx="296.69" cy="782.16" rx="14.58" ry="1.9" fill="url(#gb)" opacity="0.36"/><ellipse cx="296.69" cy="749.66" rx="29.16" ry="2.38" fill="url(#gb)" opacity="0.23"/><ellipse cx="296.69" cy="749.66" rx="14.58" ry="1.9" fill="url(#gb)" opacity="0.36"/><ellipse cx="280.36" cy="778.18" rx="23.33" ry="2.38" fill="url(#gb)" opacity="0.17"/><ellipse cx="280.36" cy="778.18" rx="11.67" ry="1.9" fill="url(#gb)" opacity="0.26"/><ellipse cx="280.36" cy="745.68" rx="23.33" ry="2.38" fill="url(#gb)" opacity="0.17"/><ellipse cx="280.36" cy="745.68" rx="11.67" ry="1.9" fill="url(#gb)" opacity="0.26"/><ellipse cx="292.02" cy="788.71" rx="23.33" ry="2.38" fill="url(#gb)" opacity="0.19"/><ellipse cx="292.02" cy="788.71" rx="11.67" ry="1.9" fill="url(#gb)" opacity="0.3"/><ellipse cx="292.02" cy="756.21" rx="23.33" ry="2.38" fill="url(#gb)" opacity="0.19"/><ellipse cx="292.02" cy="756.21" rx="11.67" ry="1.9" fill="url(#gb)" opacity="0.3"/><ellipse cx="299.02" cy="792.21" rx="29.16" ry="2.38" fill="url(#gb)" opacity="0.17"/><ellipse cx="299.02" cy="792.21" rx="14.58" ry="1.9" fill="url(#gb)" opacity="0.26"/><ellipse cx="299.02" cy="759.71" rx="29.16" ry="2.38" fill="url(#gb)" opacity="0.17"/><ellipse cx="299.02" cy="759.71" rx="14.58" ry="1.9" fill="url(#gb)" opacity="0.26"/><ellipse cx="310.69" cy="794.08" rx="23.33" ry="2.38" fill="url(#gb)" opacity="0.15"/><ellipse cx="310.69" cy="794.08" rx="11.67" ry="1.9" fill="url(#gb)" opacity="0.23"/><ellipse cx="310.69" cy="761.58" rx="23.33" ry="2.38" fill="url(#gb)" opacity="0.15"/><ellipse cx="310.69" cy="761.58" rx="11.67" ry="1.9" fill="url(#gb)" opacity="0.23"/><ellipse cx="294.36" cy="798.76" rx="29.16" ry="2.38" fill="url(#gb)" opacity="0.36"/><ellipse cx="294.36" cy="798.76" rx="14.58" ry="1.9" fill="url(#gb)" opacity="0.56"/><ellipse cx="294.36" cy="766.26" rx="29.16" ry="2.38" fill="url(#gb)" opacity="0.36"/><ellipse cx="294.36" cy="766.26" rx="14.58" ry="1.9" fill="url(#gb)" opacity="0.56"/><ellipse cx="299.02" cy="800.4" rx="23.33" ry="2.38" fill="url(#gb)" opacity="0.25"/><ellipse cx="299.02" cy="800.4" rx="11.67" ry="1.9" fill="url(#gb)" opacity="0.4"/><ellipse cx="299.02" cy="767.9" rx="23.33" ry="2.38" fill="url(#gb)" opacity="0.25"/><ellipse cx="299.02" cy="767.9" rx="11.67" ry="1.9" fill="url(#gb)" opacity="0.4"/><ellipse cx="287.36" cy="795.72" rx="23.33" ry="2.38" fill="url(#gb)" opacity="0.17"/><ellipse cx="287.36" cy="795.72" rx="11.67" ry="1.9" fill="url(#gb)" opacity="0.26"/><ellipse cx="287.36" cy="763.22" rx="23.33" ry="2.38" fill="url(#gb)" opacity="0.17"/><ellipse cx="287.36" cy="763.22" rx="11.67" ry="1.9" fill="url(#gb)" opacity="0.26"/><ellipse cx="289.69" cy="785.2" rx="35" ry="2.38" fill="url(#gb)" opacity="0.17"/><ellipse cx="289.69" cy="785.2" rx="17.5" ry="1.9" fill="url(#gb)" opacity="0.26"/><ellipse cx="289.69" cy="752.7" rx="35" ry="2.38" fill="url(#gb)" opacity="0.17"/><ellipse cx="289.69" cy="752.7" rx="17.5" ry="1.9" fill="url(#gb)" opacity="0.26"/><ellipse cx="334.02" cy="796.42" rx="23.33" ry="2.38" fill="url(#gb)" opacity="0.15"/><ellipse cx="334.02" cy="796.42" rx="11.67" ry="1.9" fill="url(#gb)" opacity="0.23"/><ellipse cx="334.02" cy="763.92" rx="23.33" ry="2.38" fill="url(#gb)" opacity="0.15"/><ellipse cx="334.02" cy="763.92" rx="11.67" ry="1.9" fill="url(#gb)" opacity="0.23"/><ellipse cx="348.02" cy="777.72" rx="23.33" ry="2.38" fill="url(#gb)" opacity="0.13"/><ellipse cx="348.02" cy="777.72" rx="11.67" ry="1.9" fill="url(#gb)" opacity="0.2"/><ellipse cx="348.02" cy="745.22" rx="23.33" ry="2.38" fill="url(#gb)" opacity="0.13"/><ellipse cx="348.02" cy="745.22" rx="11.67" ry="1.9" fill="url(#gb)" opacity="0.2"/><ellipse cx="348.02" cy="786.37" rx="23.33" ry="2.38" fill="url(#gb)" opacity="0.13"/><ellipse cx="348.02" cy="786.37" rx="11.67" ry="1.9" fill="url(#gb)" opacity="0.2"/><ellipse cx="348.02" cy="753.87" rx="23.33" ry="2.38" fill="url(#gb)" opacity="0.13"/><ellipse cx="348.02" cy="753.87" rx="11.67" ry="1.9" fill="url(#gb)" opacity="0.2"/><ellipse cx="359.69" cy="797.36" rx="23.33" ry="2.38" fill="url(#gb)" opacity="0.13"/><ellipse cx="359.69" cy="797.36" rx="11.67" ry="1.9" fill="url(#gb)" opacity="0.2"/><ellipse cx="359.69" cy="764.86" rx="23.33" ry="2.38" fill="url(#gb)" opacity="0.13"/><ellipse cx="359.69" cy="764.86" rx="11.67" ry="1.9" fill="url(#gb)" opacity="0.2"/><ellipse cx="373.69" cy="803.67" rx="23.33" ry="2.38" fill="url(#gb)" opacity="0.13"/><ellipse cx="373.69" cy="803.67" rx="11.67" ry="1.9" fill="url(#gb)" opacity="0.2"/><ellipse cx="373.69" cy="771.17" rx="23.33" ry="2.38" fill="url(#gb)" opacity="0.13"/><ellipse cx="373.69" cy="771.17" rx="11.67" ry="1.9" fill="url(#gb)" opacity="0.2"/><ellipse cx="373.69" cy="738.67" rx="23.33" ry="2.38" fill="url(#gb)" opacity="0.13"/><ellipse cx="373.69" cy="738.67" rx="11.67" ry="1.9" fill="url(#gb)" opacity="0.2"/><ellipse cx="376.02" cy="775.85" rx="23.33" ry="2.38" fill="url(#gb)" opacity="0.13"/><ellipse cx="376.02" cy="775.85" rx="11.67" ry="1.9" fill="url(#gb)" opacity="0.2"/><ellipse cx="376.02" cy="743.35" rx="23.33" ry="2.38" fill="url(#gb)" opacity="0.13"/><ellipse cx="376.02" cy="743.35" rx="11.67" ry="1.9" fill="url(#gb)" opacity="0.2"/><ellipse cx="373.69" cy="782.16" rx="23.33" ry="2.38" fill="url(#gb)" opacity="0.13"/><ellipse cx="373.69" cy="782.16" rx="11.67" ry="1.9" fill="url(#gb)" opacity="0.2"/><ellipse cx="373.69" cy="749.66" rx="23.33" ry="2.38" fill="url(#gb)" opacity="0.13"/><ellipse cx="373.69" cy="749.66" rx="11.67" ry="1.9" fill="url(#gb)" opacity="0.2"/><ellipse cx="373.69" cy="788.24" rx="23.33" ry="2.38" fill="url(#gb)" opacity="0.13"/><ellipse cx="373.69" cy="788.24" rx="11.67" ry="1.9" fill="url(#gb)" opacity="0.2"/><ellipse cx="373.69" cy="755.74" rx="23.33" ry="2.38" fill="url(#gb)" opacity="0.13"/><ellipse cx="373.69" cy="755.74" rx="11.67" ry="1.9" fill="url(#gb)" opacity="0.2"/><ellipse cx="390.02" cy="798.06" rx="23.33" ry="2.38" fill="url(#gb)" opacity="0.13"/><ellipse cx="390.02" cy="798.06" rx="11.67" ry="1.9" fill="url(#gb)" opacity="0.2"/><ellipse cx="390.02" cy="765.56" rx="23.33" ry="2.38" fill="url(#gb)" opacity="0.13"/><ellipse cx="390.02" cy="765.56" rx="11.67" ry="1.9" fill="url(#gb)" opacity="0.2"/><ellipse cx="401.68" cy="778.18" rx="17.5" ry="2.38" fill="url(#gb)" opacity="0.13"/><ellipse cx="401.68" cy="778.18" rx="8.75" ry="1.9" fill="url(#gb)" opacity="0.2"/><ellipse cx="401.68" cy="745.68" rx="17.5" ry="2.38" fill="url(#gb)" opacity="0.13"/><ellipse cx="401.68" cy="745.68" rx="8.75" ry="1.9" fill="url(#gb)" opacity="0.2"/></g></g>
<rect x="156" y="737" width="1" height="66" fill="#000"/>
<rect x="156" y="802" width="266" height="1" fill="#000"/>
<rect x="156" y="802" width="1" height="4" fill="#000"/>
<rect x="156" y="734" width="1" height="4" fill="#000"/>
<rect x="209" y="802" width="1" height="4" fill="#000"/>
<rect x="209" y="734" width="1" height="4" fill="#000"/>
<rect x="262" y="802" width="1" height="4" fill="#000"/>
<rect x="262" y="734" width="1" height="4" fill="#000"/>
<rect x="315" y="802" width="1" height="4" fill="#000"/>
<rect x="315" y="734" width="1" height="4" fill="#000"/>
<rect x="368" y="802" width="1" height="4" fill="#000"/>
<rect x="368" y="734" width="1" height="4" fill="#000"/>
<rect x="421" y="802" width="1" height="4" fill="#000"/>
<rect x="421" y="734" width="1" height="4" fill="#000"/>
<rect x="153" y="802" width="4" height="1" fill="#000"/>
<rect x="421" y="802" width="4" height="1" fill="#000"/>
<rect x="153" y="794" width="4" height="1" fill="#000"/>
<rect x="421" y="794" width="4" height="1" fill="#000"/>
<rect x="153" y="786" width="4" height="1" fill="#000"/>
<rect x="421" y="786" width="4" height="1" fill="#000"/>
<rect x="153" y="778" width="4" height="1" fill="#000"/>
<rect x="421" y="778" width="4" height="1" fill="#000"/>
<rect x="153" y="770" width="4" height="1" fill="#000"/>
<rect x="421" y="770" width="4" height="1" fill="#000"/>
<rect x="153" y="761" width="4" height="1" fill="#000"/>
<rect x="421" y="761" width="4" height="1" fill="#000"/>
<rect x="153" y="753" width="4" height="1" fill="#000"/>
<rect x="421" y="753" width="4" height="1" fill="#000"/>
<rect x="153" y="745" width="4" height="1" fill="#000"/>
<rect x="421" y="745" width="4" height="1" fill="#000"/>
<rect x="153" y="737" width="4" height="1" fill="#000"/>
<rect x="421" y="737" width="4" height="1" fill="#000"/>
<text transform="translate(146 807) scale(1 1.2)" text-anchor="end">0</text>
<text transform="translate(146 798.88) scale(1 1.2)" text-anchor="end">90</text>
<text transform="translate(146 790.75) scale(1 1.2)" text-anchor="end">180</text>
<text transform="translate(146 782.62) scale(1 1.2)" text-anchor="end">270</text>
<text transform="translate(146 774.5) scale(1 1.2)" text-anchor="end">360</text>
<text transform="translate(146 766.38) scale(1 1.2)" text-anchor="end">450</text>
<text transform="translate(146 758.25) scale(1 1.2)" text-anchor="end">540</text>
<text transform="translate(146 750.12) scale(1 1.2)" text-anchor="end">630</text>
<text transform="translate(146 742) scale(1 1.2)" text-anchor="end">720</text>
<text transform="translate(155.5 821.5) scale(1 1.2)" text-anchor="middle">0</text>
<text transform="translate(208.5 821.5) scale(1 1.2)" text-anchor="middle">0.2</text>
<text transform="translate(261.5 821.5) scale(1 1.2)" text-anchor="middle">0.4</text>
<text transform="translate(314.5 821.5) scale(1 1.2)" text-anchor="middle">0.6</text>
<text transform="translate(367.5 821.5) scale(1 1.2)" text-anchor="middle">0.8</text>
<text transform="translate(420.5 821.5) scale(1 1.2)" text-anchor="middle">1</text>
<text transform="translate(117.5 769.5) rotate(-90) scale(1 1.2)" text-anchor="middle">Phase (Â°)</text>
<g clip-path="url(#c5)"><g filter="url(#jet)"><rect x="410" y="727" width="305" height="85" fill="#000"/><ellipse cx="450.16" cy="775.38" rx="17.5" ry="2.5" fill="url(#gb)" opacity="0.14"/><ellipse cx="450.16" cy="775.38" rx="11.67" ry="2" fill="url(#gb)" opacity="0.38"/><ellipse cx="450.16" cy="742.88" rx="17.5" ry="2.5" fill="url(#gb)" opacity="0.14"/><ellipse cx="450.16" cy="742.88" rx="11.67" ry="2" fill="url(#gb)" opacity="0.38"/><ellipse cx="450.16" cy="777.72" rx="17.5" ry="2.5" fill="url(#gb)" opacity="0.14"/><ellipse cx="450.16" cy="777.72" rx="11.67" ry="2" fill="url(#gb)" opacity="0.38"/><ellipse cx="450.16" cy="745.22" rx="17.5" ry="2.5" fill="url(#gb)" opacity="0.14"/><ellipse cx="450.16" cy="745.22" rx="11.67" ry="2" fill="url(#gb)" opacity="0.38"/><ellipse cx="472.32" cy="789.64" rx="17.5" ry="2.5" fill="url(#gb)" opacity="0.15"/><ellipse cx="472.32" cy="789.64" rx="11.67" ry="2" fill="url(#gb)" opacity="0.42"/><ellipse cx="472.32" cy="757.14" rx="17.5" ry="2.5" fill="url(#gb)" opacity="0.15"/><ellipse cx="472.32" cy="757.14" rx="11.67" ry="2" fill="url(#gb)" opacity="0.42"/><ellipse cx="433.83" cy="789.87" rx="13.12" ry="2.5" fill="url(#gb)" opacity="0.04"/><ellipse cx="433.83" cy="789.87" rx="8.75" ry="2" fill="url(#gb)" opacity="0.13"/><ellipse cx="433.83" cy="757.37" rx="13.12" ry="2.5" fill="url(#gb)" opacity="0.04"/><ellipse cx="433.83" cy="757.37" rx="8.75" ry="2" fill="url(#gb)" opacity="0.13"/><ellipse cx="433.83" cy="795.72" rx="13.12" ry="2.5" fill="url(#gb)" opacity="0.04"/><ellipse cx="433.83" cy="795.72" rx="8.75" ry="2" fill="url(#gb)" opacity="0.13"/><ellipse cx="433.83" cy="763.22" rx="13.12" ry="2.5" fill="url(#gb)" opacity="0.04"/><ellipse cx="433.83" cy="763.22" rx="8.75" ry="2" fill="url(#gb)" opacity="0.13"/><ellipse cx="551.65" cy="798.06" rx="21.87" ry="2.5" fill="url(#gb)" opacity="0.28"/><ellipse cx="551.65" cy="798.06" rx="14.58" ry="2" fill="url(#gb)" opacity="0.78"/><ellipse cx="551.65" cy="765.56" rx="21.87" ry="2.5" fill="url(#gb)" opacity="0.28"/><ellipse cx="551.65" cy="765.56" rx="14.58" ry="2" fill="url(#gb)" opacity="0.78"/><ellipse cx="557.48" cy="792.91" rx="21.87" ry="2.5" fill="url(#gb)" opacity="0.22"/><ellipse cx="557.48" cy="792.91" rx="14.58" ry="2" fill="url(#gb)" opacity="0.61"/><ellipse cx="557.48" cy="760.41" rx="21.87" ry="2.5" fill="url(#gb)" opacity="0.22"/><ellipse cx="557.48" cy="760.41" rx="14.58" ry="2" fill="url(#gb)" opacity="0.61"/><ellipse cx="562.15" cy="795.72" rx="26.25" ry="2.5" fill="url(#gb)" opacity="0.18"/><ellipse cx="562.15" cy="795.72" rx="17.5" ry="2" fill="url(#gb)" opacity="0.51"/><ellipse cx="562.15" cy="763.22" rx="26.25" ry="2.5" fill="url(#gb)" opacity="0.18"/><ellipse cx="562.15" cy="763.22" rx="17.5" ry="2" fill="url(#gb)" opacity="0.51"/><ellipse cx="541.15" cy="796.42" rx="17.5" ry="2.5" fill="url(#gb)" opacity="0.14"/><ellipse cx="541.15" cy="796.42" rx="11.67" ry="2" fill="url(#gb)" opacity="0.38"/><ellipse cx="541.15" cy="763.92" rx="17.5" ry="2.5" fill="url(#gb)" opacity="0.14"/><ellipse cx="541.15" cy="763.92" rx="11.67" ry="2" fill="url(#gb)" opacity="0.38"/><ellipse cx="578.48" cy="795.72" rx="17.5" ry="2.5" fill="url(#gb)" opacity="0.1"/><ellipse cx="578.48" cy="795.72" rx="11.67" ry="2" fill="url(#gb)" opacity="0.3"/><ellipse cx="578.48" cy="763.22" rx="17.5" ry="2.5" fill="url(#gb)" opacity="0.1"/><ellipse cx="578.48" cy="763.22" rx="11.67" ry="2" fill="url(#gb)" opacity="0.3"/><ellipse cx="555.15" cy="800.4" rx="17.5" ry="2.5" fill="url(#gb)" opacity="0.15"/><ellipse cx="555.15" cy="800.4" rx="11.67" ry="2" fill="url(#gb)" opacity="0.42"/><ellipse cx="555.15" cy="767.9" rx="17.5" ry="2.5" fill="url(#gb)" opacity="0.15"/><ellipse cx="555.15" cy="767.9" rx="11.67" ry="2" fill="url(#gb)" opacity="0.42"/><ellipse cx="563.32" cy="804.6" rx="17.5" ry="2.5" fill="url(#gb)" opacity="0.15"/><ellipse cx="563.32" cy="804.6" rx="11.67" ry="2" fill="url(#gb)" opacity="0.42"/><ellipse cx="563.32" cy="772.1" rx="17.5" ry="2.5" fill="url(#gb)" opacity="0.15"/><ellipse cx="563.32" cy="772.1" rx="11.67" ry="2" fill="url(#gb)" opacity="0.42"/><ellipse cx="563.32" cy="739.6" rx="17.5" ry="2.5" fill="url(#gb)" opacity="0.15"/><ellipse cx="563.32" cy="739.6" rx="11.67" ry="2" fill="url(#gb)" opacity="0.42"/><ellipse cx="579.65" cy="802.73" rx="17.5" ry="2.5" fill="url(#gb)" opacity="0.15"/><ellipse cx="579.65" cy="802.73" rx="11.67" ry="2" fill="url(#gb)" opacity="0.42"/><ellipse cx="579.65" cy="770.23" rx="17.5" ry="2.5" fill="url(#gb)" opacity="0.15"/><ellipse cx="579.65" cy="770.23" rx="11.67" ry="2" fill="url(#gb)" opacity="0.42"/><ellipse cx="579.65" cy="737.73" rx="17.5" ry="2.5" fill="url(#gb)" opacity="0.15"/><ellipse cx="579.65" cy="737.73" rx="11.67" ry="2" fill="url(#gb)" opacity="0.42"/><ellipse cx="643.81" cy="797.12" rx="17.5" ry="2.5" fill="url(#gb)" opacity="0.12"/><ellipse cx="643.81" cy="797.12" rx="11.67" ry="2" fill="url(#gb)" opacity="0.34"/><ellipse cx="643.81" cy="764.62" rx="17.5" ry="2.5" fill="url(#gb)" opacity="0.12"/><ellipse cx="643.81" cy="764.62" rx="11.67" ry="2" fill="url(#gb)" opacity="0.34"/><ellipse cx="654.31" cy="790.58" rx="13.12" ry="2.5" fill="url(#gb)" opacity="0.1"/><ellipse cx="654.31" cy="790.58" rx="8.75" ry="2" fill="url(#gb)" opacity="0.3"/><ellipse cx="654.31" cy="758.08" rx="13.12" ry="2.5" fill="url(#gb)" opacity="0.1"/><ellipse cx="654.31" cy="758.08" rx="8.75" ry="2" fill="url(#gb)" opacity="0.3"/><ellipse cx="664.81" cy="785.9" rx="17.5" ry="2.5" fill="url(#gb)" opacity="0.12"/><ellipse cx="664.81" cy="785.9" rx="11.67" ry="2" fill="url(#gb)" opacity="0.34"/><ellipse cx="664.81" cy="753.4" rx="17.5" ry="2.5" fill="url(#gb)" opacity="0.12"/><ellipse cx="664.81" cy="753.4" rx="11.67" ry="2" fill="url(#gb)" opacity="0.34"/><ellipse cx="657.81" cy="783.56" rx="13.12" ry="2.5" fill="url(#gb)" opacity="0.1"/><ellipse cx="657.81" cy="783.56" rx="8.75" ry="2" fill="url(#gb)" opacity="0.3"/><ellipse cx="657.81" cy="751.06" rx="13.12" ry="2.5" fill="url(#gb)" opacity="0.1"/><ellipse cx="657.81" cy="751.06" rx="8.75" ry="2" fill="url(#gb)" opacity="0.3"/><ellipse cx="655.48" cy="780.52" rx="21.87" ry="2.5" fill="url(#gb)" opacity="0.14"/><ellipse cx="655.48" cy="780.52" rx="14.58" ry="2" fill="url(#gb)" opacity="0.38"/><ellipse cx="655.48" cy="748.02" rx="21.87" ry="2.5" fill="url(#gb)" opacity="0.14"/><ellipse cx="655.48" cy="748.02" rx="14.58" ry="2" fill="url(#gb)" opacity="0.38"/><ellipse cx="667.14" cy="780.52" rx="13.12" ry="2.5" fill="url(#gb)" opacity="0.12"/><ellipse cx="667.14" cy="780.52" rx="8.75" ry="2" fill="url(#gb)" opacity="0.34"/><ellipse cx="667.14" cy="748.02" rx="13.12" ry="2.5" fill="url(#gb)" opacity="0.12"/><ellipse cx="667.14" cy="748.02" rx="8.75" ry="2" fill="url(#gb)" opacity="0.34"/><ellipse cx="649.65" cy="774.21" rx="13.12" ry="2.5" fill="url(#gb)" opacity="0.1"/><ellipse cx="649.65" cy="774.21" rx="8.75" ry="2" fill="url(#gb)" opacity="0.3"/><ellipse cx="649.65" cy="741.71" rx="13.12" ry="2.5" fill="url(#gb)" opacity="0.1"/><ellipse cx="649.65" cy="741.71" rx="8.75" ry="2" fill="url(#gb)" opacity="0.3"/></g></g>
<rect x="430" y="737" width="1" height="66" fill="#000"/>
<rect x="430" y="802" width="266" height="1" fill="#000"/>
<rect x="430" y="802" width="1" height="4" fill="#000"/>
<rect x="430" y="734" width="1" height="4" fill="#000"/>
<rect x="483" y="802" width="1" height="4" fill="#000"/>
<rect x="483" y="734" width="1" height="4" fill="#000"/>
<rect x="536" y="802" width="1" height="4" fill="#000"/>
<rect x="536" y="734" width="1" height="4" fill="#000"/>
<rect x="589" y="802" width="1" height="4" fill="#000"/>
<rect x="589" y="734" width="1" height="4" fill="#000"/>
<rect x="642" y="802" width="1" height="4" fill="#000"/>
<rect x="642" y="734" width="1" height="4" fill="#000"/>
<rect x="695" y="802" width="1" height="4" fill="#000"/>
<rect x="695" y="734" width="1" height="4" fill="#000"/>
<rect x="427" y="802" width="4" height="1" fill="#000"/>
<rect x="695" y="802" width="4" height="1" fill="#000"/>
<rect x="427" y="794" width="4" height="1" fill="#000"/>
<rect x="695" y="794" width="4" height="1" fill="#000"/>
<rect x="427" y="786" width="4" height="1" fill="#000"/>
<rect x="695" y="786" width="4" height="1" fill="#000"/>
<rect x="427" y="778" width="4" height="1" fill="#000"/>
<rect x="695" y="778" width="4" height="1" fill="#000"/>
<rect x="427" y="770" width="4" height="1" fill="#000"/>
<rect x="695" y="770" width="4" height="1" fill="#000"/>
<rect x="427" y="761" width="4" height="1" fill="#000"/>
<rect x="695" y="761" width="4" height="1" fill="#000"/>
<rect x="427" y="753" width="4" height="1" fill="#000"/>
<rect x="695" y="753" width="4" height="1" fill="#000"/>
<rect x="427" y="745" width="4" height="1" fill="#000"/>
<rect x="695" y="745" width="4" height="1" fill="#000"/>
<rect x="427" y="737" width="4" height="1" fill="#000"/>
<rect x="695" y="737" width="4" height="1" fill="#000"/>
<text transform="translate(420 807) scale(1 1.2)" text-anchor="end">0</text>
<text transform="translate(420 798.88) scale(1 1.2)" text-anchor="end">90</text>
<text transform="translate(420 790.75) scale(1 1.2)" text-anchor="end">180</text>
<text transform="translate(420 782.62) scale(1 1.2)" text-anchor="end">270</text>
<text transform="translate(420 774.5) scale(1 1.2)" text-anchor="end">360</text>
<text transform="translate(420 766.38) scale(1 1.2)" text-anchor="end">450</text>
<text transform="translate(420 758.25) scale(1 1.2)" text-anchor="end">540</text>
<text transform="translate(420 750.12) scale(1 1.2)" text-anchor="end">630</text>
<text transform="translate(420 742) scale(1 1.2)" text-anchor="end">720</text>
<text transform="translate(429.5 821.5) scale(1 1.2)" text-anchor="middle">0</text>
<text transform="translate(482.5 821.5) scale(1 1.2)" text-anchor="middle">0.2</text>
<text transform="translate(535.5 821.5) scale(1 1.2)" text-anchor="middle">0.4</text>
<text transform="translate(588.5 821.5) scale(1 1.2)" text-anchor="middle">0.6</text>
<text transform="translate(641.5 821.5) scale(1 1.2)" text-anchor="middle">0.8</text>
<text transform="translate(694.5 821.5) scale(1 1.2)" text-anchor="middle">1</text>
<text transform="translate(391.5 769.5) rotate(-90) scale(1 1.2)" text-anchor="middle">Phase (Â°)</text>
<g clip-path="url(#c6)"><g filter="url(#jet)"><rect x="684" y="727" width="306" height="85" fill="#000"/><ellipse cx="733.86" cy="775.14" rx="20.42" ry="2.12" fill="url(#gb)" opacity="0.15"/><ellipse cx="733.86" cy="775.14" rx="14.58" ry="1.7" fill="url(#gb)" opacity="0.48"/><ellipse cx="733.86" cy="742.64" rx="20.42" ry="2.12" fill="url(#gb)" opacity="0.15"/><ellipse cx="733.86" cy="742.64" rx="14.58" ry="1.7" fill="url(#gb)" opacity="0.48"/><ellipse cx="725.7" cy="801.1" rx="20.42" ry="2.12" fill="url(#gb)" opacity="0.15"/><ellipse cx="725.7" cy="801.1" rx="14.58" ry="1.7" fill="url(#gb)" opacity="0.48"/><ellipse cx="725.7" cy="768.6" rx="20.42" ry="2.12" fill="url(#gb)" opacity="0.15"/><ellipse cx="725.7" cy="768.6" rx="14.58" ry="1.7" fill="url(#gb)" opacity="0.48"/><ellipse cx="707.03" cy="774.21" rx="12.25" ry="2.12" fill="url(#gb)" opacity="0.04"/><ellipse cx="707.03" cy="774.21" rx="8.75" ry="1.7" fill="url(#gb)" opacity="0.12"/><ellipse cx="707.03" cy="741.71" rx="12.25" ry="2.12" fill="url(#gb)" opacity="0.04"/><ellipse cx="707.03" cy="741.71" rx="8.75" ry="1.7" fill="url(#gb)" opacity="0.12"/><ellipse cx="831.86" cy="790.58" rx="20.42" ry="2.12" fill="url(#gb)" opacity="0.2"/><ellipse cx="831.86" cy="790.58" rx="14.58" ry="1.7" fill="url(#gb)" opacity="0.66"/><ellipse cx="831.86" cy="758.08" rx="20.42" ry="2.12" fill="url(#gb)" opacity="0.2"/><ellipse cx="831.86" cy="758.08" rx="14.58" ry="1.7" fill="url(#gb)" opacity="0.66"/><ellipse cx="829.52" cy="793.85" rx="20.42" ry="2.12" fill="url(#gb)" opacity="0.2"/><ellipse cx="829.52" cy="793.85" rx="14.58" ry="1.7" fill="url(#gb)" opacity="0.66"/><ellipse cx="829.52" cy="761.35" rx="20.42" ry="2.12" fill="url(#gb)" opacity="0.2"/><ellipse cx="829.52" cy="761.35" rx="14.58" ry="1.7" fill="url(#gb)" opacity="0.66"/><ellipse cx="914.69" cy="784.03" rx="20.42" ry="2.12" fill="url(#gb)" opacity="0.15"/><ellipse cx="914.69" cy="784.03" rx="14.58" ry="1.7" fill="url(#gb)" opacity="0.48"/><ellipse cx="914.69" cy="751.53" rx="20.42" ry="2.12" fill="url(#gb)" opacity="0.15"/><ellipse cx="914.69" cy="751.53" rx="14.58" ry="1.7" fill="url(#gb)" opacity="0.48"/><ellipse cx="942.68" cy="776.31" rx="20.42" ry="2.12" fill="url(#gb)" opacity="0.15"/><ellipse cx="942.68" cy="776.31" rx="14.58" ry="1.7" fill="url(#gb)" opacity="0.48"/><ellipse cx="942.68" cy="743.81" rx="20.42" ry="2.12" fill="url(#gb)" opacity="0.15"/><ellipse cx="942.68" cy="743.81" rx="14.58" ry="1.7" fill="url(#gb)" opacity="0.48"/><ellipse cx="945.02" cy="790.11" rx="20.42" ry="2.12" fill="url(#gb)" opacity="0.15"/><ellipse cx="945.02" cy="790.11" rx="14.58" ry="1.7" fill="url(#gb)" opacity="0.48"/><ellipse cx="945.02" cy="757.61" rx="20.42" ry="2.12" fill="url(#gb)" opacity="0.15"/><ellipse cx="945.02" cy="757.61" rx="14.58" ry="1.7" fill="url(#gb)" opacity="0.48"/><ellipse cx="933.35" cy="796.42" rx="24.5" ry="2.12" fill="url(#gb)" opacity="0.2"/><ellipse cx="933.35" cy="796.42" rx="17.5" ry="1.7" fill="url(#gb)" opacity="0.62"/><ellipse cx="933.35" cy="763.92" rx="24.5" ry="2.12" fill="url(#gb)" opacity="0.2"/><ellipse cx="933.35" cy="763.92" rx="17.5" ry="1.7" fill="url(#gb)" opacity="0.62"/><ellipse cx="945.02" cy="798.06" rx="20.42" ry="2.12" fill="url(#gb)" opacity="0.14"/><ellipse cx="945.02" cy="798.06" rx="14.58" ry="1.7" fill="url(#gb)" opacity="0.44"/><ellipse cx="945.02" cy="765.56" rx="20.42" ry="2.12" fill="url(#gb)" opacity="0.14"/><ellipse cx="945.02" cy="765.56" rx="14.58" ry="1.7" fill="url(#gb)" opacity="0.44"/></g></g>
<rect x="704" y="737" width="1" height="66" fill="#000"/>
<rect x="704" y="802" width="267" height="1" fill="#000"/>
<rect x="704" y="802" width="1" height="4" fill="#000"/>
<rect x="704" y="734" width="1" height="4" fill="#000"/>
<rect x="757" y="802" width="1" height="4" fill="#000"/>
<rect x="757" y="734" width="1" height="4" fill="#000"/>
<rect x="810" y="802" width="1" height="4" fill="#000"/>
<rect x="810" y="734" width="1" height="4" fill="#000"/>
<rect x="864" y="802" width="1" height="4" fill="#000"/>
<rect x="864" y="734" width="1" height="4" fill="#000"/>
<rect x="917" y="802" width="1" height="4" fill="#000"/>
<rect x="917" y="734" width="1" height="4" fill="#000"/>
<rect x="970" y="802" width="1" height="4" fill="#000"/>
<rect x="970" y="734" width="1" height="4" fill="#000"/>
<rect x="701" y="802" width="4" height="1" fill="#000"/>
<rect x="970" y="802" width="4" height="1" fill="#000"/>
<rect x="701" y="794" width="4" height="1" fill="#000"/>
<rect x="970" y="794" width="4" height="1" fill="#000"/>
<rect x="701" y="786" width="4" height="1" fill="#000"/>
<rect x="970" y="786" width="4" height="1" fill="#000"/>
<rect x="701" y="778" width="4" height="1" fill="#000"/>
<rect x="970" y="778" width="4" height="1" fill="#000"/>
<rect x="701" y="770" width="4" height="1" fill="#000"/>
<rect x="970" y="770" width="4" height="1" fill="#000"/>
<rect x="701" y="761" width="4" height="1" fill="#000"/>
<rect x="970" y="761" width="4" height="1" fill="#000"/>
<rect x="701" y="753" width="4" height="1" fill="#000"/>
<rect x="970" y="753" width="4" height="1" fill="#000"/>
<rect x="701" y="745" width="4" height="1" fill="#000"/>
<rect x="970" y="745" width="4" height="1" fill="#000"/>
<rect x="701" y="737" width="4" height="1" fill="#000"/>
<rect x="970" y="737" width="4" height="1" fill="#000"/>
<text transform="translate(694 807) scale(1 1.2)" text-anchor="end">0</text>
<text transform="translate(694 798.88) scale(1 1.2)" text-anchor="end">90</text>
<text transform="translate(694 790.75) scale(1 1.2)" text-anchor="end">180</text>
<text transform="translate(694 782.62) scale(1 1.2)" text-anchor="end">270</text>
<text transform="translate(694 774.5) scale(1 1.2)" text-anchor="end">360</text>
<text transform="translate(694 766.38) scale(1 1.2)" text-anchor="end">450</text>
<text transform="translate(694 758.25) scale(1 1.2)" text-anchor="end">540</text>
<text transform="translate(694 750.12) scale(1 1.2)" text-anchor="end">630</text>
<text transform="translate(694 742) scale(1 1.2)" text-anchor="end">720</text>
<text transform="translate(703.5 821.5) scale(1 1.2)" text-anchor="middle">0</text>
<text transform="translate(756.7 821.5) scale(1 1.2)" text-anchor="middle">0.2</text>
<text transform="translate(809.9 821.5) scale(1 1.2)" text-anchor="middle">0.4</text>
<text transform="translate(863.1 821.5) scale(1 1.2)" text-anchor="middle">0.6</text>
<text transform="translate(916.3 821.5) scale(1 1.2)" text-anchor="middle">0.8</text>
<text transform="translate(969.5 821.5) scale(1 1.2)" text-anchor="middle">1</text>
<text transform="translate(665.5 769.5) rotate(-90) scale(1 1.2)" text-anchor="middle">Phase (Â°)</text>
<text transform="translate(286.5 840.5) scale(1 1.2)" text-anchor="middle">Position</text>
<text transform="translate(560.5 840.5) scale(1 1.2)" text-anchor="middle">Position</text>
<text transform="translate(835 840.5) scale(1 1.2)" text-anchor="middle">Position</text>
<path d="M978.5 515.8 L979.58 515.8 L980.66 515.8 L981.74 515.8 L982.82 515.8 L983.9 517.04 L984.98 520.02 L986.06 523.01 L987.14 524.25 L988.22 524.57 L989.3 525.36 L990.38 526.14 L991.46 526.46 L992.54 526.39 L993.62 526.26 L994.7 526.2 L995.78 524.39 L996.86 520.02 L997.94 515.66 L999.02 513.85 L1000.1 512.88 L1001.18 510.93 L1002.26 509.95 L1003.34 511.09 L1004.42 513.36 L1005.5 514.5 L1006.58 515.93 L1007.66 519.38 L1008.74 522.82 L1009.82 524.25 L1010.9 524.31 L1011.98 524.45 L1013.06 524.58 L1014.14 524.64 L1015.22 524.2 L1016.3 523.14 L1017.38 522.09 L1018.46 521.65 L1019.54 522.16 L1020.62 523.4 L1021.7 524.65 L1022.78 525.16 L1023.86 525.32 L1024.94 525.74 L1026.02 526.27 L1027.1 526.69 L1028.18 526.85 L1029.26 526.85 L1030.34 526.85 L1031.42 526.85 L1032.5 526.85 L1033.58 526.85 L1034.66 526.85 L1035.74 526.85 L1036.82 526.15 L1037.9 524.45 L1038.98 522.74 L1040.06 522.04 L1041.14 522.69 L1042.22 524.25 L1043.3 525.81 L1044.38 526.46 L1045.46 526.48 L1046.54 526.53 L1047.62 526.61 L1048.7 526.7 L1049.78 526.78 L1050.86 526.83 L1051.94 526.85 L1053.02 525.06 L1054.1 521.49 L1055.18 519.7 L1056.26 511.25 L1057.34 494.35 L1058.42 485.9 L1059.5 481.77 L1060.58 475.08 L1061.66 475.33 L1062.74 483.47 L1063.82 488.5 L1064.9 495.98 L1065.98 510.93 L1067.06 518.4 L1068.14 519.7 L1069.22 522.3 L1070.3 523.6 L1071.38 523.6 L1072.46 523.6 L1073.54 523.6 L1074.62 523.6 L1075.7 523.31 L1076.78 522.62 L1077.86 521.94 L1078.94 521.65 L1080.02 522.35 L1081.1 524.05 L1082.18 525.76 L1083.26 526.46 L1084.34 526.56 L1085.42 526.75 L1086.5 526.85" fill="none" stroke="#ff0000" stroke-width="1" stroke-linejoin="round"/>
<path d="M978.5 511.9 L979.58 511.9 L980.66 511.9 L981.74 511.9 L982.82 513.85 L983.9 517.75 L984.98 519.7 L986.06 521.49 L987.14 525.06 L988.22 526.85 L989.3 526.86 L990.38 526.87 L991.46 526.9 L992.54 526.93 L993.62 526.98 L994.7 527.02 L995.78 527.07 L996.86 527.11 L997.94 527.16 L999.02 527.19 L1000.1 527.22 L1001.18 527.23 L1002.26 527.24 L1003.34 526.9 L1004.42 526.07 L1005.5 525.24 L1006.58 524.9 L1007.66 525.49 L1008.74 526.65 L1009.82 527.24 L1010.9 527.24 L1011.98 527.24 L1013.06 527.24 L1014.14 527.24 L1015.22 527.24 L1016.3 527.24 L1017.38 527.24 L1018.46 527.24 L1019.54 527.24 L1020.62 527.24 L1021.7 527.24 L1022.78 527.24 L1023.86 527.24 L1024.94 527.24 L1026.02 527.24 L1027.1 527.24 L1028.18 527.24 L1029.26 527.24 L1030.34 527.24 L1031.42 527.24 L1032.5 527.24 L1033.58 527.24 L1034.66 527.24 L1035.74 527.24 L1036.82 527.24 L1037.9 527.24 L1038.98 527.24 L1040.06 527.24 L1041.14 527.24 L1042.22 527.24 L1043.3 527.24 L1044.38 527.24 L1045.46 527.24 L1046.54 527.24 L1047.62 527.24 L1048.7 527.24 L1049.78 527.24 L1050.86 527.24 L1051.94 527.24 L1053.02 526.72 L1054.1 526.2 L1055.18 524.74 L1056.26 521.81 L1057.34 520.35 L1058.42 521.49 L1059.5 523.76 L1060.58 524.9 L1061.66 526.07 L1062.74 527.24 L1063.82 527.23 L1064.9 527.2 L1065.98 527.16 L1067.06 527.11 L1068.14 527.04 L1069.22 526.98 L1070.3 526.93 L1071.38 526.89 L1072.46 526.86 L1073.54 526.85 L1074.62 525.88 L1075.7 523.92 L1076.78 522.95 L1077.86 521.2 L1078.94 519.44 L1080.02 521.52 L1081.1 523.6 L1082.18 525.42 L1083.26 527.24 L1084.34 527.24 L1085.42 527.24 L1086.5 527.24" fill="none" stroke="#0000ff" stroke-width="1" stroke-linejoin="round"/>
<rect x="978" y="462" width="1" height="66" fill="#000"/>
<rect x="978" y="527" width="109" height="1" fill="#000"/>
<rect x="978" y="462" width="109" height="1" fill="#000"/>
<rect x="1086" y="462" width="1" height="66" fill="#000"/>
<rect x="1032" y="526" width="1" height="2" fill="#000"/>
<rect x="1032" y="462" width="1" height="2" fill="#000"/>
<rect x="978" y="494" width="2" height="1" fill="#000"/>
<rect x="1085" y="494" width="2" height="1" fill="#000"/>
<text transform="translate(1030 456) scale(1 1.2)" text-anchor="middle">TonicStim5V mean</text>
<text transform="translate(971 467) scale(1 1.2)" text-anchor="end">5</text>
<text transform="translate(971 532) scale(1 1.2)" text-anchor="end">0</text>
<text transform="translate(977.5 545) scale(1 1.2)" text-anchor="middle">0</text>
<text transform="translate(1031.5 545) scale(1 1.2)" text-anchor="middle">50</text>
<text transform="translate(1085.5 545) scale(1 1.2)" text-anchor="middle">100</text>
<path d="M978.5 616.94 L979.58 613.88 L980.66 614.31 L981.74 617.37 L982.82 618.5 L983.9 618.5 L984.98 618.5 L986.06 618.13 L987.14 617.56 L988.22 617 L989.3 616.64 L990.38 617.21 L991.46 617.78 L992.54 618.34 L993.62 618.5 L994.7 618.5 L995.78 618.5 L996.86 617.3 L997.94 614.42 L999.02 609.63 L1000.1 608.14 L1001.18 612.03 L1002.26 614.75 L1003.34 616.73 L1004.42 618.5 L1005.5 617.24 L1006.58 615.28 L1007.66 613.21 L1008.74 610.89 L1009.82 612.11 L1010.9 616.17 L1011.98 618.5 L1013.06 618.5 L1014.14 618.5 L1015.22 615.61 L1016.3 614.73 L1017.38 617.89 L1018.46 618.5 L1019.54 618.5 L1020.62 618.5 L1021.7 618.5 L1022.78 618.5 L1023.86 618.5 L1024.94 618.5 L1026.02 618.5 L1027.1 618.5 L1028.18 618.5 L1029.26 618.5 L1030.34 618.5 L1031.42 618.5 L1032.5 618.5 L1033.58 618.5 L1034.66 618.5 L1035.74 617.03 L1036.82 615.16 L1037.9 613.97 L1038.98 613.28 L1040.06 612.2 L1041.14 612.49 L1042.22 613.46 L1043.3 615.59 L1044.38 617.57 L1045.46 618.5 L1046.54 618.5 L1047.62 618.5 L1048.7 618.5 L1049.78 618.5 L1050.86 618.5 L1051.94 618.5 L1053.02 618.5 L1054.1 618.5 L1055.18 618.5 L1056.26 613.09 L1057.34 603.84 L1058.42 594.59 L1059.5 592.12 L1060.58 593.76 L1061.66 605.33 L1062.74 616.94 L1063.82 613.33 L1064.9 608.84 L1065.98 608.13 L1067.06 612.62 L1068.14 617.11 L1069.22 618.5 L1070.3 618.5 L1071.38 618.5 L1072.46 618.5 L1073.54 618.5 L1074.62 618.5 L1075.7 618.5 L1076.78 616.71 L1077.86 614.35 L1078.94 612.22 L1080.02 614.58 L1081.1 616.94 L1082.18 618.5 L1083.26 618.5 L1084.34 618.5 L1085.42 618.5 L1086.5 618.5" fill="none" stroke="#ff0000" stroke-width="1" stroke-linejoin="round"/>
<path d="M978.5 618.5 L979.58 618.5 L980.66 618.5 L981.74 618.5 L982.82 618.5 L983.9 618.5 L984.98 618.5 L986.06 618.5 L987.14 618.5 L988.22 618.5 L989.3 618.5 L990.38 618.5 L991.46 617.94 L992.54 617.29 L993.62 616.64 L994.7 616.59 L995.78 617.24 L996.86 617.24 L997.94 616.89 L999.02 617.77 L1000.1 618.31 L1001.18 614.34 L1002.26 610.36 L1003.34 606.39 L1004.42 608.21 L1005.5 609.8 L1006.58 610.1 L1007.66 613.66 L1008.74 615.16 L1009.82 613.1 L1010.9 613.24 L1011.98 613.54 L1013.06 613.85 L1014.14 611.9 L1015.22 610.07 L1016.3 606.29 L1017.38 608.1 L1018.46 613.19 L1019.54 615.77 L1020.62 618.36 L1021.7 618.5 L1022.78 618.5 L1023.86 618.5 L1024.94 618.5 L1026.02 618.5 L1027.1 618.5 L1028.18 618.5 L1029.26 618.5 L1030.34 618.5 L1031.42 618.5 L1032.5 618.5 L1033.58 618.5 L1034.66 618.5 L1035.74 618.5 L1036.82 618.5 L1037.9 618.5 L1038.98 618.5 L1040.06 617.45 L1041.14 614.95 L1042.22 611.75 L1043.3 611.49 L1044.38 611.54 L1045.46 613.48 L1046.54 617.19 L1047.62 618.5 L1048.7 618.5 L1049.78 618.5 L1050.86 618.5 L1051.94 618.5 L1053.02 618.5 L1054.1 618.5 L1055.18 618.5 L1056.26 618.5 L1057.34 615.75 L1058.42 612.31 L1059.5 608.88 L1060.58 610.44 L1061.66 613.87 L1062.74 614.61 L1063.82 611.89 L1064.9 607.99 L1065.98 605.3 L1067.06 606.48 L1068.14 606.38 L1069.22 612.08 L1070.3 614.93 L1071.38 611.82 L1072.46 615.53 L1073.54 618.5 L1074.62 618.5 L1075.7 618.5 L1076.78 618.5 L1077.86 618.5 L1078.94 617.56 L1080.02 615.48 L1081.1 614.22 L1082.18 615.28 L1083.26 617.26 L1084.34 618.5 L1085.42 618.5 L1086.5 618.5" fill="none" stroke="#ff0000" stroke-width="1" stroke-linejoin="round"/>
<path d="M978.5 611.47 L979.58 609.53 L980.66 609.56 L981.74 612.35 L982.82 615.09 L983.9 617.83 L984.98 618.5 L986.06 618.5 L987.14 618.5 L988.22 618.5 L989.3 618.5 L990.38 618.5 L991.46 618.5 L992.54 618.5 L993.62 618.5 L994.7 618.5 L995.78 618.5 L996.86 618.5 L997.94 618.5 L999.02 618.5 L1000.1 618.5 L1001.18 617.29 L1002.26 615.53 L1003.34 613.77 L1004.42 612.01 L1005.5 612.55 L1006.58 612.57 L1007.66 611.33 L1008.74 610.09 L1009.82 609.2 L1010.9 612.2 L1011.98 615.2 L1013.06 617.43 L1014.14 615.2 L1015.22 611.79 L1016.3 611.21 L1017.38 614.62 L1018.46 617.8 L1019.54 618.5 L1020.62 618.5 L1021.7 618.5 L1022.78 618.5 L1023.86 616.96 L1024.94 610.69 L1026.02 604.41 L1027.1 608.23 L1028.18 614.5 L1029.26 617.96 L1030.34 618.5 L1031.42 618.5 L1032.5 618.5 L1033.58 618.5 L1034.66 618.43 L1035.74 616.99 L1036.82 613.07 L1037.9 611.27 L1038.98 615.19 L1040.06 617.73 L1041.14 617.41 L1042.22 616.8 L1043.3 617.3 L1044.38 617.91 L1045.46 618.5 L1046.54 618.5 L1047.62 618.5 L1048.7 618.5 L1049.78 618.5 L1050.86 618.5 L1051.94 615.5 L1053.02 611.52 L1054.1 607.54 L1055.18 608.7 L1056.26 610.12 L1057.34 610.4 L1058.42 608.53 L1059.5 604.83 L1060.58 607.03 L1061.66 610.73 L1062.74 613.35 L1063.82 614.65 L1064.9 612.61 L1065.98 612.91 L1067.06 612.7 L1068.14 608.11 L1069.22 608.57 L1070.3 612.77 L1071.38 609.47 L1072.46 603.41 L1073.54 608.33 L1074.62 613.24 L1075.7 615.61 L1076.78 616.28 L1077.86 617.61 L1078.94 618.4 L1080.02 614.58 L1081.1 613.97 L1082.18 617.96 L1083.26 618.5 L1084.34 618.5 L1085.42 618.5 L1086.5 618.5" fill="none" stroke="#ff0000" stroke-width="1" stroke-linejoin="round"/>
<path d="M978.5 612.05 L979.58 605.6 L980.66 605.66 L981.74 609.15 L982.82 613.18 L983.9 615.98 L984.98 618.5 L986.06 618.5 L987.14 618.5 L988.22 618.5 L989.3 618.5 L990.38 618.5 L991.46 618.5 L992.54 618.5 L993.62 618.5 L994.7 618.5 L995.78 618.5 L996.86 618.5 L997.94 618.5 L999.02 617.62 L1000.1 616.02 L1001.18 614.42 L1002.26 612.83 L1003.34 611.48 L1004.42 613.08 L1005.5 614.68 L1006.58 615.42 L1007.66 615.63 L1008.74 614.19 L1009.82 614.03 L1010.9 613.87 L1011.98 614.25 L1013.06 615.8 L1014.14 617.34 L1015.22 618.5 L1016.3 618.5 L1017.38 618.5 L1018.46 618.5 L1019.54 618.5 L1020.62 618.5 L1021.7 616.82 L1022.78 615.12 L1023.86 613.55 L1024.94 615.25 L1026.02 616.95 L1027.1 618.5 L1028.18 618.5 L1029.26 618.5 L1030.34 618.5 L1031.42 618.5 L1032.5 618.5 L1033.58 618.5 L1034.66 618.14 L1035.74 614.73 L1036.82 609.84 L1037.9 608.06 L1038.98 612.13 L1040.06 614.13 L1041.14 614.78 L1042.22 615.54 L1043.3 616.99 L1044.38 618.44 L1045.46 618.5 L1046.54 618.5 L1047.62 618.5 L1048.7 618.5 L1049.78 618.5 L1050.86 618.5 L1051.94 618.5 L1053.02 618.5 L1054.1 618.5 L1055.18 618.5 L1056.26 618.5 L1057.34 618.5 L1058.42 618.5 L1059.5 616.29 L1060.58 609.78 L1061.66 603.27 L1062.74 603.57 L1063.82 604.86 L1064.9 606.85 L1065.98 610.1 L1067.06 615.26 L1068.14 617.11 L1069.22 618.5 L1070.3 618.5 L1071.38 618.15 L1072.46 615.94 L1073.54 611.3 L1074.62 607.53 L1075.7 612.16 L1076.78 616.44 L1077.86 618.5 L1078.94 618.5 L1080.02 618.5 L1081.1 618.5 L1082.18 618.5 L1083.26 618.5 L1084.34 618.5 L1085.42 618.5 L1086.5 618.5" fill="none" stroke="#ff0000" stroke-width="1" stroke-linejoin="round"/>
<path d="M978.5 617.35 L979.58 616.7 L980.66 616.81 L981.74 617.46 L982.82 617.25 L983.9 616.32 L984.98 614.99 L986.06 614.86 L987.14 616.19 L988.22 617.51 L989.3 618.5 L990.38 618.5 L991.46 617.86 L992.54 617.07 L993.62 615.3 L994.7 613.76 L995.78 613.21 L996.86 614.24 L997.94 616.39 L999.02 614.4 L1000.1 608.9 L1001.18 609.78 L1002.26 611.94 L1003.34 608.94 L1004.42 607.77 L1005.5 606.87 L1006.58 605.97 L1007.66 608.05 L1008.74 611.82 L1009.82 614.67 L1010.9 617.52 L1011.98 618.5 L1013.06 618.5 L1014.14 618.5 L1015.22 618.5 L1016.3 618.5 L1017.38 618.5 L1018.46 618.5 L1019.54 618.17 L1020.62 616.43 L1021.7 614.68 L1022.78 616.38 L1023.86 617.03 L1024.94 612.21 L1026.02 608.41 L1027.1 613.6 L1028.18 617.55 L1029.26 618.5 L1030.34 618.5 L1031.42 618.5 L1032.5 618.5 L1033.58 618.5 L1034.66 618.5 L1035.74 618.5 L1036.82 618.49 L1037.9 616.71 L1038.98 615.34 L1040.06 616.23 L1041.14 617.02 L1042.22 617.64 L1043.3 618.26 L1044.38 618.5 L1045.46 618.5 L1046.54 618.5 L1047.62 618.5 L1048.7 618.5 L1049.78 618.5 L1050.86 618.5 L1051.94 618.35 L1053.02 612.2 L1054.1 606.06 L1055.18 609.75 L1056.26 615.89 L1057.34 618.41 L1058.42 614.88 L1059.5 611.36 L1060.58 607.84 L1061.66 609.75 L1062.74 612.78 L1063.82 614.46 L1064.9 613.99 L1065.98 610.15 L1067.06 612.3 L1068.14 616.59 L1069.22 618.45 L1070.3 618.5 L1071.38 618.5 L1072.46 618.5 L1073.54 618.5 L1074.62 618.5 L1075.7 618.5 L1076.78 618.5 L1077.86 618.5 L1078.94 618.14 L1080.02 617.11 L1081.1 616.07 L1082.18 615.62 L1083.26 616.66 L1084.34 617.69 L1085.42 618.5 L1086.5 618.5" fill="none" stroke="#ff0000" stroke-width="1" stroke-linejoin="round"/>
<path d="M978.5 607.84 L979.58 605.83 L980.66 607.46 L981.74 608.27 L982.82 611.59 L983.9 616.9 L984.98 618.5 L986.06 618.5 L987.14 618.5 L988.22 618.5 L989.3 618.5 L990.38 618.5 L991.46 618.5 L992.54 618.5 L993.62 618.5 L994.7 618.5 L995.78 618.5 L996.86 618.49 L997.94 617.79 L999.02 617.08 L1000.1 616.77 L1001.18 617.48 L1002.26 618.18 L1003.34 618.5 L1004.42 618.15 L1005.5 617.4 L1006.58 616.12 L1007.66 614.65 L1008.74 612.59 L1009.82 612.91 L1010.9 615.12 L1011.98 617.34 L1013.06 617.57 L1014.14 615.26 L1015.22 612.94 L1016.3 612.22 L1017.38 614.53 L1018.46 616.85 L1019.54 618.5 L1020.62 618.5 L1021.7 618.5 L1022.78 618.5 L1023.86 618.5 L1024.94 617.5 L1026.02 614.79 L1027.1 613.79 L1028.18 613.39 L1029.26 614.11 L1030.34 616.82 L1031.42 618.5 L1032.5 618.5 L1033.58 618.5 L1034.66 618.5 L1035.74 618.5 L1036.82 618.5 L1037.9 618.5 L1038.98 617.99 L1040.06 614.7 L1041.14 611.42 L1042.22 611.67 L1043.3 614.95 L1044.38 617.23 L1045.46 618.5 L1046.54 618.5 L1047.62 618.5 L1048.7 618.5 L1049.78 618.5 L1050.86 618.5 L1051.94 617.57 L1053.02 616.41 L1054.1 615.25 L1055.18 615.67 L1056.26 616.83 L1057.34 614.33 L1058.42 604.23 L1059.5 593.62 L1060.58 592.06 L1061.66 602.67 L1062.74 613.28 L1063.82 618.5 L1064.9 616.1 L1065.98 612.58 L1067.06 609.05 L1068.14 608.35 L1069.22 611.35 L1070.3 614.74 L1071.38 616.88 L1072.46 617.62 L1073.54 618.5 L1074.62 618.5 L1075.7 618.5 L1076.78 618.5 L1077.86 617.13 L1078.94 615.5 L1080.02 615.7 L1081.1 616.38 L1082.18 615.64 L1083.26 613.74 L1084.34 614.07 L1085.42 615.97 L1086.5 617.87" fill="none" stroke="#ff0000" stroke-width="1" stroke-linejoin="round"/>
<path d="M978.5 607.45 L979.58 608.53 L980.66 610.83 L981.74 613.13 L982.82 615.51 L983.9 615.27 L984.98 614.77 L986.06 614.67 L987.14 616.03 L988.22 617.39 L989.3 618.5 L990.38 618.5 L991.46 618.5 L992.54 618.5 L993.62 618.5 L994.7 618.5 L995.78 617.65 L996.86 614.17 L997.94 610.69 L999.02 607.21 L1000.1 608.98 L1001.18 612.46 L1002.26 615.94 L1003.34 618.5 L1004.42 618.5 L1005.5 618.5 L1006.58 618.5 L1007.66 615.9 L1008.74 612.44 L1009.82 614.97 L1010.9 618.07 L1011.98 617.33 L1013.06 616.65 L1014.14 617.45 L1015.22 618.25 L1016.3 618.5 L1017.38 618.5 L1018.46 618.5 L1019.54 618.5 L1020.62 618.5 L1021.7 618.07 L1022.78 617.26 L1023.86 616.78 L1024.94 617.53 L1026.02 615.57 L1027.1 612.9 L1028.18 613.66 L1029.26 616.43 L1030.34 618.5 L1031.42 618.5 L1032.5 618.5 L1033.58 618.5 L1034.66 617.52 L1035.74 616.39 L1036.82 615.26 L1037.9 616.03 L1038.98 616.39 L1040.06 615.91 L1041.14 614.52 L1042.22 614.19 L1043.3 615.8 L1044.38 617.4 L1045.46 618.5 L1046.54 618.5 L1047.62 618.5 L1048.7 618.5 L1049.78 618.5 L1050.86 618.5 L1051.94 618.5 L1053.02 618.5 L1054.1 618.5 L1055.18 618.5 L1056.26 618.5 L1057.34 616.88 L1058.42 610.81 L1059.5 604.75 L1060.58 601.36 L1061.66 607.43 L1062.74 613.49 L1063.82 618.5 L1064.9 612.36 L1065.98 604.56 L1067.06 601.93 L1068.14 603.63 L1069.22 611.58 L1070.3 616.45 L1071.38 618.3 L1072.46 617.38 L1073.54 616.46 L1074.62 616.23 L1075.7 617.15 L1076.78 618.07 L1077.86 618.5 L1078.94 618.5 L1080.02 618.5 L1081.1 618.5 L1082.18 618.5 L1083.26 618.5 L1084.34 618.5 L1085.42 618.5 L1086.5 618.5" fill="none" stroke="#ff0000" stroke-width="1" stroke-linejoin="round"/>
<path d="M978.5 618.5 L979.58 618.5 L980.66 618.5 L981.74 618.34 L982.82 616.22 L983.9 614.55 L984.98 615.95 L986.06 617.79 L987.14 618.5 L988.22 617.46 L989.3 616.15 L990.38 615.79 L991.46 617.1 L992.54 618.42 L993.62 618.5 L994.7 618.5 L995.78 617.3 L996.86 615.54 L997.94 613.77 L999.02 612.01 L1000.1 611.62 L1001.18 613.38 L1002.26 615.14 L1003.34 616.91 L1004.42 618.5 L1005.5 618.5 L1006.58 618.5 L1007.66 618.5 L1008.74 618.5 L1009.82 618.5 L1010.9 618.31 L1011.98 616.09 L1013.06 613.88 L1014.14 612.2 L1015.22 614.28 L1016.3 614.78 L1017.38 614.93 L1018.46 613.55 L1019.54 614.39 L1020.62 614.28 L1021.7 614.15 L1022.78 614.46 L1023.86 616.29 L1024.94 617.93 L1026.02 618.5 L1027.1 618.5 L1028.18 618.5 L1029.26 618.5 L1030.34 618.5 L1031.42 618.5 L1032.5 618.5 L1033.58 618.5 L1034.66 618.5 L1035.74 618.5 L1036.82 618.5 L1037.9 618.5 L1038.98 615.82 L1040.06 612.64 L1041.14 615.06 L1042.22 615.44 L1043.3 612.46 L1044.38 610.13 L1045.46 612.24 L1046.54 615.48 L1047.62 617.68 L1048.7 618.5 L1049.78 618.5 L1050.86 618.5 L1051.94 618.5 L1053.02 618.38 L1054.1 615.19 L1055.18 612.01 L1056.26 610.99 L1057.34 609.38 L1058.42 603.09 L1059.5 594.77 L1060.58 598.43 L1061.66 607.9 L1062.74 617.29 L1063.82 613.38 L1064.9 608.33 L1065.98 600.44 L1067.06 599.18 L1068.14 600.79 L1069.22 611.14 L1070.3 617.51 L1071.38 613.46 L1072.46 610.78 L1073.54 616.45 L1074.62 618.5 L1075.7 616.15 L1076.78 612.59 L1077.86 610.88 L1078.94 612.77 L1080.02 616.13 L1081.1 617.91 L1082.18 618.5 L1083.26 618.5 L1084.34 618.5 L1085.42 618.5 L1086.5 618.5" fill="none" stroke="#ff0000" stroke-width="1" stroke-linejoin="round"/>
<path d="M978.5 616.27 L979.58 616.1 L980.66 617.62 L981.74 618.5 L982.82 618.23 L983.9 617.56 L984.98 616.89 L986.06 616.85 L987.14 616.57 L988.22 616.24 L989.3 617.15 L990.38 618.15 L991.46 618.5 L992.54 618.5 L993.62 618.5 L994.7 618.5 L995.78 618.5 L996.86 618.5 L997.94 618.5 L999.02 613.52 L1000.1 608.3 L1001.18 606.75 L1002.26 609.79 L1003.34 612.65 L1004.42 613.25 L1005.5 615.61 L1006.58 617.6 L1007.66 616.84 L1008.74 615.55 L1009.82 616.84 L1010.9 618.13 L1011.98 618.5 L1013.06 618.5 L1014.14 617.93 L1015.22 617.17 L1016.3 616.41 L1017.38 616.58 L1018.46 615.95 L1019.54 615.1 L1020.62 615.16 L1021.7 614.09 L1022.78 612.11 L1023.86 613.64 L1024.94 616.32 L1026.02 618.5 L1027.1 618.5 L1028.18 618.5 L1029.26 617.42 L1030.34 616.12 L1031.42 614.82 L1032.5 615.8 L1033.58 617.09 L1034.66 618.39 L1035.74 618.5 L1036.82 618.5 L1037.9 616.38 L1038.98 614.61 L1040.06 615.31 L1041.14 615.72 L1042.22 617.31 L1043.3 618.5 L1044.38 618.5 L1045.46 618.5 L1046.54 618.5 L1047.62 618.5 L1048.7 618.5 L1049.78 618.5 L1050.86 618.5 L1051.94 618.5 L1053.02 618.48 L1054.1 617.63 L1055.18 616.78 L1056.26 612.19 L1057.34 604.01 L1058.42 603.67 L1059.5 605.97 L1060.58 603.82 L1061.66 606.43 L1062.74 610.25 L1063.82 612.73 L1064.9 614.25 L1065.98 612.11 L1067.06 612.45 L1068.14 614.64 L1069.22 616.82 L1070.3 618.5 L1071.38 618.5 L1072.46 618.5 L1073.54 618.5 L1074.62 618.5 L1075.7 618.5 L1076.78 618.5 L1077.86 618.5 L1078.94 618.5 L1080.02 618.5 L1081.1 618.48 L1082.18 614.59 L1083.26 610.29 L1084.34 611.42 L1085.42 615.72 L1086.5 617.99" fill="none" stroke="#ff0000" stroke-width="1" stroke-linejoin="round"/>
<path d="M978.5 605.35 L979.58 601.38 L980.66 608.54 L981.74 614.25 L982.82 617 L983.9 618.5 L984.98 618.5 L986.06 618.5 L987.14 618.5 L988.22 618.5 L989.3 618.5 L990.38 618.5 L991.46 618.45 L992.54 617.36 L993.62 616.27 L994.7 616.75 L995.78 615.79 L996.86 611.64 L997.94 606.82 L999.02 602 L1000.1 605.03 L1001.18 609.85 L1002.26 614.67 L1003.34 618.5 L1004.42 618.5 L1005.5 617.37 L1006.58 615.37 L1007.66 613.37 L1008.74 611.37 L1009.82 610.37 L1010.9 608.9 L1011.98 612.63 L1013.06 617.87 L1014.14 618.5 L1015.22 618.5 L1016.3 618.5 L1017.38 618.5 L1018.46 617.09 L1019.54 613.98 L1020.62 616.63 L1021.7 618.5 L1022.78 616.62 L1023.86 613.36 L1024.94 610.1 L1026.02 609.65 L1027.1 612.91 L1028.18 616.17 L1029.26 618.03 L1030.34 618.5 L1031.42 618.5 L1032.5 618.5 L1033.58 618.5 L1034.66 618.5 L1035.74 618.5 L1036.82 616.91 L1037.9 614.79 L1038.98 612.67 L1040.06 612.88 L1041.14 610.13 L1042.22 609.18 L1043.3 613.29 L1044.38 617.3 L1045.46 618.28 L1046.54 618.5 L1047.62 618.5 L1048.7 618.5 L1049.78 618.5 L1050.86 618.5 L1051.94 618.5 L1053.02 618.5 L1054.1 618.5 L1055.18 618.5 L1056.26 611.78 L1057.34 603.68 L1058.42 595.58 L1059.5 590.79 L1060.58 598.89 L1061.66 606.99 L1062.74 615.09 L1063.82 614.5 L1064.9 609.6 L1065.98 604.71 L1067.06 605.32 L1068.14 603.83 L1069.22 611.97 L1070.3 615.34 L1071.38 616.53 L1072.46 617.86 L1073.54 618.5 L1074.62 618.5 L1075.7 618.5 L1076.78 618 L1077.86 616.27 L1078.94 614.73 L1080.02 616.47 L1081.1 616.43 L1082.18 614.39 L1083.26 610.75 L1084.34 610.05 L1085.42 610.88 L1086.5 615.64" fill="none" stroke="#ff0000" stroke-width="1" stroke-linejoin="round"/>
<path d="M978.5 609.91 L979.58 606.04 L980.66 608.49 L981.74 610.8 L982.82 613.1 L983.9 614.55 L984.98 616.13 L986.06 617.72 L987.14 618.5 L988.22 618.5 L989.3 618.5 L990.38 618.5 L991.46 618.5 L992.54 618.5 L993.62 618.5 L994.7 618.5 L995.78 616.75 L996.86 614.96 L997.94 613.41 L999.02 615.2 L1000.1 617 L1001.18 616.74 L1002.26 613.27 L1003.34 609.81 L1004.42 607.8 L1005.5 611.26 L1006.58 614.73 L1007.66 618.2 L1008.74 618.5 L1009.82 618.5 L1010.9 618.5 L1011.98 618.5 L1013.06 618.4 L1014.14 617.27 L1015.22 612.85 L1016.3 608.25 L1017.38 606.6 L1018.46 609.98 L1019.54 614.42 L1020.62 617.43 L1021.7 618.5 L1022.78 618.5 L1023.86 618.5 L1024.94 617.68 L1026.02 616.82 L1027.1 616.31 L1028.18 617.17 L1029.26 618.03 L1030.34 618.5 L1031.42 618.5 L1032.5 618.5 L1033.58 618.5 L1034.66 618.5 L1035.74 618.5 L1036.82 618.44 L1037.9 614.74 L1038.98 613.71 L1040.06 617.41 L1041.14 618.5 L1042.22 618.5 L1043.3 618.5 L1044.38 618.5 L1045.46 618.5 L1046.54 618.5 L1047.62 618.5 L1048.7 618.5 L1049.78 618.5 L1050.86 618.5 L1051.94 618.5 L1053.02 618.5 L1054.1 618.5 L1055.18 618.5 L1056.26 618.5 L1057.34 618.5 L1058.42 613.48 L1059.5 600.32 L1060.58 592.86 L1061.66 589.45 L1062.74 594.56 L1063.82 596.92 L1064.9 604.06 L1065.98 609.28 L1067.06 614.08 L1068.14 617.2 L1069.22 617.41 L1070.3 616.42 L1071.38 615.44 L1072.46 616.38 L1073.54 616.1 L1074.62 614.55 L1075.7 614 L1076.78 616.53 L1077.86 618.5 L1078.94 618.5 L1080.02 618.5 L1081.1 618.5 L1082.18 617.21 L1083.26 615.34 L1084.34 614 L1085.42 615.87 L1086.5 617.73" fill="none" stroke="#ff0000" stroke-width="1" stroke-linejoin="round"/>
<path d="M978.5 618.5 L979.58 618.5 L980.66 618.5 L981.74 618.5 L982.82 616.39 L983.9 613.33 L984.98 611.77 L986.06 613.71 L987.14 617.46 L988.22 618.5 L989.3 618.5 L990.38 618.5 L991.46 617.98 L992.54 616.44 L993.62 614.91 L994.7 613.44 L995.78 614.98 L996.86 616.51 L997.94 618.05 L999.02 618.5 L1000.1 618.5 L1001.18 618.5 L1002.26 618.5 L1003.34 618.5 L1004.42 618.5 L1005.5 618.5 L1006.58 618.5 L1007.66 617.23 L1008.74 615.28 L1009.82 613.34 L1010.9 612.45 L1011.98 613.04 L1013.06 616.7 L1014.14 616.38 L1015.22 614.15 L1016.3 616.41 L1017.38 618.5 L1018.46 618.5 L1019.54 618.5 L1020.62 618.5 L1021.7 618.5 L1022.78 618.5 L1023.86 618.5 L1024.94 618.5 L1026.02 618.5 L1027.1 618 L1028.18 616.77 L1029.26 615.54 L1030.34 614.31 L1031.42 615.41 L1032.5 616.64 L1033.58 617.87 L1034.66 618.5 L1035.74 618.5 L1036.82 618.5 L1037.9 618.5 L1038.98 618.5 L1040.06 618.18 L1041.14 616.08 L1042.22 613.98 L1043.3 612.88 L1044.38 614.98 L1045.46 617.09 L1046.54 618.5 L1047.62 618.5 L1048.7 618.5 L1049.78 618.5 L1050.86 618.5 L1051.94 618.5 L1053.02 618.5 L1054.1 618.5 L1055.18 617.26 L1056.26 616.44 L1057.34 616.97 L1058.42 613.03 L1059.5 605.56 L1060.58 599.92 L1061.66 602.31 L1062.74 606.78 L1063.82 609.34 L1064.9 611.34 L1065.98 615.34 L1067.06 618.5 L1068.14 618.5 L1069.22 618.5 L1070.3 618.5 L1071.38 618.5 L1072.46 618.5 L1073.54 617.49 L1074.62 616.03 L1075.7 617.57 L1076.78 616.61 L1077.86 613.83 L1078.94 613.52 L1080.02 616.3 L1081.1 618.33 L1082.18 616.32 L1083.26 615.32 L1084.34 617.33 L1085.42 618.5 L1086.5 618.5" fill="none" stroke="#ff0000" stroke-width="1" stroke-linejoin="round"/>
<path d="M978.5 618.5 L979.58 616.54 L980.66 614.45 L981.74 614.37 L982.82 616.47 L983.9 618.5 L984.98 618.5 L986.06 618.5 L987.14 618.5 L988.22 618.5 L989.3 618.5 L990.38 618.08 L991.46 617.47 L992.54 617.01 L993.62 617.63 L994.7 618.24 L995.78 618.5 L996.86 618.5 L997.94 618.5 L999.02 616.69 L1000.1 614.83 L1001.18 612.98 L1002.26 610.51 L1003.34 610.66 L1004.42 612.65 L1005.5 615.29 L1006.58 617.62 L1007.66 618.5 L1008.74 618.5 L1009.82 618.5 L1010.9 618.5 L1011.98 616.22 L1013.06 612.9 L1014.14 611.75 L1015.22 615.07 L1016.3 617.72 L1017.38 618.5 L1018.46 618.5 L1019.54 618.41 L1020.62 616.58 L1021.7 613.74 L1022.78 613.77 L1023.86 613.42 L1024.94 614.91 L1026.02 616.55 L1027.1 618.19 L1028.18 618.5 L1029.26 618.5 L1030.34 618.5 L1031.42 618.5 L1032.5 618.5 L1033.58 618.5 L1034.66 617.11 L1035.74 615.66 L1036.82 615.86 L1037.9 617.31 L1038.98 618.5 L1040.06 618.5 L1041.14 618.5 L1042.22 617.34 L1043.3 616.07 L1044.38 614.91 L1045.46 616.18 L1046.54 617.46 L1047.62 618.5 L1048.7 618.5 L1049.78 618.5 L1050.86 618.5 L1051.94 618.5 L1053.02 617.83 L1054.1 610.11 L1055.18 599.99 L1056.26 596.7 L1057.34 603.62 L1058.42 607.42 L1059.5 609.63 L1060.58 610.79 L1061.66 610.87 L1062.74 605.27 L1063.82 601.36 L1064.9 607.56 L1065.98 615.55 L1067.06 618.5 L1068.14 618.5 L1069.22 618.5 L1070.3 618.5 L1071.38 618.48 L1072.46 617.57 L1073.54 616.67 L1074.62 616.99 L1075.7 617.9 L1076.78 618.5 L1077.86 618.5 L1078.94 618.5 L1080.02 618.18 L1081.1 617.05 L1082.18 616.22 L1083.26 617.35 L1084.34 618.48 L1085.42 618.5 L1086.5 618.5" fill="none" stroke="#ff0000" stroke-width="1" stroke-linejoin="round"/>
<path d="M978.5 607.61 L979.58 607.02 L980.66 606.98 L981.74 606.93 L982.82 611.66 L983.9 616.37 L984.98 618.5 L986.06 618.5 L987.14 618.46 L988.22 617.94 L989.3 617.42 L990.38 616.9 L991.46 617.08 L992.54 617.6 L993.62 618.12 L994.7 618.5 L995.78 618.5 L996.86 618.5 L997.94 618.5 L999.02 616.16 L1000.1 612.63 L1001.18 609.1 L1002.26 611.48 L1003.34 615.02 L1004.42 618.21 L1005.5 618.5 L1006.58 618.5 L1007.66 618.5 L1008.74 618.5 L1009.82 618.5 L1010.9 618.5 L1011.98 618.5 L1013.06 618.5 L1014.14 618.5 L1015.22 618.5 L1016.3 615.24 L1017.38 611.51 L1018.46 613.69 L1019.54 617.43 L1020.62 618.5 L1021.7 618.5 L1022.78 618.5 L1023.86 618.5 L1024.94 618.5 L1026.02 618.5 L1027.1 618.5 L1028.18 618.5 L1029.26 618.5 L1030.34 618.5 L1031.42 618.5 L1032.5 618.5 L1033.58 618.5 L1034.66 618.5 L1035.74 618.5 L1036.82 618.5 L1037.9 618.5 L1038.98 618.5 L1040.06 618.5 L1041.14 618.5 L1042.22 618.5 L1043.3 618.5 L1044.38 618.5 L1045.46 618.5 L1046.54 618.5 L1047.62 618.5 L1048.7 618.5 L1049.78 618.5 L1050.86 618.5 L1051.94 618.5 L1053.02 618.5 L1054.1 618.5 L1055.18 617.49 L1056.26 616.21 L1057.34 612.13 L1058.42 605.87 L1059.5 598.61 L1060.58 597.99 L1061.66 599.56 L1062.74 602.1 L1063.82 603.68 L1064.9 604.86 L1065.98 611.57 L1067.06 615.64 L1068.14 618.5 L1069.22 618.5 L1070.3 618.5 L1071.38 618.5 L1072.46 618.5 L1073.54 618.5 L1074.62 618.5 L1075.7 618.5 L1076.78 618.5 L1077.86 618.5 L1078.94 617.22 L1080.02 615.76 L1081.1 617.43 L1082.18 618.5 L1083.26 618.5 L1084.34 618.5 L1085.42 618.5 L1086.5 618.5" fill="none" stroke="#ff0000" stroke-width="1" stroke-linejoin="round"/>
<path d="M978.5 614.38 L979.58 613.66 L980.66 614.86 L981.74 616.05 L982.82 617.25 L983.9 617.34 L984.98 616.11 L986.06 615.36 L987.14 616.65 L988.22 617.94 L989.3 618.5 L990.38 618.5 L991.46 618.5 L992.54 617.73 L993.62 616.89 L994.7 616.05 L995.78 616.26 L996.86 617.1 L997.94 617.85 L999.02 616.34 L1000.1 614.27 L1001.18 612.2 L1002.26 610.4 L1003.34 612.47 L1004.42 614.54 L1005.5 616.61 L1006.58 618.5 L1007.66 618.5 L1008.74 618.5 L1009.82 618.5 L1010.9 618.5 L1011.98 618.5 L1013.06 616.48 L1014.14 613.55 L1015.22 613.48 L1016.3 612.78 L1017.38 611.31 L1018.46 613.52 L1019.54 615.74 L1020.62 616.93 L1021.7 616.2 L1022.78 614.91 L1023.86 615.54 L1024.94 615.16 L1026.02 614.54 L1027.1 613.93 L1028.18 615.59 L1029.26 617.49 L1030.34 618.5 L1031.42 618.5 L1032.5 618.5 L1033.58 618.5 L1034.66 618.5 L1035.74 618.5 L1036.82 618.5 L1037.9 617.22 L1038.98 615.37 L1040.06 616.22 L1041.14 618.08 L1042.22 616.27 L1043.3 612.39 L1044.38 613.45 L1045.46 616.99 L1046.54 618.15 L1047.62 618.5 L1048.7 618.5 L1049.78 618.5 L1050.86 618.5 L1051.94 618.5 L1053.02 617.93 L1054.1 613.89 L1055.18 613.36 L1056.26 616.4 L1057.34 614.17 L1058.42 607.58 L1059.5 600.99 L1060.58 605.52 L1061.66 612.11 L1062.74 615.7 L1063.82 616.73 L1064.9 615.51 L1065.98 614.63 L1067.06 616.61 L1068.14 618.5 L1069.22 618.5 L1070.3 618.5 L1071.38 618.5 L1072.46 616.15 L1073.54 612.91 L1074.62 615.87 L1075.7 618.5 L1076.78 618.21 L1077.86 617.61 L1078.94 617.01 L1080.02 617.47 L1081.1 618.07 L1082.18 618.5 L1083.26 618.5 L1084.34 618.5 L1085.42 618.5 L1086.5 618.5" fill="none" stroke="#ff0000" stroke-width="1" stroke-linejoin="round"/>
<path d="M978.5 618.5 L979.58 618.5 L980.66 618.5 L981.74 618.5 L982.82 618.5 L983.9 618.5 L984.98 618.5 L986.06 618.5 L987.14 618.5 L988.22 618.5 L989.3 618.5 L990.38 618.5 L991.46 618.5 L992.54 618.5 L993.62 618.5 L994.7 618.16 L995.78 614.63 L996.86 610.24 L997.94 605.85 L999.02 602.01 L1000.1 605.45 L1001.18 605.88 L1002.26 607.99 L1003.34 615.78 L1004.42 618.5 L1005.5 618.5 L1006.58 618.5 L1007.66 618.5 L1008.74 618.5 L1009.82 618.5 L1010.9 618.5 L1011.98 618.5 L1013.06 617.7 L1014.14 615.66 L1015.22 613.62 L1016.3 613.04 L1017.38 615.08 L1018.46 617.12 L1019.54 618.5 L1020.62 618.5 L1021.7 618.5 L1022.78 618.5 L1023.86 618.5 L1024.94 618.5 L1026.02 618.5 L1027.1 618.5 L1028.18 618.5 L1029.26 618.5 L1030.34 618.5 L1031.42 618.5 L1032.5 618.5 L1033.58 618.5 L1034.66 618.5 L1035.74 618.5 L1036.82 618.5 L1037.9 617.84 L1038.98 615.48 L1040.06 614.12 L1041.14 616.07 L1042.22 616.38 L1043.3 614.68 L1044.38 614.76 L1045.46 616.46 L1046.54 618.17 L1047.62 618.5 L1048.7 618.5 L1049.78 618.5 L1050.86 618.5 L1051.94 618.5 L1053.02 618.5 L1054.1 618.5 L1055.18 615.15 L1056.26 602.33 L1057.34 596.97 L1058.42 609.78 L1059.5 618.5 L1060.58 618.5 L1061.66 618.5 L1062.74 618.5 L1063.82 618.5 L1064.9 618.5 L1065.98 618.5 L1067.06 618.5 L1068.14 618.14 L1069.22 615.46 L1070.3 612.79 L1071.38 610.12 L1072.46 612.66 L1073.54 615.33 L1074.62 617.67 L1075.7 616.29 L1076.78 614.41 L1077.86 613.56 L1078.94 614.47 L1080.02 615.39 L1081.1 616.43 L1082.18 617.4 L1083.26 618.36 L1084.34 618.5 L1085.42 618.5 L1086.5 618.5" fill="none" stroke="#ff0000" stroke-width="1" stroke-linejoin="round"/>
<path d="M978.5 618.5 L979.58 618.05 L980.66 617.17 L981.74 616.3 L982.82 617.13 L983.9 616.2 L984.98 614.79 L986.06 613.12 L987.14 615.03 L988.22 616.94 L989.3 618.44 L990.38 617.38 L991.46 616.35 L992.54 617.42 L993.62 618.49 L994.7 618.5 L995.78 617.69 L996.86 616.71 L997.94 616.59 L999.02 617.58 L1000.1 617.84 L1001.18 616 L1002.26 614.16 L1003.34 611.69 L1004.42 608.31 L1005.5 607.67 L1006.58 609.86 L1007.66 614.19 L1008.74 616.21 L1009.82 612.52 L1010.9 608.55 L1011.98 610.63 L1013.06 612.06 L1014.14 613.03 L1015.22 615.57 L1016.3 617.43 L1017.38 614.6 L1018.46 610.34 L1019.54 610.36 L1020.62 614.63 L1021.7 615.71 L1022.78 614.33 L1023.86 616.69 L1024.94 618.5 L1026.02 618.5 L1027.1 618.5 L1028.18 618.5 L1029.26 618.5 L1030.34 618.5 L1031.42 618.5 L1032.5 618.5 L1033.58 618.5 L1034.66 618.21 L1035.74 615.91 L1036.82 613.61 L1037.9 615.4 L1038.98 617.7 L1040.06 617.62 L1041.14 614.33 L1042.22 615.23 L1043.3 618.5 L1044.38 618.5 L1045.46 618.5 L1046.54 618.5 L1047.62 618.5 L1048.7 618.5 L1049.78 618.5 L1050.86 618.5 L1051.94 618.5 L1053.02 618.5 L1054.1 618.5 L1055.18 618.5 L1056.26 618.5 L1057.34 618.5 L1058.42 618.5 L1059.5 618.5 L1060.58 612.5 L1061.66 606.39 L1062.74 611.12 L1063.82 617.23 L1064.9 618.5 L1065.98 615.97 L1067.06 612.62 L1068.14 609.27 L1069.22 611.75 L1070.3 615.09 L1071.38 618.44 L1072.46 618.5 L1073.54 618.45 L1074.62 617.18 L1075.7 614.94 L1076.78 610.77 L1077.86 610.34 L1078.94 613.34 L1080.02 615.96 L1081.1 617.74 L1082.18 618.5 L1083.26 618.5 L1084.34 618.5 L1085.42 618.5 L1086.5 618.5" fill="none" stroke="#ff0000" stroke-width="1" stroke-linejoin="round"/>
<path d="M978.5 611.53 L979.58 609.03 L980.66 607.21 L981.74 609.72 L982.82 609.41 L983.9 607.47 L984.98 608.35 L986.06 613.4 L987.14 616.35 L988.22 618.37 L989.3 618.5 L990.38 618.5 L991.46 618.5 L992.54 618.5 L993.62 618.5 L994.7 618.5 L995.78 618.5 L996.86 618.5 L997.94 618.5 L999.02 618.5 L1000.1 618.42 L1001.18 617.63 L1002.26 615.02 L1003.34 613.08 L1004.42 611.36 L1005.5 609.16 L1006.58 609.68 L1007.66 608.49 L1008.74 607.3 L1009.82 611.51 L1010.9 615.65 L1011.98 618.5 L1013.06 618.5 L1014.14 618.5 L1015.22 618.5 L1016.3 618.5 L1017.38 618.5 L1018.46 618.5 L1019.54 617.74 L1020.62 616.85 L1021.7 617.21 L1022.78 615.13 L1023.86 612.45 L1024.94 614.62 L1026.02 617.53 L1027.1 616.05 L1028.18 615.31 L1029.26 617.71 L1030.34 618.5 L1031.42 618.5 L1032.5 618.5 L1033.58 618.5 L1034.66 618.5 L1035.74 618.5 L1036.82 618.5 L1037.9 618.5 L1038.98 618.5 L1040.06 617.9 L1041.14 614.88 L1042.22 609.83 L1043.3 607.52 L1044.38 611.78 L1045.46 616.48 L1046.54 618.5 L1047.62 618.5 L1048.7 618.5 L1049.78 618.5 L1050.86 618.5 L1051.94 618.5 L1053.02 618.5 L1054.1 618.5 L1055.18 618.5 L1056.26 618.5 L1057.34 618.5 L1058.42 618.5 L1059.5 618.5 L1060.58 618.5 L1061.66 618.5 L1062.74 618.5 L1063.82 618.5 L1064.9 618.5 L1065.98 618.5 L1067.06 618.5 L1068.14 616.89 L1069.22 615.17 L1070.3 615.39 L1071.38 617.1 L1072.46 618.5 L1073.54 618.5 L1074.62 618.5 L1075.7 616.47 L1076.78 613.12 L1077.86 615.19 L1078.94 616.78 L1080.02 615.64 L1081.1 614.74 L1082.18 616.54 L1083.26 618.04 L1084.34 618.5 L1085.42 618.5 L1086.5 618.5" fill="none" stroke="#ff0000" stroke-width="1" stroke-linejoin="round"/>
<path d="M978.5 607.3 L979.58 606.95 L980.66 606.25 L981.74 605.91 L982.82 607.36 L983.9 610.26 L984.98 611.72 L986.06 613.27 L987.14 616.36 L988.22 617.91 L989.3 617.92 L990.38 617.93 L991.46 617.95 L992.54 617.98 L993.62 618.02 L994.7 618.05 L995.78 618.09 L996.86 618.13 L997.94 618.16 L999.02 618.19 L1000.1 618.21 L1001.18 618.22 L1002.26 618.23 L1003.34 617.94 L1004.42 617.25 L1005.5 616.56 L1006.58 616.28 L1007.66 616.78 L1008.74 617.79 L1009.82 618.29 L1010.9 618.29 L1011.98 618.29 L1013.06 618.29 L1014.14 618.29 L1015.22 618.29 L1016.3 618.29 L1017.38 618.29 L1018.46 618.29 L1019.54 618.29 L1020.62 618.29 L1021.7 618.29 L1022.78 618.29 L1023.86 618.29 L1024.94 618.29 L1026.02 618.29 L1027.1 618.29 L1028.18 618.29 L1029.26 618.29 L1030.34 618.29 L1031.42 618.29 L1032.5 618.29 L1033.58 618.29 L1034.66 618.29 L1035.74 618.29 L1036.82 618.29 L1037.9 618.29 L1038.98 618.29 L1040.06 618.29 L1041.14 618.29 L1042.22 618.29 L1043.3 618.29 L1044.38 618.29 L1045.46 618.29 L1046.54 618.29 L1047.62 618.29 L1048.7 618.29 L1049.78 618.29 L1050.86 618.29 L1051.94 618.29 L1053.02 617.76 L1054.1 617.22 L1055.18 615.84 L1056.26 613.07 L1057.34 611.69 L1058.42 612.94 L1059.5 615.43 L1060.58 616.68 L1061.66 617.51 L1062.74 618.34 L1063.82 618.33 L1064.9 618.29 L1065.98 618.25 L1067.06 618.19 L1068.14 618.12 L1069.22 618.05 L1070.3 617.99 L1071.38 617.94 L1072.46 617.91 L1073.54 617.9 L1074.62 617.31 L1075.7 616.12 L1076.78 615.53 L1077.86 613.33 L1078.94 611.12 L1080.02 612.79 L1081.1 614.46 L1082.18 616.35 L1083.26 618.24 L1084.34 618.25 L1085.42 618.28 L1086.5 618.3" fill="none" stroke="#0000ff" stroke-width="1" stroke-linejoin="round"/>
<path d="M978.5 604.4 L979.58 604.16 L980.66 603.68 L981.74 603.44 L982.82 605.46 L983.9 609.49 L984.98 611.5 L986.06 613.13 L987.14 616.39 L988.22 618.02 L989.3 618.03 L990.38 618.04 L991.46 618.06 L992.54 618.09 L993.62 618.12 L994.7 618.16 L995.78 618.2 L996.86 618.23 L997.94 618.27 L999.02 618.29 L1000.1 618.32 L1001.18 618.33 L1002.26 618.33 L1003.34 618.04 L1004.42 617.33 L1005.5 616.62 L1006.58 616.33 L1007.66 616.81 L1008.74 617.78 L1009.82 618.26 L1010.9 618.26 L1011.98 618.26 L1013.06 618.26 L1014.14 618.26 L1015.22 618.26 L1016.3 618.26 L1017.38 618.26 L1018.46 618.26 L1019.54 618.26 L1020.62 618.26 L1021.7 618.26 L1022.78 618.26 L1023.86 618.25 L1024.94 618.25 L1026.02 618.25 L1027.1 618.25 L1028.18 618.25 L1029.26 618.25 L1030.34 618.25 L1031.42 618.25 L1032.5 618.25 L1033.58 618.25 L1034.66 618.25 L1035.74 618.25 L1036.82 618.25 L1037.9 618.25 L1038.98 618.25 L1040.06 618.25 L1041.14 618.25 L1042.22 618.25 L1043.3 618.25 L1044.38 618.25 L1045.46 618.25 L1046.54 618.25 L1047.62 618.25 L1048.7 618.25 L1049.78 618.25 L1050.86 618.25 L1051.94 618.25 L1053.02 617.96 L1054.1 617.68 L1055.18 616.64 L1056.26 614.56 L1057.34 613.52 L1058.42 614.16 L1059.5 615.43 L1060.58 616.07 L1061.66 617.19 L1062.74 618.31 L1063.82 618.3 L1064.9 618.28 L1065.98 618.24 L1067.06 618.19 L1068.14 618.13 L1069.22 618.07 L1070.3 618.02 L1071.38 617.98 L1072.46 617.95 L1073.54 617.95 L1074.62 617 L1075.7 615.11 L1076.78 614.16 L1077.86 612.27 L1078.94 610.38 L1080.02 613.19 L1081.1 616 L1082.18 617.14 L1083.26 618.29 L1084.34 618.3 L1085.42 618.32 L1086.5 618.33" fill="none" stroke="#0000ff" stroke-width="1" stroke-linejoin="round"/>
<rect x="978" y="553" width="1" height="66" fill="#000"/>
<rect x="978" y="618" width="109" height="1" fill="#000"/>
<rect x="978" y="553" width="109" height="1" fill="#000"/>
<rect x="1086" y="553" width="1" height="66" fill="#000"/>
<rect x="1032" y="617" width="1" height="2" fill="#000"/>
<rect x="1032" y="553" width="1" height="2" fill="#000"/>
<rect x="978" y="585" width="2" height="1" fill="#000"/>
<rect x="1085" y="585" width="2" height="1" fill="#000"/>
<text transform="translate(1030 547) scale(1 1.2)" text-anchor="middle">TonicStim5V</text>
<g clip-path="url(#lc5)">
<text transform="translate(971 558) scale(1 1.2)" text-anchor="end">20</text>
<text transform="translate(971 623) scale(1 1.2)" text-anchor="end">0</text>
</g>
<text transform="translate(977.5 636) scale(1 1.2)" text-anchor="middle">0</text>
<text transform="translate(1031.5 636) scale(1 1.2)" text-anchor="middle">50</text>
<text transform="translate(1085.5 636) scale(1 1.2)" text-anchor="middle">100</text>
<path d="M978.5 698.8 L979.58 698.8 L980.66 698.8 L981.74 698.8 L982.82 698.8 L983.9 700.04 L984.98 703.02 L986.06 706.01 L987.14 707.25 L988.22 707.57 L989.3 708.36 L990.38 709.14 L991.46 709.46 L992.54 709.39 L993.62 709.26 L994.7 709.2 L995.78 707.39 L996.86 703.02 L997.94 698.66 L999.02 696.85 L1000.1 695.88 L1001.18 693.92 L1002.26 692.95 L1003.34 694.09 L1004.42 696.36 L1005.5 697.5 L1006.58 698.93 L1007.66 702.38 L1008.74 705.82 L1009.82 707.25 L1010.9 707.31 L1011.98 707.45 L1013.06 707.58 L1014.14 707.64 L1015.22 707.2 L1016.3 706.14 L1017.38 705.09 L1018.46 704.65 L1019.54 705.16 L1020.62 706.4 L1021.7 707.65 L1022.78 708.16 L1023.86 708.32 L1024.94 708.74 L1026.02 709.27 L1027.1 709.69 L1028.18 709.85 L1029.26 709.85 L1030.34 709.85 L1031.42 709.85 L1032.5 709.85 L1033.58 709.85 L1034.66 709.85 L1035.74 709.85 L1036.82 709.15 L1037.9 707.45 L1038.98 705.74 L1040.06 705.04 L1041.14 705.69 L1042.22 707.25 L1043.3 708.81 L1044.38 709.46 L1045.46 709.48 L1046.54 709.53 L1047.62 709.61 L1048.7 709.7 L1049.78 709.78 L1050.86 709.83 L1051.94 709.85 L1053.02 708.06 L1054.1 704.49 L1055.18 702.7 L1056.26 694.25 L1057.34 677.35 L1058.42 668.9 L1059.5 664.77 L1060.58 658.08 L1061.66 658.33 L1062.74 666.47 L1063.82 671.5 L1064.9 678.98 L1065.98 693.92 L1067.06 701.4 L1068.14 702.7 L1069.22 705.3 L1070.3 706.6 L1071.38 706.6 L1072.46 706.6 L1073.54 706.6 L1074.62 706.6 L1075.7 706.31 L1076.78 705.62 L1077.86 704.94 L1078.94 704.65 L1080.02 705.35 L1081.1 707.05 L1082.18 708.76 L1083.26 709.46 L1084.34 709.56 L1085.42 709.75 L1086.5 709.85" fill="none" stroke="#ff0000" stroke-width="1" stroke-linejoin="round"/>
<path d="M978.5 710.5 L979.58 709.2 L980.66 707.9 L981.74 706.92 L982.82 704.98 L983.9 704 L984.98 704.98 L986.06 706.92 L987.14 707.9 L988.22 709.07 L989.3 710.24 L990.38 710.24 L991.46 710.24 L992.54 710.24 L993.62 710.24 L994.7 710.24 L995.78 710.24 L996.86 710.24 L997.94 710.24 L999.02 710.24 L1000.1 710.24 L1001.18 710.24 L1002.26 710.24 L1003.34 710.24 L1004.42 710.24 L1005.5 709.99 L1006.58 709.39 L1007.66 708.8 L1008.74 708.55 L1009.82 708.8 L1010.9 709.39 L1011.98 709.99 L1013.06 710.24 L1014.14 710.24 L1015.22 710.24 L1016.3 710.24 L1017.38 710.24 L1018.46 710.24 L1019.54 710.24 L1020.62 710.24 L1021.7 710.24 L1022.78 709.33 L1023.86 707.12 L1024.94 704.91 L1026.02 704 L1027.1 704.81 L1028.18 706.44 L1029.26 707.25 L1030.34 707.41 L1031.42 707.74 L1032.5 707.9 L1033.58 707.9 L1034.66 707.9 L1035.74 707.9 L1036.82 707.42 L1037.9 706.27 L1038.98 705.13 L1040.06 704.65 L1041.14 705.79 L1042.22 708.06 L1043.3 709.2 L1044.38 709.72 L1045.46 710.24 L1046.54 710.24 L1047.62 710.24 L1048.7 710.24 L1049.78 710.24 L1050.86 710.24 L1051.94 710.24 L1053.02 707.05 L1054.1 700.68 L1055.18 697.5 L1056.26 692.3 L1057.34 681.9 L1058.42 676.7 L1059.5 681.25 L1060.58 690.35 L1061.66 694.9 L1062.74 698.15 L1063.82 704.65 L1064.9 707.9 L1065.98 709.07 L1067.06 710.24 L1068.14 710.2 L1069.22 710.11 L1070.3 709.98 L1071.38 709.89 L1072.46 709.85 L1073.54 708.39 L1074.62 705.46 L1075.7 704 L1076.78 701.4 L1077.86 698.8 L1078.94 701.4 L1080.02 704 L1081.1 705.56 L1082.18 708.68 L1083.26 710.24 L1084.34 710.24 L1085.42 710.24 L1086.5 710.24" fill="none" stroke="#0000ff" stroke-width="1" stroke-linejoin="round"/>
<rect x="978" y="645" width="1" height="66" fill="#000"/>
<rect x="978" y="710" width="109" height="1" fill="#000"/>
<rect x="978" y="645" width="109" height="1" fill="#000"/>
<rect x="1086" y="645" width="1" height="66" fill="#000"/>
<rect x="1032" y="709" width="1" height="2" fill="#000"/>
<rect x="1032" y="645" width="1" height="2" fill="#000"/>
<rect x="978" y="677" width="2" height="1" fill="#000"/>
<rect x="1085" y="677" width="2" height="1" fill="#000"/>
<text transform="translate(1030 639) scale(1 1.2)" text-anchor="middle">TonicStim1.5V mean</text>
<text transform="translate(971 650) scale(1 1.2)" text-anchor="end">5</text>
<text transform="translate(971 715) scale(1 1.2)" text-anchor="end">0</text>
<text transform="translate(977.5 728) scale(1 1.2)" text-anchor="middle">0</text>
<text transform="translate(1031.5 728) scale(1 1.2)" text-anchor="middle">50</text>
<text transform="translate(1085.5 728) scale(1 1.2)" text-anchor="middle">100</text>
<path d="M978.5 800.94 L979.58 797.88 L980.66 798.31 L981.74 801.37 L982.82 802.5 L983.9 802.5 L984.98 802.5 L986.06 802.13 L987.14 801.56 L988.22 801 L989.3 800.64 L990.38 801.21 L991.46 801.78 L992.54 802.34 L993.62 802.5 L994.7 802.5 L995.78 802.5 L996.86 801.3 L997.94 798.42 L999.02 793.63 L1000.1 792.14 L1001.18 796.03 L1002.26 798.75 L1003.34 800.73 L1004.42 802.5 L1005.5 801.24 L1006.58 799.28 L1007.66 797.21 L1008.74 794.89 L1009.82 796.11 L1010.9 800.17 L1011.98 802.5 L1013.06 802.5 L1014.14 802.5 L1015.22 799.61 L1016.3 798.73 L1017.38 801.89 L1018.46 802.5 L1019.54 802.5 L1020.62 802.5 L1021.7 802.5 L1022.78 802.5 L1023.86 802.5 L1024.94 802.5 L1026.02 802.5 L1027.1 802.5 L1028.18 802.5 L1029.26 802.5 L1030.34 802.5 L1031.42 802.5 L1032.5 802.5 L1033.58 802.5 L1034.66 802.5 L1035.74 801.03 L1036.82 799.16 L1037.9 797.97 L1038.98 797.28 L1040.06 796.2 L1041.14 796.49 L1042.22 797.46 L1043.3 799.59 L1044.38 801.57 L1045.46 802.5 L1046.54 802.5 L1047.62 802.5 L1048.7 802.5 L1049.78 802.5 L1050.86 802.5 L1051.94 802.5 L1053.02 802.5 L1054.1 802.5 L1055.18 802.5 L1056.26 797.09 L1057.34 787.84 L1058.42 778.59 L1059.5 776.12 L1060.58 777.76 L1061.66 789.33 L1062.74 800.94 L1063.82 797.33 L1064.9 792.84 L1065.98 792.13 L1067.06 796.62 L1068.14 801.11 L1069.22 802.5 L1070.3 802.5 L1071.38 802.5 L1072.46 802.5 L1073.54 802.5 L1074.62 802.5 L1075.7 802.5 L1076.78 800.71 L1077.86 798.35 L1078.94 796.22 L1080.02 798.58 L1081.1 800.94 L1082.18 802.5 L1083.26 802.5 L1084.34 802.5 L1085.42 802.5 L1086.5 802.5" fill="none" stroke="#ff0000" stroke-width="1" stroke-linejoin="round"/>
<path d="M978.5 802.5 L979.58 802.5 L980.66 802.5 L981.74 802.5 L982.82 802.5 L983.9 802.5 L984.98 802.5 L986.06 802.5 L987.14 802.5 L988.22 802.5 L989.3 802.5 L990.38 802.5 L991.46 801.94 L992.54 801.29 L993.62 800.64 L994.7 800.59 L995.78 801.24 L996.86 801.24 L997.94 800.89 L999.02 801.77 L1000.1 802.31 L1001.18 798.34 L1002.26 794.36 L1003.34 790.39 L1004.42 792.21 L1005.5 793.8 L1006.58 794.1 L1007.66 797.66 L1008.74 799.16 L1009.82 797.1 L1010.9 797.24 L1011.98 797.54 L1013.06 797.85 L1014.14 795.9 L1015.22 794.07 L1016.3 790.29 L1017.38 792.1 L1018.46 797.19 L1019.54 799.77 L1020.62 802.36 L1021.7 802.5 L1022.78 802.5 L1023.86 802.5 L1024.94 802.5 L1026.02 802.5 L1027.1 802.5 L1028.18 802.5 L1029.26 802.5 L1030.34 802.5 L1031.42 802.5 L1032.5 802.5 L1033.58 802.5 L1034.66 802.5 L1035.74 802.5 L1036.82 802.5 L1037.9 802.5 L1038.98 802.5 L1040.06 801.45 L1041.14 798.95 L1042.22 795.75 L1043.3 795.49 L1044.38 795.54 L1045.46 797.48 L1046.54 801.19 L1047.62 802.5 L1048.7 802.5 L1049.78 802.5 L1050.86 802.5 L1051.94 802.5 L1053.02 802.5 L1054.1 802.5 L1055.18 802.5 L1056.26 802.5 L1057.34 799.75 L1058.42 796.31 L1059.5 792.88 L1060.58 794.44 L1061.66 797.87 L1062.74 798.61 L1063.82 795.89 L1064.9 791.99 L1065.98 789.3 L1067.06 790.48 L1068.14 790.38 L1069.22 796.08 L1070.3 798.93 L1071.38 795.82 L1072.46 799.53 L1073.54 802.5 L1074.62 802.5 L1075.7 802.5 L1076.78 802.5 L1077.86 802.5 L1078.94 801.56 L1080.02 799.48 L1081.1 798.22 L1082.18 799.28 L1083.26 801.26 L1084.34 802.5 L1085.42 802.5 L1086.5 802.5" fill="none" stroke="#ff0000" stroke-width="1" stroke-linejoin="round"/>
<path d="M978.5 795.47 L979.58 793.53 L980.66 793.56 L981.74 796.35 L982.82 799.09 L983.9 801.83 L984.98 802.5 L986.06 802.5 L987.14 802.5 L988.22 802.5 L989.3 802.5 L990.38 802.5 L991.46 802.5 L992.54 802.5 L993.62 802.5 L994.7 802.5 L995.78 802.5 L996.86 802.5 L997.94 802.5 L999.02 802.5 L1000.1 802.5 L1001.18 801.29 L1002.26 799.53 L1003.34 797.77 L1004.42 796.01 L1005.5 796.55 L1006.58 796.57 L1007.66 795.33 L1008.74 794.09 L1009.82 793.2 L1010.9 796.2 L1011.98 799.2 L1013.06 801.43 L1014.14 799.2 L1015.22 795.79 L1016.3 795.21 L1017.38 798.62 L1018.46 801.8 L1019.54 802.5 L1020.62 802.5 L1021.7 802.5 L1022.78 802.5 L1023.86 800.96 L1024.94 794.69 L1026.02 788.41 L1027.1 792.23 L1028.18 798.5 L1029.26 801.96 L1030.34 802.5 L1031.42 802.5 L1032.5 802.5 L1033.58 802.5 L1034.66 802.43 L1035.74 800.99 L1036.82 797.07 L1037.9 795.27 L1038.98 799.19 L1040.06 801.73 L1041.14 801.41 L1042.22 800.8 L1043.3 801.3 L1044.38 801.91 L1045.46 802.5 L1046.54 802.5 L1047.62 802.5 L1048.7 802.5 L1049.78 802.5 L1050.86 802.5 L1051.94 799.5 L1053.02 795.52 L1054.1 791.54 L1055.18 792.7 L1056.26 794.12 L1057.34 794.4 L1058.42 792.53 L1059.5 788.83 L1060.58 791.03 L1061.66 794.73 L1062.74 797.35 L1063.82 798.65 L1064.9 796.61 L1065.98 796.91 L1067.06 796.7 L1068.14 792.11 L1069.22 792.57 L1070.3 796.77 L1071.38 793.47 L1072.46 787.41 L1073.54 792.33 L1074.62 797.24 L1075.7 799.61 L1076.78 800.28 L1077.86 801.61 L1078.94 802.4 L1080.02 798.58 L1081.1 797.97 L1082.18 801.96 L1083.26 802.5 L1084.34 802.5 L1085.42 802.5 L1086.5 802.5" fill="none" stroke="#ff0000" stroke-width="1" stroke-linejoin="round"/>
<path d="M978.5 796.05 L979.58 789.6 L980.66 789.66 L981.74 793.15 L982.82 797.18 L983.9 799.98 L984.98 802.5 L986.06 802.5 L987.14 802.5 L988.22 802.5 L989.3 802.5 L990.38 802.5 L991.46 802.5 L992.54 802.5 L993.62 802.5 L994.7 802.5 L995.78 802.5 L996.86 802.5 L997.94 802.5 L999.02 801.62 L1000.1 800.02 L1001.18 798.42 L1002.26 796.83 L1003.34 795.48 L1004.42 797.08 L1005.5 798.68 L1006.58 799.42 L1007.66 799.63 L1008.74 798.19 L1009.82 798.03 L1010.9 797.87 L1011.98 798.25 L1013.06 799.8 L1014.14 801.34 L1015.22 802.5 L1016.3 802.5 L1017.38 802.5 L1018.46 802.5 L1019.54 802.5 L1020.62 802.5 L1021.7 800.82 L1022.78 799.12 L1023.86 797.55 L1024.94 799.25 L1026.02 800.95 L1027.1 802.5 L1028.18 802.5 L1029.26 802.5 L1030.34 802.5 L1031.42 802.5 L1032.5 802.5 L1033.58 802.5 L1034.66 802.14 L1035.74 798.73 L1036.82 793.84 L1037.9 792.06 L1038.98 796.13 L1040.06 798.13 L1041.14 798.78 L1042.22 799.54 L1043.3 800.99 L1044.38 802.44 L1045.46 802.5 L1046.54 802.5 L1047.62 802.5 L1048.7 802.5 L1049.78 802.5 L1050.86 802.5 L1051.94 802.5 L1053.02 802.5 L1054.1 802.5 L1055.18 802.5 L1056.26 802.5 L1057.34 802.5 L1058.42 802.5 L1059.5 800.29 L1060.58 793.78 L1061.66 787.27 L1062.74 787.57 L1063.82 788.86 L1064.9 790.85 L1065.98 794.1 L1067.06 799.26 L1068.14 801.11 L1069.22 802.5 L1070.3 802.5 L1071.38 802.15 L1072.46 799.94 L1073.54 795.3 L1074.62 791.53 L1075.7 796.16 L1076.78 800.44 L1077.86 802.5 L1078.94 802.5 L1080.02 802.5 L1081.1 802.5 L1082.18 802.5 L1083.26 802.5 L1084.34 802.5 L1085.42 802.5 L1086.5 802.5" fill="none" stroke="#ff0000" stroke-width="1" stroke-linejoin="round"/>
<path d="M978.5 801.35 L979.58 800.7 L980.66 800.81 L981.74 801.46 L982.82 801.25 L983.9 800.32 L984.98 798.99 L986.06 798.86 L987.14 800.19 L988.22 801.51 L989.3 802.5 L990.38 802.5 L991.46 801.86 L992.54 801.07 L993.62 799.3 L994.7 797.76 L995.78 797.21 L996.86 798.24 L997.94 800.39 L999.02 798.4 L1000.1 792.9 L1001.18 793.78 L1002.26 795.94 L1003.34 792.94 L1004.42 791.77 L1005.5 790.87 L1006.58 789.97 L1007.66 792.05 L1008.74 795.82 L1009.82 798.67 L1010.9 801.52 L1011.98 802.5 L1013.06 802.5 L1014.14 802.5 L1015.22 802.5 L1016.3 802.5 L1017.38 802.5 L1018.46 802.5 L1019.54 802.17 L1020.62 800.43 L1021.7 798.68 L1022.78 800.38 L1023.86 801.03 L1024.94 796.21 L1026.02 792.41 L1027.1 797.6 L1028.18 801.55 L1029.26 802.5 L1030.34 802.5 L1031.42 802.5 L1032.5 802.5 L1033.58 802.5 L1034.66 802.5 L1035.74 802.5 L1036.82 802.49 L1037.9 800.71 L1038.98 799.34 L1040.06 800.23 L1041.14 801.02 L1042.22 801.64 L1043.3 802.26 L1044.38 802.5 L1045.46 802.5 L1046.54 802.5 L1047.62 802.5 L1048.7 802.5 L1049.78 802.5 L1050.86 802.5 L1051.94 802.35 L1053.02 796.2 L1054.1 790.06 L1055.18 793.75 L1056.26 799.89 L1057.34 802.41 L1058.42 798.88 L1059.5 795.36 L1060.58 791.84 L1061.66 793.75 L1062.74 796.78 L1063.82 798.46 L1064.9 797.99 L1065.98 794.15 L1067.06 796.3 L1068.14 800.59 L1069.22 802.45 L1070.3 802.5 L1071.38 802.5 L1072.46 802.5 L1073.54 802.5 L1074.62 802.5 L1075.7 802.5 L1076.78 802.5 L1077.86 802.5 L1078.94 802.14 L1080.02 801.11 L1081.1 800.07 L1082.18 799.62 L1083.26 800.66 L1084.34 801.69 L1085.42 802.5 L1086.5 802.5" fill="none" stroke="#ff0000" stroke-width="1" stroke-linejoin="round"/>
<path d="M978.5 791.84 L979.58 789.83 L980.66 791.46 L981.74 792.27 L982.82 795.59 L983.9 800.9 L984.98 802.5 L986.06 802.5 L987.14 802.5 L988.22 802.5 L989.3 802.5 L990.38 802.5 L991.46 802.5 L992.54 802.5 L993.62 802.5 L994.7 802.5 L995.78 802.5 L996.86 802.49 L997.94 801.79 L999.02 801.08 L1000.1 800.77 L1001.18 801.48 L1002.26 802.18 L1003.34 802.5 L1004.42 802.15 L1005.5 801.4 L1006.58 800.12 L1007.66 798.65 L1008.74 796.59 L1009.82 796.91 L1010.9 799.12 L1011.98 801.34 L1013.06 801.57 L1014.14 799.26 L1015.22 796.94 L1016.3 796.22 L1017.38 798.53 L1018.46 800.85 L1019.54 802.5 L1020.62 802.5 L1021.7 802.5 L1022.78 802.5 L1023.86 802.5 L1024.94 801.5 L1026.02 798.79 L1027.1 797.79 L1028.18 797.39 L1029.26 798.11 L1030.34 800.82 L1031.42 802.5 L1032.5 802.5 L1033.58 802.5 L1034.66 802.5 L1035.74 802.5 L1036.82 802.5 L1037.9 802.5 L1038.98 801.99 L1040.06 798.7 L1041.14 795.42 L1042.22 795.67 L1043.3 798.95 L1044.38 801.23 L1045.46 802.5 L1046.54 802.5 L1047.62 802.5 L1048.7 802.5 L1049.78 802.5 L1050.86 802.5 L1051.94 801.57 L1053.02 800.41 L1054.1 799.25 L1055.18 799.67 L1056.26 800.83 L1057.34 798.33 L1058.42 788.23 L1059.5 777.62 L1060.58 776.06 L1061.66 786.67 L1062.74 797.28 L1063.82 802.5 L1064.9 800.1 L1065.98 796.58 L1067.06 793.05 L1068.14 792.35 L1069.22 795.35 L1070.3 798.74 L1071.38 800.88 L1072.46 801.62 L1073.54 802.5 L1074.62 802.5 L1075.7 802.5 L1076.78 802.5 L1077.86 801.13 L1078.94 799.5 L1080.02 799.7 L1081.1 800.38 L1082.18 799.64 L1083.26 797.74 L1084.34 798.07 L1085.42 799.97 L1086.5 801.87" fill="none" stroke="#ff0000" stroke-width="1" stroke-linejoin="round"/>
<path d="M978.5 791.45 L979.58 792.53 L980.66 794.83 L981.74 797.13 L982.82 799.51 L983.9 799.27 L984.98 798.77 L986.06 798.67 L987.14 800.03 L988.22 801.39 L989.3 802.5 L990.38 802.5 L991.46 802.5 L992.54 802.5 L993.62 802.5 L994.7 802.5 L995.78 801.65 L996.86 798.17 L997.94 794.69 L999.02 791.21 L1000.1 792.98 L1001.18 796.46 L1002.26 799.94 L1003.34 802.5 L1004.42 802.5 L1005.5 802.5 L1006.58 802.5 L1007.66 799.9 L1008.74 796.44 L1009.82 798.97 L1010.9 802.07 L1011.98 801.33 L1013.06 800.65 L1014.14 801.45 L1015.22 802.25 L1016.3 802.5 L1017.38 802.5 L1018.46 802.5 L1019.54 802.5 L1020.62 802.5 L1021.7 802.07 L1022.78 801.26 L1023.86 800.78 L1024.94 801.53 L1026.02 799.57 L1027.1 796.9 L1028.18 797.66 L1029.26 800.43 L1030.34 802.5 L1031.42 802.5 L1032.5 802.5 L1033.58 802.5 L1034.66 801.52 L1035.74 800.39 L1036.82 799.26 L1037.9 800.03 L1038.98 800.39 L1040.06 799.91 L1041.14 798.52 L1042.22 798.19 L1043.3 799.8 L1044.38 801.4 L1045.46 802.5 L1046.54 802.5 L1047.62 802.5 L1048.7 802.5 L1049.78 802.5 L1050.86 802.5 L1051.94 802.5 L1053.02 802.5 L1054.1 802.5 L1055.18 802.5 L1056.26 802.5 L1057.34 800.88 L1058.42 794.81 L1059.5 788.75 L1060.58 785.36 L1061.66 791.43 L1062.74 797.49 L1063.82 802.5 L1064.9 796.36 L1065.98 788.56 L1067.06 785.93 L1068.14 787.63 L1069.22 795.58 L1070.3 800.45 L1071.38 802.3 L1072.46 801.38 L1073.54 800.46 L1074.62 800.23 L1075.7 801.15 L1076.78 802.07 L1077.86 802.5 L1078.94 802.5 L1080.02 802.5 L1081.1 802.5 L1082.18 802.5 L1083.26 802.5 L1084.34 802.5 L1085.42 802.5 L1086.5 802.5" fill="none" stroke="#ff0000" stroke-width="1" stroke-linejoin="round"/>
<path d="M978.5 802.5 L979.58 802.5 L980.66 802.5 L981.74 802.34 L982.82 800.22 L983.9 798.55 L984.98 799.95 L986.06 801.79 L987.14 802.5 L988.22 801.46 L989.3 800.15 L990.38 799.79 L991.46 801.1 L992.54 802.42 L993.62 802.5 L994.7 802.5 L995.78 801.3 L996.86 799.54 L997.94 797.77 L999.02 796.01 L1000.1 795.62 L1001.18 797.38 L1002.26 799.14 L1003.34 800.91 L1004.42 802.5 L1005.5 802.5 L1006.58 802.5 L1007.66 802.5 L1008.74 802.5 L1009.82 802.5 L1010.9 802.31 L1011.98 800.09 L1013.06 797.88 L1014.14 796.2 L1015.22 798.28 L1016.3 798.78 L1017.38 798.93 L1018.46 797.55 L1019.54 798.39 L1020.62 798.28 L1021.7 798.15 L1022.78 798.46 L1023.86 800.29 L1024.94 801.93 L1026.02 802.5 L1027.1 802.5 L1028.18 802.5 L1029.26 802.5 L1030.34 802.5 L1031.42 802.5 L1032.5 802.5 L1033.58 802.5 L1034.66 802.5 L1035.74 802.5 L1036.82 802.5 L1037.9 802.5 L1038.98 799.82 L1040.06 796.64 L1041.14 799.06 L1042.22 799.44 L1043.3 796.46 L1044.38 794.13 L1045.46 796.24 L1046.54 799.48 L1047.62 801.68 L1048.7 802.5 L1049.78 802.5 L1050.86 802.5 L1051.94 802.5 L1053.02 802.38 L1054.1 799.19 L1055.18 796.01 L1056.26 794.99 L1057.34 793.38 L1058.42 787.09 L1059.5 778.77 L1060.58 782.43 L1061.66 791.9 L1062.74 801.29 L1063.82 797.38 L1064.9 792.33 L1065.98 784.44 L1067.06 783.18 L1068.14 784.79 L1069.22 795.14 L1070.3 801.51 L1071.38 797.46 L1072.46 794.78 L1073.54 800.45 L1074.62 802.5 L1075.7 800.15 L1076.78 796.59 L1077.86 794.88 L1078.94 796.77 L1080.02 800.13 L1081.1 801.91 L1082.18 802.5 L1083.26 802.5 L1084.34 802.5 L1085.42 802.5 L1086.5 802.5" fill="none" stroke="#ff0000" stroke-width="1" stroke-linejoin="round"/>
<path d="M978.5 800.27 L979.58 800.1 L980.66 801.62 L981.74 802.5 L982.82 802.23 L983.9 801.56 L984.98 800.89 L986.06 800.85 L987.14 800.57 L988.22 800.24 L989.3 801.15 L990.38 802.15 L991.46 802.5 L992.54 802.5 L993.62 802.5 L994.7 802.5 L995.78 802.5 L996.86 802.5 L997.94 802.5 L999.02 797.52 L1000.1 792.3 L1001.18 790.75 L1002.26 793.79 L1003.34 796.65 L1004.42 797.25 L1005.5 799.61 L1006.58 801.6 L1007.66 800.84 L1008.74 799.55 L1009.82 800.84 L1010.9 802.13 L1011.98 802.5 L1013.06 802.5 L1014.14 801.93 L1015.22 801.17 L1016.3 800.41 L1017.38 800.58 L1018.46 799.95 L1019.54 799.1 L1020.62 799.16 L1021.7 798.09 L1022.78 796.11 L1023.86 797.64 L1024.94 800.32 L1026.02 802.5 L1027.1 802.5 L1028.18 802.5 L1029.26 801.42 L1030.34 800.12 L1031.42 798.82 L1032.5 799.8 L1033.58 801.09 L1034.66 802.39 L1035.74 802.5 L1036.82 802.5 L1037.9 800.38 L1038.98 798.61 L1040.06 799.31 L1041.14 799.72 L1042.22 801.31 L1043.3 802.5 L1044.38 802.5 L1045.46 802.5 L1046.54 802.5 L1047.62 802.5 L1048.7 802.5 L1049.78 802.5 L1050.86 802.5 L1051.94 802.5 L1053.02 802.48 L1054.1 801.63 L1055.18 800.78 L1056.26 796.19 L1057.34 788.01 L1058.42 787.67 L1059.5 789.97 L1060.58 787.82 L1061.66 790.43 L1062.74 794.25 L1063.82 796.73 L1064.9 798.25 L1065.98 796.11 L1067.06 796.45 L1068.14 798.64 L1069.22 800.82 L1070.3 802.5 L1071.38 802.5 L1072.46 802.5 L1073.54 802.5 L1074.62 802.5 L1075.7 802.5 L1076.78 802.5 L1077.86 802.5 L1078.94 802.5 L1080.02 802.5 L1081.1 802.48 L1082.18 798.59 L1083.26 794.29 L1084.34 795.42 L1085.42 799.72 L1086.5 801.99" fill="none" stroke="#ff0000" stroke-width="1" stroke-linejoin="round"/>
<path d="M978.5 789.35 L979.58 785.38 L980.66 792.54 L981.74 798.25 L982.82 801 L983.9 802.5 L984.98 802.5 L986.06 802.5 L987.14 802.5 L988.22 802.5 L989.3 802.5 L990.38 802.5 L991.46 802.45 L992.54 801.36 L993.62 800.27 L994.7 800.75 L995.78 799.79 L996.86 795.64 L997.94 790.82 L999.02 786 L1000.1 789.03 L1001.18 793.85 L1002.26 798.67 L1003.34 802.5 L1004.42 802.5 L1005.5 801.37 L1006.58 799.37 L1007.66 797.37 L1008.74 795.37 L1009.82 794.37 L1010.9 792.9 L1011.98 796.63 L1013.06 801.87 L1014.14 802.5 L1015.22 802.5 L1016.3 802.5 L1017.38 802.5 L1018.46 801.09 L1019.54 797.98 L1020.62 800.63 L1021.7 802.5 L1022.78 800.62 L1023.86 797.36 L1024.94 794.1 L1026.02 793.65 L1027.1 796.91 L1028.18 800.17 L1029.26 802.03 L1030.34 802.5 L1031.42 802.5 L1032.5 802.5 L1033.58 802.5 L1034.66 802.5 L1035.74 802.5 L1036.82 800.91 L1037.9 798.79 L1038.98 796.67 L1040.06 796.88 L1041.14 794.13 L1042.22 793.18 L1043.3 797.29 L1044.38 801.3 L1045.46 802.28 L1046.54 802.5 L1047.62 802.5 L1048.7 802.5 L1049.78 802.5 L1050.86 802.5 L1051.94 802.5 L1053.02 802.5 L1054.1 802.5 L1055.18 802.5 L1056.26 795.78 L1057.34 787.68 L1058.42 779.58 L1059.5 774.79 L1060.58 782.89 L1061.66 790.99 L1062.74 799.09 L1063.82 798.5 L1064.9 793.6 L1065.98 788.71 L1067.06 789.32 L1068.14 787.83 L1069.22 795.97 L1070.3 799.34 L1071.38 800.53 L1072.46 801.86 L1073.54 802.5 L1074.62 802.5 L1075.7 802.5 L1076.78 802 L1077.86 800.27 L1078.94 798.73 L1080.02 800.47 L1081.1 800.43 L1082.18 798.39 L1083.26 794.75 L1084.34 794.05 L1085.42 794.88 L1086.5 799.64" fill="none" stroke="#ff0000" stroke-width="1" stroke-linejoin="round"/>
<path d="M978.5 793.91 L979.58 790.04 L980.66 792.49 L981.74 794.8 L982.82 797.1 L983.9 798.55 L984.98 800.13 L986.06 801.72 L987.14 802.5 L988.22 802.5 L989.3 802.5 L990.38 802.5 L991.46 802.5 L992.54 802.5 L993.62 802.5 L994.7 802.5 L995.78 800.75 L996.86 798.96 L997.94 797.41 L999.02 799.2 L1000.1 801 L1001.18 800.74 L1002.26 797.27 L1003.34 793.81 L1004.42 791.8 L1005.5 795.26 L1006.58 798.73 L1007.66 802.2 L1008.74 802.5 L1009.82 802.5 L1010.9 802.5 L1011.98 802.5 L1013.06 802.4 L1014.14 801.27 L1015.22 796.85 L1016.3 792.25 L1017.38 790.6 L1018.46 793.98 L1019.54 798.42 L1020.62 801.43 L1021.7 802.5 L1022.78 802.5 L1023.86 802.5 L1024.94 801.68 L1026.02 800.82 L1027.1 800.31 L1028.18 801.17 L1029.26 802.03 L1030.34 802.5 L1031.42 802.5 L1032.5 802.5 L1033.58 802.5 L1034.66 802.5 L1035.74 802.5 L1036.82 802.44 L1037.9 798.74 L1038.98 797.71 L1040.06 801.41 L1041.14 802.5 L1042.22 802.5 L1043.3 802.5 L1044.38 802.5 L1045.46 802.5 L1046.54 802.5 L1047.62 802.5 L1048.7 802.5 L1049.78 802.5 L1050.86 802.5 L1051.94 802.5 L1053.02 802.5 L1054.1 802.5 L1055.18 802.5 L1056.26 802.5 L1057.34 802.5 L1058.42 797.48 L1059.5 784.32 L1060.58 776.86 L1061.66 773.45 L1062.74 778.56 L1063.82 780.92 L1064.9 788.06 L1065.98 793.28 L1067.06 798.08 L1068.14 801.2 L1069.22 801.41 L1070.3 800.42 L1071.38 799.44 L1072.46 800.38 L1073.54 800.1 L1074.62 798.55 L1075.7 798 L1076.78 800.53 L1077.86 802.5 L1078.94 802.5 L1080.02 802.5 L1081.1 802.5 L1082.18 801.21 L1083.26 799.34 L1084.34 798 L1085.42 799.87 L1086.5 801.73" fill="none" stroke="#ff0000" stroke-width="1" stroke-linejoin="round"/>
<path d="M978.5 802.5 L979.58 802.5 L980.66 802.5 L981.74 802.5 L982.82 800.39 L983.9 797.33 L984.98 795.77 L986.06 797.71 L987.14 801.46 L988.22 802.5 L989.3 802.5 L990.38 802.5 L991.46 801.98 L992.54 800.44 L993.62 798.91 L994.7 797.44 L995.78 798.98 L996.86 800.51 L997.94 802.05 L999.02 802.5 L1000.1 802.5 L1001.18 802.5 L1002.26 802.5 L1003.34 802.5 L1004.42 802.5 L1005.5 802.5 L1006.58 802.5 L1007.66 801.23 L1008.74 799.28 L1009.82 797.34 L1010.9 796.45 L1011.98 797.04 L1013.06 800.7 L1014.14 800.38 L1015.22 798.15 L1016.3 800.41 L1017.38 802.5 L1018.46 802.5 L1019.54 802.5 L1020.62 802.5 L1021.7 802.5 L1022.78 802.5 L1023.86 802.5 L1024.94 802.5 L1026.02 802.5 L1027.1 802 L1028.18 800.77 L1029.26 799.54 L1030.34 798.31 L1031.42 799.41 L1032.5 800.64 L1033.58 801.87 L1034.66 802.5 L1035.74 802.5 L1036.82 802.5 L1037.9 802.5 L1038.98 802.5 L1040.06 802.18 L1041.14 800.08 L1042.22 797.98 L1043.3 796.88 L1044.38 798.98 L1045.46 801.09 L1046.54 802.5 L1047.62 802.5 L1048.7 802.5 L1049.78 802.5 L1050.86 802.5 L1051.94 802.5 L1053.02 802.5 L1054.1 802.5 L1055.18 801.26 L1056.26 800.44 L1057.34 800.97 L1058.42 797.03 L1059.5 789.56 L1060.58 783.92 L1061.66 786.31 L1062.74 790.78 L1063.82 793.34 L1064.9 795.34 L1065.98 799.34 L1067.06 802.5 L1068.14 802.5 L1069.22 802.5 L1070.3 802.5 L1071.38 802.5 L1072.46 802.5 L1073.54 801.49 L1074.62 800.03 L1075.7 801.57 L1076.78 800.61 L1077.86 797.83 L1078.94 797.52 L1080.02 800.3 L1081.1 802.33 L1082.18 800.32 L1083.26 799.32 L1084.34 801.33 L1085.42 802.5 L1086.5 802.5" fill="none" stroke="#ff0000" stroke-width="1" stroke-linejoin="round"/>
<path d="M978.5 802.5 L979.58 800.54 L980.66 798.45 L981.74 798.37 L982.82 800.47 L983.9 802.5 L984.98 802.5 L986.06 802.5 L987.14 802.5 L988.22 802.5 L989.3 802.5 L990.38 802.08 L991.46 801.47 L992.54 801.01 L993.62 801.63 L994.7 802.24 L995.78 802.5 L996.86 802.5 L997.94 802.5 L999.02 800.69 L1000.1 798.83 L1001.18 796.98 L1002.26 794.51 L1003.34 794.66 L1004.42 796.65 L1005.5 799.29 L1006.58 801.62 L1007.66 802.5 L1008.74 802.5 L1009.82 802.5 L1010.9 802.5 L1011.98 800.22 L1013.06 796.9 L1014.14 795.75 L1015.22 799.07 L1016.3 801.72 L1017.38 802.5 L1018.46 802.5 L1019.54 802.41 L1020.62 800.58 L1021.7 797.74 L1022.78 797.77 L1023.86 797.42 L1024.94 798.91 L1026.02 800.55 L1027.1 802.19 L1028.18 802.5 L1029.26 802.5 L1030.34 802.5 L1031.42 802.5 L1032.5 802.5 L1033.58 802.5 L1034.66 801.11 L1035.74 799.66 L1036.82 799.86 L1037.9 801.31 L1038.98 802.5 L1040.06 802.5 L1041.14 802.5 L1042.22 801.34 L1043.3 800.07 L1044.38 798.91 L1045.46 800.18 L1046.54 801.46 L1047.62 802.5 L1048.7 802.5 L1049.78 802.5 L1050.86 802.5 L1051.94 802.5 L1053.02 801.83 L1054.1 794.11 L1055.18 783.99 L1056.26 780.7 L1057.34 787.62 L1058.42 791.42 L1059.5 793.63 L1060.58 794.79 L1061.66 794.87 L1062.74 789.27 L1063.82 785.36 L1064.9 791.56 L1065.98 799.55 L1067.06 802.5 L1068.14 802.5 L1069.22 802.5 L1070.3 802.5 L1071.38 802.48 L1072.46 801.57 L1073.54 800.67 L1074.62 800.99 L1075.7 801.9 L1076.78 802.5 L1077.86 802.5 L1078.94 802.5 L1080.02 802.18 L1081.1 801.05 L1082.18 800.22 L1083.26 801.35 L1084.34 802.48 L1085.42 802.5 L1086.5 802.5" fill="none" stroke="#ff0000" stroke-width="1" stroke-linejoin="round"/>
<path d="M978.5 791.61 L979.58 791.02 L980.66 790.98 L981.74 790.93 L982.82 795.66 L983.9 800.37 L984.98 802.5 L986.06 802.5 L987.14 802.46 L988.22 801.94 L989.3 801.42 L990.38 800.9 L991.46 801.08 L992.54 801.6 L993.62 802.12 L994.7 802.5 L995.78 802.5 L996.86 802.5 L997.94 802.5 L999.02 800.16 L1000.1 796.63 L1001.18 793.1 L1002.26 795.48 L1003.34 799.02 L1004.42 802.21 L1005.5 802.5 L1006.58 802.5 L1007.66 802.5 L1008.74 802.5 L1009.82 802.5 L1010.9 802.5 L1011.98 802.5 L1013.06 802.5 L1014.14 802.5 L1015.22 802.5 L1016.3 799.24 L1017.38 795.51 L1018.46 797.69 L1019.54 801.43 L1020.62 802.5 L1021.7 802.5 L1022.78 802.5 L1023.86 802.5 L1024.94 802.5 L1026.02 802.5 L1027.1 802.5 L1028.18 802.5 L1029.26 802.5 L1030.34 802.5 L1031.42 802.5 L1032.5 802.5 L1033.58 802.5 L1034.66 802.5 L1035.74 802.5 L1036.82 802.5 L1037.9 802.5 L1038.98 802.5 L1040.06 802.5 L1041.14 802.5 L1042.22 802.5 L1043.3 802.5 L1044.38 802.5 L1045.46 802.5 L1046.54 802.5 L1047.62 802.5 L1048.7 802.5 L1049.78 802.5 L1050.86 802.5 L1051.94 802.5 L1053.02 802.5 L1054.1 802.5 L1055.18 801.49 L1056.26 800.21 L1057.34 796.13 L1058.42 789.87 L1059.5 782.61 L1060.58 781.99 L1061.66 783.56 L1062.74 786.1 L1063.82 787.68 L1064.9 788.86 L1065.98 795.57 L1067.06 799.64 L1068.14 802.5 L1069.22 802.5 L1070.3 802.5 L1071.38 802.5 L1072.46 802.5 L1073.54 802.5 L1074.62 802.5 L1075.7 802.5 L1076.78 802.5 L1077.86 802.5 L1078.94 801.22 L1080.02 799.76 L1081.1 801.43 L1082.18 802.5 L1083.26 802.5 L1084.34 802.5 L1085.42 802.5 L1086.5 802.5" fill="none" stroke="#ff0000" stroke-width="1" stroke-linejoin="round"/>
<path d="M978.5 798.38 L979.58 797.66 L980.66 798.86 L981.74 800.05 L982.82 801.25 L983.9 801.34 L984.98 800.11 L986.06 799.36 L987.14 800.65 L988.22 801.94 L989.3 802.5 L990.38 802.5 L991.46 802.5 L992.54 801.73 L993.62 800.89 L994.7 800.05 L995.78 800.26 L996.86 801.1 L997.94 801.85 L999.02 800.34 L1000.1 798.27 L1001.18 796.2 L1002.26 794.4 L1003.34 796.47 L1004.42 798.54 L1005.5 800.61 L1006.58 802.5 L1007.66 802.5 L1008.74 802.5 L1009.82 802.5 L1010.9 802.5 L1011.98 802.5 L1013.06 800.48 L1014.14 797.55 L1015.22 797.48 L1016.3 796.78 L1017.38 795.31 L1018.46 797.52 L1019.54 799.74 L1020.62 800.93 L1021.7 800.2 L1022.78 798.91 L1023.86 799.54 L1024.94 799.16 L1026.02 798.54 L1027.1 797.93 L1028.18 799.59 L1029.26 801.49 L1030.34 802.5 L1031.42 802.5 L1032.5 802.5 L1033.58 802.5 L1034.66 802.5 L1035.74 802.5 L1036.82 802.5 L1037.9 801.22 L1038.98 799.37 L1040.06 800.22 L1041.14 802.08 L1042.22 800.27 L1043.3 796.39 L1044.38 797.45 L1045.46 800.99 L1046.54 802.15 L1047.62 802.5 L1048.7 802.5 L1049.78 802.5 L1050.86 802.5 L1051.94 802.5 L1053.02 801.93 L1054.1 797.89 L1055.18 797.36 L1056.26 800.4 L1057.34 798.17 L1058.42 791.58 L1059.5 784.99 L1060.58 789.52 L1061.66 796.11 L1062.74 799.7 L1063.82 800.73 L1064.9 799.51 L1065.98 798.63 L1067.06 800.61 L1068.14 802.5 L1069.22 802.5 L1070.3 802.5 L1071.38 802.5 L1072.46 800.15 L1073.54 796.91 L1074.62 799.87 L1075.7 802.5 L1076.78 802.21 L1077.86 801.61 L1078.94 801.01 L1080.02 801.47 L1081.1 802.07 L1082.18 802.5 L1083.26 802.5 L1084.34 802.5 L1085.42 802.5 L1086.5 802.5" fill="none" stroke="#ff0000" stroke-width="1" stroke-linejoin="round"/>
<path d="M978.5 802.5 L979.58 802.5 L980.66 802.5 L981.74 802.5 L982.82 802.5 L983.9 802.5 L984.98 802.5 L986.06 802.5 L987.14 802.5 L988.22 802.5 L989.3 802.5 L990.38 802.5 L991.46 802.5 L992.54 802.5 L993.62 802.5 L994.7 802.16 L995.78 798.63 L996.86 794.24 L997.94 789.85 L999.02 786.01 L1000.1 789.45 L1001.18 789.88 L1002.26 791.99 L1003.34 799.78 L1004.42 802.5 L1005.5 802.5 L1006.58 802.5 L1007.66 802.5 L1008.74 802.5 L1009.82 802.5 L1010.9 802.5 L1011.98 802.5 L1013.06 801.7 L1014.14 799.66 L1015.22 797.62 L1016.3 797.04 L1017.38 799.08 L1018.46 801.12 L1019.54 802.5 L1020.62 802.5 L1021.7 802.5 L1022.78 802.5 L1023.86 802.5 L1024.94 802.5 L1026.02 802.5 L1027.1 802.5 L1028.18 802.5 L1029.26 802.5 L1030.34 802.5 L1031.42 802.5 L1032.5 802.5 L1033.58 802.5 L1034.66 802.5 L1035.74 802.5 L1036.82 802.5 L1037.9 801.84 L1038.98 799.48 L1040.06 798.12 L1041.14 800.07 L1042.22 800.38 L1043.3 798.68 L1044.38 798.76 L1045.46 800.46 L1046.54 802.17 L1047.62 802.5 L1048.7 802.5 L1049.78 802.5 L1050.86 802.5 L1051.94 802.5 L1053.02 802.5 L1054.1 802.5 L1055.18 799.15 L1056.26 786.33 L1057.34 780.97 L1058.42 793.78 L1059.5 802.5 L1060.58 802.5 L1061.66 802.5 L1062.74 802.5 L1063.82 802.5 L1064.9 802.5 L1065.98 802.5 L1067.06 802.5 L1068.14 802.14 L1069.22 799.46 L1070.3 796.79 L1071.38 794.12 L1072.46 796.66 L1073.54 799.33 L1074.62 801.67 L1075.7 800.29 L1076.78 798.41 L1077.86 797.56 L1078.94 798.47 L1080.02 799.39 L1081.1 800.43 L1082.18 801.4 L1083.26 802.36 L1084.34 802.5 L1085.42 802.5 L1086.5 802.5" fill="none" stroke="#ff0000" stroke-width="1" stroke-linejoin="round"/>
<path d="M978.5 802.5 L979.58 802.05 L980.66 801.17 L981.74 800.3 L982.82 801.13 L983.9 800.2 L984.98 798.79 L986.06 797.12 L987.14 799.03 L988.22 800.94 L989.3 802.44 L990.38 801.38 L991.46 800.35 L992.54 801.42 L993.62 802.49 L994.7 802.5 L995.78 801.69 L996.86 800.71 L997.94 800.59 L999.02 801.58 L1000.1 801.84 L1001.18 800 L1002.26 798.16 L1003.34 795.69 L1004.42 792.31 L1005.5 791.67 L1006.58 793.86 L1007.66 798.19 L1008.74 800.21 L1009.82 796.52 L1010.9 792.55 L1011.98 794.63 L1013.06 796.06 L1014.14 797.03 L1015.22 799.57 L1016.3 801.43 L1017.38 798.6 L1018.46 794.34 L1019.54 794.36 L1020.62 798.63 L1021.7 799.71 L1022.78 798.33 L1023.86 800.69 L1024.94 802.5 L1026.02 802.5 L1027.1 802.5 L1028.18 802.5 L1029.26 802.5 L1030.34 802.5 L1031.42 802.5 L1032.5 802.5 L1033.58 802.5 L1034.66 802.21 L1035.74 799.91 L1036.82 797.61 L1037.9 799.4 L1038.98 801.7 L1040.06 801.62 L1041.14 798.33 L1042.22 799.23 L1043.3 802.5 L1044.38 802.5 L1045.46 802.5 L1046.54 802.5 L1047.62 802.5 L1048.7 802.5 L1049.78 802.5 L1050.86 802.5 L1051.94 802.5 L1053.02 802.5 L1054.1 802.5 L1055.18 802.5 L1056.26 802.5 L1057.34 802.5 L1058.42 802.5 L1059.5 802.5 L1060.58 796.5 L1061.66 790.39 L1062.74 795.12 L1063.82 801.23 L1064.9 802.5 L1065.98 799.97 L1067.06 796.62 L1068.14 793.27 L1069.22 795.75 L1070.3 799.09 L1071.38 802.44 L1072.46 802.5 L1073.54 802.45 L1074.62 801.18 L1075.7 798.94 L1076.78 794.77 L1077.86 794.34 L1078.94 797.34 L1080.02 799.96 L1081.1 801.74 L1082.18 802.5 L1083.26 802.5 L1084.34 802.5 L1085.42 802.5 L1086.5 802.5" fill="none" stroke="#ff0000" stroke-width="1" stroke-linejoin="round"/>
<path d="M978.5 795.53 L979.58 793.03 L980.66 791.21 L981.74 793.72 L982.82 793.41 L983.9 791.47 L984.98 792.35 L986.06 797.4 L987.14 800.35 L988.22 802.37 L989.3 802.5 L990.38 802.5 L991.46 802.5 L992.54 802.5 L993.62 802.5 L994.7 802.5 L995.78 802.5 L996.86 802.5 L997.94 802.5 L999.02 802.5 L1000.1 802.42 L1001.18 801.63 L1002.26 799.02 L1003.34 797.08 L1004.42 795.36 L1005.5 793.16 L1006.58 793.68 L1007.66 792.49 L1008.74 791.3 L1009.82 795.51 L1010.9 799.65 L1011.98 802.5 L1013.06 802.5 L1014.14 802.5 L1015.22 802.5 L1016.3 802.5 L1017.38 802.5 L1018.46 802.5 L1019.54 801.74 L1020.62 800.85 L1021.7 801.21 L1022.78 799.13 L1023.86 796.45 L1024.94 798.62 L1026.02 801.53 L1027.1 800.05 L1028.18 799.31 L1029.26 801.71 L1030.34 802.5 L1031.42 802.5 L1032.5 802.5 L1033.58 802.5 L1034.66 802.5 L1035.74 802.5 L1036.82 802.5 L1037.9 802.5 L1038.98 802.5 L1040.06 801.9 L1041.14 798.88 L1042.22 793.83 L1043.3 791.52 L1044.38 795.78 L1045.46 800.48 L1046.54 802.5 L1047.62 802.5 L1048.7 802.5 L1049.78 802.5 L1050.86 802.5 L1051.94 802.5 L1053.02 802.5 L1054.1 802.5 L1055.18 802.5 L1056.26 802.5 L1057.34 802.5 L1058.42 802.5 L1059.5 802.5 L1060.58 802.5 L1061.66 802.5 L1062.74 802.5 L1063.82 802.5 L1064.9 802.5 L1065.98 802.5 L1067.06 802.5 L1068.14 800.89 L1069.22 799.17 L1070.3 799.39 L1071.38 801.1 L1072.46 802.5 L1073.54 802.5 L1074.62 802.5 L1075.7 800.47 L1076.78 797.12 L1077.86 799.19 L1078.94 800.78 L1080.02 799.64 L1081.1 798.74 L1082.18 800.54 L1083.26 802.04 L1084.34 802.5 L1085.42 802.5 L1086.5 802.5" fill="none" stroke="#ff0000" stroke-width="1" stroke-linejoin="round"/>
<path d="M978.5 802.5 L979.58 801.45 L980.66 800.4 L981.74 799.51 L982.82 797.74 L983.9 796.85 L984.98 797.67 L986.06 799.33 L987.14 800.15 L988.22 801.19 L989.3 802.23 L990.38 802.23 L991.46 802.23 L992.54 802.23 L993.62 802.24 L994.7 802.24 L995.78 802.25 L996.86 802.25 L997.94 802.26 L999.02 802.26 L1000.1 802.27 L1001.18 802.27 L1002.26 802.28 L1003.34 802.28 L1004.42 802.28 L1005.5 802.08 L1006.58 801.6 L1007.66 801.12 L1008.74 800.92 L1009.82 801.12 L1010.9 801.61 L1011.98 802.09 L1013.06 802.29 L1014.14 802.29 L1015.22 802.29 L1016.3 802.28 L1017.38 802.27 L1018.46 802.26 L1019.54 802.25 L1020.62 802.25 L1021.7 802.24 L1022.78 801.38 L1023.86 799.28 L1024.94 797.18 L1026.02 796.31 L1027.1 797.29 L1028.18 799.25 L1029.26 800.23 L1030.34 800.39 L1031.42 800.7 L1032.5 800.86 L1033.58 800.67 L1034.66 800.29 L1035.74 800.1 L1036.82 799.9 L1037.9 799.39 L1038.98 798.89 L1040.06 798.68 L1041.14 799.34 L1042.22 800.65 L1043.3 801.31 L1044.38 801.77 L1045.46 802.23 L1046.54 802.23 L1047.62 802.23 L1048.7 802.23 L1049.78 802.23 L1050.86 802.24 L1051.94 802.24 L1053.02 799.82 L1054.1 794.98 L1055.18 792.56 L1056.26 787.41 L1057.34 777.1 L1058.42 771.95 L1059.5 775.82 L1060.58 783.57 L1061.66 787.44 L1062.74 790.62 L1063.82 796.99 L1064.9 800.17 L1065.98 801.24 L1067.06 802.31 L1068.14 802.29 L1069.22 802.23 L1070.3 802.16 L1071.38 802.11 L1072.46 802.09 L1073.54 800.83 L1074.62 798.33 L1075.7 797.07 L1076.78 794.34 L1077.86 791.61 L1078.94 793.87 L1080.02 796.14 L1081.1 797.69 L1082.18 800.79 L1083.26 802.34 L1084.34 802.33 L1085.42 802.32 L1086.5 802.32" fill="none" stroke="#0000ff" stroke-width="1" stroke-linejoin="round"/>
<path d="M978.5 802.5 L979.58 801.56 L980.66 800.63 L981.74 799.71 L982.82 797.88 L983.9 796.96 L984.98 797.72 L986.06 799.26 L987.14 800.02 L988.22 801.13 L989.3 802.24 L990.38 802.24 L991.46 802.24 L992.54 802.25 L993.62 802.26 L994.7 802.27 L995.78 802.28 L996.86 802.29 L997.94 802.3 L999.02 802.31 L1000.1 802.32 L1001.18 802.32 L1002.26 802.33 L1003.34 802.33 L1004.42 802.33 L1005.5 802.12 L1006.58 801.61 L1007.66 801.1 L1008.74 800.89 L1009.82 801.1 L1010.9 801.61 L1011.98 802.12 L1013.06 802.33 L1014.14 802.33 L1015.22 802.32 L1016.3 802.32 L1017.38 802.31 L1018.46 802.3 L1019.54 802.3 L1020.62 802.29 L1021.7 802.29 L1022.78 801.71 L1023.86 800.31 L1024.94 798.91 L1026.02 798.33 L1027.1 798.64 L1028.18 799.26 L1029.26 799.57 L1030.34 799.65 L1031.42 799.81 L1032.5 799.88 L1033.58 799.88 L1034.66 799.88 L1035.74 799.88 L1036.82 799.55 L1037.9 798.76 L1038.98 797.97 L1040.06 797.65 L1041.14 798.52 L1042.22 800.26 L1043.3 801.14 L1044.38 801.72 L1045.46 802.31 L1046.54 802.31 L1047.62 802.29 L1048.7 802.28 L1049.78 802.27 L1050.86 802.26 L1051.94 802.25 L1053.02 799.9 L1054.1 795.21 L1055.18 792.86 L1056.26 786.82 L1057.34 774.73 L1058.42 768.69 L1059.5 774.55 L1060.58 786.27 L1061.66 792.13 L1062.74 794.16 L1063.82 798.22 L1064.9 800.25 L1065.98 801.29 L1067.06 802.33 L1068.14 802.3 L1069.22 802.24 L1070.3 802.16 L1071.38 802.1 L1072.46 802.07 L1073.54 800.84 L1074.62 798.36 L1075.7 797.13 L1076.78 794.96 L1077.86 792.78 L1078.94 795.52 L1080.02 798.26 L1081.1 799.27 L1082.18 801.3 L1083.26 802.31 L1084.34 802.3 L1085.42 802.27 L1086.5 802.26" fill="none" stroke="#0000ff" stroke-width="1" stroke-linejoin="round"/>
<path d="M978.5 802.5 L979.58 801.07 L980.66 799.64 L981.74 798.57 L982.82 796.42 L983.9 795.35 L984.98 796.42 L986.06 798.57 L987.14 799.64 L988.22 800.93 L989.3 802.21 L990.38 802.21 L991.46 802.21 L992.54 802.21 L993.62 802.21 L994.7 802.21 L995.78 802.21 L996.86 802.21 L997.94 802.21 L999.02 802.21 L1000.1 802.21 L1001.18 802.21 L1002.26 802.21 L1003.34 802.21 L1004.42 802.21 L1005.5 801.94 L1006.58 801.28 L1007.66 800.63 L1008.74 800.36 L1009.82 800.63 L1010.9 801.28 L1011.98 801.94 L1013.06 802.21 L1014.14 802.21 L1015.22 802.21 L1016.3 802.21 L1017.38 802.21 L1018.46 802.21 L1019.54 802.21 L1020.62 802.21 L1021.7 802.21 L1022.78 801.21 L1023.86 798.78 L1024.94 796.36 L1026.02 795.35 L1027.1 796.24 L1028.18 798.03 L1029.26 798.92 L1030.34 799.1 L1031.42 799.46 L1032.5 799.64 L1033.58 799.64 L1034.66 799.64 L1035.74 799.64 L1036.82 799.12 L1037.9 797.85 L1038.98 796.59 L1040.06 796.07 L1041.14 797.32 L1042.22 799.82 L1043.3 801.07 L1044.38 801.64 L1045.46 802.21 L1046.54 802.21 L1047.62 802.21 L1048.7 802.21 L1049.78 802.21 L1050.86 802.21 L1051.94 802.21 L1053.02 798.71 L1054.1 791.7 L1055.18 788.2 L1056.26 782.48 L1057.34 771.04 L1058.42 765.32 L1059.5 770.33 L1060.58 780.34 L1061.66 785.34 L1062.74 788.91 L1063.82 796.07 L1064.9 799.64 L1065.98 800.93 L1067.06 802.21 L1068.14 802.17 L1069.22 802.07 L1070.3 801.93 L1071.38 801.83 L1072.46 801.78 L1073.54 800.18 L1074.62 796.96 L1075.7 795.35 L1076.78 792.49 L1077.86 789.63 L1078.94 792.49 L1080.02 795.35 L1081.1 797.07 L1082.18 800.5 L1083.26 802.21 L1084.34 802.21 L1085.42 802.21 L1086.5 802.21" fill="none" stroke="#0000ff" stroke-width="1" stroke-linejoin="round"/>
<rect x="978" y="737" width="1" height="66" fill="#000"/>
<rect x="978" y="802" width="109" height="1" fill="#000"/>
<rect x="978" y="737" width="109" height="1" fill="#000"/>
<rect x="1086" y="737" width="1" height="66" fill="#000"/>
<rect x="1032" y="801" width="1" height="2" fill="#000"/>
<rect x="1032" y="737" width="1" height="2" fill="#000"/>
<rect x="978" y="769" width="2" height="1" fill="#000"/>
<rect x="1085" y="769" width="2" height="1" fill="#000"/>
<text transform="translate(1030 731) scale(1 1.2)" text-anchor="middle">TonicStim1.5V</text>
<g clip-path="url(#lc7)">
<text transform="translate(971 742) scale(1 1.2)" text-anchor="end">20</text>
<text transform="translate(971 807) scale(1 1.2)" text-anchor="end">0</text>
</g>
<text transform="translate(977.5 820) scale(1 1.2)" text-anchor="middle">0</text>
<text transform="translate(1031.5 820) scale(1 1.2)" text-anchor="middle">50</text>
<text transform="translate(1085.5 820) scale(1 1.2)" text-anchor="middle">100</text>
</svg>
</body></html>
